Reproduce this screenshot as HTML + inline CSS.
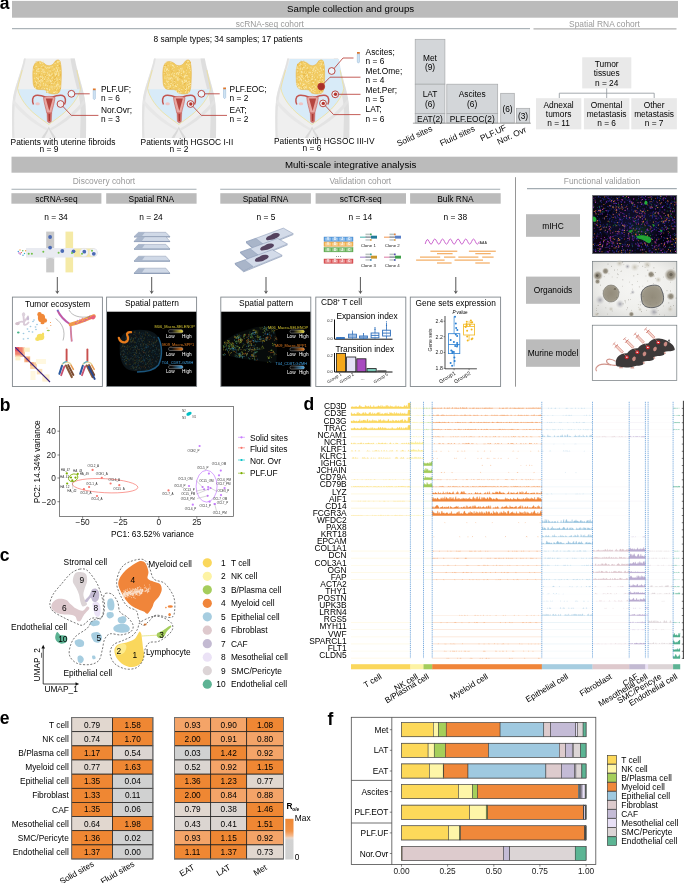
<!DOCTYPE html>
<html lang="en"><head><meta charset="utf-8"><title>Figure 1</title>
<style>html,body{margin:0;padding:0;background:#fff}svg{display:block}text{font-family:"Liberation Sans",sans-serif}</style></head>
<body>
<svg width="685" height="883" viewBox="0 0 685 883" font-family="Liberation Sans, sans-serif">
<rect width="685" height="883" fill="#fff"/>
<text x="-0.2" y="9.2" font-size="17.5" font-weight="bold">a</text>
<rect x="12.0" y="0.9" width="666.0" height="16.8" fill="#bbbbbb"/>
<text x="350.6" y="12.4" font-size="9.7" text-anchor="middle">Sample collection and groups</text>
<text x="269.8" y="26.6" font-size="8.4" text-anchor="middle" fill="#999">scRNA-seq cohort</text>
<line x1="12.0" y1="28.7" x2="530.0" y2="28.7" stroke="#98a2a8" stroke-width="1.0"/>
<text x="604.5" y="26.6" font-size="8.4" text-anchor="middle" fill="#999">Spatial RNA cohort</text>
<line x1="533.5" y1="28.9" x2="676.5" y2="28.9" stroke="#b0b0b0" stroke-width="1.1"/>
<text x="153.5" y="42.1" font-size="8.37">8 sample types; 34 samples; 17 patients</text>
<g transform="translate(0 0)">
<path d="M24 58.5H74.8C76.5 70 82 84 84.6 98C86.5 110 86.2 124 86 138H12.3C12 124 11.5 110 13 98C15.5 84 22 70 24 58.5Z" fill="#efefef"/>
<path d="M70.5 58.5H74.8C76.5 70 82 84 84.6 98C86.5 110 86.2 124 86 138H80C80.5 120 81.5 108 79 97C76 84 72 70 70.5 58.5Z" fill="#dedede"/>
<path d="M24 58.5C22 70 15.5 84 13 98C11.5 110 12 124 12.3 138H14.5C14 122 14 108 15.5 98C18 84 24 70 25.8 58.5Z" fill="#e2e2e2"/>
<path d="M48.8 126.5C46.5 131 43.5 134.5 41.5 138H44.5C46 134.5 48 131.5 48.8 129C49.6 131.5 51.6 134.5 53 138H56C54 134.5 51 131 48.8 126.5Z" fill="#d9d9d9"/>
<path d="M13.5 99C20 108 33 120 47.6 128.5L46.5 130.5C32 123 19 112 12.8 103Z" fill="#e7e7e7"/>
<path d="M84.3 99C78 108 65 120 50 128.5L51.1 130.5C65.5 123 78.5 112 85 103Z" fill="#e3e3e3"/>
<path d="M17.7 89.3H80.4C79 97.5 70.5 108 61.5 115C56.5 119 52 122 48.8 124.5C45.5 122 41 119 36 115C27 108 19 97.5 17.7 89.3Z" fill="#d8ebf8"/>
<path d="M22.2 70C20.5 77 18.5 83 17.6 88.5C19 97 27 108 36 115C41 119 45.5 122 48.8 124.5C52 122 56.5 119 61.5 115C70.5 108 79 97 80.5 88.5C79.5 83 78 77 76.8 70" fill="none" stroke="#efe08c" stroke-width="0.7"/>
<path d="M36 62.5C39 60.5 42 62 44.5 63.5C47 66.5 51.5 66.5 54 63C55.5 60 58.5 59 60 61C61.8 67 61.5 76 61 84C60.8 89 60 93.5 56.5 93.8C53 94.2 48 94 46.5 91C45.5 89 42 89.8 38.5 89.5C34.5 89.2 33 86 33 80C32.6 73 32.6 65 36 62.5Z" fill="#f1cb62"/>
<path d="M36 62.5C39 60.5 42 62 44.5 63.5C47 66.5 51.5 66.5 54 63C55.5 60 58.5 59 60 61C61.8 67 61.5 76 61 84C60.8 89 60 93.5 56.5 93.8C53 94.2 48 94 46.5 91C45.5 89 42 89.8 38.5 89.5C34.5 89.2 33 86 33 80C32.6 73 32.6 65 36 62.5Z" fill="none" stroke="#e3ae3c" stroke-width="0.5"/>
<path d="M54.2 69.2h.01M47.0 75.4h.01M51.2 86.2h.01M56.2 74.8h.01M45.6 84.1h.01M57.9 62.0h.01M34.3 78.3h.01M59.0 73.2h.01M34.4 68.1h.01M45.4 76.9h.01M39.9 68.4h.01M41.4 61.7h.01M56.2 78.8h.01M50.9 66.9h.01M36.9 71.6h.01M53.1 83.8h.01M58.9 74.5h.01M41.8 79.8h.01M57.4 88.1h.01M47.2 79.8h.01M55.1 74.3h.01M38.3 78.6h.01M52.6 82.6h.01M47.3 85.9h.01M47.7 73.6h.01M60.1 80.0h.01M47.2 92.4h.01M56.8 68.4h.01M47.5 91.5h.01M49.2 75.7h.01M59.4 61.2h.01M54.8 87.3h.01M57.5 84.7h.01M48.8 74.6h.01M49.0 67.4h.01M43.2 72.1h.01M48.1 81.0h.01M50.1 75.7h.01M38.4 79.7h.01M56.8 86.6h.01M55.1 87.1h.01M54.0 69.0h.01M42.9 63.2h.01M37.9 77.9h.01M38.1 69.7h.01M42.3 76.2h.01M34.2 73.4h.01M45.0 67.0h.01M47.4 67.7h.01M50.0 87.1h.01M37.9 83.5h.01M51.9 78.4h.01M39.6 81.8h.01M44.3 79.4h.01M42.3 81.2h.01M59.7 89.0h.01M41.9 88.5h.01M40.4 61.3h.01M57.3 62.2h.01M55.7 91.8h.01M57.0 92.2h.01M52.6 77.3h.01M43.8 72.1h.01M45.3 67.2h.01M36.4 82.3h.01M41.6 77.0h.01M57.9 61.6h.01M39.0 71.5h.01M60.3 86.0h.01M51.8 87.8h.01M58.8 72.0h.01M57.4 83.0h.01M39.9 84.2h.01M35.9 66.4h.01M58.2 67.8h.01M56.3 72.8h.01M42.8 70.3h.01M57.0 80.3h.01M37.3 78.6h.01M36.4 62.3h.01M35.6 88.7h.01M42.8 80.7h.01M54.7 73.1h.01M49.0 68.2h.01M57.7 79.1h.01M58.6 75.6h.01M41.1 86.2h.01M34.7 68.7h.01M36.7 66.4h.01M40.1 84.8h.01M58.1 70.4h.01M40.4 76.3h.01M36.3 81.9h.01M60.1 70.5h.01M49.7 75.4h.01M42.1 63.0h.01M59.8 64.6h.01M39.4 80.8h.01M60.1 78.4h.01M40.6 78.3h.01M41.9 68.9h.01M35.8 70.0h.01M51.2 81.6h.01M59.0 73.5h.01M41.9 71.5h.01M57.7 70.7h.01M42.6 78.4h.01M49.2 80.1h.01M40.2 63.3h.01M35.6 81.3h.01M46.9 88.6h.01M37.8 77.0h.01M55.1 63.5h.01M54.6 92.5h.01M55.8 71.2h.01M36.5 77.5h.01M57.7 65.5h.01M58.2 62.0h.01M56.3 84.9h.01M52.2 66.7h.01M40.4 63.1h.01M59.6 86.9h.01M48.4 78.3h.01M44.3 71.8h.01M40.6 61.8h.01M51.1 74.3h.01M43.2 65.4h.01M37.0 69.3h.01M56.0 73.7h.01M39.9 61.2h.01M47.9 77.0h.01M51.1 75.0h.01M40.0 76.8h.01M46.5 68.2h.01M44.7 78.9h.01M41.0 81.7h.01M47.4 89.1h.01M57.4 71.0h.01M52.3 88.2h.01M43.6 83.4h.01M56.7 89.7h.01M59.5 79.3h.01M38.4 69.0h.01M52.0 83.9h.01M43.0 77.5h.01M55.4 81.1h.01M54.5 87.9h.01M51.4 83.4h.01M55.3 74.9h.01M38.0 71.4h.01M49.8 74.1h.01M36.8 70.5h.01M40.3 85.0h.01M50.5 80.4h.01M56.2 67.6h.01M41.0 79.7h.01M40.4 82.9h.01M55.0 86.9h.01M46.9 88.4h.01M54.4 79.3h.01M43.9 70.1h.01M36.8 84.9h.01M48.3 91.9h.01M54.1 92.2h.01M49.1 71.0h.01M47.2 72.4h.01M41.8 73.8h.01M54.7 82.9h.01M46.9 81.7h.01M33.7 69.9h.01M49.8 89.2h.01M56.0 77.4h.01M56.1 74.1h.01M53.7 92.6h.01M41.8 66.5h.01M43.3 61.1h.01M44.1 74.6h.01M44.5 88.6h.01M57.8 85.0h.01M46.9 84.9h.01M50.9 81.8h.01M50.6 81.3h.01M58.9 86.0h.01M56.4 85.6h.01M43.0 69.5h.01M52.7 89.0h.01M47.4 84.8h.01M45.0 72.4h.01M47.3 91.3h.01M52.2 73.9h.01M52.2 80.4h.01M57.5 69.6h.01M35.6 87.6h.01M47.7 72.8h.01M38.2 81.9h.01M52.9 87.1h.01M40.9 80.5h.01M38.3 86.3h.01M57.0 71.5h.01M50.4 71.1h.01M45.3 85.4h.01M59.9 75.2h.01M58.3 84.3h.01M37.3 83.9h.01M43.3 85.0h.01M53.0 70.8h.01M36.5 73.7h.01M49.7 89.4h.01M39.4 62.1h.01M52.6 87.1h.01M42.8 87.8h.01M36.8 83.2h.01M36.2 73.8h.01M38.2 68.4h.01M55.7 75.8h.01M49.3 67.8h.01M49.6 90.1h.01" fill="none" stroke="#fbebb0" stroke-width="1.00" stroke-linecap="round"/>
<path d="M37.2 88.1h.01M36.1 61.9h.01M39.4 74.5h.01M39.5 75.7h.01M60.4 88.5h.01M56.0 82.4h.01M34.5 68.8h.01M43.7 75.0h.01M34.8 83.5h.01M54.4 78.3h.01M40.9 78.5h.01M55.4 77.6h.01M47.2 76.5h.01M34.4 68.3h.01M40.5 87.9h.01M36.6 81.0h.01M52.8 75.6h.01M37.6 84.0h.01M55.1 77.5h.01M35.2 70.6h.01M53.7 74.3h.01M39.2 82.6h.01M42.8 67.8h.01M46.7 92.5h.01M54.1 80.2h.01M59.4 89.4h.01M54.9 87.5h.01M35.8 69.5h.01M55.9 61.4h.01M60.3 74.5h.01M58.3 92.0h.01M52.2 82.2h.01M60.2 75.3h.01M42.2 88.1h.01M40.2 61.7h.01M41.5 86.3h.01M59.2 66.5h.01M58.4 70.4h.01M55.3 90.0h.01M52.9 82.4h.01M56.6 75.5h.01M44.4 80.6h.01M52.1 84.4h.01M58.1 90.4h.01M37.9 85.5h.01M53.5 80.0h.01M39.5 79.2h.01M38.0 84.4h.01M59.5 65.5h.01M59.8 73.2h.01M59.5 64.8h.01M33.7 67.1h.01M41.3 78.4h.01M59.9 78.5h.01M36.5 86.8h.01M37.3 77.0h.01M45.5 75.4h.01M43.8 67.5h.01M60.2 75.8h.01M50.3 78.0h.01M49.4 84.5h.01M50.6 74.0h.01M55.6 80.4h.01M56.1 76.5h.01M39.2 67.6h.01M47.4 84.6h.01M39.9 79.0h.01M52.7 88.0h.01M54.8 67.1h.01M50.0 69.4h.01M40.1 84.0h.01M38.6 62.8h.01M59.6 80.6h.01M47.0 73.1h.01M52.9 71.6h.01" fill="none" stroke="#e4ad38" stroke-width="0.76" stroke-linecap="round"/>
<path d="M49 98.3C44 96.5 40 94.5 35.5 95.5C32 96.5 32 101 33.5 104.5" fill="none" stroke="#c25550" stroke-width="1.5"/>
<path d="M49 98.3C54 96.5 58 94.5 62.5 95.5C66 96.5 66 101 64.5 104.5" fill="none" stroke="#c25550" stroke-width="1.5"/>
<ellipse cx="37.6" cy="103.7" rx="2.3" ry="1.5" fill="#f0c4c4"/><ellipse cx="60.3" cy="104.2" rx="2.3" ry="1.6" fill="#f0c4c4"/>
<path d="M43.5 97.5C46 96 52 96 55 97.5C54.5 103 52.5 108 51.5 113H46.8C45.8 108 44 103 43.5 97.5Z" fill="#e8a8a3" stroke="#c25550" stroke-width="0.6"/>
<path d="M45.8 98.5H52.8L49.3 111Z" fill="#b5453f"/>
<path d="M47 113H51.7L51.3 121.5C50.5 123 48.2 123 47.4 121.5Z" fill="#cf6f6a" stroke="#c25550" stroke-width="0.4"/>
<path d="M48.5 114H50.2L50 121H48.7Z" fill="#a83a35"/>
</g>
<g transform="translate(130 0)">
<path d="M24 58.5H74.8C76.5 70 82 84 84.6 98C86.5 110 86.2 124 86 138H12.3C12 124 11.5 110 13 98C15.5 84 22 70 24 58.5Z" fill="#efefef"/>
<path d="M70.5 58.5H74.8C76.5 70 82 84 84.6 98C86.5 110 86.2 124 86 138H80C80.5 120 81.5 108 79 97C76 84 72 70 70.5 58.5Z" fill="#dedede"/>
<path d="M24 58.5C22 70 15.5 84 13 98C11.5 110 12 124 12.3 138H14.5C14 122 14 108 15.5 98C18 84 24 70 25.8 58.5Z" fill="#e2e2e2"/>
<path d="M48.8 126.5C46.5 131 43.5 134.5 41.5 138H44.5C46 134.5 48 131.5 48.8 129C49.6 131.5 51.6 134.5 53 138H56C54 134.5 51 131 48.8 126.5Z" fill="#d9d9d9"/>
<path d="M13.5 99C20 108 33 120 47.6 128.5L46.5 130.5C32 123 19 112 12.8 103Z" fill="#e7e7e7"/>
<path d="M84.3 99C78 108 65 120 50 128.5L51.1 130.5C65.5 123 78.5 112 85 103Z" fill="#e3e3e3"/>
<path d="M17.7 89.3H80.4C79 97.5 70.5 108 61.5 115C56.5 119 52 122 48.8 124.5C45.5 122 41 119 36 115C27 108 19 97.5 17.7 89.3Z" fill="#d8ebf8"/>
<path d="M22.2 70C20.5 77 18.5 83 17.6 88.5C19 97 27 108 36 115C41 119 45.5 122 48.8 124.5C52 122 56.5 119 61.5 115C70.5 108 79 97 80.5 88.5C79.5 83 78 77 76.8 70" fill="none" stroke="#efe08c" stroke-width="0.7"/>
<path d="M36 62.5C39 60.5 42 62 44.5 63.5C47 66.5 51.5 66.5 54 63C55.5 60 58.5 59 60 61C61.8 67 61.5 76 61 84C60.8 89 60 93.5 56.5 93.8C53 94.2 48 94 46.5 91C45.5 89 42 89.8 38.5 89.5C34.5 89.2 33 86 33 80C32.6 73 32.6 65 36 62.5Z" fill="#f1cb62"/>
<path d="M36 62.5C39 60.5 42 62 44.5 63.5C47 66.5 51.5 66.5 54 63C55.5 60 58.5 59 60 61C61.8 67 61.5 76 61 84C60.8 89 60 93.5 56.5 93.8C53 94.2 48 94 46.5 91C45.5 89 42 89.8 38.5 89.5C34.5 89.2 33 86 33 80C32.6 73 32.6 65 36 62.5Z" fill="none" stroke="#e3ae3c" stroke-width="0.5"/>
<path d="M55.1 88.4h.01M42.2 73.3h.01M49.3 90.4h.01M58.3 61.5h.01M37.5 82.3h.01M37.1 75.8h.01M56.3 90.0h.01M41.0 64.8h.01M36.1 61.9h.01M50.8 84.8h.01M51.5 73.5h.01M50.6 92.0h.01M50.9 68.8h.01M49.5 72.2h.01M49.9 78.9h.01M45.1 82.2h.01M52.9 84.8h.01M56.7 88.3h.01M55.6 76.0h.01M34.7 78.0h.01M44.3 83.6h.01M57.4 61.8h.01M34.5 73.3h.01M53.4 71.0h.01M37.1 86.4h.01M41.8 74.6h.01M40.2 78.8h.01M42.5 71.8h.01M51.2 75.4h.01M60.3 84.0h.01M48.1 89.7h.01M56.1 70.3h.01M37.8 72.9h.01M42.9 79.4h.01M34.8 87.1h.01M51.2 71.0h.01M42.4 85.0h.01M47.1 77.8h.01M46.6 90.2h.01M58.6 92.0h.01M58.5 86.6h.01M37.2 77.8h.01M49.1 92.8h.01M53.8 72.6h.01M59.0 81.6h.01M44.5 75.9h.01M38.1 65.7h.01M52.2 79.0h.01M58.1 66.9h.01M35.0 64.2h.01M48.3 69.5h.01M36.5 69.4h.01M56.6 81.6h.01M38.3 88.6h.01M56.5 83.7h.01M49.7 88.7h.01M51.8 78.4h.01M59.1 86.5h.01M53.2 87.0h.01M39.0 84.9h.01M54.4 77.5h.01M46.8 73.9h.01M56.6 75.7h.01M38.7 70.6h.01M36.8 70.7h.01M57.6 84.9h.01M59.8 78.4h.01M47.8 78.3h.01M55.7 91.5h.01M44.6 81.2h.01M47.3 79.8h.01M48.4 92.3h.01M38.0 81.4h.01M48.9 72.8h.01M57.8 82.4h.01M56.5 73.3h.01M46.1 86.5h.01M43.7 85.0h.01M43.2 74.3h.01M34.1 66.5h.01M49.5 70.2h.01M60.5 69.3h.01M47.5 84.7h.01M54.6 76.5h.01M52.9 76.7h.01M59.8 83.9h.01M59.7 68.3h.01M34.3 69.1h.01M46.6 91.5h.01M56.1 63.9h.01M50.1 92.9h.01M48.4 78.1h.01M59.8 64.3h.01M48.5 74.4h.01M46.6 86.4h.01M56.8 86.2h.01M41.5 77.3h.01M58.0 64.7h.01M56.7 64.4h.01M39.0 77.7h.01M60.4 70.2h.01M48.3 67.9h.01M54.1 71.8h.01M58.6 92.0h.01M40.8 78.3h.01M45.5 85.3h.01M41.0 83.6h.01M38.9 78.9h.01M48.0 80.5h.01M37.6 74.2h.01M41.2 83.3h.01M43.5 76.1h.01M42.7 80.4h.01M35.2 71.4h.01M52.2 81.6h.01M55.5 89.5h.01M42.5 65.1h.01M37.4 69.2h.01M36.0 78.2h.01M52.1 68.2h.01M39.0 79.2h.01M57.5 74.5h.01M41.8 80.7h.01M35.9 68.2h.01M52.0 92.5h.01M42.5 65.5h.01M40.4 85.6h.01M35.7 84.2h.01M36.4 71.1h.01M40.9 62.6h.01M50.8 68.7h.01M52.0 69.8h.01M59.2 72.3h.01M55.3 81.5h.01M56.4 80.4h.01M51.9 80.9h.01M47.8 79.1h.01M48.1 73.6h.01M47.3 66.6h.01M39.4 74.9h.01M40.9 78.0h.01M46.4 73.9h.01M36.4 73.0h.01M48.3 88.0h.01M53.1 82.9h.01M34.4 70.9h.01M58.3 65.5h.01M57.3 67.9h.01M56.3 88.1h.01M37.9 88.2h.01M43.9 75.1h.01M36.8 80.2h.01M55.2 80.3h.01M58.4 81.6h.01M57.4 75.7h.01M54.6 80.2h.01M35.0 76.1h.01M34.6 83.5h.01M47.3 72.4h.01M58.1 82.0h.01M40.2 86.9h.01M40.1 79.0h.01M43.3 66.1h.01M42.9 82.0h.01M60.5 85.7h.01M43.8 70.4h.01M55.6 75.1h.01M52.5 81.3h.01M51.8 89.5h.01M38.2 81.6h.01M46.8 71.9h.01M43.9 87.7h.01M38.3 83.9h.01M59.8 82.0h.01M54.8 75.8h.01M46.3 76.8h.01M38.8 75.1h.01M48.2 79.3h.01M58.6 87.9h.01M36.5 61.8h.01M35.6 66.9h.01M54.3 82.4h.01M55.9 91.3h.01M34.1 73.7h.01M58.2 78.2h.01M55.3 92.4h.01M42.8 68.7h.01M54.5 90.9h.01M59.5 66.6h.01M45.1 86.4h.01M58.9 84.2h.01M52.5 83.1h.01M40.3 85.9h.01M36.8 81.6h.01M44.0 78.9h.01M60.0 68.7h.01M42.0 69.9h.01M60.2 83.6h.01M42.2 78.1h.01M45.7 77.1h.01M44.3 73.5h.01M39.0 87.1h.01M43.3 65.8h.01M54.7 80.9h.01M53.3 71.8h.01M37.5 69.2h.01M37.1 69.1h.01M38.9 86.7h.01M49.2 78.7h.01M44.2 67.3h.01" fill="none" stroke="#fbebb0" stroke-width="1.00" stroke-linecap="round"/>
<path d="M60.4 62.5h.01M35.1 73.1h.01M56.3 62.4h.01M52.1 88.1h.01M43.1 74.2h.01M53.1 85.1h.01M55.2 63.7h.01M55.4 88.4h.01M54.8 91.6h.01M56.1 83.4h.01M41.7 72.3h.01M42.4 71.5h.01M55.6 90.6h.01M54.8 83.5h.01M60.1 78.0h.01M44.7 84.3h.01M50.7 77.8h.01M34.2 72.8h.01M57.7 74.6h.01M60.6 69.2h.01M57.4 86.5h.01M49.0 78.6h.01M41.9 70.7h.01M60.5 84.6h.01M57.9 90.6h.01M46.6 71.8h.01M40.6 88.5h.01M52.3 74.9h.01M36.1 65.1h.01M44.4 84.2h.01M40.8 69.9h.01M44.1 82.4h.01M46.9 89.6h.01M60.3 82.0h.01M56.3 68.3h.01M49.8 91.7h.01M40.8 67.9h.01M52.3 78.1h.01M42.1 76.8h.01M52.6 79.0h.01M42.8 80.2h.01M34.4 65.4h.01M47.5 71.3h.01M57.1 74.0h.01M57.9 81.2h.01M48.3 69.0h.01M51.3 78.4h.01M40.9 82.3h.01M43.8 79.0h.01M44.6 80.4h.01M36.6 65.5h.01M55.3 87.2h.01M54.6 90.3h.01M35.1 74.9h.01M52.8 92.2h.01M36.3 71.7h.01M54.5 84.1h.01M37.6 73.0h.01M55.1 70.2h.01M50.7 84.6h.01M58.1 82.2h.01M49.4 77.4h.01M51.2 78.2h.01M50.9 76.3h.01M44.8 80.0h.01M48.9 88.0h.01M43.0 69.9h.01M48.1 67.3h.01" fill="none" stroke="#e4ad38" stroke-width="0.76" stroke-linecap="round"/>
<path d="M49 98.3C44 96.5 40 94.5 35.5 95.5C32 96.5 32 101 33.5 104.5" fill="none" stroke="#c25550" stroke-width="1.5"/>
<path d="M49 98.3C54 96.5 58 94.5 62.5 95.5C66 96.5 66 101 64.5 104.5" fill="none" stroke="#c25550" stroke-width="1.5"/>
<ellipse cx="37.6" cy="103.7" rx="2.3" ry="1.5" fill="#f0c4c4"/><ellipse cx="60.3" cy="104.2" rx="2.3" ry="1.6" fill="#f0c4c4"/>
<path d="M43.5 97.5C46 96 52 96 55 97.5C54.5 103 52.5 108 51.5 113H46.8C45.8 108 44 103 43.5 97.5Z" fill="#e8a8a3" stroke="#c25550" stroke-width="0.6"/>
<path d="M45.8 98.5H52.8L49.3 111Z" fill="#b5453f"/>
<path d="M47 113H51.7L51.3 121.5C50.5 123 48.2 123 47.4 121.5Z" fill="#cf6f6a" stroke="#c25550" stroke-width="0.4"/>
<path d="M48.5 114H50.2L50 121H48.7Z" fill="#a83a35"/>
</g>
<g transform="translate(263.3 0)">
<path d="M24 58.5H74.8C76.5 70 82 84 84.6 98C86.5 110 86.2 124 86 138H12.3C12 124 11.5 110 13 98C15.5 84 22 70 24 58.5Z" fill="#efefef"/>
<path d="M70.5 58.5H74.8C76.5 70 82 84 84.6 98C86.5 110 86.2 124 86 138H80C80.5 120 81.5 108 79 97C76 84 72 70 70.5 58.5Z" fill="#dedede"/>
<path d="M24 58.5C22 70 15.5 84 13 98C11.5 110 12 124 12.3 138H14.5C14 122 14 108 15.5 98C18 84 24 70 25.8 58.5Z" fill="#e2e2e2"/>
<path d="M48.8 126.5C46.5 131 43.5 134.5 41.5 138H44.5C46 134.5 48 131.5 48.8 129C49.6 131.5 51.6 134.5 53 138H56C54 134.5 51 131 48.8 126.5Z" fill="#d9d9d9"/>
<path d="M13.5 99C20 108 33 120 47.6 128.5L46.5 130.5C32 123 19 112 12.8 103Z" fill="#e7e7e7"/>
<path d="M84.3 99C78 108 65 120 50 128.5L51.1 130.5C65.5 123 78.5 112 85 103Z" fill="#e3e3e3"/>
<path d="M26.5 59C24.5 69 19.5 80 17.6 88.5C19 97 27 108 36 115C41 119 45.5 122 48.8 124.5C52 122 56.5 119 61.5 115C70.5 108 79 97 80.5 88.5C79.3 80 77.5 69 75.6 59Z" fill="#d8ebf8"/>
<path d="M22.2 70C20.5 77 18.5 83 17.6 88.5C19 97 27 108 36 115C41 119 45.5 122 48.8 124.5C52 122 56.5 119 61.5 115C70.5 108 79 97 80.5 88.5C79.5 83 78 77 76.8 70" fill="none" stroke="#efe08c" stroke-width="0.7"/>
<path d="M36 62.5C39 60.5 42 62 44.5 63.5C47 66.5 51.5 66.5 54 63C55.5 60 58.5 59 60 61C61.8 67 61.5 76 61 84C60.8 89 60 93.5 56.5 93.8C53 94.2 48 94 46.5 91C45.5 89 42 89.8 38.5 89.5C34.5 89.2 33 86 33 80C32.6 73 32.6 65 36 62.5Z" fill="#f1cb62"/>
<path d="M36 62.5C39 60.5 42 62 44.5 63.5C47 66.5 51.5 66.5 54 63C55.5 60 58.5 59 60 61C61.8 67 61.5 76 61 84C60.8 89 60 93.5 56.5 93.8C53 94.2 48 94 46.5 91C45.5 89 42 89.8 38.5 89.5C34.5 89.2 33 86 33 80C32.6 73 32.6 65 36 62.5Z" fill="none" stroke="#e3ae3c" stroke-width="0.5"/>
<path d="M52.0 79.9h.01M37.1 78.2h.01M35.6 68.7h.01M51.5 92.6h.01M43.2 87.8h.01M39.7 83.7h.01M36.0 87.5h.01M39.2 75.8h.01M41.4 86.9h.01M54.0 69.2h.01M35.2 87.5h.01M42.1 87.0h.01M36.4 88.3h.01M50.7 68.9h.01M39.2 77.2h.01M52.7 87.2h.01M37.2 83.9h.01M36.9 67.4h.01M54.2 73.1h.01M46.6 80.6h.01M51.7 90.5h.01M47.2 88.4h.01M59.7 85.6h.01M36.2 87.6h.01M37.1 78.9h.01M48.1 90.6h.01M58.1 64.0h.01M59.4 80.1h.01M38.7 77.3h.01M47.7 67.3h.01M60.1 85.9h.01M46.0 87.7h.01M58.1 70.1h.01M34.8 77.0h.01M60.3 87.7h.01M55.1 87.9h.01M51.0 73.6h.01M58.1 76.1h.01M58.2 76.3h.01M45.1 79.8h.01M42.2 65.8h.01M41.1 88.7h.01M54.9 85.8h.01M36.7 79.4h.01M42.7 72.8h.01M49.3 76.5h.01M50.7 88.1h.01M45.6 77.0h.01M37.9 71.4h.01M37.6 64.5h.01M55.8 92.9h.01M56.6 80.5h.01M48.5 79.4h.01M40.8 63.7h.01M41.2 84.2h.01M40.7 67.7h.01M53.5 70.6h.01M57.2 92.2h.01M55.8 63.4h.01M56.8 65.3h.01M45.5 72.6h.01M57.5 62.3h.01M49.5 82.2h.01M57.2 74.6h.01M36.7 65.2h.01M40.8 67.3h.01M53.1 68.0h.01M58.8 61.3h.01M40.4 78.7h.01M33.8 85.5h.01M35.9 87.1h.01M39.3 70.2h.01M46.8 72.9h.01M44.2 81.9h.01M52.1 70.5h.01M58.8 74.6h.01M50.5 82.3h.01M59.3 74.8h.01M52.7 72.0h.01M52.5 86.7h.01M59.3 87.6h.01M48.8 78.6h.01M52.0 79.4h.01M56.7 75.4h.01M46.3 87.6h.01M48.8 86.8h.01M50.0 69.3h.01M42.0 80.3h.01M57.7 68.4h.01M45.6 83.4h.01M58.6 83.3h.01M45.4 81.5h.01M43.2 86.1h.01M33.8 85.0h.01M34.0 71.8h.01M49.5 86.2h.01M57.1 67.7h.01M60.3 81.7h.01M37.1 83.1h.01M59.5 80.4h.01M52.5 66.9h.01M54.3 77.1h.01M49.1 72.7h.01M47.8 75.8h.01M57.0 63.4h.01M50.6 68.8h.01M44.3 67.7h.01M33.6 83.5h.01M41.9 76.9h.01M57.2 77.4h.01M42.2 80.3h.01M49.4 70.4h.01M33.9 70.9h.01M35.9 76.7h.01M47.1 88.8h.01M60.3 69.5h.01M43.7 68.4h.01M36.4 77.5h.01M58.5 92.3h.01M35.3 84.4h.01M33.8 78.2h.01M42.6 61.6h.01M33.8 67.8h.01M48.5 69.0h.01M39.9 67.7h.01M57.5 68.6h.01M42.5 74.0h.01M34.0 66.9h.01M50.9 85.4h.01M58.1 64.1h.01M55.1 89.1h.01M37.6 87.7h.01M41.3 72.0h.01M49.5 75.2h.01M55.0 82.3h.01M59.3 87.0h.01M39.5 70.2h.01M40.3 62.0h.01M40.4 67.2h.01M43.0 75.5h.01M50.2 88.7h.01M44.0 74.6h.01M40.2 87.6h.01M35.6 86.5h.01M57.5 78.0h.01M54.0 72.9h.01M45.9 72.3h.01M44.3 76.1h.01M38.1 79.1h.01M57.1 83.8h.01M37.6 75.6h.01M35.8 80.6h.01M40.0 81.6h.01M38.2 88.4h.01M48.4 89.4h.01M58.3 88.0h.01M60.2 84.2h.01M38.8 72.4h.01M59.6 77.2h.01M54.7 81.1h.01M51.6 71.9h.01M50.2 91.9h.01M39.3 68.9h.01M56.5 71.5h.01M36.2 65.3h.01M37.4 68.3h.01M42.0 77.3h.01M57.9 78.3h.01M49.3 76.2h.01M47.4 72.4h.01M39.1 85.4h.01M37.2 67.7h.01M38.0 72.6h.01M50.1 82.7h.01M57.0 63.8h.01M51.0 67.3h.01M56.2 82.5h.01M60.2 61.6h.01M42.1 76.4h.01M43.5 78.9h.01M37.3 63.2h.01M42.2 84.7h.01M49.9 89.5h.01M49.1 76.4h.01M56.8 61.6h.01M38.5 71.5h.01M42.1 87.7h.01M46.8 91.4h.01M41.6 81.3h.01M34.9 74.8h.01M43.2 81.9h.01M48.9 79.4h.01M50.0 82.6h.01M44.3 77.7h.01M48.9 89.0h.01M44.3 75.4h.01M40.2 84.4h.01M40.3 84.7h.01M34.6 77.2h.01M58.4 86.4h.01M48.8 76.9h.01M34.0 78.7h.01M38.1 79.8h.01M35.0 84.2h.01M55.8 75.0h.01M41.8 63.8h.01M54.1 72.4h.01M38.0 75.2h.01M48.9 92.0h.01M38.3 76.7h.01M33.8 68.5h.01M51.3 77.3h.01M60.3 92.8h.01M36.9 69.4h.01M50.3 70.9h.01M48.6 74.7h.01M38.2 80.7h.01M59.4 79.9h.01M54.9 70.0h.01M60.1 64.8h.01" fill="none" stroke="#fbebb0" stroke-width="1.00" stroke-linecap="round"/>
<path d="M53.8 73.2h.01M43.9 70.1h.01M43.0 78.1h.01M49.6 80.7h.01M59.4 81.1h.01M40.5 61.1h.01M40.8 81.4h.01M45.0 69.7h.01M39.4 87.3h.01M45.0 75.1h.01M38.4 65.7h.01M58.8 78.7h.01M49.5 88.2h.01M55.0 79.4h.01M48.5 81.4h.01M55.5 61.1h.01M42.2 77.3h.01M50.6 87.2h.01M41.1 76.4h.01M42.1 85.0h.01M59.9 67.3h.01M60.1 62.0h.01M34.5 77.9h.01M38.9 66.8h.01M34.2 64.4h.01M35.6 74.4h.01M47.1 76.3h.01M51.8 77.8h.01M34.8 75.6h.01M50.5 73.3h.01M53.6 70.8h.01M35.8 64.8h.01M41.5 74.5h.01M50.0 80.8h.01M53.7 89.1h.01M43.6 78.7h.01M48.4 69.8h.01M53.8 85.0h.01M56.6 63.1h.01M39.0 70.5h.01M48.6 75.5h.01M39.5 66.6h.01M37.7 62.4h.01M36.8 67.5h.01M40.4 74.5h.01M57.2 82.1h.01M57.3 90.1h.01M58.5 90.8h.01M34.1 65.1h.01M42.0 74.7h.01M38.6 78.1h.01M57.1 88.5h.01M34.5 69.7h.01M44.5 72.5h.01M58.0 78.3h.01M34.9 72.5h.01M42.8 79.4h.01M48.9 92.9h.01M35.3 82.1h.01M40.4 70.8h.01M58.6 68.0h.01M42.3 72.3h.01M56.1 92.1h.01M49.0 83.4h.01M48.8 84.7h.01M52.2 82.2h.01M56.1 91.5h.01M57.3 62.9h.01M60.4 71.6h.01M46.0 78.7h.01M37.8 61.2h.01" fill="none" stroke="#e4ad38" stroke-width="0.76" stroke-linecap="round"/>
<path d="M49 98.3C44 96.5 40 94.5 35.5 95.5C32 96.5 32 101 33.5 104.5" fill="none" stroke="#c25550" stroke-width="1.5"/>
<path d="M49 98.3C54 96.5 58 94.5 62.5 95.5C66 96.5 66 101 64.5 104.5" fill="none" stroke="#c25550" stroke-width="1.5"/>
<ellipse cx="37.6" cy="103.7" rx="2.3" ry="1.5" fill="#f0c4c4"/><ellipse cx="60.3" cy="104.2" rx="2.3" ry="1.6" fill="#f0c4c4"/>
<path d="M43.5 97.5C46 96 52 96 55 97.5C54.5 103 52.5 108 51.5 113H46.8C45.8 108 44 103 43.5 97.5Z" fill="#e8a8a3" stroke="#c25550" stroke-width="0.6"/>
<path d="M45.8 98.5H52.8L49.3 111Z" fill="#b5453f"/>
<path d="M47 113H51.7L51.3 121.5C50.5 123 48.2 123 47.4 121.5Z" fill="#cf6f6a" stroke="#c25550" stroke-width="0.4"/>
<path d="M48.5 114H50.2L50 121H48.7Z" fill="#a83a35"/>
</g>
<line x1="74.5" y1="93.8" x2="89.7" y2="93.8" stroke="#b5352f" stroke-width="0.8"/>
<circle cx="71.4" cy="93.8" r="3.4" fill="#fff" stroke="#b5352f" stroke-width="0.9" fill-opacity="0.55"/>
<path d="M62.7 106.2L71.4 115.4H98.4" fill="none" stroke="#b5352f" stroke-width="0.8"/>
<circle cx="60.5" cy="104.0" r="3.4" fill="#fff" stroke="#b5352f" stroke-width="0.9" fill-opacity="0.55"/>
<rect x="92.9" y="88.5" width="2.8" height="1.9" fill="#e0782a"/>
<path d="M93.2 90.4V98.5Q94.3 100.9 95.4 98.5V90.4Z" fill="#cfe4f4" stroke="#94b4d4" stroke-width="0.5"/>
<text x="101.0" y="92.2" font-size="8.35">PLF.UF;</text>
<text x="101.0" y="100.6" font-size="8.35">n = 6</text>
<text x="101.0" y="113.2" font-size="8.35">Nor.Ovr;</text>
<text x="101.0" y="122.0" font-size="8.35">n = 3</text>
<text x="10.6" y="145.2" font-size="8.4">Patients with uterine fibroids</text>
<text x="49.0" y="151.9" font-size="8.4" text-anchor="middle">n = 9</text>
<line x1="204.5" y1="93.8" x2="219.7" y2="93.8" stroke="#b5352f" stroke-width="0.8"/>
<circle cx="201.4" cy="93.8" r="3.4" fill="#fff" stroke="#b5352f" stroke-width="0.9" fill-opacity="0.55"/>
<path d="M192.7 106.2L201.4 115.4H227" fill="none" stroke="#b5352f" stroke-width="0.8"/>
<circle cx="190.5" cy="104.0" r="3.4" fill="#fff" stroke="#b5352f" stroke-width="0.9" fill-opacity="0.55"/>
<circle cx="190.8" cy="104.0" r="1.7" fill="#b5352f"/>
<rect x="223.2" y="87.5" width="2.8" height="1.9" fill="#e0782a"/>
<path d="M223.5 89.4V97.5Q224.6 99.9 225.7 97.5V89.4Z" fill="#cfe4f4" stroke="#94b4d4" stroke-width="0.5"/>
<text x="229.6" y="92.2" font-size="8.35">PLF.EOC;</text>
<text x="229.6" y="100.6" font-size="8.35">n = 2</text>
<text x="229.6" y="113.2" font-size="8.35">EAT;</text>
<text x="229.6" y="122.0" font-size="8.35">n = 2</text>
<text x="140.6" y="145.2" font-size="8.4">Patients with HGSOC I-II</text>
<text x="179.0" y="151.9" font-size="8.4" text-anchor="middle">n = 2</text>
<path d="M333.8 68.8L343 58H353.5" fill="none" stroke="#b5352f" stroke-width="0.8"/>
<circle cx="331.7" cy="71.0" r="3.4" fill="#fff" stroke="#b5352f" stroke-width="0.9" fill-opacity="0.55"/>
<path d="M323.2 84.2L330 77.2H360.5" fill="none" stroke="#b5352f" stroke-width="0.8"/>
<circle cx="321.2" cy="86.6" r="3.4" fill="#a8302a" stroke="#b5352f" stroke-width="0.9" fill-opacity="1"/>
<line x1="338.3" y1="94.3" x2="360.5" y2="94.3" stroke="#b5352f" stroke-width="0.8"/>
<circle cx="335.2" cy="94.3" r="3.4" fill="#fff" stroke="#b5352f" stroke-width="0.9" fill-opacity="0.55"/>
<circle cx="335.5" cy="94.3" r="1.7" fill="#b5352f"/>
<path d="M325.2 105.6L333.6 114.6H360.5" fill="none" stroke="#b5352f" stroke-width="0.8"/>
<circle cx="323.0" cy="103.4" r="3.4" fill="#fff" stroke="#b5352f" stroke-width="0.9" fill-opacity="0.55"/>
<circle cx="323.3" cy="103.4" r="1.7" fill="#b5352f"/>
<rect x="357.0" y="52.0" width="2.8" height="1.9" fill="#e0782a"/>
<path d="M357.3 53.9V62.0Q358.4 64.4 359.5 62.0V53.9Z" fill="#cfe4f4" stroke="#94b4d4" stroke-width="0.5"/>
<text x="365.6" y="55.2" font-size="8.35">Ascites;</text>
<text x="365.6" y="63.6" font-size="8.35">n = 6</text>
<text x="365.6" y="74.2" font-size="8.35">Met.Ome;</text>
<text x="365.6" y="82.9" font-size="8.35">n = 4</text>
<text x="365.6" y="93.1" font-size="8.35">Met.Per;</text>
<text x="365.6" y="102.2" font-size="8.35">n = 5</text>
<text x="365.6" y="112.0" font-size="8.35">LAT;</text>
<text x="365.6" y="121.5" font-size="8.35">n = 6</text>
<text x="274.0" y="144.2" font-size="8.4">Patients with HGSOC III-IV</text>
<text x="312.0" y="151.2" font-size="8.4" text-anchor="middle">n = 6</text>
<rect x="415.2" y="39.3" width="29.7" height="44.9" fill="#d3d6d9" stroke="#a6a8aa" stroke-width="0.7"/>
<rect x="415.2" y="84.2" width="29.7" height="29.2" fill="#d3d6d9" stroke="#a6a8aa" stroke-width="0.7"/>
<rect x="415.2" y="113.4" width="29.7" height="9.6" fill="#d3d6d9" stroke="#a6a8aa" stroke-width="0.7"/>
<rect x="446.8" y="84.2" width="50.9" height="29.2" fill="#d3d6d9" stroke="#a6a8aa" stroke-width="0.7"/>
<rect x="446.8" y="113.4" width="50.9" height="9.6" fill="#d3d6d9" stroke="#a6a8aa" stroke-width="0.7"/>
<rect x="500.7" y="93.3" width="13.6" height="29.7" fill="#d3d6d9" stroke="#a6a8aa" stroke-width="0.7"/>
<rect x="516.4" y="108.3" width="13.3" height="14.7" fill="#d3d6d9" stroke="#a6a8aa" stroke-width="0.7"/>
<line x1="412.9" y1="123.2" x2="530.9" y2="123.2" stroke="#999" stroke-width="0.9"/>
<text x="430.0" y="60.5" font-size="8.35" text-anchor="middle">Met</text>
<text x="430.0" y="70.0" font-size="8.35" text-anchor="middle">(9)</text>
<text x="430.0" y="96.8" font-size="8.35" text-anchor="middle">LAT</text>
<text x="430.0" y="106.8" font-size="8.35" text-anchor="middle">(6)</text>
<text x="430.0" y="121.5" font-size="8.35" text-anchor="middle">EAT(2)</text>
<text x="472.2" y="96.8" font-size="8.35" text-anchor="middle">Ascites</text>
<text x="472.2" y="106.8" font-size="8.35" text-anchor="middle">(6)</text>
<text x="472.2" y="121.5" font-size="8.35" text-anchor="middle">PLF.EOC(2)</text>
<text x="507.5" y="111.8" font-size="8.35" text-anchor="middle">(6)</text>
<text x="523.0" y="119.3" font-size="8.35" text-anchor="middle">(3)</text>
<text x="433.0" y="130.5" font-size="8.35" text-anchor="end" transform="rotate(-25 433.0 130.5)">Solid sites</text>
<text x="475.5" y="130.5" font-size="8.35" text-anchor="end" transform="rotate(-25 475.5 130.5)">Fluid sites</text>
<text x="507.0" y="129.5" font-size="8.35" text-anchor="end" transform="rotate(-25 507.0 129.5)">PLF.UF</text>
<text x="527.0" y="131.5" font-size="8.35" text-anchor="end" transform="rotate(-25 527.0 131.5)">Nor. Ovr</text>
<rect x="582.2" y="57.3" width="49.1" height="31.1" fill="#e9e9e9"/>
<path d="M606.7 88.4V98.2M559.3 98.2V93.2H654.2V98.2" fill="none" stroke="#8d9499" stroke-width="0.8"/>
<rect x="536.0" y="98.2" width="45.3" height="31.1" fill="#e9e9e9"/>
<rect x="583.9" y="98.2" width="45.5" height="31.1" fill="#e9e9e9"/>
<rect x="631.3" y="98.2" width="45.6" height="31.1" fill="#e9e9e9"/>
<text x="606.7" y="66.9" font-size="8.35" text-anchor="middle">Tumor</text>
<text x="606.7" y="76.2" font-size="8.35" text-anchor="middle">tissues</text>
<text x="606.7" y="85.6" font-size="8.35" text-anchor="middle">n = 24</text>
<text x="558.6" y="107.6" font-size="8.35" text-anchor="middle">Adnexal</text>
<text x="558.6" y="116.9" font-size="8.35" text-anchor="middle">tumors</text>
<text x="558.6" y="126.3" font-size="8.35" text-anchor="middle">n = 11</text>
<text x="606.6" y="107.6" font-size="8.35" text-anchor="middle">Omental</text>
<text x="606.6" y="116.9" font-size="8.35" text-anchor="middle">metastasis</text>
<text x="606.6" y="126.3" font-size="8.35" text-anchor="middle">n = 6</text>
<text x="654.1" y="107.6" font-size="8.35" text-anchor="middle">Other</text>
<text x="654.1" y="116.9" font-size="8.35" text-anchor="middle">metastasis</text>
<text x="654.1" y="126.3" font-size="8.35" text-anchor="middle">n = 7</text>
<rect x="11.5" y="156.7" width="666.0" height="16.0" fill="#bbbbbb"/>
<text x="350.6" y="168.2" font-size="9.7" text-anchor="middle">Multi-scale integrative analysis</text>
<text x="104.0" y="184.3" font-size="8.4" text-anchor="middle" fill="#999">Discovery cohort</text>
<line x1="11.5" y1="189.3" x2="196.5" y2="189.3" stroke="#a3acb2" stroke-width="1.1"/>
<text x="360.3" y="184.3" font-size="8.4" text-anchor="middle" fill="#999">Validation cohort</text>
<line x1="220.2" y1="189.3" x2="500.2" y2="189.3" stroke="#a3acb2" stroke-width="1.1"/>
<text x="602.0" y="184.3" font-size="8.4" text-anchor="middle" fill="#999">Functional validation</text>
<line x1="527.0" y1="188.6" x2="676.8" y2="188.6" stroke="#a3acb2" stroke-width="1.1"/>
<line x1="515.5" y1="177.2" x2="515.5" y2="386.7" stroke="#8a8a8a" stroke-width="0.9"/>
<rect x="11.4" y="193.2" width="90.0" height="10.5" fill="#bbbbbb"/>
<text x="56.4" y="202.1" font-size="8.4" text-anchor="middle">scRNA-seq</text>
<rect x="106.2" y="193.2" width="90.4" height="10.5" fill="#bbbbbb"/>
<text x="151.4" y="202.1" font-size="8.4" text-anchor="middle">Spatial RNA</text>
<rect x="220.3" y="193.2" width="90.6" height="10.5" fill="#bbbbbb"/>
<text x="265.6" y="202.1" font-size="8.4" text-anchor="middle">Spatial RNA</text>
<rect x="315.6" y="193.2" width="90.4" height="10.5" fill="#bbbbbb"/>
<text x="360.8" y="202.1" font-size="8.4" text-anchor="middle">scTCR-seq</text>
<rect x="410.1" y="193.2" width="90.6" height="10.5" fill="#bbbbbb"/>
<text x="455.4" y="202.1" font-size="8.4" text-anchor="middle">Bulk RNA</text>
<text x="56.0" y="219.5" font-size="8.4" text-anchor="middle">n = 34</text>
<text x="151.0" y="219.5" font-size="8.4" text-anchor="middle">n = 24</text>
<text x="266.0" y="219.5" font-size="8.4" text-anchor="middle">n = 5</text>
<text x="360.3" y="219.5" font-size="8.4" text-anchor="middle">n = 14</text>
<text x="455.3" y="219.5" font-size="8.4" text-anchor="middle">n = 38</text>
<line x1="57.3" y1="277.0" x2="57.3" y2="292.0" stroke="#555" stroke-width="1"/>
<path d="M55.1 290.5L57.3 294.0L59.5 290.5L57.3 291.7Z" fill="#555"/>
<line x1="151.7" y1="277.0" x2="151.7" y2="292.0" stroke="#555" stroke-width="1"/>
<path d="M149.5 290.5L151.7 294.0L153.9 290.5L151.7 291.7Z" fill="#555"/>
<line x1="266.0" y1="277.0" x2="266.0" y2="292.0" stroke="#555" stroke-width="1"/>
<path d="M263.8 290.5L266.0 294.0L268.2 290.5L266.0 291.7Z" fill="#555"/>
<line x1="360.4" y1="277.0" x2="360.4" y2="292.0" stroke="#555" stroke-width="1"/>
<path d="M358.2 290.5L360.4 294.0L362.6 290.5L360.4 291.7Z" fill="#555"/>
<line x1="455.8" y1="277.0" x2="455.8" y2="292.0" stroke="#555" stroke-width="1"/>
<path d="M453.6 290.5L455.8 294.0L458.0 290.5L455.8 291.7Z" fill="#555"/>
<rect x="46.2" y="231.6" width="8.0" height="40.8" fill="#c9c9c9"/>
<rect x="65.5" y="231.6" width="7.6" height="40.8" fill="#f5eaa6"/>
<path d="M26 248H93A4.7 4.7 0 0 1 93 257.4H26Z" fill="#e9ebf1"/>
<path d="M46.2 257.4H54.2V259C52 257.6 49 257.5 46.2 259.5Z" fill="#e9ebf1"/>
<rect x="74.2" y="248.6" width="20.0" height="8.2" fill="#f5eaa6"/>
<circle cx="84.0" cy="252.5" r="4.2" fill="#f3f4f8" stroke="#d8dae2" stroke-width="0.4"/>
<circle cx="93.4" cy="252.5" r="4.0" fill="#f3f4f8" stroke="#d8dae2" stroke-width="0.4"/>
<circle cx="50.1" cy="237.0" r="1.9" fill="#4a6ab5"/>
<circle cx="50.1" cy="247.6" r="1.9" fill="#4a6ab5"/>
<circle cx="62.3" cy="251.0" r="1.9" fill="#4a6ab5"/>
<circle cx="73.5" cy="251.3" r="1.9" fill="#4a6ab5"/>
<circle cx="84.3" cy="251.7" r="1.9" fill="#4a6ab5"/>
<circle cx="93.8" cy="253.8" r="1.9" fill="#4a6ab5"/>
<circle cx="28.7" cy="253.8" r="1.0" fill="#6fc045"/>
<circle cx="31.9" cy="253.8" r="1.0" fill="#6fc045"/>
<circle cx="43.3" cy="251.7" r="1.0" fill="#6fc045"/>
<circle cx="58.6" cy="252.7" r="1.0" fill="#6fc045"/>
<circle cx="72.0" cy="252.9" r="1.0" fill="#6fc045"/>
<circle cx="82.0" cy="253.8" r="1.0" fill="#6fc045"/>
<circle cx="92.0" cy="250.8" r="1.0" fill="#6fc045"/>
<circle cx="18.3" cy="251.5" r="0.7" fill="#3a9ad9"/>
<circle cx="20.0" cy="250.0" r="0.7" fill="#f0a040"/>
<circle cx="21.3" cy="252.6" r="0.7" fill="#e05050"/>
<circle cx="20.2" cy="254.0" r="0.7" fill="#9050c0"/>
<circle cx="22.8" cy="250.8" r="0.7" fill="#50b050"/>
<circle cx="24.5" cy="253.5" r="0.7" fill="#30b0c0"/>
<circle cx="23.0" cy="255.2" r="0.7" fill="#3a9ad9"/>
<circle cx="25.6" cy="250.8" r="0.7" fill="#f0a040"/>
<circle cx="19.0" cy="253.0" r="0.7" fill="#c050c0"/>
<path d="M138.5 232.3H165.8L170 236.7H134Z" fill="#d0d9e7" stroke="#8b99b0" stroke-width="0.5"/>
<line x1="134.0" y1="236.9" x2="170.0" y2="236.9" stroke="#7f90ad" stroke-width="0.9"/>
<path d="M138.5 232.3H145L141.5 236.7H134Z" fill="#a9b6cb"/>
<path d="M138.5 236.7H165.8L170 241.4H134Z" fill="#d0d9e7" stroke="#8b99b0" stroke-width="0.5"/>
<line x1="134.0" y1="241.6" x2="170.0" y2="241.6" stroke="#7f90ad" stroke-width="0.9"/>
<path d="M138.5 236.7H145L141.5 241.4H134Z" fill="#a9b6cb"/>
<path d="M138.5 244.3H165.8L170 249.0H134Z" fill="#d0d9e7" stroke="#8b99b0" stroke-width="0.5"/>
<line x1="134.0" y1="249.2" x2="170.0" y2="249.2" stroke="#7f90ad" stroke-width="0.9"/>
<path d="M138.5 244.3H145L141.5 249.0H134Z" fill="#a9b6cb"/>
<path d="M138.5 256.2H165.8L170 261.0H134Z" fill="#d0d9e7" stroke="#8b99b0" stroke-width="0.5"/>
<line x1="134.0" y1="261.2" x2="170.0" y2="261.2" stroke="#7f90ad" stroke-width="0.9"/>
<path d="M138.5 256.2H145L141.5 261.0H134Z" fill="#a9b6cb"/>
<path d="M138.5 268.2H165.8L170 273.2H134Z" fill="#d0d9e7" stroke="#8b99b0" stroke-width="0.5"/>
<line x1="134.0" y1="273.4" x2="170.0" y2="273.4" stroke="#7f90ad" stroke-width="0.9"/>
<path d="M138.5 268.2H145L141.5 273.2H134Z" fill="#a9b6cb"/>
<g transform="translate(0 0)">
<path d="M246 241.9L283.4 228.1L293.3 233.7L254.8 249.4Z" fill="#d3dbe9" stroke="#8293b0" stroke-width="0.5"/>
<path d="M246 242.6L254.8 250.2L293.3 234.5" fill="none" stroke="#7487a8" stroke-width="0.6"/>
<path d="M246 241.9L256 238.4L264.1 244.8L254.8 249.4Z" fill="#a9b5c9" stroke="#8293b0" stroke-width="0.4"/>
<path d="M266 238.4C267.5 235.6 270.5 235.8 272 234.2C274.5 232.6 278.6 232.8 279.8 234.6C279.6 237 277 237.6 275 238.8C272.6 240.4 270 239.6 268 240.2C266.6 240.2 265.8 239.4 266 238.4Z" fill="#54425f"/>
</g>
<g transform="translate(-5.8 10.3)">
<path d="M246 241.9L283.4 228.1L293.3 233.7L254.8 249.4Z" fill="#d3dbe9" stroke="#8293b0" stroke-width="0.5"/>
<path d="M246 242.6L254.8 250.2L293.3 234.5" fill="none" stroke="#7487a8" stroke-width="0.6"/>
<path d="M246 241.9L256 238.4L264.1 244.8L254.8 249.4Z" fill="#a9b5c9" stroke="#8293b0" stroke-width="0.4"/>
<path d="M266 238.4C267.5 235.6 270.5 235.8 272 234.2C274.5 232.6 278.6 232.8 279.8 234.6C279.6 237 277 237.6 275 238.8C272.6 240.4 270 239.6 268 240.2C266.6 240.2 265.8 239.4 266 238.4Z" fill="#54425f"/>
</g>
<g transform="translate(-11.1 21.6)">
<path d="M246 241.9L283.4 228.1L293.3 233.7L254.8 249.4Z" fill="#d3dbe9" stroke="#8293b0" stroke-width="0.5"/>
<path d="M246 242.6L254.8 250.2L293.3 234.5" fill="none" stroke="#7487a8" stroke-width="0.6"/>
<path d="M246 241.9L256 238.4L264.1 244.8L254.8 249.4Z" fill="#a9b5c9" stroke="#8293b0" stroke-width="0.4"/>
<path d="M266 238.4C267.5 235.6 270.5 235.8 272 234.2C274.5 232.6 278.6 232.8 279.8 234.6C279.6 237 277 237.6 275 238.8C272.6 240.4 270 239.6 268 240.2C266.6 240.2 265.8 239.4 266 238.4Z" fill="#54425f"/>
</g>
<rect x="324.0" y="237.0" width="29.0" height="4.3" fill="#5a9fe2" stroke="#3f7fc4" stroke-width="0.4"/>
<rect x="325.2" y="237.6" width="5.6" height="3.1" fill="#ffffff" fill-opacity="0.38" rx="0.6"/>
<text x="328.0" y="240.3" font-size="3.2" text-anchor="middle" font-weight="bold" fill="#fff">V</text>
<rect x="332.2" y="237.6" width="5.6" height="3.1" fill="#ffffff" fill-opacity="0.38" rx="0.6"/>
<text x="335.1" y="240.3" font-size="3.2" text-anchor="middle" font-weight="bold" fill="#fff">D</text>
<rect x="339.3" y="237.6" width="5.6" height="3.1" fill="#ffffff" fill-opacity="0.38" rx="0.6"/>
<text x="342.1" y="240.3" font-size="3.2" text-anchor="middle" font-weight="bold" fill="#fff">J</text>
<rect x="346.3" y="237.6" width="5.6" height="3.1" fill="#ffffff" fill-opacity="0.38" rx="0.6"/>
<text x="349.1" y="240.3" font-size="3.2" text-anchor="middle" font-weight="bold" fill="#fff">C</text>
<rect x="324.0" y="242.0" width="29.0" height="4.3" fill="#f3b354" stroke="#d8953a" stroke-width="0.4"/>
<rect x="325.2" y="242.6" width="5.6" height="3.1" fill="#ffffff" fill-opacity="0.38" rx="0.6"/>
<text x="328.0" y="245.3" font-size="3.2" text-anchor="middle" font-weight="bold" fill="#fff">V</text>
<rect x="332.2" y="242.6" width="5.6" height="3.1" fill="#ffffff" fill-opacity="0.38" rx="0.6"/>
<text x="335.1" y="245.3" font-size="3.2" text-anchor="middle" font-weight="bold" fill="#fff">D</text>
<rect x="339.3" y="242.6" width="5.6" height="3.1" fill="#ffffff" fill-opacity="0.38" rx="0.6"/>
<text x="342.1" y="245.3" font-size="3.2" text-anchor="middle" font-weight="bold" fill="#fff">J</text>
<rect x="346.3" y="242.6" width="5.6" height="3.1" fill="#ffffff" fill-opacity="0.38" rx="0.6"/>
<text x="349.1" y="245.3" font-size="3.2" text-anchor="middle" font-weight="bold" fill="#fff">C</text>
<rect x="324.0" y="247.6" width="29.0" height="4.3" fill="#68b458" stroke="#4c9640" stroke-width="0.4"/>
<rect x="325.2" y="248.2" width="5.6" height="3.1" fill="#ffffff" fill-opacity="0.38" rx="0.6"/>
<text x="328.0" y="250.9" font-size="3.2" text-anchor="middle" font-weight="bold" fill="#fff">V</text>
<rect x="332.2" y="248.2" width="5.6" height="3.1" fill="#ffffff" fill-opacity="0.38" rx="0.6"/>
<text x="335.1" y="250.9" font-size="3.2" text-anchor="middle" font-weight="bold" fill="#fff">D</text>
<rect x="339.3" y="248.2" width="5.6" height="3.1" fill="#ffffff" fill-opacity="0.38" rx="0.6"/>
<text x="342.1" y="250.9" font-size="3.2" text-anchor="middle" font-weight="bold" fill="#fff">J</text>
<rect x="346.3" y="248.2" width="5.6" height="3.1" fill="#ffffff" fill-opacity="0.38" rx="0.6"/>
<text x="349.1" y="250.9" font-size="3.2" text-anchor="middle" font-weight="bold" fill="#fff">C</text>
<rect x="324.0" y="259.0" width="29.0" height="4.3" fill="#de5658" stroke="#c03a3c" stroke-width="0.4"/>
<rect x="325.2" y="259.6" width="5.6" height="3.1" fill="#ffffff" fill-opacity="0.38" rx="0.6"/>
<text x="328.0" y="262.3" font-size="3.2" text-anchor="middle" font-weight="bold" fill="#fff">V</text>
<rect x="332.2" y="259.6" width="5.6" height="3.1" fill="#ffffff" fill-opacity="0.38" rx="0.6"/>
<text x="335.1" y="262.3" font-size="3.2" text-anchor="middle" font-weight="bold" fill="#fff">D</text>
<rect x="339.3" y="259.6" width="5.6" height="3.1" fill="#ffffff" fill-opacity="0.38" rx="0.6"/>
<text x="342.1" y="262.3" font-size="3.2" text-anchor="middle" font-weight="bold" fill="#fff">J</text>
<rect x="346.3" y="259.6" width="5.6" height="3.1" fill="#ffffff" fill-opacity="0.38" rx="0.6"/>
<text x="349.1" y="262.3" font-size="3.2" text-anchor="middle" font-weight="bold" fill="#fff">C</text>
<text x="338.5" y="257.2" font-size="7" text-anchor="middle" fill="#333">...</text>
<rect x="360.0" y="236.7" width="6.5" height="0.9" fill="#2aa7a0"/>
<rect x="365.5" y="233.6" width="6.0" height="1.6" fill="#b8c4c0"/>
<rect x="370.0" y="233.6" width="1.6" height="1.6" fill="#3fa65a"/>
<rect x="365.5" y="236.3" width="6.0" height="1.7" fill="#9aa0a8"/>
<rect x="371.0" y="235.7" width="6.0" height="2.9" fill="#1f7a9a"/>
<rect x="365.5" y="239.2" width="6.0" height="1.5" fill="#c4c8c8"/>
<rect x="370.0" y="239.2" width="1.6" height="1.5" fill="#e8a23c"/>
<text x="368.3" y="247.1" font-size="4.4" text-anchor="middle" fill="#222">Clone 1</text>
<rect x="384.0" y="236.7" width="6.5" height="0.9" fill="#f08a3c"/>
<rect x="389.5" y="233.6" width="6.0" height="1.6" fill="#b8c4c0"/>
<rect x="394.0" y="233.6" width="1.6" height="1.6" fill="#e8843c"/>
<rect x="389.5" y="236.3" width="6.0" height="1.7" fill="#9aa0a8"/>
<rect x="395.0" y="235.7" width="6.0" height="2.9" fill="#5a80c8"/>
<rect x="389.5" y="239.2" width="6.0" height="1.5" fill="#c4c8c8"/>
<rect x="394.0" y="239.2" width="1.6" height="1.5" fill="#e8a23c"/>
<text x="392.2" y="247.1" font-size="4.4" text-anchor="middle" fill="#222">Clone 2</text>
<rect x="360.0" y="256.7" width="6.5" height="0.9" fill="#9a70c8"/>
<rect x="365.5" y="253.6" width="6.0" height="1.6" fill="#b8c4c0"/>
<rect x="370.0" y="253.6" width="1.6" height="1.6" fill="#2aa7a0"/>
<rect x="365.5" y="256.3" width="6.0" height="1.7" fill="#9aa0a8"/>
<rect x="371.0" y="255.7" width="6.0" height="2.9" fill="#c8962a"/>
<rect x="365.5" y="259.2" width="6.0" height="1.5" fill="#c4c8c8"/>
<rect x="370.0" y="259.2" width="1.6" height="1.5" fill="#3a8ac0"/>
<text x="368.3" y="267.2" font-size="4.4" text-anchor="middle" fill="#222">Clone 3</text>
<rect x="384.0" y="256.7" width="6.5" height="0.9" fill="#d86a9a"/>
<rect x="389.5" y="253.6" width="6.0" height="1.6" fill="#b8c4c0"/>
<rect x="394.0" y="253.6" width="1.6" height="1.6" fill="#5a4ab8"/>
<rect x="389.5" y="256.3" width="6.0" height="1.7" fill="#9aa0a8"/>
<rect x="395.0" y="255.7" width="6.0" height="2.9" fill="#3fa04a"/>
<rect x="389.5" y="259.2" width="6.0" height="1.5" fill="#c4c8c8"/>
<rect x="394.0" y="259.2" width="1.6" height="1.5" fill="#3a4ab0"/>
<text x="392.2" y="267.2" font-size="4.4" text-anchor="middle" fill="#222">Clone 4</text>
<path d="M425.2 244Q427.1 236.5 429.1 241.6T432.9 241.6T436.8 241.6T440.7 241.6T444.5 241.6T448.4 241.6T452.2 241.6T456.1 241.6T460.0 241.6T463.8 241.6T467.7 241.6T471.6 241.6T475.4 241.6T479.3 241.6" fill="none" stroke="#c553c8" stroke-width="0.9"/>
<text x="479.5" y="244.0" font-size="3.4" font-weight="bold" fill="#444">AAA</text>
<line x1="430.4" y1="251.2" x2="457.3" y2="251.2" stroke="#f2a350" stroke-width="1.1"/>
<line x1="468.9" y1="251.2" x2="495.8" y2="251.2" stroke="#f2a350" stroke-width="1.1"/>
<line x1="437.0" y1="253.7" x2="452.6" y2="253.7" stroke="#f2a350" stroke-width="1.1"/>
<line x1="475.3" y1="253.7" x2="490.7" y2="253.7" stroke="#f2a350" stroke-width="1.1"/>
<line x1="420.0" y1="257.1" x2="440.2" y2="257.1" stroke="#f2a350" stroke-width="1.1"/>
<line x1="444.0" y1="257.1" x2="455.4" y2="257.1" stroke="#f2a350" stroke-width="1.1"/>
<line x1="458.3" y1="257.1" x2="478.4" y2="257.1" stroke="#f2a350" stroke-width="1.1"/>
<line x1="482.2" y1="257.1" x2="493.6" y2="257.1" stroke="#f2a350" stroke-width="1.1"/>
<line x1="416.1" y1="260.1" x2="444.6" y2="260.1" stroke="#f2a350" stroke-width="1.1"/>
<line x1="454.5" y1="260.1" x2="483.0" y2="260.1" stroke="#f2a350" stroke-width="1.1"/>
<line x1="437.0" y1="263.0" x2="451.6" y2="263.0" stroke="#f2a350" stroke-width="1.1"/>
<line x1="475.3" y1="263.0" x2="489.8" y2="263.0" stroke="#f2a350" stroke-width="1.1"/>
<rect x="12.4" y="297.1" width="90.0" height="89.4" fill="#fff" stroke="#80878c" stroke-width="0.9"/>
<text x="57.6" y="306.8" font-size="8.25" text-anchor="middle">Tumor ecosystem</text>
<ellipse cx="41.5" cy="318.0" rx="3.6" ry="4.2" fill="#f08838"/>
<ellipse cx="44.5" cy="320.5" rx="2.6" ry="2.2" fill="#f08838"/>
<ellipse cx="39.5" cy="314.5" rx="2.2" ry="2.4" fill="#f08838"/>
<ellipse cx="42.5" cy="323.0" rx="2.0" ry="1.2" fill="#f08838"/>
<ellipse cx="40.5" cy="337.0" rx="3.8" ry="3.2" fill="#f6df62"/>
<ellipse cx="37.5" cy="339.0" rx="2.4" ry="2.0" fill="#f6df62"/>
<ellipse cx="43.0" cy="334.0" rx="1.2" ry="1.5" fill="#f6df62"/>
<path d="M23.6 313.5C23 318 24.5 321 24 324.5M24 322C21 321 18.5 322 16.5 324M24.2 321.5C26 319 27.5 318.5 28 316.5M24 324.5C25.5 325.5 27 324.5 28.5 322.5" fill="none" stroke="#dacbd8" stroke-width="1.9" stroke-linecap="round"/>
<ellipse cx="17.5" cy="323.6" rx="2.2" ry="1.7" fill="#d3c0cb"/>
<ellipse cx="23.6" cy="314.4" rx="1.7" ry="1.9" fill="#ddd2dc"/>
<ellipse cx="28.0" cy="318.5" rx="1.1" ry="2.0" fill="#c8bad4"/>
<ellipse cx="18.3" cy="332.5" rx="1.3" ry="0.9" fill="#45b388"/>
<ellipse cx="48.3" cy="330.5" rx="1.6" ry="0.8" fill="#9ccb52"/>
<ellipse cx="33.0" cy="321.5" rx="0.9" ry="0.8" fill="#9dc8e0"/>
<ellipse cx="35.5" cy="327.0" rx="0.9" ry="0.8" fill="#9dc8e0"/>
<ellipse cx="37.0" cy="324.5" rx="0.9" ry="0.8" fill="#9dc8e0"/>
<ellipse cx="30.5" cy="326.5" rx="0.9" ry="0.8" fill="#9dc8e0"/>
<ellipse cx="27.5" cy="329.0" rx="0.9" ry="0.8" fill="#9dc8e0"/>
<ellipse cx="23.5" cy="333.5" rx="0.9" ry="0.8" fill="#9dc8e0"/>
<ellipse cx="29.0" cy="331.5" rx="0.9" ry="0.8" fill="#9dc8e0"/>
<ellipse cx="32.5" cy="332.0" rx="0.9" ry="0.8" fill="#9dc8e0"/>
<ellipse cx="23.5" cy="339.0" rx="0.9" ry="0.8" fill="#9dc8e0"/>
<ellipse cx="28.0" cy="338.5" rx="0.9" ry="0.8" fill="#9dc8e0"/>
<ellipse cx="36.0" cy="329.5" rx="0.9" ry="0.8" fill="#9dc8e0"/>
<ellipse cx="34.0" cy="320.0" rx="0.9" ry="0.8" fill="#9dc8e0"/>
<ellipse cx="50.5" cy="322.5" rx="0.5" ry="0.5" fill="#f08838"/>
<ellipse cx="50.8" cy="325.5" rx="0.5" ry="0.5" fill="#f08838"/>
<ellipse cx="47.0" cy="328.0" rx="0.5" ry="0.5" fill="#f08838"/>
<path d="M57.3 310C60 316 65 321 70.5 324.5" fill="none" stroke="#b060c8" stroke-width="2"/>
<path d="M57.5 310.5C60 316 65 321 70.5 324.5" fill="none" stroke="#e05a6a" stroke-width="0.8"/>
<path d="M70.5 324.5C71 331 71 336 71.8 341.5" fill="none" stroke="#c070d0" stroke-width="1.8"/>
<path d="M70.5 324.5C71 331 71 336 71.8 341.5" fill="none" stroke="#f0a040" stroke-width="0.6"/>
<path d="M70.5 324.5C77 323 85 320 94 316" fill="none" stroke="#f09a4a" stroke-width="3.6" stroke-linecap="round"/>
<path d="M75 323.5C80 322 88 319 94.5 316.5" fill="none" stroke="#e8607a" stroke-width="1.4"/>
<path d="M90 318C92 315 95 314 95.5 317C95 320 92 320 90 318Z" fill="#e8607a"/>
<path d="M57 310.2L58.2 309.4L58.6 312Z" fill="#3a7ad0"/>
<circle cx="81.8" cy="318.9" r="0.5" fill="#e8607a"/>
<circle cx="76.9" cy="323.6" r="0.5" fill="#f6d04a"/>
<circle cx="82.6" cy="318.2" r="0.5" fill="#e8607a"/>
<circle cx="79.9" cy="319.3" r="0.5" fill="#b060c8"/>
<circle cx="77.3" cy="320.3" r="0.5" fill="#b060c8"/>
<circle cx="77.1" cy="322.4" r="0.5" fill="#f6d04a"/>
<circle cx="87.4" cy="318.8" r="0.5" fill="#f6d04a"/>
<circle cx="86.4" cy="318.3" r="0.5" fill="#f6d04a"/>
<circle cx="76.8" cy="323.8" r="0.5" fill="#b060c8"/>
<circle cx="83.5" cy="320.0" r="0.5" fill="#e8607a"/>
<circle cx="81.6" cy="321.9" r="0.5" fill="#f6d04a"/>
<circle cx="77.9" cy="322.2" r="0.5" fill="#f6d04a"/>
<circle cx="82.7" cy="320.3" r="0.5" fill="#f6d04a"/>
<circle cx="86.2" cy="319.4" r="0.5" fill="#b060c8"/>
<circle cx="88.2" cy="317.8" r="0.5" fill="#b060c8"/>
<circle cx="84.4" cy="321.4" r="0.5" fill="#b060c8"/>
<circle cx="81.4" cy="321.9" r="0.5" fill="#e8607a"/>
<circle cx="90.0" cy="315.6" r="0.5" fill="#b060c8"/>
<circle cx="85.5" cy="320.8" r="0.5" fill="#e8607a"/>
<circle cx="84.1" cy="320.1" r="0.5" fill="#f6d04a"/>
<circle cx="78.1" cy="321.4" r="0.5" fill="#b060c8"/>
<circle cx="78.7" cy="321.5" r="0.5" fill="#f6d04a"/>
<path d="M69 310C72 316 80 318.5 90 316.5" fill="none" stroke="#555" stroke-width="0.4"/>
<path d="M55.5 318.5C62 323 66 331 63 340.5" fill="none" stroke="#555" stroke-width="0.4"/>
<g>
<rect x="15.2" y="347.3" width="9.6" height="9.6" fill="#f8b890"/>
<rect x="15.2" y="347.3" width="7.4" height="7.4" fill="#f08070"/>
<rect x="15.2" y="347.3" width="4.0" height="4.0" fill="#e45060"/>
<rect x="24.2" y="347.6" width="5.6" height="4.2" fill="#fdf0c8"/>
<rect x="15.4" y="356.4" width="5.0" height="4.0" fill="#fdf0c8"/>
<rect x="24.2" y="356.3" width="6.0" height="6.0" fill="#f9c090"/>
<rect x="25.5" y="357.6" width="4.0" height="4.0" fill="#f08a6a"/>
<rect x="30.2" y="362.3" width="6.6" height="6.6" fill="#fbd0a0"/>
<rect x="30.2" y="362.3" width="3.4" height="3.4" fill="#f4a070"/>
<rect x="36.8" y="368.9" width="5.5" height="5.5" fill="#fde2b8"/>
<rect x="42.3" y="374.4" width="7.2" height="7.2" fill="#fef0d0"/>
<rect x="30.5" y="371.0" width="5.0" height="9.0" fill="#fff8e0"/>
<rect x="36.0" y="359.0" width="10.0" height="5.0" fill="#fff8e0"/>
<line x1="15.2" y1="347.3" x2="50.0" y2="382.0" stroke="#3a2480" stroke-width="1.1"/>
</g>
<g transform="translate(0 0)" stroke-linecap="round">
<line x1="66.6" y1="349.5" x2="66.6" y2="361.5" stroke="#c8504e" stroke-width="1.9"/>
<path d="M62 364.5C63.5 361.5 69.5 361.5 71 364.5" fill="none" stroke="#e8d8a0" stroke-width="1.3"/>
<path d="M63.2 363.2C64.8 361.9 66 361.6 66.6 361.5" fill="none" stroke="#58b0c8" stroke-width="1.2"/>
<line x1="62.0" y1="365.8" x2="59.4" y2="373.8" stroke="#2a5aa0" stroke-width="2.1"/>
<line x1="64.4" y1="366.4" x2="61.2" y2="375.2" stroke="#c8506e" stroke-width="1.8"/>
<line x1="66.0" y1="365.6" x2="71.8" y2="377.0" stroke="#8a5a3a" stroke-width="2.2"/>
<line x1="68.2" y1="365.0" x2="73.4" y2="375.0" stroke="#7a4a30" stroke-width="1.9"/>
<line x1="71.0" y1="365.2" x2="73.4" y2="369.4" stroke="#e89a50" stroke-width="1.5"/>
</g>
<g transform="translate(20.8 0)" stroke-linecap="round">
<line x1="66.6" y1="349.5" x2="66.6" y2="361.5" stroke="#c8504e" stroke-width="1.9"/>
<path d="M62 364.5C63.5 361.5 69.5 361.5 71 364.5" fill="none" stroke="#e8d8a0" stroke-width="1.3"/>
<path d="M63.2 363.2C64.8 361.9 66 361.6 66.6 361.5" fill="none" stroke="#58b0c8" stroke-width="1.2"/>
<line x1="62.0" y1="365.8" x2="59.4" y2="373.8" stroke="#2a5aa0" stroke-width="2.1"/>
<line x1="64.4" y1="366.4" x2="61.2" y2="375.2" stroke="#c8506e" stroke-width="1.8"/>
<line x1="66.0" y1="365.6" x2="71.8" y2="377.0" stroke="#8a5a3a" stroke-width="2.2"/>
<line x1="68.2" y1="365.0" x2="73.4" y2="375.0" stroke="#7a4a30" stroke-width="1.9"/>
<line x1="71.0" y1="365.2" x2="73.4" y2="369.4" stroke="#e89a50" stroke-width="1.5"/>
</g>
<line x1="88.3" y1="366.0" x2="95.0" y2="379.6" stroke="#2a4a90" stroke-width="2.0"/>
<rect x="106.6" y="297.1" width="90.0" height="89.4" fill="#fff" stroke="#80878c" stroke-width="0.9"/>
<rect x="107.0" y="311.7" width="89.2" height="74.4" fill="#000"/>
<text x="151.9" y="306.3" font-size="8.4" text-anchor="middle">Spatial pattern</text>
<path d="M124 333.5C130 329.5 140 329 148 330.5C155 332 160 337 161.5 344C163 352 162 361 157 366.5C151 371.5 140 372.5 131 370.5C124 369 120.5 362 120 354C119.5 346 119 338 124 333.5Z" fill="#0b1419"/>
<path d="M158 337C162 344 163 356 158.5 365C154 370.5 146 372 137 372" fill="none" stroke="#2576ac" stroke-width="1.5" opacity="0.7"/>
<path d="M141.3 361.8h.01M127.8 359.2h.01M149.4 351.0h.01M142.1 340.7h.01M135.0 360.6h.01M129.8 343.1h.01M134.2 332.2h.01M135.7 347.8h.01M138.8 339.7h.01M130.3 364.3h.01M149.1 341.6h.01M133.7 340.5h.01M159.7 353.7h.01M121.8 351.4h.01M135.0 352.6h.01M149.1 361.2h.01M146.0 331.9h.01M132.4 341.6h.01M131.0 368.7h.01M138.9 368.0h.01M136.8 351.3h.01M134.4 354.6h.01M137.6 348.9h.01M134.3 332.0h.01M126.6 360.5h.01M157.0 340.5h.01M144.7 337.8h.01M159.5 349.8h.01M126.1 357.6h.01M147.5 363.4h.01M126.0 360.5h.01M143.4 340.4h.01M125.9 340.9h.01M134.2 354.4h.01M139.2 341.2h.01M156.5 341.5h.01M126.1 358.2h.01M142.0 361.4h.01M139.6 332.6h.01M134.9 367.9h.01M148.0 343.7h.01M123.1 345.8h.01M134.9 360.1h.01M135.0 370.1h.01M155.0 341.9h.01M123.7 341.3h.01M145.1 334.0h.01M134.8 342.8h.01M126.4 347.2h.01M139.8 333.2h.01M127.7 345.7h.01M146.5 355.1h.01M131.8 337.8h.01M134.5 346.8h.01M146.1 364.7h.01M128.6 359.1h.01M143.3 344.9h.01M127.3 349.3h.01M132.5 340.5h.01M130.6 349.0h.01M133.5 339.1h.01M153.5 343.3h.01M134.2 363.6h.01M123.1 350.6h.01M127.2 346.2h.01M133.3 359.0h.01M141.5 357.3h.01M146.6 358.5h.01M141.1 355.0h.01M139.9 337.0h.01M129.0 346.7h.01M135.2 342.5h.01M125.0 346.8h.01M126.1 364.0h.01M135.9 362.3h.01M139.6 357.5h.01M155.2 342.4h.01M136.0 366.7h.01M136.3 367.7h.01M145.3 344.4h.01M153.0 350.3h.01M148.5 335.5h.01M134.2 357.1h.01M148.5 352.1h.01M142.7 336.7h.01" fill="none" stroke="#c8b02c" stroke-width="0.84" stroke-linecap="round" opacity="0.28"/>
<path d="M122.5 356.5h.01M143.7 352.5h.01M137.2 340.1h.01M127.0 358.3h.01M140.5 344.1h.01M149.9 359.7h.01M133.9 368.8h.01M136.2 346.1h.01M143.4 358.2h.01M144.3 341.9h.01M148.5 355.2h.01M135.5 352.7h.01M137.3 365.3h.01M153.0 345.0h.01M132.6 365.5h.01M128.2 337.6h.01M148.3 346.6h.01M141.4 340.7h.01M136.5 350.2h.01M153.6 346.3h.01M126.2 362.1h.01M129.9 359.7h.01M146.5 347.8h.01M131.1 366.3h.01M125.2 348.7h.01M144.6 355.3h.01M138.5 364.7h.01M125.9 338.0h.01M136.6 367.7h.01M127.7 358.6h.01M126.0 339.0h.01M147.1 345.4h.01M145.8 346.2h.01M124.0 346.5h.01M123.6 350.7h.01M151.7 343.2h.01M143.8 359.3h.01M137.5 348.0h.01M134.2 334.5h.01M142.9 363.5h.01M136.5 353.6h.01M139.5 353.3h.01M145.3 349.1h.01M127.7 357.0h.01M146.6 346.9h.01M126.8 342.3h.01M147.1 346.8h.01M131.1 355.7h.01M141.2 339.5h.01M130.3 358.6h.01M141.1 355.7h.01M148.8 346.0h.01M152.5 350.3h.01M129.6 336.8h.01M144.4 360.8h.01M141.0 344.9h.01M132.6 356.5h.01M138.7 365.6h.01M132.6 347.3h.01M148.2 334.3h.01M155.6 360.9h.01M145.2 353.2h.01M134.6 349.0h.01M151.0 362.7h.01M135.2 347.7h.01M146.9 347.7h.01M132.8 367.3h.01M147.3 337.0h.01M125.0 349.7h.01M155.2 345.6h.01M135.6 369.5h.01M140.8 338.9h.01M141.1 348.6h.01M128.7 360.9h.01M136.4 357.2h.01M143.8 334.3h.01M154.1 338.3h.01M135.3 337.3h.01M124.6 346.5h.01M124.3 359.5h.01M145.4 347.4h.01M150.8 364.0h.01M154.8 337.3h.01M141.7 361.9h.01M149.4 356.6h.01M157.8 354.2h.01M153.0 344.9h.01M148.4 366.8h.01M146.1 344.9h.01M145.0 359.9h.01M140.7 335.4h.01M141.6 333.8h.01M138.2 357.6h.01M135.1 353.9h.01M140.6 368.9h.01M124.3 352.0h.01M140.5 355.0h.01M133.0 350.4h.01M127.1 348.1h.01M126.1 363.2h.01M137.4 346.6h.01M158.2 345.8h.01M139.3 331.9h.01M156.8 354.3h.01M145.4 358.1h.01M133.9 355.8h.01M140.3 362.5h.01M142.1 337.2h.01M136.7 343.1h.01M156.2 349.3h.01M127.1 338.2h.01M123.7 353.9h.01M158.9 350.7h.01M149.9 342.0h.01M120.2 353.1h.01M144.3 361.0h.01M158.0 356.4h.01M152.9 356.3h.01M155.3 353.2h.01M131.6 345.2h.01M147.7 359.1h.01M143.1 356.9h.01M156.4 362.0h.01M122.4 359.4h.01M122.5 351.1h.01M151.0 347.3h.01" fill="none" stroke="#3788c0" stroke-width="0.84" stroke-linecap="round" opacity="0.28"/>
<path d="M125.8 340.6h.01M133.1 339.4h.01M141.5 338.4h.01M140.9 366.6h.01M151.3 360.1h.01M141.4 367.8h.01M142.8 351.6h.01M135.1 333.9h.01M140.1 353.1h.01M135.5 332.0h.01M136.3 336.3h.01M156.3 339.3h.01M122.8 346.9h.01M133.1 361.9h.01M153.9 342.9h.01M149.4 344.5h.01M152.7 359.6h.01M135.7 335.6h.01M123.1 355.1h.01M130.0 359.3h.01M158.1 349.0h.01M143.9 348.4h.01M155.6 345.4h.01M139.0 349.3h.01M140.6 338.5h.01M135.3 357.2h.01M143.2 344.2h.01M131.7 342.5h.01M138.8 349.6h.01M135.9 355.6h.01M143.4 367.0h.01M151.6 344.1h.01M148.1 344.8h.01M131.0 358.2h.01M123.3 354.1h.01M136.8 359.3h.01M149.3 341.8h.01M150.3 366.3h.01M136.9 337.5h.01M144.4 366.2h.01M145.5 367.3h.01M139.6 359.7h.01M143.4 362.1h.01M139.8 365.7h.01M125.3 343.2h.01M155.9 361.2h.01M135.3 349.6h.01M148.7 366.1h.01M125.9 341.0h.01M150.1 351.0h.01M143.6 352.0h.01M147.3 345.6h.01M133.7 342.0h.01M148.5 355.5h.01M152.3 362.5h.01M156.5 357.9h.01M140.8 358.7h.01M137.3 347.1h.01M142.0 341.9h.01M136.4 353.1h.01M151.3 367.0h.01M126.7 364.2h.01M147.4 332.5h.01M145.4 367.8h.01M134.9 367.2h.01M143.6 352.7h.01M151.9 341.5h.01M124.7 354.0h.01M145.7 335.3h.01M152.7 339.9h.01M133.5 334.3h.01M139.1 334.3h.01M139.0 361.4h.01M143.2 356.9h.01M145.0 352.6h.01M139.6 349.9h.01M131.4 337.8h.01M124.2 347.0h.01M129.2 364.5h.01M130.2 335.9h.01M130.8 341.4h.01M136.7 369.8h.01M140.4 344.4h.01M144.7 352.3h.01M148.1 362.2h.01" fill="none" stroke="#c8661c" stroke-width="0.84" stroke-linecap="round" opacity="0.28"/>
<path d="M125.8 355.4h.01M133.7 345.3h.01M129.9 339.4h.01M120.7 354.7h.01M139.3 353.3h.01M139.6 349.0h.01M141.8 338.1h.01M125.1 352.6h.01M146.6 369.5h.01M123.4 360.1h.01M147.3 350.0h.01M140.2 345.7h.01M146.5 355.1h.01M147.8 357.8h.01M135.5 338.2h.01M155.5 353.9h.01M124.5 351.3h.01M143.1 344.9h.01M138.7 360.2h.01M136.6 342.8h.01M139.6 368.0h.01M126.7 337.4h.01M145.9 332.3h.01M136.8 355.7h.01M123.8 349.1h.01M153.7 356.9h.01M156.0 342.4h.01M130.0 367.1h.01M133.7 350.0h.01M144.2 355.4h.01M155.2 361.5h.01M153.8 337.5h.01M143.4 333.1h.01M127.9 348.4h.01M129.7 337.9h.01M147.8 357.1h.01M125.5 363.7h.01M132.1 352.5h.01M125.2 347.0h.01M126.5 342.8h.01M124.8 356.8h.01M131.9 342.0h.01M133.1 360.3h.01M149.4 336.0h.01M123.7 343.5h.01M139.3 338.8h.01M142.9 356.4h.01M125.2 359.0h.01M141.6 336.6h.01M139.5 352.0h.01M146.8 351.4h.01M126.1 353.5h.01M122.9 345.6h.01M148.7 339.9h.01M153.6 337.4h.01M152.8 354.0h.01M150.1 358.8h.01M138.9 349.2h.01M136.7 362.1h.01M136.3 360.8h.01M138.3 339.6h.01M145.6 362.5h.01M159.8 355.0h.01M135.7 354.0h.01M142.1 332.9h.01M136.4 345.7h.01M141.4 343.7h.01M153.1 343.2h.01M140.3 337.0h.01M150.0 335.2h.01M130.3 342.2h.01M154.0 336.8h.01M150.7 361.3h.01M148.4 352.2h.01M154.5 339.9h.01M135.2 364.3h.01M150.4 348.5h.01M157.3 346.3h.01M143.9 350.7h.01M142.7 341.6h.01M144.7 350.2h.01M128.0 341.1h.01M141.3 346.2h.01M144.3 350.2h.01M141.4 350.9h.01M146.0 346.2h.01M147.7 347.1h.01M148.7 347.3h.01M129.3 353.2h.01M146.1 344.1h.01M151.5 352.5h.01M122.5 356.7h.01M142.3 341.0h.01M150.5 360.6h.01M131.6 358.7h.01M137.5 341.9h.01M133.3 368.9h.01M154.1 364.1h.01M137.2 369.1h.01M155.0 351.1h.01M130.9 342.1h.01M136.4 369.3h.01M130.7 346.6h.01M138.8 360.5h.01M124.7 360.2h.01M154.4 351.8h.01M142.2 346.1h.01M149.8 363.8h.01" fill="none" stroke="#2c6c88" stroke-width="0.84" stroke-linecap="round" opacity="0.28"/>
<path d="M156.0 347.4h.01M130.9 338.2h.01M123.0 357.7h.01M136.7 350.7h.01M142.7 342.9h.01M158.9 351.1h.01M147.9 369.5h.01M142.5 360.9h.01M135.0 346.0h.01M148.9 364.4h.01M122.9 344.2h.01M120.8 348.3h.01M150.1 339.5h.01M143.3 346.1h.01M150.0 363.3h.01M149.3 342.5h.01M132.9 367.9h.01M124.8 346.0h.01M136.8 352.6h.01M148.3 355.9h.01M123.1 344.4h.01M130.9 339.9h.01M139.5 367.4h.01M145.0 368.9h.01M127.5 349.7h.01M124.1 341.8h.01M140.2 359.9h.01M122.1 346.6h.01M130.8 339.8h.01M154.7 354.5h.01M127.0 365.0h.01M132.2 347.3h.01M147.9 359.6h.01M143.2 350.6h.01M140.1 370.1h.01M127.7 347.7h.01M125.0 356.5h.01M152.5 346.6h.01M131.2 357.7h.01M136.6 366.9h.01M134.8 346.9h.01M124.7 359.6h.01M129.0 350.8h.01M144.5 338.3h.01M129.2 362.9h.01M145.3 353.7h.01M133.1 368.8h.01M122.4 346.4h.01M147.3 340.0h.01M133.6 338.5h.01M142.0 345.9h.01M149.7 334.6h.01M134.8 362.3h.01M150.3 345.0h.01M144.2 339.2h.01M145.1 334.8h.01M152.0 366.1h.01M152.0 363.7h.01M120.9 354.8h.01M135.0 362.7h.01M121.0 353.1h.01M128.8 347.4h.01M135.0 332.3h.01M152.8 365.4h.01M137.1 352.9h.01M127.5 353.4h.01M152.3 342.8h.01M149.7 360.5h.01M156.2 347.6h.01M133.4 350.0h.01M126.6 356.3h.01M141.6 350.1h.01M138.0 360.8h.01M140.5 361.6h.01M134.4 337.7h.01M122.4 345.9h.01M136.4 351.0h.01M157.4 359.4h.01M125.3 358.6h.01M138.9 333.3h.01M124.0 351.2h.01M123.9 351.3h.01M132.5 359.8h.01M141.8 358.9h.01M122.7 343.1h.01M127.6 352.6h.01M123.0 349.0h.01M132.2 366.7h.01M134.8 341.3h.01M135.2 363.1h.01M135.2 337.4h.01M150.0 358.4h.01M130.1 352.4h.01M138.5 363.2h.01M142.3 335.2h.01M139.7 360.4h.01M140.7 345.4h.01M143.8 343.8h.01M133.4 368.2h.01M149.8 354.3h.01M150.3 335.7h.01M124.4 361.8h.01M137.6 363.3h.01M133.9 355.1h.01M127.3 361.7h.01M139.0 353.5h.01M144.7 365.2h.01M131.5 347.7h.01M151.4 355.7h.01M129.1 351.4h.01M124.2 361.4h.01M132.6 366.3h.01M144.2 348.5h.01M130.3 340.7h.01M122.2 354.8h.01M142.1 366.4h.01M158.8 356.1h.01M130.8 341.4h.01" fill="none" stroke="#7c7420" stroke-width="0.84" stroke-linecap="round" opacity="0.28"/>
<path d="M145.9 364.2h.01M138.2 356.7h.01M125.3 363.9h.01M145.6 364.3h.01M148.4 355.1h.01M137.9 359.1h.01M156.4 349.0h.01M153.4 357.8h.01M158.9 356.4h.01M135.8 347.4h.01M138.5 338.6h.01M149.5 367.7h.01M129.5 360.7h.01M137.4 366.4h.01M131.3 338.8h.01M125.1 356.3h.01M138.5 362.7h.01M156.8 361.1h.01M137.0 333.1h.01M120.5 354.7h.01M153.5 346.3h.01M143.5 360.0h.01M135.5 346.6h.01M142.4 348.9h.01M133.7 347.5h.01M145.9 363.3h.01M137.6 356.2h.01M138.9 357.7h.01M152.2 351.8h.01M122.0 342.7h.01M155.0 344.0h.01M140.2 346.5h.01M146.2 352.8h.01M127.3 341.5h.01M127.0 340.1h.01M143.9 360.3h.01M133.4 364.2h.01M144.2 343.4h.01M149.8 356.4h.01M135.6 356.1h.01M125.8 356.6h.01M131.1 353.4h.01M141.7 348.3h.01M122.2 342.9h.01M144.9 347.5h.01M136.6 345.8h.01M151.3 344.4h.01M130.9 339.8h.01M142.2 360.5h.01M156.7 340.6h.01M149.3 356.2h.01M121.5 347.7h.01M143.4 338.4h.01M135.5 363.9h.01M151.6 336.5h.01M126.7 337.0h.01M152.9 352.2h.01M154.6 349.8h.01M133.3 352.6h.01M128.0 354.6h.01M151.5 364.3h.01M153.3 342.3h.01M129.7 346.2h.01M138.2 355.2h.01M154.8 337.2h.01M146.7 344.8h.01M142.3 349.5h.01M138.5 343.8h.01M144.3 359.8h.01M137.2 361.1h.01M134.9 341.8h.01M126.0 349.5h.01M150.3 359.6h.01M123.8 357.5h.01M130.4 339.2h.01M123.8 354.5h.01M148.5 361.7h.01M156.5 348.1h.01M125.1 363.0h.01M139.1 368.1h.01M147.7 333.6h.01M155.1 351.3h.01M133.6 366.7h.01M132.9 358.9h.01M133.2 338.7h.01M158.3 349.8h.01M138.1 341.1h.01M148.9 359.7h.01M131.6 341.7h.01M144.6 350.7h.01M133.7 367.7h.01M153.6 350.5h.01M139.3 360.9h.01M153.0 345.5h.01M139.7 341.8h.01M126.1 338.4h.01M146.4 347.8h.01M135.2 338.4h.01" fill="none" stroke="#4a9898" stroke-width="0.84" stroke-linecap="round" opacity="0.28"/>
<path d="M118.8 337.8C119.5 341 122.5 343 125.5 342.2C128.8 341 128.4 337.4 127.2 335.2C126.4 333.2 128.4 331.6 131 332.2" fill="none" stroke="#e87c1c" stroke-width="2.3" stroke-linecap="round"/>
<defs>
<linearGradient id="sg00"><stop offset="0" stop-color="#000"/><stop offset="0.25" stop-color="#111"/><stop offset="1" stop-color="#e8d838"/></linearGradient>
<linearGradient id="sg01"><stop offset="0" stop-color="#000"/><stop offset="0.25" stop-color="#111"/><stop offset="1" stop-color="#e87a1c"/></linearGradient>
<linearGradient id="sg02"><stop offset="0" stop-color="#000"/><stop offset="0.25" stop-color="#111"/><stop offset="1" stop-color="#48a8e8"/></linearGradient>
</defs>
<text x="154.6" y="328.3" font-size="3.9" fill="#d8c832">M06_Macro-SELENOP</text>
<rect x="168.5" y="329.7" width="14.4" height="3.1" rx="1.5" fill="url(#sg00)" stroke="#d8d8d8" stroke-width="0.35"/>
<text x="166.0" y="337.6" font-size="4.7" fill="#fff">Low</text>
<text x="182.0" y="337.6" font-size="4.7" fill="#fff">High</text>
<text x="162.3" y="346.0" font-size="3.9" fill="#e07a20">M09_Macro-SPP1</text>
<rect x="168.5" y="347.4" width="14.4" height="3.1" rx="1.5" fill="url(#sg01)" stroke="#d8d8d8" stroke-width="0.35"/>
<text x="166.0" y="355.6" font-size="4.7" fill="#fff">Low</text>
<text x="182.0" y="355.6" font-size="4.7" fill="#fff">High</text>
<text x="161.8" y="364.0" font-size="3.9" fill="#3fa0e0">T04_CD8T-GZMH</text>
<rect x="168.5" y="365.5" width="14.4" height="3.1" rx="1.5" fill="url(#sg02)" stroke="#d8d8d8" stroke-width="0.35"/>
<text x="166.0" y="373.3" font-size="4.7" fill="#fff">Low</text>
<text x="182.0" y="373.3" font-size="4.7" fill="#fff">High</text>
<rect x="220.8" y="297.1" width="90.0" height="89.4" fill="#fff" stroke="#80878c" stroke-width="0.9"/>
<rect x="221.2" y="311.7" width="89.2" height="74.4" fill="#000"/>
<text x="266.1" y="306.3" font-size="8.4" text-anchor="middle">Spatial pattern</text>
<path d="M222.9 342L236 333.5L256 327L273.5 325.5L277.5 340L276.3 363L258 361L240 358.5L229 356Z" fill="#070b0b"/>
<path d="M249.1 349.4h.01M256.9 336.8h.01M241.7 340.9h.01M238.4 337.5h.01M242.0 340.1h.01M244.2 338.3h.01M240.6 339.5h.01M240.6 340.1h.01M240.6 340.2h.01M227.8 340.8h.01M274.4 344.6h.01M247.4 353.8h.01M229.4 355.0h.01M228.8 352.9h.01M231.5 352.6h.01M228.4 351.8h.01M230.6 353.2h.01M266.0 338.2h.01M234.4 337.0h.01M260.9 339.9h.01M264.4 341.5h.01M260.9 338.9h.01M263.8 341.1h.01M262.7 340.8h.01M263.4 340.5h.01M264.2 340.4h.01M262.4 341.1h.01M261.0 341.2h.01M252.7 349.8h.01M251.8 351.7h.01M255.7 332.1h.01M242.9 353.9h.01M239.7 356.0h.01M238.9 355.4h.01M240.1 355.8h.01M239.8 354.6h.01M242.1 354.6h.01M240.0 355.2h.01M241.2 356.0h.01M233.8 347.6h.01M247.7 342.6h.01M232.6 343.6h.01M233.6 343.4h.01M233.7 345.2h.01M231.4 344.8h.01M230.6 343.8h.01M229.9 342.9h.01M232.2 342.6h.01M231.6 347.0h.01M233.1 345.7h.01M271.4 350.4h.01M273.1 351.2h.01M253.9 330.4h.01M254.2 330.1h.01M256.0 330.4h.01M254.0 330.1h.01M253.0 330.3h.01M244.0 335.1h.01M223.4 349.8h.01M224.2 347.3h.01M251.4 333.6h.01" fill="none" stroke="#c8b02c" stroke-width="0.90" stroke-linecap="round" opacity="0.62"/>
<path d="M238.4 340.8h.01M241.4 339.5h.01M248.2 345.7h.01M251.3 345.7h.01M248.1 346.7h.01M249.2 345.1h.01M246.4 346.3h.01M232.6 348.3h.01M236.4 343.3h.01M255.4 352.5h.01M242.1 356.7h.01M260.3 337.2h.01M260.7 336.5h.01M240.9 340.5h.01M240.5 356.4h.01M244.3 356.4h.01M251.8 349.9h.01M230.9 348.7h.01M275.9 338.7h.01M266.6 337.3h.01M236.4 352.0h.01M247.5 354.0h.01M235.7 345.6h.01M248.7 336.2h.01M271.6 336.0h.01M268.7 334.1h.01M267.6 334.1h.01M267.2 334.7h.01M271.1 335.1h.01M267.4 334.1h.01M266.4 339.6h.01M267.1 338.3h.01M266.3 337.5h.01M264.0 339.2h.01M262.4 342.8h.01M250.7 356.3h.01M243.2 343.9h.01M237.2 334.9h.01M238.9 337.6h.01M273.9 333.1h.01M255.5 332.0h.01M254.5 332.6h.01M255.1 332.3h.01M254.0 332.4h.01M255.0 332.1h.01M256.0 334.2h.01M253.8 334.2h.01M255.1 332.5h.01M240.1 353.5h.01M257.5 349.5h.01M257.7 359.2h.01M257.9 341.0h.01M259.6 339.5h.01M258.0 341.4h.01M256.9 342.0h.01M248.5 357.9h.01M224.4 355.0h.01M232.7 349.2h.01M233.9 350.1h.01M233.3 350.1h.01M230.8 348.9h.01M252.4 340.2h.01M255.6 341.6h.01M253.4 340.5h.01M255.6 340.6h.01M253.9 341.7h.01M253.2 340.9h.01M256.1 341.7h.01M254.9 339.2h.01M253.3 340.7h.01M253.1 345.7h.01M251.0 345.1h.01M254.1 346.0h.01M248.5 338.5h.01M234.6 340.0h.01M255.3 336.6h.01M252.4 333.5h.01M252.7 332.4h.01M253.1 333.1h.01M252.8 334.0h.01M254.4 334.4h.01M267.5 334.2h.01M265.8 334.2h.01M264.5 334.0h.01M265.5 332.0h.01M260.5 339.5h.01M261.9 338.8h.01M259.8 341.5h.01M254.8 352.1h.01M240.9 335.9h.01M234.9 349.5h.01M233.4 348.5h.01M235.8 349.8h.01" fill="none" stroke="#3788c0" stroke-width="0.90" stroke-linecap="round" opacity="0.62"/>
<path d="M248.9 335.1h.01M245.2 335.4h.01M245.0 334.4h.01M243.8 335.1h.01M246.8 337.3h.01M248.7 334.7h.01M242.5 340.2h.01M238.7 339.7h.01M237.8 341.0h.01M238.8 339.6h.01M240.9 340.0h.01M239.4 339.5h.01M240.0 340.7h.01M255.8 332.4h.01M234.3 337.2h.01M241.1 349.5h.01M224.4 342.7h.01M226.7 344.8h.01M226.1 342.4h.01M227.6 343.1h.01M251.8 354.5h.01M252.0 356.1h.01M251.9 355.6h.01M252.2 355.7h.01M256.3 356.1h.01M253.3 356.5h.01M253.4 355.2h.01M252.9 347.6h.01M254.1 349.3h.01M250.3 347.3h.01M229.8 348.6h.01M276.9 339.2h.01M275.1 337.0h.01M276.4 337.9h.01M276.3 339.2h.01M274.4 340.2h.01M270.5 337.3h.01M270.0 335.7h.01M268.8 337.1h.01M267.1 337.5h.01M267.5 336.9h.01M267.7 337.4h.01M235.6 352.3h.01M244.2 354.0h.01M245.0 354.0h.01M245.6 353.2h.01M243.4 353.7h.01M246.4 354.5h.01M248.8 351.6h.01M245.3 353.4h.01M247.4 353.2h.01M246.6 355.0h.01M248.8 339.7h.01M247.9 340.4h.01M250.3 342.7h.01M248.3 342.4h.01M247.8 339.7h.01M251.4 343.7h.01M249.1 341.7h.01M249.9 343.6h.01M246.4 340.5h.01M250.4 341.1h.01M266.9 340.4h.01M265.9 337.9h.01M269.7 339.6h.01M267.9 339.1h.01M265.4 339.4h.01M266.6 338.0h.01M270.8 338.5h.01M254.6 348.3h.01M253.2 350.4h.01M253.0 349.5h.01M250.9 349.9h.01M251.4 349.4h.01M253.1 356.0h.01M235.3 337.2h.01M274.8 330.5h.01M272.5 352.4h.01M270.6 352.7h.01M269.0 351.6h.01M271.6 352.5h.01M273.6 352.5h.01M274.1 353.0h.01M257.6 348.2h.01M229.5 342.7h.01M256.9 360.2h.01M251.7 341.7h.01M251.9 340.3h.01M247.5 341.7h.01M253.8 342.5h.01M246.5 342.0h.01M249.8 341.4h.01M243.5 336.3h.01M245.8 334.7h.01M251.8 345.5h.01M249.0 336.8h.01M239.4 343.3h.01M274.1 354.2h.01M276.1 354.4h.01M238.1 337.1h.01M265.7 333.6h.01M253.8 353.1h.01M234.1 351.4h.01" fill="none" stroke="#c8661c" stroke-width="0.90" stroke-linecap="round" opacity="0.62"/>
<path d="M236.9 355.6h.01M226.1 343.3h.01M229.0 348.4h.01M230.2 349.4h.01M229.4 350.3h.01M229.1 348.0h.01M229.5 346.3h.01M246.7 355.2h.01M273.7 345.8h.01M246.7 355.9h.01M246.4 353.9h.01M246.8 353.9h.01M251.5 334.5h.01M252.1 333.8h.01M249.9 332.1h.01M249.2 334.0h.01M251.3 336.1h.01M251.8 335.3h.01M249.8 335.1h.01M263.2 338.5h.01M235.0 348.2h.01M238.2 350.3h.01M236.1 346.9h.01M237.0 346.7h.01M274.0 355.1h.01M236.9 353.3h.01M257.3 347.8h.01M228.6 343.5h.01M230.1 346.1h.01M231.4 343.9h.01M230.8 345.2h.01M229.7 344.6h.01M228.7 345.5h.01M241.4 355.8h.01M232.9 346.6h.01M250.4 337.8h.01M231.5 345.2h.01M229.6 346.1h.01M256.3 341.4h.01M249.5 358.6h.01M249.9 359.1h.01M248.4 344.0h.01M232.1 350.7h.01M271.5 350.1h.01M271.9 350.1h.01M244.4 335.4h.01M243.3 337.3h.01M244.3 334.5h.01M243.7 336.3h.01M244.5 336.5h.01M244.9 334.2h.01M244.6 334.6h.01M250.3 334.7h.01M251.3 337.5h.01M252.5 336.8h.01M247.8 337.2h.01M250.6 337.2h.01M250.6 337.1h.01M223.8 346.3h.01M223.5 347.1h.01M223.2 345.4h.01M226.2 345.9h.01M224.8 344.8h.01M223.6 346.0h.01M237.0 341.7h.01M235.8 341.8h.01M235.3 342.0h.01M236.7 340.8h.01M237.1 342.0h.01M236.9 343.4h.01M234.7 340.4h.01M236.2 341.6h.01M275.1 353.6h.01M274.2 352.6h.01M263.3 332.7h.01M263.3 335.5h.01M259.6 339.6h.01M254.2 350.2h.01M256.0 352.3h.01M256.8 351.9h.01M254.3 352.4h.01M254.2 348.3h.01M256.1 351.4h.01M257.6 351.7h.01M238.0 338.0h.01" fill="none" stroke="#4c9a58" stroke-width="0.90" stroke-linecap="round" opacity="0.62"/>
<path d="M244.9 344.4h.01M225.3 350.1h.01M256.1 332.2h.01M257.8 332.9h.01M256.4 331.5h.01M255.7 331.0h.01M257.1 333.1h.01M256.1 332.5h.01M253.6 333.0h.01M257.2 335.2h.01M257.9 331.1h.01M229.2 347.7h.01M232.0 346.1h.01M232.2 346.0h.01M232.4 347.4h.01M230.8 349.0h.01M232.3 344.9h.01M268.6 358.6h.01M237.9 349.7h.01M242.5 352.4h.01M252.6 355.1h.01M251.7 354.9h.01M258.8 337.3h.01M258.3 337.5h.01M257.5 337.6h.01M257.8 339.3h.01M259.2 337.0h.01M259.2 336.8h.01M240.2 337.7h.01M249.9 349.6h.01M228.9 346.5h.01M234.1 351.4h.01M235.1 355.0h.01M274.2 344.0h.01M272.4 343.5h.01M273.6 344.8h.01M272.5 345.3h.01M239.4 347.6h.01M237.0 345.7h.01M234.0 346.6h.01M235.5 348.0h.01M269.7 334.3h.01M254.3 349.4h.01M272.0 331.7h.01M272.6 330.6h.01M274.0 331.7h.01M274.1 330.5h.01M271.5 329.8h.01M270.6 350.4h.01M256.8 349.7h.01M259.1 348.2h.01M255.5 349.7h.01M253.6 338.0h.01M252.1 336.7h.01M250.7 337.1h.01M247.9 339.3h.01M232.0 344.2h.01M250.4 341.4h.01M224.7 353.5h.01M251.6 344.7h.01M226.1 344.9h.01M236.0 341.5h.01M226.2 346.0h.01M223.8 346.9h.01M223.4 348.1h.01M263.0 332.3h.01M263.0 329.6h.01M260.9 328.9h.01M260.0 327.8h.01M262.1 327.4h.01M255.7 353.2h.01M254.9 350.0h.01M236.3 337.8h.01M240.4 338.9h.01M242.2 339.5h.01M241.2 338.5h.01" fill="none" stroke="#8a9a28" stroke-width="0.90" stroke-linecap="round" opacity="0.62"/>
<path d="M248.8 349.7h.01M248.2 351.5h.01M247.1 348.7h.01M249.6 350.5h.01M245.9 349.4h.01M250.2 348.9h.01M252.2 349.3h.01M250.0 348.6h.01M235.2 356.6h.01M236.1 355.2h.01M236.9 357.0h.01M237.8 356.7h.01M226.3 348.1h.01M228.3 348.2h.01M227.4 350.7h.01M226.6 349.3h.01M227.3 349.9h.01M228.3 348.6h.01M253.4 354.4h.01M256.0 352.4h.01M253.9 353.3h.01M253.7 356.5h.01M254.6 354.0h.01M240.0 349.4h.01M239.5 348.3h.01M242.5 358.1h.01M242.8 354.7h.01M239.8 356.6h.01M253.6 355.5h.01M259.4 338.2h.01M240.6 338.8h.01M239.1 357.5h.01M242.6 356.8h.01M239.9 357.3h.01M243.2 356.5h.01M242.6 357.6h.01M242.1 356.8h.01M238.0 346.5h.01M251.2 333.9h.01M269.7 332.7h.01M266.1 340.4h.01M266.7 340.0h.01M233.7 348.3h.01M252.1 356.5h.01M239.0 336.5h.01M234.3 336.1h.01M273.7 332.1h.01M273.8 329.6h.01M239.9 355.0h.01M238.1 353.8h.01M239.0 354.6h.01M239.8 353.3h.01M240.4 354.6h.01M239.0 354.2h.01M239.7 353.7h.01M239.0 353.8h.01M241.0 352.7h.01M240.8 355.1h.01M258.9 349.4h.01M256.0 348.1h.01M257.1 347.8h.01M254.4 348.3h.01M259.2 348.9h.01M233.4 348.8h.01M233.9 344.8h.01M234.7 347.5h.01M233.7 348.7h.01M232.3 347.6h.01M232.4 348.3h.01M233.2 348.2h.01M231.5 348.7h.01M247.6 343.6h.01M248.3 340.6h.01M248.1 341.9h.01M248.4 342.4h.01M255.2 359.9h.01M254.5 359.8h.01M267.9 327.5h.01M264.8 330.7h.01M263.7 328.6h.01M264.5 326.6h.01M264.4 327.1h.01M266.6 330.1h.01M266.9 329.4h.01M266.3 328.5h.01M264.1 328.4h.01M223.1 354.8h.01M225.4 354.6h.01M223.2 354.7h.01M253.2 330.2h.01M252.0 335.9h.01M225.0 346.5h.01M274.3 354.1h.01M239.5 337.0h.01M237.8 338.3h.01M236.6 338.2h.01M236.6 337.9h.01M237.0 337.2h.01M238.7 338.3h.01M238.3 337.7h.01M260.1 338.1h.01M266.3 329.1h.01M238.2 337.0h.01M269.5 361.3h.01M270.8 362.2h.01M236.3 350.0h.01" fill="none" stroke="#4a9898" stroke-width="0.90" stroke-linecap="round" opacity="0.62"/>
<path d="M248.8 349.1h.01M225.3 349.7h.01M235.8 338.3h.01M237.3 336.4h.01M235.5 336.6h.01M235.2 337.3h.01M239.2 335.0h.01M237.5 336.3h.01M271.4 357.4h.01M270.0 356.2h.01M268.4 357.6h.01M269.0 357.8h.01M267.8 356.8h.01M269.3 357.2h.01M268.3 358.2h.01M269.2 358.5h.01M240.8 340.6h.01M239.0 342.2h.01M238.9 341.4h.01M240.3 340.8h.01M240.3 342.2h.01M240.0 341.9h.01M241.1 342.7h.01M241.0 341.6h.01M241.2 339.9h.01M252.3 354.3h.01M238.4 349.9h.01M239.8 347.7h.01M242.5 347.5h.01M238.7 348.1h.01M239.3 347.4h.01M239.7 347.8h.01M242.9 346.3h.01M237.9 346.6h.01M241.6 351.8h.01M244.5 349.8h.01M245.6 350.5h.01M243.2 350.0h.01M242.3 352.1h.01M224.6 342.7h.01M225.1 343.3h.01M249.1 345.7h.01M248.5 346.5h.01M251.0 345.0h.01M251.2 343.7h.01M257.9 335.4h.01M275.5 338.7h.01M228.4 341.1h.01M227.7 340.7h.01M228.4 341.8h.01M228.0 342.7h.01M227.2 343.0h.01M228.8 341.0h.01M225.0 341.9h.01M229.2 340.9h.01M272.7 343.4h.01M262.4 346.1h.01M263.8 348.5h.01M262.2 346.6h.01M260.1 349.1h.01M261.9 347.4h.01M262.0 348.9h.01M263.5 347.3h.01M249.1 341.3h.01M267.1 338.7h.01M236.9 337.2h.01M254.4 356.2h.01M255.1 356.2h.01M254.3 357.8h.01M240.3 342.5h.01M241.6 341.6h.01M243.8 345.4h.01M239.5 356.2h.01M255.3 333.4h.01M242.6 353.8h.01M228.1 346.0h.01M252.1 338.0h.01M252.7 358.5h.01M254.5 358.8h.01M233.4 346.5h.01M231.2 344.6h.01M264.7 328.8h.01M223.7 355.0h.01M271.9 350.3h.01M273.4 351.5h.01M254.3 341.0h.01M255.3 344.9h.01M257.8 336.5h.01M264.9 331.6h.01M266.1 327.4h.01M265.1 328.0h.01M265.4 329.2h.01M267.9 330.5h.01M264.3 330.6h.01M238.6 340.7h.01M238.7 338.7h.01M238.8 335.6h.01M267.7 362.3h.01" fill="none" stroke="#9ab030" stroke-width="0.90" stroke-linecap="round" opacity="0.62"/>
<defs>
<linearGradient id="sg10"><stop offset="0" stop-color="#000"/><stop offset="0.25" stop-color="#111"/><stop offset="1" stop-color="#e8d838"/></linearGradient>
<linearGradient id="sg11"><stop offset="0" stop-color="#000"/><stop offset="0.25" stop-color="#111"/><stop offset="1" stop-color="#e87a1c"/></linearGradient>
<linearGradient id="sg12"><stop offset="0" stop-color="#000"/><stop offset="0.25" stop-color="#111"/><stop offset="1" stop-color="#48a8e8"/></linearGradient>
</defs>
<text x="268.0" y="328.7" font-size="3.9" fill="#d8c832">M06_Macro-SELENOP</text>
<rect x="290.0" y="330.0" width="14.4" height="3.1" rx="1.5" fill="url(#sg10)" stroke="#d8d8d8" stroke-width="0.35"/>
<text x="287.0" y="337.8" font-size="4.7" fill="#fff">Low</text>
<text x="298.9" y="337.8" font-size="4.7" fill="#fff">High</text>
<text x="274.9" y="346.7" font-size="3.9" fill="#e07a20">M09_Macro-SPP1</text>
<rect x="290.0" y="347.7" width="14.4" height="3.1" rx="1.5" fill="url(#sg11)" stroke="#d8d8d8" stroke-width="0.35"/>
<text x="287.0" y="356.2" font-size="4.7" fill="#fff">Low</text>
<text x="298.9" y="356.2" font-size="4.7" fill="#fff">High</text>
<text x="275.5" y="364.8" font-size="3.9" fill="#3fa0e0">T04_CD8T-GZMH</text>
<rect x="290.0" y="366.0" width="14.4" height="3.1" rx="1.5" fill="url(#sg12)" stroke="#d8d8d8" stroke-width="0.35"/>
<text x="287.0" y="374.2" font-size="4.7" fill="#fff">Low</text>
<text x="298.9" y="374.2" font-size="4.7" fill="#fff">High</text>
<rect x="315.8" y="297.1" width="90.0" height="89.4" fill="#fff" stroke="#80878c" stroke-width="0.9"/>
<text x="321.0" y="305.3" font-size="8.3">CD8</text>
<text x="337.2" y="302.2" font-size="4.5">+</text>
<text x="342.3" y="305.3" font-size="8.3">T cell</text>
<text x="367.0" y="319.0" font-size="8.35" text-anchor="middle">Expansion index</text>
<path d="M334.5 319.5V339.2H392.5" fill="none" stroke="#111" stroke-width="1.0"/>
<text x="332.8" y="321.8" font-size="4.0" text-anchor="end" fill="#222">0.2</text>
<text x="332.8" y="339.8" font-size="4.0" text-anchor="end" fill="#222">0.0</text>
<line x1="340.5" y1="337.2" x2="340.5" y2="338.8" stroke="#2a6cba" stroke-width="0.8"/>
<rect x="336.6" y="337.6" width="7.8" height="1.0" fill="#fff" stroke="#2a6cba" stroke-width="0.9" fill-opacity="0.6"/>
<line x1="336.6" y1="338.1" x2="344.4" y2="338.1" stroke="#2a6cba" stroke-width="0.9"/>
<line x1="352.5" y1="331.5" x2="352.5" y2="338.8" stroke="#2a6cba" stroke-width="0.8"/>
<rect x="348.6" y="334.2" width="7.8" height="3.6" fill="#fff" stroke="#2a6cba" stroke-width="0.9" fill-opacity="0.6"/>
<line x1="348.6" y1="336.0" x2="356.4" y2="336.0" stroke="#2a6cba" stroke-width="0.9"/>
<line x1="363.5" y1="334.0" x2="363.5" y2="338.8" stroke="#2a6cba" stroke-width="0.8"/>
<rect x="359.6" y="336.0" width="7.8" height="2.2" fill="#fff" stroke="#2a6cba" stroke-width="0.9" fill-opacity="0.6"/>
<line x1="359.6" y1="337.1" x2="367.4" y2="337.1" stroke="#2a6cba" stroke-width="0.9"/>
<line x1="375.0" y1="328.0" x2="375.0" y2="338.8" stroke="#2a6cba" stroke-width="0.8"/>
<rect x="371.1" y="333.0" width="7.8" height="4.8" fill="#fff" stroke="#2a6cba" stroke-width="0.9" fill-opacity="0.6"/>
<line x1="371.1" y1="335.4" x2="378.9" y2="335.4" stroke="#2a6cba" stroke-width="0.9"/>
<line x1="386.5" y1="323.0" x2="386.5" y2="338.8" stroke="#2a6cba" stroke-width="0.8"/>
<rect x="382.6" y="330.2" width="7.8" height="5.8" fill="#fff" stroke="#2a6cba" stroke-width="0.9" fill-opacity="0.6"/>
<line x1="382.6" y1="333.1" x2="390.4" y2="333.1" stroke="#2a6cba" stroke-width="0.9"/>
<circle cx="352.5" cy="331.0" r="0.6" fill="#2a6cba"/>
<circle cx="375.0" cy="327.6" r="0.6" fill="#2a6cba"/>
<circle cx="375.0" cy="329.5" r="0.6" fill="#2a6cba"/>
<circle cx="386.5" cy="321.8" r="0.6" fill="#2a6cba"/>
<circle cx="386.5" cy="325.5" r="0.6" fill="#2a6cba"/>
<circle cx="363.5" cy="333.6" r="0.6" fill="#2a6cba"/>
<text x="364.8" y="352.2" font-size="8.35" text-anchor="middle">Transition index</text>
<path d="M334.5 353V372H392.5" fill="none" stroke="#111" stroke-width="1.0"/>
<text x="332.8" y="356.6" font-size="4.0" text-anchor="end" fill="#222">0.2</text>
<text x="332.8" y="372.8" font-size="4.0" text-anchor="end" fill="#222">0.0</text>
<rect x="336.4" y="353.4" width="9.2" height="18.3" fill="#f5a81c" stroke="#1a1a1a" stroke-width="0.8"/>
<rect x="346.6" y="357.0" width="9.2" height="14.7" fill="#e4e2f6" stroke="#1a1a1a" stroke-width="0.8"/>
<rect x="356.8" y="358.8" width="9.2" height="12.9" fill="#a84cc0" stroke="#1a1a1a" stroke-width="0.8"/>
<rect x="367.0" y="368.6" width="9.2" height="3.1" fill="#7cc8b8" stroke="#1a1a1a" stroke-width="0.8"/>
<line x1="377.2" y1="371.0" x2="386.4" y2="371.0" stroke="#1a1a1a" stroke-width="1.1"/>
<text x="342.0" y="374.8" font-size="4.5" text-anchor="end" fill="#222" transform="rotate(-33 342.0 374.8)">Group 1</text>
<text x="354.4" y="374.8" font-size="4.5" text-anchor="end" fill="#222" transform="rotate(-33 354.4 374.8)">Group 2</text>
<text x="388.4" y="374.8" font-size="4.5" text-anchor="end" fill="#222" transform="rotate(-33 388.4 374.8)">Group 5</text>
<text x="360.6" y="380.0" font-size="5" fill="#333">...</text>
<rect x="410.3" y="297.1" width="90.3" height="89.4" fill="#fff" stroke="#80878c" stroke-width="0.9"/>
<text x="455.7" y="306.2" font-size="8.3" text-anchor="middle">Gene sets expression</text>
<text x="455.6" y="313.9" font-size="4.6" text-anchor="end" font-style="italic">P</text>
<text x="456.6" y="313.9" font-size="4.6">value</text>
<path d="M445 316V368.8H476.9" fill="none" stroke="#222" stroke-width="0.8"/>
<text x="442.8" y="323.0" font-size="5.2" text-anchor="end" fill="#222">2.4</text>
<line x1="443.6" y1="321.2" x2="445.0" y2="321.2" stroke="#222" stroke-width="0.5"/>
<text x="442.8" y="338.5" font-size="5.2" text-anchor="end" fill="#222">2.2</text>
<line x1="443.6" y1="336.7" x2="445.0" y2="336.7" stroke="#222" stroke-width="0.5"/>
<text x="442.8" y="354.3" font-size="5.2" text-anchor="end" fill="#222">2.0</text>
<line x1="443.6" y1="352.5" x2="445.0" y2="352.5" stroke="#222" stroke-width="0.5"/>
<text x="442.8" y="370.1" font-size="5.2" text-anchor="end" fill="#222">1.8</text>
<line x1="443.6" y1="368.3" x2="445.0" y2="368.3" stroke="#222" stroke-width="0.5"/>
<line x1="454.1" y1="368.8" x2="454.1" y2="370.2" stroke="#222" stroke-width="0.5"/>
<line x1="469.1" y1="368.8" x2="469.1" y2="370.2" stroke="#222" stroke-width="0.5"/>
<text x="431.8" y="340.0" font-size="5.0" text-anchor="middle" fill="#222" transform="rotate(-90 431.8 340.0)">Gene sets</text>
<line x1="454.1" y1="316.4" x2="454.1" y2="366.4" stroke="#2a7fd2" stroke-width="0.7"/>
<rect x="448.4" y="333.7" width="11.4" height="19.9" fill="#fff" stroke="#2a7fd2" stroke-width="0.8"/>
<line x1="448.4" y1="344.5" x2="459.8" y2="344.5" stroke="#2a7fd2" stroke-width="0.8"/>
<circle cx="455.0" cy="316.8" r="1.0" fill="#2a7fd2"/>
<circle cx="455.8" cy="323.5" r="1.0" fill="#2a7fd2"/>
<circle cx="456.2" cy="328.0" r="1.0" fill="#2a7fd2"/>
<circle cx="457.3" cy="330.0" r="1.0" fill="#2a7fd2"/>
<circle cx="455.8" cy="334.5" r="1.0" fill="#2a7fd2"/>
<circle cx="457.1" cy="336.0" r="1.0" fill="#2a7fd2"/>
<circle cx="450.7" cy="340.0" r="1.0" fill="#2a7fd2"/>
<circle cx="453.9" cy="342.0" r="1.0" fill="#2a7fd2"/>
<circle cx="457.3" cy="345.0" r="1.0" fill="#2a7fd2"/>
<circle cx="455.2" cy="346.0" r="1.0" fill="#2a7fd2"/>
<circle cx="457.0" cy="346.5" r="1.0" fill="#2a7fd2"/>
<circle cx="451.3" cy="350.5" r="1.0" fill="#2a7fd2"/>
<circle cx="453.9" cy="352.0" r="1.0" fill="#2a7fd2"/>
<circle cx="452.3" cy="353.0" r="1.0" fill="#2a7fd2"/>
<circle cx="454.4" cy="357.5" r="1.0" fill="#2a7fd2"/>
<circle cx="454.6" cy="361.0" r="1.0" fill="#2a7fd2"/>
<circle cx="450.6" cy="363.0" r="1.0" fill="#2a7fd2"/>
<circle cx="452.1" cy="365.8" r="1.0" fill="#2a7fd2"/>
<circle cx="452.5" cy="351.5" r="1.0" fill="#2a7fd2"/>
<circle cx="457.1" cy="343.0" r="1.0" fill="#2a7fd2"/>
<line x1="469.1" y1="320.8" x2="469.1" y2="340.7" stroke="#f2b71e" stroke-width="0.7"/>
<rect x="463.6" y="324.2" width="11.0" height="10.8" fill="#fff" stroke="#f2b71e" stroke-width="0.8"/>
<line x1="463.6" y1="326.5" x2="474.6" y2="326.5" stroke="#f2b71e" stroke-width="0.8"/>
<circle cx="470.9" cy="320.5" r="1.0" fill="#f2b71e"/>
<circle cx="466.8" cy="321.8" r="1.0" fill="#f2b71e"/>
<circle cx="471.1" cy="322.5" r="1.0" fill="#f2b71e"/>
<circle cx="466.6" cy="324.0" r="1.0" fill="#f2b71e"/>
<circle cx="469.9" cy="325.0" r="1.0" fill="#f2b71e"/>
<circle cx="466.6" cy="325.6" r="1.0" fill="#f2b71e"/>
<circle cx="465.7" cy="327.0" r="1.0" fill="#f2b71e"/>
<circle cx="471.6" cy="329.5" r="1.0" fill="#f2b71e"/>
<circle cx="467.1" cy="330.8" r="1.0" fill="#f2b71e"/>
<circle cx="467.2" cy="336.5" r="1.0" fill="#f2b71e"/>
<circle cx="472.4" cy="338.5" r="1.0" fill="#f2b71e"/>
<circle cx="471.6" cy="339.3" r="1.0" fill="#f2b71e"/>
<circle cx="467.7" cy="340.5" r="1.0" fill="#f2b71e"/>
<circle cx="472.2" cy="322.2" r="1.0" fill="#f2b71e"/>
<text x="456.0" y="374.0" font-size="5.5" text-anchor="end" fill="#222" transform="rotate(-32 456.0 374.0)">Group1</text>
<text x="471.0" y="374.0" font-size="5.5" text-anchor="end" fill="#222" transform="rotate(-32 471.0 374.0)">Group2</text>
<rect x="526.0" y="214.2" width="54.0" height="22.6" fill="#bbbbbb"/>
<text x="553.0" y="228.5" font-size="8.4" text-anchor="middle">mIHC</text>
<rect x="526.0" y="276.6" width="54.0" height="27.2" fill="#bbbbbb"/>
<text x="553.0" y="293.2" font-size="8.4" text-anchor="middle">Organoids</text>
<rect x="526.0" y="339.4" width="54.0" height="27.4" fill="#bbbbbb"/>
<text x="553.0" y="356.0" font-size="8.4" text-anchor="middle">Murine model</text>
<defs><radialGradient id="mh"><stop offset="0" stop-color="#10102e"/><stop offset="1" stop-color="#090714"/></radialGradient><filter id="bl" x="-30%" y="-30%" width="160%" height="160%"><feGaussianBlur stdDeviation="2"/></filter><clipPath id="mc"><rect x="592.6" y="195.3" width="84.2" height="58.4"/></clipPath></defs>
<rect x="592.6" y="195.3" width="84.2" height="58.4" fill="url(#mh)" stroke="#707478" stroke-width="0.6"/>
<g clip-path="url(#mc)"><g filter="url(#bl)" opacity="0.8"><ellipse cx="606" cy="214" rx="7" ry="5" fill="#050410"/><ellipse cx="600" cy="240" rx="7" ry="6" fill="#07040c"/><ellipse cx="664" cy="238" rx="8" ry="8" fill="#06040e"/><ellipse cx="655" cy="205" rx="8" ry="5" fill="#0a0820"/><ellipse cx="640" cy="232" rx="10" ry="6" fill="#0c3018"/></g></g>
<path d="M613.0 227.0h.01M623.9 230.4h.01M645.1 199.7h.01M594.3 243.7h.01M614.7 209.4h.01M675.8 222.8h.01M662.6 223.2h.01M646.2 204.6h.01M645.9 245.5h.01M636.6 238.3h.01M648.9 199.6h.01M656.1 229.7h.01M618.2 197.8h.01M665.0 222.9h.01M652.9 246.1h.01M652.5 248.5h.01M626.0 241.7h.01M630.1 249.3h.01M666.1 201.6h.01M604.5 208.4h.01M673.3 220.9h.01M645.2 213.2h.01M635.3 218.0h.01M622.3 229.3h.01M641.7 247.5h.01M649.8 248.9h.01M664.3 252.5h.01M648.9 205.3h.01M664.6 251.0h.01M668.3 228.4h.01M652.4 208.0h.01M662.2 228.7h.01M616.9 199.6h.01M664.1 252.4h.01M600.5 241.6h.01M627.3 204.6h.01M617.6 239.8h.01M665.6 198.5h.01M644.2 198.6h.01M652.8 214.9h.01M666.3 251.9h.01M635.1 252.9h.01M618.9 200.4h.01M643.0 197.8h.01M609.6 219.3h.01M643.9 204.9h.01M596.7 245.5h.01M619.2 250.6h.01M667.6 217.5h.01M631.4 225.6h.01M646.6 230.0h.01M639.6 231.3h.01M671.3 224.9h.01M629.0 237.1h.01M612.9 213.2h.01M674.4 225.7h.01M638.7 196.7h.01M627.7 229.1h.01M594.9 231.1h.01M645.7 199.4h.01M645.3 222.6h.01M649.6 216.1h.01M651.9 238.1h.01M595.0 199.5h.01M649.3 250.9h.01M614.0 222.0h.01M642.4 214.2h.01M623.4 213.8h.01M623.8 230.0h.01M618.1 217.5h.01M657.3 197.5h.01M640.4 237.9h.01M618.9 208.7h.01M659.9 209.6h.01M608.8 220.8h.01M651.1 201.8h.01M619.9 215.0h.01M662.4 221.0h.01M664.2 205.6h.01M621.1 233.1h.01M666.6 221.7h.01M611.9 202.9h.01M637.2 206.9h.01M660.2 243.8h.01M608.4 211.9h.01M660.2 232.6h.01M660.1 215.7h.01M604.0 212.6h.01M659.1 211.5h.01M621.9 219.8h.01M628.0 219.3h.01M669.6 204.9h.01M593.6 249.8h.01M666.2 252.3h.01M629.3 250.2h.01M670.2 208.7h.01M655.1 243.7h.01M648.2 225.6h.01M617.2 215.4h.01M612.1 199.9h.01M642.1 212.4h.01M660.4 198.6h.01M668.2 235.5h.01M669.9 247.1h.01M667.9 228.9h.01M594.3 238.5h.01M607.5 213.1h.01M648.2 225.9h.01M627.5 249.5h.01M644.0 215.5h.01M614.2 245.1h.01M632.8 240.6h.01M622.4 207.2h.01M637.6 242.6h.01M607.4 241.1h.01M669.7 241.9h.01M661.6 196.4h.01M645.4 245.2h.01M597.3 211.5h.01M615.5 226.1h.01M628.3 223.0h.01M657.6 196.1h.01M597.8 203.2h.01M603.5 199.9h.01M674.1 244.7h.01M600.3 224.6h.01M619.4 213.9h.01M622.4 232.9h.01M641.9 216.6h.01M609.1 214.7h.01M603.5 227.7h.01M652.6 217.7h.01M599.8 206.2h.01M624.2 230.5h.01M658.2 217.7h.01M659.7 231.5h.01M629.0 217.2h.01M634.4 236.1h.01M628.1 235.6h.01M631.4 210.0h.01M637.7 235.6h.01M599.1 220.2h.01M628.5 246.1h.01M670.9 217.3h.01M667.7 241.1h.01M615.0 222.5h.01M603.4 242.4h.01M648.2 246.6h.01M659.0 234.1h.01M654.1 228.1h.01M601.8 229.5h.01M593.6 204.2h.01M657.5 198.5h.01M600.8 201.7h.01M666.3 206.2h.01M595.1 244.0h.01M603.3 244.1h.01M649.1 243.7h.01M672.3 229.0h.01M659.5 198.1h.01M656.9 225.1h.01M652.6 202.1h.01M655.4 249.3h.01M598.3 214.5h.01M640.0 243.2h.01M613.3 206.2h.01M613.9 231.1h.01M655.7 218.4h.01M623.7 218.6h.01M622.3 219.8h.01M600.1 224.5h.01M674.0 219.5h.01M655.2 205.2h.01M650.5 239.1h.01M649.1 225.5h.01M633.3 232.6h.01M667.7 204.5h.01M601.2 238.6h.01M669.3 225.5h.01M630.0 237.0h.01M608.6 211.2h.01M609.7 229.4h.01M619.3 209.2h.01M650.6 250.3h.01M617.8 236.2h.01M627.5 244.7h.01M641.7 211.2h.01M611.3 197.3h.01M633.0 217.8h.01M607.5 216.5h.01M619.9 240.1h.01M605.1 252.5h.01M633.0 230.1h.01M632.0 243.6h.01M661.4 227.8h.01M633.1 237.1h.01M664.3 218.8h.01M654.1 250.7h.01M632.0 209.1h.01M612.7 236.9h.01M649.3 250.6h.01M664.1 209.8h.01M608.9 210.7h.01M608.7 236.2h.01M664.5 247.3h.01M614.4 245.3h.01M619.2 220.1h.01M653.7 200.9h.01M600.9 243.5h.01M617.4 216.3h.01M641.4 234.5h.01M593.8 215.1h.01M629.4 223.7h.01M610.6 229.4h.01M672.5 218.3h.01M638.4 202.8h.01M616.0 233.9h.01M602.5 246.6h.01M668.6 201.5h.01M671.3 217.3h.01M657.3 239.2h.01M617.7 234.5h.01M647.5 241.9h.01M615.2 239.0h.01M673.0 234.4h.01M637.7 202.5h.01M634.2 216.1h.01M652.8 234.7h.01M640.2 206.4h.01M646.8 232.0h.01M608.1 246.7h.01M647.6 203.0h.01M670.5 204.1h.01M620.7 237.1h.01M642.8 227.6h.01M646.9 222.1h.01M619.1 206.1h.01M598.9 236.8h.01M655.8 227.0h.01M654.6 216.5h.01M615.3 217.9h.01M665.6 198.4h.01M635.1 210.1h.01M657.0 216.2h.01M620.8 219.0h.01M638.1 240.0h.01M622.5 244.3h.01M602.5 211.4h.01M601.5 202.4h.01M657.9 237.5h.01M608.5 206.8h.01M627.8 238.4h.01M660.9 238.7h.01M642.3 204.3h.01M626.3 207.0h.01M637.0 228.4h.01M610.0 210.3h.01M658.1 197.7h.01M659.9 246.8h.01M672.0 217.8h.01M639.1 229.2h.01M645.8 251.7h.01M650.2 213.1h.01M664.6 223.6h.01M643.1 237.4h.01M593.4 239.9h.01M648.1 224.0h.01M636.7 222.3h.01M609.3 226.2h.01M596.3 224.5h.01M646.8 221.3h.01M640.2 250.7h.01M667.2 203.7h.01M659.0 231.5h.01M597.4 216.5h.01M612.6 200.4h.01M637.9 249.0h.01M620.0 245.6h.01M650.9 203.7h.01M664.4 230.3h.01M670.1 236.8h.01M654.6 215.6h.01M660.2 249.1h.01M664.7 220.9h.01M656.0 223.6h.01M602.3 198.4h.01M599.7 207.4h.01M606.5 224.3h.01M651.2 226.6h.01M628.2 233.0h.01M618.5 222.5h.01M656.0 218.9h.01M608.2 247.3h.01M652.9 216.9h.01M624.0 226.2h.01M642.7 208.8h.01M593.4 207.9h.01M658.2 204.2h.01M631.4 207.1h.01M610.6 205.7h.01M626.7 205.6h.01M595.5 202.3h.01M607.2 223.9h.01M598.2 197.3h.01M630.4 219.2h.01M651.6 198.9h.01M626.7 218.6h.01M595.4 251.0h.01M611.4 201.4h.01M632.6 205.4h.01M644.9 215.7h.01M603.5 199.0h.01M653.6 211.7h.01M658.6 222.5h.01M670.6 213.1h.01M613.9 211.2h.01M660.8 231.9h.01M621.8 201.3h.01M649.8 251.2h.01M642.4 196.2h.01M595.7 201.2h.01M607.3 198.1h.01M597.7 233.3h.01M667.9 207.4h.01M674.0 223.2h.01M659.9 248.3h.01M671.2 198.0h.01M618.5 230.6h.01M671.8 201.0h.01M617.6 244.4h.01M602.7 218.2h.01M620.9 234.8h.01M670.3 206.0h.01M654.6 237.8h.01M662.6 227.5h.01M669.9 216.7h.01M627.6 209.1h.01M657.9 223.4h.01M615.6 205.7h.01M653.0 230.5h.01M652.2 218.0h.01M633.6 204.8h.01M652.2 197.3h.01M632.0 239.2h.01M649.4 201.5h.01M612.9 244.1h.01M646.5 246.1h.01M665.6 221.6h.01M667.6 237.8h.01M620.9 217.1h.01M599.2 218.8h.01M672.5 202.0h.01M640.4 202.3h.01M599.9 233.0h.01M613.2 198.8h.01M605.9 232.7h.01M641.8 196.7h.01M612.3 251.1h.01M611.5 228.1h.01M628.0 240.5h.01M643.4 241.0h.01M637.6 206.7h.01M607.9 200.5h.01M661.7 202.4h.01M595.2 251.1h.01M609.7 246.9h.01M600.3 222.5h.01M611.7 243.3h.01M644.3 232.6h.01M656.4 245.7h.01M621.9 230.4h.01M630.2 202.3h.01M662.5 229.9h.01M660.8 207.7h.01M638.0 222.5h.01M653.6 200.4h.01M621.9 223.6h.01M599.1 227.5h.01M654.2 220.1h.01M647.0 230.5h.01M611.0 216.0h.01M675.8 215.1h.01M629.0 200.8h.01M611.3 205.4h.01M670.5 237.4h.01M665.8 252.2h.01M644.0 249.1h.01M637.7 219.9h.01M671.9 247.5h.01M672.0 223.6h.01M657.4 219.2h.01M676.0 248.5h.01M617.4 249.2h.01M608.5 201.5h.01M653.2 212.8h.01M636.3 232.4h.01M596.6 238.5h.01M616.1 220.6h.01M621.8 238.3h.01M655.2 212.4h.01M601.8 213.1h.01M627.3 200.4h.01M605.9 239.5h.01M651.3 251.7h.01M674.5 245.9h.01M624.1 205.2h.01M619.1 222.4h.01M636.9 226.9h.01M623.1 244.6h.01M616.9 222.4h.01M666.8 242.0h.01M617.9 209.8h.01M660.2 196.6h.01M604.1 226.3h.01M637.7 205.4h.01M597.4 207.6h.01M657.1 222.5h.01M674.5 240.8h.01M674.5 198.0h.01M608.6 196.8h.01M629.1 215.3h.01M597.5 227.1h.01M601.0 213.8h.01M613.7 241.7h.01M627.9 210.8h.01M596.9 220.5h.01M645.3 234.5h.01M668.9 242.1h.01M613.7 203.7h.01M656.1 241.0h.01M635.4 243.4h.01M639.0 211.9h.01M607.2 197.0h.01M646.6 247.1h.01M668.4 222.6h.01M648.4 248.9h.01M660.8 230.4h.01M627.6 225.5h.01M607.4 206.4h.01M650.0 252.6h.01M638.6 219.3h.01M622.4 221.9h.01M659.8 221.8h.01M672.8 204.9h.01M619.3 225.8h.01M627.4 244.5h.01M661.9 249.1h.01M644.0 197.7h.01M640.9 227.3h.01M633.7 212.0h.01M652.1 248.0h.01M601.7 234.1h.01M624.0 225.3h.01M667.5 250.7h.01M646.6 207.1h.01M669.6 206.3h.01M625.0 243.2h.01M619.4 211.4h.01M672.0 249.8h.01M619.5 218.4h.01" fill="none" stroke="#2a34b8" stroke-width="0.92" stroke-linecap="round" opacity="0.7"/>
<path d="M616.6 203.5h.01M614.0 251.9h.01M599.8 209.1h.01M609.8 200.5h.01M636.9 238.4h.01M662.8 232.0h.01M661.1 196.3h.01M616.6 250.8h.01M599.0 211.3h.01M633.3 211.3h.01M638.5 198.7h.01M612.8 250.6h.01M605.2 247.6h.01M608.0 252.6h.01M649.2 232.9h.01M605.0 199.1h.01M656.2 206.0h.01M608.9 242.9h.01M665.8 198.8h.01M672.9 226.5h.01M624.9 202.1h.01M625.6 252.3h.01M616.5 203.5h.01M605.3 203.2h.01M622.5 248.2h.01M599.6 206.9h.01M671.2 252.8h.01M674.5 210.0h.01M622.6 250.2h.01M633.5 236.1h.01M619.2 197.2h.01M621.9 238.6h.01M658.1 228.4h.01M631.7 226.7h.01M629.9 226.5h.01M662.3 207.4h.01M642.5 249.2h.01M663.6 206.2h.01M673.2 243.9h.01M607.1 211.2h.01M610.0 199.0h.01M674.4 219.3h.01M665.6 202.5h.01M594.4 245.6h.01M659.1 252.5h.01M650.1 225.9h.01M656.8 201.3h.01M638.1 221.1h.01M605.3 230.2h.01M620.0 224.9h.01M624.2 214.1h.01M623.0 230.3h.01M674.6 249.4h.01M664.8 243.6h.01M617.0 251.7h.01M615.6 203.0h.01M634.8 237.7h.01M621.5 232.8h.01M616.6 251.1h.01M630.8 223.2h.01M637.3 245.9h.01M675.1 226.1h.01M629.8 231.2h.01M599.0 220.3h.01M663.5 240.3h.01M598.1 244.7h.01M625.1 251.9h.01M623.6 208.2h.01M638.7 246.4h.01M629.0 245.4h.01M652.2 216.6h.01M618.2 224.8h.01M626.3 217.2h.01M647.3 245.9h.01M641.7 204.3h.01M611.5 217.1h.01M644.2 204.0h.01M600.0 214.3h.01M616.7 197.7h.01M637.9 248.5h.01M637.6 238.0h.01M662.0 243.7h.01M669.0 221.2h.01M649.8 202.9h.01M666.2 217.6h.01M632.7 246.7h.01M617.0 206.8h.01M661.6 230.1h.01M600.2 197.6h.01M622.4 196.4h.01M662.3 206.5h.01M616.0 218.2h.01M635.7 220.6h.01M645.4 233.6h.01M629.4 201.5h.01M674.5 235.4h.01M600.1 221.2h.01M655.7 252.5h.01M598.7 196.5h.01M633.0 220.1h.01M667.4 243.1h.01M620.7 219.9h.01M641.6 246.4h.01M610.0 218.3h.01M600.5 232.6h.01M595.4 249.3h.01M636.7 228.7h.01M600.3 209.2h.01M632.1 244.9h.01M637.9 212.2h.01M674.7 233.7h.01M637.1 207.5h.01M618.0 247.3h.01M604.2 226.3h.01M644.7 216.2h.01M657.0 247.9h.01M664.4 238.1h.01M610.1 199.4h.01M629.1 213.8h.01M609.3 245.7h.01M611.1 242.9h.01M671.0 202.8h.01M669.0 218.6h.01M610.8 206.6h.01M596.3 224.4h.01M625.1 244.5h.01M662.3 199.2h.01M626.5 218.2h.01M607.9 210.3h.01M615.1 235.6h.01M621.4 202.3h.01M611.5 221.2h.01M640.1 210.0h.01M651.3 208.3h.01M648.9 230.7h.01M607.8 238.8h.01M625.9 226.8h.01M642.8 231.8h.01M629.9 199.2h.01M658.5 245.0h.01M633.9 229.0h.01M615.5 247.2h.01M650.1 208.6h.01M661.0 252.2h.01M621.9 252.7h.01M633.3 206.2h.01M652.7 215.3h.01M654.0 229.3h.01M602.1 226.1h.01M663.8 223.2h.01M638.0 245.2h.01M630.3 224.1h.01M641.6 243.0h.01M610.1 201.3h.01M656.4 227.5h.01M618.3 246.9h.01M666.6 226.9h.01M675.2 243.6h.01M655.3 212.6h.01M594.1 234.7h.01" fill="none" stroke="#3c4ce0" stroke-width="0.84" stroke-linecap="round" opacity="0.8"/>
<path d="M654.2 216.0h.01M632.9 228.3h.01M613.9 235.8h.01M639.9 218.0h.01M602.3 227.6h.01M619.7 237.3h.01M607.5 218.5h.01M609.5 219.3h.01M641.0 202.1h.01M597.7 223.5h.01M609.9 224.8h.01M607.1 201.7h.01M637.8 248.6h.01M665.3 225.4h.01M626.2 199.8h.01M616.1 213.9h.01M671.3 202.7h.01M671.9 223.2h.01M629.2 210.9h.01M673.1 206.6h.01M640.6 225.1h.01M609.8 208.7h.01M675.0 241.1h.01M654.1 247.5h.01M601.4 236.1h.01M655.5 208.8h.01M631.1 251.5h.01M620.3 239.5h.01M606.9 234.0h.01M615.6 225.0h.01M624.1 245.6h.01M655.0 224.7h.01M650.2 220.4h.01M660.0 210.7h.01M638.4 229.4h.01M625.4 198.7h.01M607.3 232.5h.01M610.7 239.2h.01M635.1 250.3h.01M663.6 237.5h.01M624.1 198.5h.01M639.4 238.5h.01M669.6 207.6h.01M606.4 251.9h.01M654.6 223.6h.01M654.5 204.5h.01M638.4 234.1h.01M643.3 205.2h.01M604.6 231.6h.01M666.6 203.9h.01M593.8 200.7h.01M658.4 218.3h.01M631.0 252.7h.01M643.9 211.0h.01M651.4 196.1h.01M616.6 235.8h.01M607.4 197.9h.01M636.2 214.7h.01M673.8 201.8h.01M659.8 218.1h.01M660.0 221.4h.01M648.6 214.6h.01M611.8 221.8h.01M659.6 215.7h.01M612.3 219.7h.01M601.2 214.0h.01M640.7 227.1h.01M642.8 212.5h.01M595.3 197.5h.01M621.3 207.2h.01M640.4 211.1h.01M656.4 230.3h.01M648.2 237.9h.01M636.5 220.3h.01M618.8 199.6h.01M659.1 224.5h.01M601.5 248.8h.01M641.5 231.5h.01M629.6 203.2h.01M676.2 205.6h.01M623.6 253.0h.01M603.3 224.5h.01M633.0 210.1h.01M669.9 219.6h.01M594.2 223.0h.01M593.6 236.4h.01M665.3 247.6h.01M597.2 234.5h.01M618.5 222.9h.01M618.1 213.4h.01M604.2 231.7h.01M600.6 251.0h.01M596.8 251.0h.01M609.1 200.8h.01M655.0 226.3h.01M657.0 225.0h.01M645.5 200.7h.01M649.1 225.2h.01M673.1 196.4h.01M598.9 234.5h.01M670.1 220.0h.01M652.2 228.0h.01M625.6 222.5h.01M643.1 197.6h.01M618.6 238.1h.01M614.6 223.0h.01M614.5 216.4h.01M647.2 238.4h.01M672.6 223.2h.01M610.0 215.2h.01M598.1 209.7h.01M641.7 230.8h.01M613.2 206.4h.01M601.3 206.2h.01M634.8 210.5h.01M666.5 228.2h.01M621.4 220.6h.01M596.5 237.8h.01M655.5 216.7h.01M653.4 211.5h.01M611.4 209.0h.01M609.5 230.5h.01M646.5 237.5h.01M601.8 239.7h.01M632.9 217.6h.01M635.0 220.7h.01M609.8 218.5h.01M646.8 236.8h.01M669.1 207.1h.01M667.2 241.6h.01M652.4 251.8h.01M604.6 240.3h.01M667.9 203.0h.01M642.6 250.0h.01M617.5 244.8h.01M668.4 220.8h.01M605.3 208.3h.01M662.1 220.1h.01M619.4 221.2h.01M670.2 210.5h.01M594.7 250.1h.01M619.5 218.0h.01M674.2 212.1h.01M600.3 246.6h.01M613.4 208.6h.01M671.0 209.1h.01M668.0 215.0h.01M618.4 208.3h.01M638.2 227.9h.01M626.3 224.9h.01M617.9 243.7h.01M670.7 238.9h.01M661.2 200.0h.01M614.0 207.6h.01M606.1 251.2h.01M668.3 248.1h.01M639.5 202.6h.01M628.6 199.2h.01M668.3 211.1h.01M617.1 249.9h.01" fill="none" stroke="#1a2070" stroke-width="1.40" stroke-linecap="round" opacity="0.6"/>
<path d="M609.8 248.6h.01M619.0 233.9h.01M602.1 247.2h.01M626.3 215.7h.01M647.5 229.8h.01M614.0 203.1h.01M641.0 197.4h.01M665.5 215.6h.01M607.3 214.7h.01M602.6 214.0h.01M638.3 219.2h.01M620.9 212.6h.01M633.6 240.4h.01M629.5 239.8h.01M633.3 202.9h.01M607.3 244.3h.01M633.0 217.8h.01M636.0 244.2h.01M624.4 216.6h.01M623.6 196.6h.01M638.4 223.3h.01M634.4 221.7h.01M632.4 236.8h.01M608.6 251.9h.01M602.7 245.4h.01M607.7 241.3h.01M614.8 200.5h.01M638.1 243.8h.01M663.4 246.0h.01M674.5 199.0h.01M624.7 202.1h.01M655.9 221.7h.01M655.0 241.4h.01M676.1 234.6h.01M665.8 227.3h.01M599.9 246.8h.01M600.8 200.9h.01M662.1 212.0h.01M648.2 197.6h.01M610.7 236.8h.01M596.3 225.1h.01M671.0 208.2h.01M651.7 238.4h.01M644.7 239.7h.01M651.1 196.8h.01M609.1 226.6h.01M673.7 208.4h.01M641.9 203.3h.01M663.5 221.4h.01M636.5 234.2h.01M604.5 237.5h.01M659.6 245.0h.01M616.6 209.4h.01M606.9 247.3h.01M629.6 218.2h.01M636.4 235.8h.01M619.6 215.2h.01M656.8 240.3h.01M617.8 200.2h.01M670.2 237.6h.01M642.5 219.1h.01M672.8 220.5h.01M611.2 201.7h.01M622.3 230.2h.01M623.5 250.0h.01M647.1 222.1h.01M648.0 230.3h.01M644.5 224.2h.01M636.6 224.0h.01M662.2 206.9h.01M658.4 213.0h.01M663.6 200.1h.01M633.5 221.2h.01M652.3 207.5h.01M615.0 203.6h.01M639.8 228.9h.01M593.2 206.1h.01M609.8 250.6h.01M631.0 228.2h.01M617.2 233.6h.01M660.7 234.3h.01M593.3 221.1h.01M633.8 198.5h.01M658.8 214.2h.01M617.5 231.6h.01M641.7 224.3h.01M664.5 225.6h.01M621.7 199.7h.01M639.1 216.7h.01M637.7 215.8h.01M593.8 198.2h.01M606.3 201.4h.01M663.9 229.1h.01M613.0 236.5h.01M645.9 199.5h.01M655.6 209.0h.01M676.0 204.1h.01M616.9 210.2h.01M664.8 242.7h.01M641.3 204.5h.01M628.8 236.0h.01M598.0 248.5h.01M663.0 249.1h.01M651.2 231.2h.01M674.1 211.2h.01M618.6 203.0h.01M608.2 241.5h.01M601.1 238.4h.01M626.1 246.0h.01M656.2 235.1h.01M663.3 198.4h.01M615.2 217.0h.01M628.8 234.2h.01M666.2 238.2h.01M670.3 235.7h.01M622.8 224.9h.01M655.3 242.4h.01M623.9 216.3h.01M644.2 209.0h.01M666.5 196.0h.01M647.0 223.7h.01M609.4 228.5h.01M632.6 250.8h.01M666.6 229.4h.01M665.5 246.4h.01M606.9 243.2h.01M662.4 252.5h.01M656.2 218.3h.01M610.3 233.2h.01M610.7 239.2h.01M640.9 243.1h.01M622.8 213.3h.01M668.3 233.8h.01M624.6 228.0h.01M629.3 232.6h.01M636.1 212.3h.01M674.5 246.5h.01M656.2 211.9h.01M609.3 237.7h.01M661.5 233.2h.01M610.9 237.1h.01M636.6 217.3h.01M642.1 221.6h.01M647.0 238.8h.01M674.8 202.3h.01M640.6 249.9h.01M647.7 229.0h.01M664.0 197.8h.01M659.0 231.5h.01M641.7 213.7h.01M644.6 203.1h.01M636.8 210.7h.01M670.5 241.9h.01M632.4 239.0h.01M625.1 225.8h.01M606.6 244.9h.01M656.6 239.3h.01M600.1 242.7h.01M594.2 228.2h.01M633.7 199.4h.01M628.2 246.6h.01M645.0 213.9h.01M660.8 216.3h.01M667.7 218.8h.01M599.6 251.4h.01M599.1 210.4h.01M657.2 202.6h.01M638.4 245.0h.01M642.2 215.8h.01M656.1 243.1h.01" fill="none" stroke="#b030c0" stroke-width="1.00" stroke-linecap="round" opacity="0.9"/>
<path d="M641.3 231.7h.01M620.0 219.2h.01M675.5 251.4h.01M593.3 207.2h.01M611.9 241.2h.01M609.9 205.7h.01M656.8 205.6h.01M674.3 222.0h.01M667.8 242.7h.01M610.4 240.8h.01M627.6 208.7h.01M597.0 236.1h.01M639.8 213.3h.01M662.3 207.2h.01M630.1 201.0h.01M622.3 246.4h.01M634.7 204.8h.01M612.8 232.7h.01M616.3 246.6h.01M598.2 245.5h.01M644.8 242.9h.01M622.6 199.9h.01M607.5 231.7h.01M595.4 202.3h.01M658.1 246.0h.01M664.3 243.7h.01M639.3 245.9h.01M651.1 227.8h.01M628.5 197.4h.01M600.6 210.2h.01M631.5 202.9h.01M673.7 228.9h.01M654.7 246.9h.01M612.0 246.5h.01M672.7 211.2h.01M603.6 241.6h.01M667.1 241.5h.01M627.1 230.3h.01M602.7 209.4h.01M628.0 238.4h.01M600.6 248.9h.01M595.7 251.3h.01M612.9 242.7h.01M661.1 250.4h.01M632.2 235.8h.01M617.4 243.5h.01M602.2 246.4h.01M642.4 199.5h.01M671.3 214.0h.01M598.9 210.8h.01M595.5 212.0h.01M652.1 252.3h.01M645.6 244.7h.01M661.5 236.7h.01M625.1 210.4h.01M606.2 227.2h.01M610.1 238.2h.01M619.8 229.0h.01M638.6 231.8h.01M606.1 210.6h.01" fill="none" stroke="#d848d0" stroke-width="1.10" stroke-linecap="round" opacity="0.9"/>
<path d="M650.4 208.1h.01M648.9 251.0h.01M625.5 250.8h.01M644.2 249.8h.01M636.9 238.9h.01M649.9 207.1h.01M636.2 229.1h.01M631.7 233.6h.01M668.7 241.3h.01M660.6 204.2h.01M651.6 231.8h.01M671.1 196.1h.01M607.5 251.6h.01M624.1 236.2h.01M642.3 218.7h.01M629.6 228.0h.01M675.0 226.4h.01M658.8 213.3h.01M652.3 230.5h.01M654.9 246.1h.01M599.8 251.1h.01M643.8 210.8h.01M631.7 201.5h.01M612.4 243.8h.01M652.2 245.4h.01M606.7 202.2h.01M624.7 224.3h.01M652.2 213.0h.01M654.4 229.3h.01M617.2 240.9h.01M599.3 229.8h.01M608.8 198.4h.01M632.9 225.6h.01M644.0 217.4h.01M670.3 240.7h.01M606.0 196.3h.01M672.9 219.4h.01M601.9 206.1h.01M651.3 206.1h.01M624.2 234.6h.01M622.4 233.3h.01M671.9 241.2h.01M645.3 231.7h.01M618.9 232.5h.01M647.1 229.5h.01M633.9 238.8h.01M610.2 236.7h.01M674.4 198.0h.01M614.1 252.2h.01M600.0 242.6h.01M641.4 200.0h.01M645.5 196.4h.01M663.7 213.2h.01M669.9 247.2h.01M604.5 219.0h.01M605.9 239.2h.01M601.1 200.2h.01M602.8 244.9h.01M613.7 214.4h.01M630.2 227.5h.01M627.5 250.0h.01M621.5 223.1h.01M664.8 209.9h.01M607.6 243.7h.01M619.4 246.8h.01M661.4 217.3h.01M620.8 201.8h.01M665.7 221.2h.01M621.6 206.1h.01M612.0 245.8h.01" fill="none" stroke="#7028c0" stroke-width="1.10" stroke-linecap="round" opacity="0.85"/>
<path d="M604.0 227.6h.01M645.1 225.7h.01M634.9 218.7h.01M609.1 242.8h.01M667.6 228.1h.01M614.1 248.0h.01M609.9 205.7h.01M645.1 243.4h.01M640.7 202.3h.01M674.5 204.9h.01M621.7 252.3h.01M658.9 239.1h.01M599.5 244.6h.01M626.4 196.6h.01M658.7 249.0h.01M597.1 221.9h.01M668.0 215.0h.01M618.3 240.4h.01M629.8 252.9h.01M664.2 244.9h.01M651.9 207.1h.01M650.2 229.0h.01M633.3 228.3h.01M618.5 207.3h.01M668.9 216.9h.01M602.0 251.7h.01M635.6 234.5h.01M621.4 204.5h.01M620.8 243.5h.01M615.9 248.0h.01M618.5 247.1h.01M608.1 221.3h.01M603.9 204.5h.01M636.6 216.8h.01M637.8 208.3h.01M619.0 214.3h.01M667.8 200.6h.01M627.7 244.7h.01M640.7 210.6h.01M676.0 202.2h.01M604.6 197.0h.01M629.6 244.9h.01M616.6 212.3h.01M659.4 200.4h.01M594.6 233.8h.01M600.5 226.1h.01M605.2 230.3h.01M663.9 221.8h.01M615.9 231.5h.01M651.3 199.2h.01M613.1 217.5h.01M635.2 211.6h.01M647.8 210.6h.01M668.3 216.0h.01M611.6 200.5h.01M603.7 208.3h.01M666.5 219.7h.01M630.0 250.7h.01M673.4 239.6h.01M613.1 214.7h.01M635.1 210.7h.01M622.0 208.1h.01M613.2 238.7h.01M643.3 221.4h.01M632.3 231.0h.01M650.0 197.3h.01M663.2 222.4h.01M621.6 250.6h.01M656.0 216.0h.01M595.2 220.9h.01M629.7 217.4h.01M601.3 228.9h.01M614.3 239.4h.01M637.1 212.7h.01M661.8 221.5h.01M600.2 212.0h.01M597.6 220.5h.01M668.6 249.6h.01M647.3 204.8h.01M613.1 207.6h.01M624.1 232.4h.01M595.0 223.9h.01M628.5 233.7h.01M661.8 218.6h.01M643.2 211.5h.01M630.9 232.2h.01M597.5 225.3h.01M634.9 206.5h.01M613.8 243.0h.01M622.2 207.0h.01M616.8 225.7h.01M626.3 216.0h.01M620.0 208.3h.01M635.1 230.2h.01M600.6 229.7h.01M618.7 251.8h.01M671.1 203.5h.01M651.0 215.7h.01M602.4 245.9h.01M668.6 240.8h.01M646.0 251.7h.01M639.3 234.5h.01M647.4 245.0h.01M664.2 213.3h.01M610.5 227.1h.01M642.1 216.1h.01M664.6 244.4h.01M650.2 226.5h.01M650.9 207.1h.01M660.2 203.3h.01M668.2 231.7h.01M616.2 206.9h.01M643.0 222.4h.01M651.0 201.6h.01M665.8 220.5h.01M629.7 238.1h.01M643.5 221.4h.01M617.5 222.6h.01M595.8 210.6h.01M661.7 202.8h.01" fill="none" stroke="#e07a2c" stroke-width="1.00" stroke-linecap="round" opacity="0.95"/>
<path d="M600.3 244.3h.01M624.2 226.2h.01M642.0 236.9h.01M619.6 239.9h.01M593.2 244.3h.01M618.9 231.6h.01M618.4 238.7h.01M624.4 230.3h.01M619.8 243.5h.01M657.7 207.5h.01M656.0 249.7h.01M612.9 206.9h.01M670.5 250.9h.01M604.0 240.2h.01M670.4 211.0h.01M658.0 212.9h.01M658.5 225.0h.01M632.4 203.1h.01M647.4 235.9h.01M617.3 198.6h.01M600.7 210.8h.01M675.9 238.4h.01M667.6 238.7h.01M604.3 218.0h.01M672.0 244.5h.01M675.5 242.7h.01M652.2 239.5h.01M669.1 220.5h.01M596.0 213.8h.01M594.3 211.5h.01M642.2 211.7h.01M613.8 201.4h.01M622.9 225.4h.01M642.2 249.8h.01M599.0 210.5h.01M599.6 249.0h.01M645.7 233.4h.01M660.7 196.1h.01M668.2 214.9h.01M645.4 219.0h.01M655.1 213.2h.01M616.2 210.2h.01M653.4 222.0h.01M606.1 216.3h.01M640.3 217.2h.01" fill="none" stroke="#e89a48" stroke-width="1.20" stroke-linecap="round" opacity="0.95"/>
<path d="M642.4 244.1h.01M646.3 241.7h.01M618.4 245.6h.01M671.3 226.2h.01M595.1 200.9h.01M656.1 245.4h.01M653.3 224.9h.01M638.0 202.6h.01M642.9 253.0h.01M610.3 230.8h.01M663.8 233.1h.01M622.3 209.6h.01M654.0 248.9h.01M666.1 218.8h.01M655.0 242.2h.01M624.4 239.1h.01M625.2 207.4h.01M593.2 237.3h.01M655.7 198.4h.01M598.3 214.2h.01M610.5 237.7h.01M609.0 229.3h.01M638.9 215.9h.01M664.1 220.9h.01M635.7 234.0h.01M626.8 206.6h.01M672.3 238.9h.01M638.5 224.3h.01M644.4 212.8h.01M599.2 227.1h.01M667.9 201.6h.01M674.6 217.3h.01M676.1 239.9h.01M615.8 208.1h.01M666.9 251.8h.01M660.0 229.3h.01M638.3 240.6h.01M661.5 243.6h.01M617.1 243.1h.01M672.3 228.7h.01" fill="none" stroke="#c84a28" stroke-width="1.00" stroke-linecap="round" opacity="0.9"/>
<path d="M594.0 206.7h.01M647.2 220.2h.01M669.4 232.6h.01M651.3 204.6h.01M636.8 236.5h.01M669.3 247.4h.01M615.1 224.6h.01M674.4 201.1h.01M599.1 206.4h.01M653.9 214.5h.01M651.9 243.2h.01M660.3 198.3h.01M650.3 241.5h.01M651.5 245.2h.01M661.1 231.0h.01M665.1 227.0h.01M602.2 212.2h.01M670.6 215.2h.01M632.3 245.8h.01M650.1 241.1h.01M632.2 224.9h.01M599.6 207.4h.01M606.3 226.6h.01M636.9 200.1h.01M645.9 201.8h.01M625.2 197.5h.01M632.6 204.3h.01M671.3 216.6h.01M662.0 221.2h.01M620.4 243.9h.01M616.0 225.4h.01M646.3 252.7h.01M651.6 198.9h.01M631.0 250.3h.01M664.1 217.0h.01M603.9 211.3h.01M656.0 206.3h.01M667.2 211.1h.01M650.4 235.5h.01M613.3 225.6h.01M645.4 211.3h.01M637.4 231.8h.01M672.7 212.2h.01M607.6 224.9h.01M642.7 223.8h.01M669.0 207.5h.01M635.4 222.9h.01M609.6 221.9h.01M630.8 217.4h.01M657.4 252.2h.01M673.6 208.4h.01M624.1 250.1h.01M600.1 201.1h.01M598.6 250.7h.01M635.2 220.7h.01M601.4 246.4h.01M675.6 235.2h.01M668.9 228.4h.01M619.0 206.2h.01M618.4 204.5h.01" fill="none" stroke="#1c9a34" stroke-width="1.00" stroke-linecap="round" opacity="0.8"/>
<path d="M636.5 236.5C640 234.5 645 235.2 649.5 236.8C652.2 238.6 652 243 648.5 243.2C645 242 643.5 239.4 640 239C638 238.8 636.5 238 636.5 236.5Z" fill="#22b236" opacity="0.9"/>
<path d="M644.8 201.2C646.2 200.2 647.8 201.4 647.4 203.4C646.6 205.2 644.6 205 644.4 203Z" fill="#22b236"/>
<path d="M593 216.5C595 216 597 218 596.4 220.6C595.4 222.4 593.2 222.2 593 220.8Z" fill="#1fae36"/>
<path d="M660 229.5L662.5 230.5L661 232.5Z" fill="#1fae36"/>
<path d="M628 231L633 229.5L631 233Z" fill="#1a9a30"/>
<path d="M652 224L655 225L653.6 227Z" fill="#1a9a30"/>
<defs><radialGradient id="obg" cx="0.52" cy="0.45" r="0.7"><stop offset="0" stop-color="#f6f6f4"/><stop offset="0.6" stop-color="#efefec"/><stop offset="1" stop-color="#d9d9d6"/></radialGradient><radialGradient id="og"><stop offset="0" stop-color="#938c7b"/><stop offset="0.8" stop-color="#9c9686"/><stop offset="1" stop-color="#aaa596"/></radialGradient><radialGradient id="og2"><stop offset="0" stop-color="#857f70"/><stop offset="0.55" stop-color="#9a9486"/><stop offset="1" stop-color="#c4c0b6" stop-opacity="0.3"/></radialGradient><radialGradient id="og3"><stop offset="0" stop-color="#9a9aa4" stop-opacity="0.9"/><stop offset="1" stop-color="#d0d0d0" stop-opacity="0"/></radialGradient><radialGradient id="og4"><stop offset="0" stop-color="#b8b2a2" stop-opacity="0.8"/><stop offset="1" stop-color="#d8d6cc" stop-opacity="0.1"/></radialGradient></defs>
<rect x="592.6" y="261.3" width="84.2" height="55.3" fill="url(#obg)" stroke="#70787c" stroke-width="0.7"/>
<circle cx="620" cy="304" r="4.6" fill="url(#og3)"/>
<circle cx="627.5" cy="266.5" r="2.8" fill="url(#og3)"/>
<circle cx="632.7" cy="292.2" r="2.4" fill="url(#og3)"/>
<circle cx="654" cy="312" r="5" fill="url(#og3)"/>
<circle cx="600" cy="300" r="5" fill="url(#og3)"/>
<circle cx="619.6" cy="263.3" r="3.6" fill="url(#og4)"/>
<circle cx="634.7" cy="267.2" r="4" fill="url(#og4)"/>
<circle cx="658.3" cy="279.7" r="3" fill="url(#og4)"/>
<circle cx="670.2" cy="309.2" r="3" fill="url(#og4)"/>
<circle cx="596.6" cy="314.5" r="2.6" fill="url(#og4)"/>
<circle cx="647.2" cy="264.6" r="4" fill="url(#og4)"/>
<circle cx="611" cy="309" r="2.4" fill="url(#og4)"/>
<circle cx="640" cy="309.5" r="2" fill="url(#og4)"/>
<circle cx="597.9" cy="275.7" r="4.8" fill="url(#og2)"/>
<circle cx="597.5" cy="281.5" r="2.6" fill="url(#og2)"/>
<circle cx="605.5" cy="271.1" r="3.3" fill="url(#og2)"/>
<circle cx="670.8" cy="275" r="6.2" fill="url(#og2)"/>
<circle cx="670.8" cy="296.4" r="3.7" fill="url(#og2)"/>
<circle cx="651.1" cy="274.4" r="3.3" fill="url(#og2)"/>
<circle cx="631.4" cy="314.2" r="2.6" fill="url(#og2)"/>
<circle cx="597.2" cy="275.6" r="1.3" fill="#5e584c"/>
<circle cx="671.0" cy="274.6" r="1.6" fill="#6a6458"/>
<ellipse cx="611" cy="293.5" rx="7.9" ry="8.5" fill="url(#og)" stroke="#5e5c54" stroke-width="0.5"/>
<circle cx="615.0" cy="289.0" r="1.0" fill="#6e685a"/>
<path d="M641.2 296C641 290 645 286.6 651 285.5C656 284.6 659.8 285.4 661 288.6C662.6 292 664.2 296 663.4 300.5C662.4 305 657.5 307.4 652 307.7C647.5 307.8 643.5 306.4 642.2 302.5C641.4 300.2 641.3 298 641.2 296Z" fill="url(#og)" stroke="#3d414a" stroke-width="0.75"/>
<path d="M623.8 264.6h.01M596.6 310.5h.01M663.6 306.0h.01M622.4 286.3h.01M638.3 304.5h.01M618.4 289.7h.01M638.8 307.4h.01M622.2 262.2h.01M626.7 309.7h.01M607.7 295.8h.01M604.2 276.6h.01M645.1 267.5h.01M630.9 293.7h.01M625.4 302.8h.01M663.4 277.1h.01M656.3 302.8h.01M642.7 293.9h.01M640.3 301.9h.01M650.5 276.6h.01M647.2 300.4h.01M631.6 310.4h.01M619.3 291.8h.01M640.4 294.6h.01M608.5 298.1h.01M602.8 290.8h.01M630.6 299.5h.01M664.4 315.2h.01M612.3 311.1h.01M632.4 289.2h.01M596.6 308.4h.01M612.2 277.0h.01M618.5 274.6h.01M617.2 277.6h.01M637.4 281.4h.01M656.0 312.4h.01M670.5 282.3h.01M649.9 301.6h.01M653.4 283.6h.01M609.2 302.9h.01M647.7 281.0h.01M648.5 265.6h.01M658.2 310.5h.01M673.7 268.2h.01M650.6 304.2h.01M604.9 294.9h.01M608.9 273.8h.01M595.5 277.2h.01M663.7 293.7h.01M659.4 314.4h.01M605.8 307.8h.01M667.6 297.1h.01M620.9 271.5h.01M629.6 282.1h.01M614.8 298.4h.01M645.9 276.0h.01M607.5 288.9h.01M652.2 297.9h.01M646.4 310.4h.01M656.1 285.9h.01M655.1 297.9h.01M621.5 271.0h.01M624.5 300.8h.01M655.5 278.4h.01M638.1 266.0h.01M642.8 286.2h.01M656.9 308.5h.01M597.6 314.1h.01M607.4 314.1h.01M675.0 274.0h.01M617.4 269.8h.01" fill="none" stroke="#8a8576" stroke-width="0.60" stroke-linecap="round" opacity="0.6"/>
<path d="M668.8 302.9h.01M673.4 305.6h.01M623.1 303.8h.01M622.8 279.8h.01M628.6 299.8h.01M619.5 292.2h.01M640.3 304.9h.01M632.2 284.7h.01M639.3 286.9h.01M653.9 267.8h.01M608.0 264.1h.01M627.5 307.8h.01M643.0 296.4h.01M670.8 306.4h.01M617.5 274.0h.01M637.8 274.4h.01M642.7 266.3h.01M625.6 301.0h.01M614.4 270.1h.01M655.3 272.5h.01M668.0 295.1h.01M667.0 290.7h.01M633.8 275.9h.01M598.0 313.5h.01M611.4 266.4h.01M670.6 291.0h.01M641.4 311.6h.01M654.0 276.0h.01M616.7 297.4h.01M649.7 274.2h.01M613.9 289.5h.01M598.1 305.4h.01M647.8 270.2h.01M641.3 294.0h.01M600.6 285.2h.01M658.9 286.6h.01M653.5 274.6h.01M676.1 298.1h.01M639.5 262.6h.01M622.7 262.1h.01" fill="none" stroke="#6e695c" stroke-width="0.80" stroke-linecap="round" opacity="0.6"/>
<rect x="592.3" y="325.2" width="84.5" height="55.2" fill="#fff" stroke="#70787c" stroke-width="0.7"/>
<g>
<g transform="translate(31.5 -14.7)">
<path d="M620 366.2L618.8 368.2H623L622.4 366.6Z" fill="#d8a096"/>
<path d="M631 366.6L630.4 368.6H634.4L633.6 366.4Z" fill="#d8a096"/>
<path d="M615.8 364.2C615 357.2 620 353 627 353.2C632 353 636 355.4 638.6 357.4C641 358.8 643.8 362.6 643.2 364.6C641 366.2 637 365.6 634.6 366.2C630 368 622 367.6 618 366.6C616.6 366.2 616 365.2 615.8 364.2Z" fill="#3d3939"/>
<path d="M636.4 355.6L637.6 353.8L638.8 356.4Z" fill="#3d3939"/>
<ellipse cx="634" cy="358.8" rx="1.7" ry="2.4" fill="#c98a82" transform="rotate(20 634 358.8)"/>
<circle cx="626.8" cy="357.2" r="2.0" fill="#c9252b"/>
<rect x="626.0" y="356.7" width="1.6" height="1.0" fill="#fff"/>
<line x1="626.4" y1="356.6" x2="622.6" y2="352.4" stroke="#d8988c" stroke-width="0.5"/>
<path d="M623.4 351.6L617.1 345.2L615.5 346.8L621.8 353.2Z" fill="#f4d4cc" stroke="#c9675a" stroke-width="0.5"/>
<path d="M618 344.3L614.6 347.7" fill="none" stroke="#c9675a" stroke-width="0.7"/>
<line x1="616.3" y1="346.0" x2="614.0" y2="343.6" stroke="#c9675a" stroke-width="0.6"/>
<path d="M615.3 342.3L612.7 344.9" fill="none" stroke="#c9675a" stroke-width="0.7"/>
</g>
<g transform="translate(21.0 -9.8)">
<path d="M620 366.2L618.8 368.2H623L622.4 366.6Z" fill="#d8a096"/>
<path d="M631 366.6L630.4 368.6H634.4L633.6 366.4Z" fill="#d8a096"/>
<path d="M615.8 364.2C615 357.2 620 353 627 353.2C632 353 636 355.4 638.6 357.4C641 358.8 643.8 362.6 643.2 364.6C641 366.2 637 365.6 634.6 366.2C630 368 622 367.6 618 366.6C616.6 366.2 616 365.2 615.8 364.2Z" fill="#3d3939"/>
<path d="M636.4 355.6L637.6 353.8L638.8 356.4Z" fill="#3d3939"/>
<ellipse cx="634" cy="358.8" rx="1.7" ry="2.4" fill="#c98a82" transform="rotate(20 634 358.8)"/>
<circle cx="626.8" cy="357.2" r="2.0" fill="#c9252b"/>
<rect x="626.0" y="356.7" width="1.6" height="1.0" fill="#fff"/>
<line x1="626.4" y1="356.6" x2="622.6" y2="352.4" stroke="#d8988c" stroke-width="0.5"/>
<path d="M623.4 351.6L617.1 345.2L615.5 346.8L621.8 353.2Z" fill="#f4d4cc" stroke="#c9675a" stroke-width="0.5"/>
<path d="M618 344.3L614.6 347.7" fill="none" stroke="#c9675a" stroke-width="0.7"/>
<line x1="616.3" y1="346.0" x2="614.0" y2="343.6" stroke="#c9675a" stroke-width="0.6"/>
<path d="M615.3 342.3L612.7 344.9" fill="none" stroke="#c9675a" stroke-width="0.7"/>
</g>
<g transform="translate(10.5 -4.9)">
<path d="M620 366.2L618.8 368.2H623L622.4 366.6Z" fill="#d8a096"/>
<path d="M631 366.6L630.4 368.6H634.4L633.6 366.4Z" fill="#d8a096"/>
<path d="M615.8 364.2C615 357.2 620 353 627 353.2C632 353 636 355.4 638.6 357.4C641 358.8 643.8 362.6 643.2 364.6C641 366.2 637 365.6 634.6 366.2C630 368 622 367.6 618 366.6C616.6 366.2 616 365.2 615.8 364.2Z" fill="#3d3939"/>
<path d="M636.4 355.6L637.6 353.8L638.8 356.4Z" fill="#3d3939"/>
<ellipse cx="634" cy="358.8" rx="1.7" ry="2.4" fill="#c98a82" transform="rotate(20 634 358.8)"/>
<circle cx="626.8" cy="357.2" r="2.0" fill="#c9252b"/>
<rect x="626.0" y="356.7" width="1.6" height="1.0" fill="#fff"/>
<line x1="626.4" y1="356.6" x2="622.6" y2="352.4" stroke="#d8988c" stroke-width="0.5"/>
<path d="M623.4 351.6L617.1 345.2L615.5 346.8L621.8 353.2Z" fill="#f4d4cc" stroke="#c9675a" stroke-width="0.5"/>
<path d="M618 344.3L614.6 347.7" fill="none" stroke="#c9675a" stroke-width="0.7"/>
<line x1="616.3" y1="346.0" x2="614.0" y2="343.6" stroke="#c9675a" stroke-width="0.6"/>
<path d="M615.3 342.3L612.7 344.9" fill="none" stroke="#c9675a" stroke-width="0.7"/>
</g>
<g transform="translate(0.0 -0.0)">
<path d="M616.8 365.2C611 366 606 363.4 606.6 360.6C607.6 358.4 612 358.8 615.6 361.2" fill="none" stroke="#d0938a" stroke-width="1.1"/>
<path d="M611 365C605 363.6 598.4 364 596.2 367.8C595.4 369.8 596.2 370.8 597 371" fill="none" stroke="#d0938a" stroke-width="1.1"/>
<path d="M620 366.2L618.8 368.2H623L622.4 366.6Z" fill="#d8a096"/>
<path d="M631 366.6L630.4 368.6H634.4L633.6 366.4Z" fill="#d8a096"/>
<path d="M615.8 364.2C615 357.2 620 353 627 353.2C632 353 636 355.4 638.6 357.4C641 358.8 643.8 362.6 643.2 364.6C641 366.2 637 365.6 634.6 366.2C630 368 622 367.6 618 366.6C616.6 366.2 616 365.2 615.8 364.2Z" fill="#3d3939"/>
<path d="M636.4 355.6L637.6 353.8L638.8 356.4Z" fill="#3d3939"/>
<ellipse cx="634" cy="358.8" rx="1.7" ry="2.4" fill="#c98a82" transform="rotate(20 634 358.8)"/>
<circle cx="626.8" cy="357.2" r="2.0" fill="#c9252b"/>
<rect x="626.0" y="356.7" width="1.6" height="1.0" fill="#fff"/>
<line x1="626.4" y1="356.6" x2="622.6" y2="352.4" stroke="#d8988c" stroke-width="0.5"/>
<path d="M623.4 351.6L617.1 345.2L615.5 346.8L621.8 353.2Z" fill="#f4d4cc" stroke="#c9675a" stroke-width="0.5"/>
<path d="M618 344.3L614.6 347.7" fill="none" stroke="#c9675a" stroke-width="0.7"/>
<line x1="616.3" y1="346.0" x2="614.0" y2="343.6" stroke="#c9675a" stroke-width="0.6"/>
<path d="M615.3 342.3L612.7 344.9" fill="none" stroke="#c9675a" stroke-width="0.7"/>
</g>
</g>
<text x="-0.2" y="410.6" font-size="17.5" font-weight="bold">b</text>
<rect x="59.6" y="406.4" width="173.8" height="110.1" fill="#fff" stroke="#4d4d4d" stroke-width="0.7"/>
<text x="55.8" y="434.2" font-size="8.35" text-anchor="end" fill="#222">40</text>
<line x1="57.4" y1="431.2" x2="59.6" y2="431.2" stroke="#333" stroke-width="0.6"/>
<text x="55.8" y="458.0" font-size="8.35" text-anchor="end" fill="#222">20</text>
<line x1="57.4" y1="455.0" x2="59.6" y2="455.0" stroke="#333" stroke-width="0.6"/>
<text x="55.8" y="481.0" font-size="8.35" text-anchor="end" fill="#222">0</text>
<line x1="57.4" y1="478.0" x2="59.6" y2="478.0" stroke="#333" stroke-width="0.6"/>
<text x="55.8" y="504.7" font-size="8.35" text-anchor="end" fill="#222">−20</text>
<line x1="57.4" y1="501.7" x2="59.6" y2="501.7" stroke="#333" stroke-width="0.6"/>
<text x="82.6" y="525.0" font-size="8.35" text-anchor="middle" fill="#222">−50</text>
<line x1="82.6" y1="516.5" x2="82.6" y2="518.7" stroke="#333" stroke-width="0.6"/>
<text x="120.6" y="525.0" font-size="8.35" text-anchor="middle" fill="#222">−25</text>
<line x1="120.6" y1="516.5" x2="120.6" y2="518.7" stroke="#333" stroke-width="0.6"/>
<text x="158.8" y="525.0" font-size="8.35" text-anchor="middle" fill="#222">0</text>
<line x1="158.8" y1="516.5" x2="158.8" y2="518.7" stroke="#333" stroke-width="0.6"/>
<text x="196.8" y="525.0" font-size="8.35" text-anchor="middle" fill="#222">25</text>
<line x1="196.8" y1="516.5" x2="196.8" y2="518.7" stroke="#333" stroke-width="0.6"/>
<text x="40.2" y="461.8" font-size="8.35" text-anchor="middle" transform="rotate(-90 40.2 461.8)">PC2: 14.34% variance</text>
<text x="152.5" y="536.6" font-size="8.35" text-anchor="middle">PC1: 63.52% variance</text>
<ellipse cx="105.1" cy="485.7" rx="32.8" ry="7" fill="none" stroke="#f8766d" stroke-width="0.7" transform="rotate(3 105.1 485.7)"/>
<ellipse cx="73.2" cy="477.8" rx="4.8" ry="3.6" fill="none" stroke="#7cae00" stroke-width="0.8" transform="rotate(-25 73.2 477.8)"/>
<ellipse cx="206.6" cy="486.2" rx="10.5" ry="15.9" fill="none" stroke="#c77cff" stroke-width="0.7"/>
<ellipse cx="189" cy="413.8" rx="2.8" ry="1.7" fill="#00bfc4" transform="rotate(-25 189 413.8)"/>
<circle cx="92.6" cy="469.9" r="1.1" fill="#f8766d"/>
<text x="87.6" y="466.9" font-size="3.0" fill="#333">OCL2_A</text>
<circle cx="101.8" cy="477.8" r="1.1" fill="#f8766d"/>
<text x="95.8" y="474.8" font-size="3.0" fill="#333">OCE1_A</text>
<circle cx="110.6" cy="483.5" r="1.1" fill="#f8766d"/>
<text x="108.6" y="481.1" font-size="3.0" fill="#333">OCL6_A</text>
<circle cx="119.3" cy="485.2" r="1.1" fill="#f8766d"/>
<text x="113.3" y="489.8" font-size="3.0" fill="#333">OCL5_A</text>
<circle cx="89.1" cy="487.0" r="1.1" fill="#f8766d"/>
<text x="86.1" y="484.8" font-size="3.0" fill="#333">OCL1_A</text>
<circle cx="83.9" cy="489.2" r="1.1" fill="#f8766d"/>
<text x="79.9" y="494.0" font-size="3.0" fill="#333">OCL8_A</text>
<circle cx="97.0" cy="496.0" r="1.1" fill="#f8766d"/>
<text x="91.0" y="499.6" font-size="3.0" fill="#333">OCL4_A</text>
<circle cx="168.5" cy="490.4" r="1.1" fill="#f8766d"/>
<text x="162.0" y="495.0" font-size="3.0" fill="#333">OCL7_A</text>
<circle cx="66.8" cy="473.4" r="1.1" fill="#7cae00"/>
<text x="60.8" y="470.8" font-size="3.0" fill="#333">HA_47</text>
<circle cx="77.7" cy="473.9" r="1.1" fill="#7cae00"/>
<text x="73.1" y="471.5" font-size="3.0" fill="#333">HA_43</text>
<circle cx="75.5" cy="477.6" r="1.1" fill="#7cae00"/>
<text x="79.7" y="475.0" font-size="3.0" fill="#333">HA_49</text>
<circle cx="72.3" cy="480.4" r="1.1" fill="#7cae00"/>
<text x="67.3" y="492.2" font-size="3.0" fill="#333">HA_42</text>
<circle cx="67.2" cy="483.5" r="1.1" fill="#7cae00"/>
<text x="60.2" y="488.3" font-size="3.0" fill="#333">HA_12</text>
<circle cx="71.0" cy="477.5" r="1.1" fill="#7cae00"/>
<text x="60.0" y="478.0" font-size="3.0" fill="#333">HA_41</text>
<line x1="72.3" y1="481.0" x2="72.8" y2="489.0" stroke="#777" stroke-width="0.3"/>
<circle cx="199.6" cy="446.0" r="1.1" fill="#c77cff"/>
<text x="187.6" y="452.0" font-size="3.0" fill="#333">OCE2_P</text>
<circle cx="220.8" cy="470.6" r="1.1" fill="#c77cff"/>
<text x="211.8" y="465.1" font-size="3.0" fill="#333">OCL6_OM</text>
<circle cx="208.9" cy="473.6" r="1.1" fill="#c77cff"/>
<text x="196.9" y="468.6" font-size="3.0" fill="#333">OCL5_P</text>
<circle cx="219.0" cy="475.3" r="1.1" fill="#c77cff"/>
<text x="217.0" y="480.7" font-size="3.0" fill="#333">OCL6_PM</text>
<circle cx="189.0" cy="486.0" r="1.1" fill="#c77cff"/>
<text x="174.0" y="486.5" font-size="3.0" fill="#333">OCL8_P</text>
<circle cx="202.6" cy="487.0" r="1.1" fill="#c77cff"/>
<text x="178.1" y="479.5" font-size="3.0" fill="#333">OCL3_OM</text>
<circle cx="208.2" cy="487.0" r="1.1" fill="#c77cff"/>
<text x="199.2" y="481.6" font-size="3.0" fill="#333">OCL5_OM</text>
<circle cx="204.2" cy="489.3" r="1.1" fill="#c77cff"/>
<text x="183.2" y="491.3" font-size="3.0" fill="#333">OCL3_P</text>
<circle cx="208.2" cy="489.3" r="1.1" fill="#c77cff"/>
<text x="181.2" y="494.9" font-size="3.0" fill="#333">OCL5_PM</text>
<circle cx="224.6" cy="488.1" r="1.1" fill="#c77cff"/>
<text x="216.6" y="484.7" font-size="3.0" fill="#333">OCL7_PM</text>
<circle cx="207.7" cy="495.8" r="1.1" fill="#c77cff"/>
<text x="180.7" y="499.6" font-size="3.0" fill="#333">OCL8_PM</text>
<circle cx="221.0" cy="495.1" r="1.1" fill="#c77cff"/>
<text x="213.0" y="499.7" font-size="3.0" fill="#333">OCL7_OM</text>
<circle cx="209.6" cy="501.7" r="1.1" fill="#c77cff"/>
<text x="199.6" y="506.7" font-size="3.0" fill="#333">OCL1_P</text>
<circle cx="214.7" cy="504.0" r="1.1" fill="#c77cff"/>
<text x="216.7" y="503.6" font-size="3.0" fill="#333">OCL7_P</text>
<circle cx="192.8" cy="504.7" r="1.1" fill="#c77cff"/>
<text x="184.8" y="510.3" font-size="3.0" fill="#333">OCL6_P</text>
<circle cx="210.5" cy="488.0" r="1.1" fill="#c77cff"/>
<text x="217.5" y="492.2" font-size="3.0" fill="#333">OCE3_P</text>
<circle cx="214.7" cy="504.0" r="1.1" fill="#c77cff"/>
<text x="212.7" y="513.6" font-size="3.0" fill="#333">OCL1_PM</text>
<line x1="202.6" y1="487.0" x2="196.0" y2="480.5" stroke="#777" stroke-width="0.3"/>
<line x1="204.2" y1="489.3" x2="196.0" y2="491.2" stroke="#777" stroke-width="0.3"/>
<line x1="208.2" y1="489.3" x2="196.5" y2="494.0" stroke="#777" stroke-width="0.3"/>
<line x1="207.7" y1="495.8" x2="197.0" y2="498.5" stroke="#777" stroke-width="0.3"/>
<line x1="210.5" y1="488.0" x2="217.0" y2="491.5" stroke="#777" stroke-width="0.3"/>
<line x1="214.7" y1="504.0" x2="216.5" y2="511.0" stroke="#777" stroke-width="0.3"/>
<text x="182.2" y="412.2" font-size="2.7" fill="#333">N2</text>
<text x="182.2" y="419.3" font-size="2.7" fill="#333">N3</text>
<text x="192.5" y="417.6" font-size="2.7" fill="#333">N1</text>
<line x1="238.0" y1="437.3" x2="245.0" y2="437.3" stroke="#c77cff" stroke-width="0.6"/>
<circle cx="241.5" cy="437.3" r="1.1" fill="#c77cff"/>
<text x="249.9" y="441.4" font-size="8.35">Solid sites</text>
<line x1="238.0" y1="447.8" x2="245.0" y2="447.8" stroke="#f8766d" stroke-width="0.6"/>
<circle cx="241.5" cy="447.8" r="1.1" fill="#f8766d"/>
<text x="249.9" y="452.1" font-size="8.35">Fluid sites</text>
<line x1="238.0" y1="460.0" x2="245.0" y2="460.0" stroke="#00bfc4" stroke-width="0.6"/>
<circle cx="241.5" cy="460.0" r="1.1" fill="#00bfc4"/>
<text x="249.9" y="464.1" font-size="8.35">Nor. Ovr</text>
<line x1="238.0" y1="473.2" x2="245.0" y2="473.2" stroke="#7cae00" stroke-width="0.6"/>
<circle cx="241.5" cy="473.2" r="1.1" fill="#7cae00"/>
<text x="249.9" y="476.4" font-size="8.35">PLF.UF</text>
<text x="-0.2" y="561.2" font-size="17.5" font-weight="bold">c</text>
<path d="M75.0 573.6C76.3 572.1 78.7 572.0 80.5 572.1C82.3 572.2 84.9 572.7 86.0 574.3C87.1 575.8 87.3 579.0 87.1 581.3C86.9 583.5 85.5 585.7 84.9 587.8C84.3 590.0 83.4 592.4 83.4 594.4C83.4 596.4 84.3 598.2 84.9 599.9C85.5 601.5 87.4 603.2 87.1 604.3C86.7 605.4 83.8 606.8 82.7 606.5C81.6 606.1 81.1 604.1 80.5 602.1C79.9 600.1 79.7 596.8 79.0 594.4C78.2 592.0 77.2 590.0 76.1 587.8C75.1 585.7 73.0 583.6 72.8 581.3C72.7 578.9 73.8 575.1 75.0 573.6Z" fill="#dcd4d6"/>
<path d="M53.1 602.1C54.3 600.8 56.4 599.2 58.6 598.8C60.8 598.4 64.3 599.0 66.3 599.9C68.3 600.8 69.0 602.8 70.7 604.3C72.3 605.7 74.1 607.6 76.1 608.6C78.1 609.7 80.9 611.2 82.7 610.8C84.5 610.5 86.0 606.8 87.1 606.5C88.2 606.1 89.8 607.2 89.3 608.6C88.7 610.1 85.3 613.2 83.8 615.2C82.3 617.2 81.6 619.8 80.5 620.7C79.4 621.6 78.1 621.4 77.2 620.7C76.3 620.0 76.5 617.3 75.0 616.3C73.6 615.3 70.8 614.9 68.5 614.6C66.1 614.2 63.3 614.7 60.8 614.1C58.3 613.5 55.1 612.1 53.6 610.8C52.0 609.6 51.5 607.9 51.4 606.5C51.3 605.0 51.9 603.4 53.1 602.1Z" fill="#dec9cd"/>
<path d="M92.1 589.6C93.3 588.5 95.3 588.4 96.5 588.9C97.7 589.5 98.8 591.0 99.1 592.7C99.5 594.3 99.2 597.2 98.7 598.8C98.1 600.4 96.9 601.7 95.8 602.1C94.8 602.4 93.4 601.7 92.6 601.0C91.7 600.3 91.7 597.5 90.8 597.7C89.9 597.9 88.1 601.6 87.1 602.1C86.1 602.6 84.5 601.6 84.9 600.5C85.3 599.4 88.1 597.3 89.3 595.5C90.5 593.7 90.9 590.7 92.1 589.6Z" fill="#c3bad2"/>
<path d="M93.2 602.7C94.0 602.1 96.2 601.6 97.4 602.1C98.5 602.6 99.7 604.1 100.2 605.8C100.7 607.5 100.7 610.5 100.4 612.4C100.2 614.2 99.6 616.3 98.7 616.7C97.8 617.2 96.0 616.3 95.2 615.2C94.3 614.1 94.1 611.7 93.6 610.2C93.2 608.6 92.6 607.0 92.6 605.8C92.5 604.6 92.4 603.4 93.2 602.7Z" fill="#ebe2f6"/>
<path d="M136.3 562.7C138.4 561.6 139.6 561.0 141.2 561.1C142.7 561.2 144.3 561.6 145.5 563.3C146.7 565.0 148.0 568.9 148.4 571.4C148.8 574.0 146.8 576.9 147.7 578.6C148.6 580.4 151.8 580.8 153.9 581.7C155.9 582.6 158.7 582.5 160.0 583.9C161.3 585.3 162.0 587.8 161.7 590.0C161.5 592.2 159.9 595.1 158.7 597.0C157.4 599.0 155.4 600.1 154.3 601.9C153.2 603.6 153.2 605.6 152.1 607.6C151.0 609.5 149.1 613.0 147.7 613.7C146.3 614.3 145.4 612.2 143.8 611.5C142.2 610.8 140.1 610.3 138.1 609.3C136.1 608.4 133.6 607.4 131.5 605.8C129.5 604.2 127.5 602.1 125.8 599.9C124.2 597.7 122.7 595.1 121.5 592.7C120.2 590.2 118.8 587.5 118.4 585.2C118.0 583.0 118.5 581.1 119.3 579.1C120.1 577.0 121.6 574.9 123.2 573.0C124.8 571.1 126.5 569.4 128.7 567.7C130.9 566.0 134.3 563.8 136.3 562.7Z" fill="#f0853a"/>
<path d="M135.6 591.3h.01M146.9 590.3h.01M136.7 592.4h.01M138.2 591.0h.01M139.9 592.9h.01M142.3 591.0h.01M135.3 591.9h.01M129.4 592.3h.01M125.9 589.7h.01M139.2 591.1h.01M144.3 587.7h.01M130.9 595.2h.01M141.5 590.4h.01M125.2 592.3h.01M130.2 593.6h.01M145.3 591.4h.01M147.4 589.9h.01M136.4 591.4h.01M123.4 590.9h.01M125.9 596.1h.01M139.4 593.1h.01M147.7 591.2h.01M123.0 596.9h.01M125.1 595.6h.01M136.6 593.6h.01M133.8 591.4h.01M140.5 593.1h.01M127.6 595.2h.01M139.7 591.8h.01M138.2 591.3h.01M139.6 592.1h.01M126.1 592.8h.01M129.4 588.8h.01M139.8 592.9h.01M141.5 591.2h.01M139.2 591.4h.01M132.4 591.9h.01M123.3 595.3h.01M134.8 590.5h.01M128.7 591.9h.01M125.2 594.9h.01M140.3 593.8h.01M123.5 596.8h.01M129.7 591.2h.01M133.9 593.0h.01M133.1 593.8h.01M141.3 589.3h.01M127.5 594.6h.01M124.2 593.3h.01M139.6 595.4h.01M123.1 596.0h.01M139.8 591.6h.01M126.6 594.9h.01M125.2 591.5h.01M124.6 593.4h.01M135.3 591.1h.01M133.4 589.3h.01M125.5 596.6h.01M127.6 594.5h.01M140.3 594.0h.01M129.0 595.2h.01M133.6 594.4h.01M127.6 589.1h.01M137.7 592.1h.01M137.9 592.6h.01M137.3 587.4h.01M124.6 593.5h.01M140.6 589.3h.01M125.6 593.5h.01M136.4 589.8h.01M140.5 593.5h.01M133.1 593.4h.01M140.1 594.7h.01M141.6 591.3h.01M134.1 593.5h.01M139.7 591.7h.01M127.8 595.4h.01M135.8 592.7h.01M137.7 594.9h.01M132.1 593.4h.01M145.9 591.2h.01M144.5 591.2h.01M128.9 594.3h.01M133.1 592.4h.01M137.3 589.4h.01M133.0 591.6h.01M129.9 592.2h.01M137.2 592.4h.01M149.0 591.1h.01M125.6 594.4h.01M129.8 592.7h.01M146.5 588.5h.01M130.4 592.3h.01M131.1 594.7h.01M125.4 591.2h.01M131.6 593.0h.01M136.4 594.5h.01M132.4 593.8h.01M128.6 591.9h.01M130.5 590.5h.01M138.6 592.0h.01M135.0 592.9h.01M131.8 594.7h.01M127.5 592.6h.01M142.6 590.2h.01M141.1 592.6h.01M132.2 594.9h.01M135.2 589.5h.01M128.6 591.8h.01M123.3 594.3h.01M138.1 587.6h.01M131.8 593.6h.01M130.7 593.0h.01M137.6 591.8h.01M148.4 589.3h.01M126.9 594.4h.01M140.8 587.6h.01M136.8 594.3h.01M126.5 593.3h.01M130.3 591.5h.01M131.7 592.0h.01M139.8 591.9h.01M123.3 594.6h.01M136.1 593.9h.01M130.4 594.5h.01M141.7 592.4h.01M129.2 591.8h.01M132.4 595.6h.01M139.5 586.8h.01M123.5 593.4h.01M128.0 594.2h.01M125.5 591.4h.01M126.5 594.6h.01M147.9 591.7h.01M128.4 592.8h.01M148.8 588.6h.01M145.2 587.7h.01M135.7 588.6h.01M138.2 587.7h.01M148.3 590.0h.01M137.8 593.8h.01M141.4 592.0h.01M124.3 594.3h.01M130.7 592.5h.01M126.4 593.9h.01M134.1 592.9h.01M144.4 585.2h.01M127.6 595.2h.01M126.8 592.8h.01M141.3 590.2h.01M137.3 588.3h.01M127.0 590.3h.01M133.8 595.9h.01M130.7 591.9h.01M125.4 596.6h.01M129.8 592.8h.01M139.8 592.8h.01M123.2 594.2h.01M124.4 592.8h.01M146.4 589.3h.01M123.2 593.8h.01M129.0 593.7h.01M127.7 590.7h.01M133.1 589.1h.01M140.5 589.0h.01M138.1 595.4h.01M123.6 594.6h.01M124.1 593.2h.01M123.3 596.4h.01M132.7 590.0h.01M138.3 591.2h.01M142.4 589.8h.01M142.5 591.2h.01M138.7 591.1h.01M136.9 592.8h.01M141.2 589.3h.01M123.7 596.6h.01M149.9 588.1h.01M141.7 593.2h.01M129.0 593.4h.01M124.6 596.6h.01M149.3 584.9h.01M140.8 593.6h.01M145.0 588.7h.01M134.9 590.6h.01M133.6 597.5h.01M127.5 595.4h.01M123.0 595.1h.01M138.8 592.1h.01M133.4 595.1h.01M130.4 594.4h.01M141.2 592.8h.01M147.5 592.0h.01M135.9 590.7h.01M131.5 591.5h.01M135.7 588.9h.01M139.2 589.8h.01M125.2 592.6h.01M134.1 592.9h.01M124.8 591.3h.01M136.1 589.9h.01M126.9 592.7h.01M140.8 590.1h.01M123.1 594.1h.01M137.0 591.9h.01M135.1 588.8h.01M133.1 592.2h.01M131.6 597.6h.01M136.0 593.2h.01M142.2 589.4h.01M139.7 590.8h.01M123.9 595.5h.01M125.0 594.9h.01M130.8 589.2h.01M136.2 591.7h.01M143.2 591.0h.01M125.2 595.1h.01M129.7 592.3h.01M142.5 591.5h.01M134.1 590.1h.01M142.6 590.3h.01M142.1 592.1h.01M129.9 596.5h.01M127.9 593.5h.01M123.4 593.9h.01M136.7 591.2h.01M139.5 591.9h.01M138.0 589.7h.01M132.7 594.0h.01M148.6 589.9h.01M135.7 592.4h.01M133.0 593.0h.01M140.2 590.9h.01M127.1 596.5h.01M124.5 594.9h.01M127.2 592.4h.01M145.6 590.9h.01M127.8 597.6h.01M126.3 595.9h.01M142.6 589.5h.01M136.1 589.5h.01M134.3 591.8h.01M127.0 596.7h.01M136.0 591.8h.01M140.7 590.8h.01M130.5 592.6h.01M127.3 593.6h.01M129.3 593.7h.01M125.1 596.3h.01M128.1 593.1h.01M150.0 586.9h.01M147.8 589.6h.01M123.8 595.5h.01M145.9 590.8h.01M132.7 595.0h.01M126.8 593.5h.01M123.9 593.3h.01M148.7 591.4h.01M138.9 590.2h.01M134.6 591.8h.01M124.8 592.6h.01M128.1 595.7h.01M141.9 593.1h.01M137.6 590.3h.01M135.2 595.0h.01M136.5 594.0h.01M135.1 598.5h.01M135.9 592.5h.01M135.9 594.0h.01M134.6 592.2h.01M140.1 589.3h.01M141.4 593.2h.01M124.7 597.2h.01M129.9 593.8h.01M130.4 592.3h.01M134.2 597.2h.01M128.8 591.8h.01M140.6 592.1h.01M131.5 590.8h.01M127.0 594.5h.01M124.1 594.8h.01M142.9 589.8h.01M134.3 589.7h.01M141.3 593.8h.01M124.3 597.4h.01M124.1 594.4h.01M130.2 594.6h.01M148.1 588.2h.01M124.3 595.3h.01M134.1 591.7h.01M137.1 592.1h.01M132.3 595.0h.01M127.1 594.2h.01M127.8 593.8h.01M132.7 590.6h.01M138.2 591.2h.01M132.3 593.1h.01M128.0 593.6h.01M126.1 592.8h.01M133.6 593.7h.01M140.4 589.7h.01M141.6 592.6h.01M148.5 591.0h.01M131.4 594.0h.01M135.7 593.8h.01M136.8 591.1h.01M131.8 590.8h.01M127.8 592.4h.01M124.4 594.5h.01M132.2 589.1h.01M128.3 595.8h.01M138.9 592.9h.01M127.4 594.6h.01M141.0 590.8h.01M133.7 594.1h.01M125.6 593.8h.01M124.2 595.3h.01M129.1 592.4h.01M146.8 590.8h.01M131.3 591.4h.01M122.8 592.5h.01M127.5 594.3h.01M123.6 597.0h.01M145.8 587.0h.01M146.4 590.3h.01M141.5 593.1h.01M137.9 591.4h.01M137.6 591.0h.01M136.7 591.1h.01M142.4 589.9h.01M125.0 595.0h.01M150.0 589.0h.01M141.8 593.2h.01M128.8 594.4h.01M139.4 591.0h.01M137.8 588.6h.01M142.7 591.1h.01M129.4 593.4h.01M135.3 592.1h.01M128.5 593.1h.01M137.4 591.3h.01M130.6 593.8h.01M123.5 598.4h.01M131.5 593.3h.01M142.7 590.6h.01M147.3 592.7h.01M139.5 594.0h.01M126.1 592.3h.01M140.1 589.9h.01M128.3 595.3h.01M124.8 590.9h.01" fill="none" stroke="#fce9d8" stroke-width="0.72" stroke-linecap="round" opacity="0.95"/>
<ellipse cx="170.3" cy="606.5" rx="2.6" ry="1.2" fill="#f0853a"/>
<ellipse cx="169.6" cy="614.6" rx="1.3" ry="1.6" fill="#f0853a"/>
<ellipse cx="145.1" cy="624.6" rx="1.5" ry="1.0" fill="#f0853a"/>
<ellipse cx="165.9" cy="607.6" rx="0.8" ry="0.8" fill="#f0853a"/>
<path d="M107.9 599.9C108.7 598.6 111.2 598.1 112.3 598.8C113.4 599.5 114.3 602.4 114.4 604.3C114.6 606.1 114.2 608.8 113.4 609.7C112.5 610.7 110.6 610.7 109.6 610.2C108.6 609.6 107.7 608.2 107.4 606.5C107.1 604.7 107.1 601.2 107.9 599.9Z" fill="#a6cde0"/>
<path d="M107.4 612.4C108.4 611.7 111.7 611.7 112.7 612.4C113.7 613.0 114.1 615.3 113.6 616.3C113.1 617.3 110.8 618.5 109.6 618.5C108.5 618.5 107.1 617.3 106.8 616.3C106.4 615.3 106.5 613.0 107.4 612.4Z" fill="#a6cde0"/>
<path d="M118.8 617.4C119.9 616.7 123.0 615.9 124.3 616.3C125.6 616.7 126.5 618.4 126.5 619.6C126.5 620.8 125.5 622.8 124.3 623.3C123.1 623.9 120.4 623.4 119.3 622.9C118.2 622.4 117.8 621.2 117.7 620.3C117.7 619.3 117.7 618.1 118.8 617.4Z" fill="#a6cde0"/>
<path d="M114.4 626.2C115.5 625.3 117.9 624.2 119.9 624.0C121.9 623.7 124.8 623.9 126.5 624.6C128.1 625.4 129.6 627.1 129.8 628.4C130.0 629.6 129.0 631.3 127.6 632.1C126.1 632.8 123.0 632.8 121.0 632.7C119.0 632.7 116.8 632.3 115.5 631.6C114.3 631.0 113.5 629.9 113.4 629.0C113.2 628.1 113.4 627.0 114.4 626.2Z" fill="#a6cde0"/>
<path d="M90.4 621.8C91.3 621.1 94.3 620.3 95.8 620.3C97.4 620.3 99.1 621.0 99.6 621.8C100.0 622.6 99.7 624.3 98.7 625.1C97.7 625.8 95.0 626.2 93.6 626.2C92.3 626.1 90.9 625.4 90.4 624.6C89.8 623.9 89.4 622.5 90.4 621.8Z" fill="#a6cde0"/>
<path d="M91.5 633.8C92.3 632.7 95.3 631.9 96.9 632.1C98.6 632.3 100.5 633.7 101.3 634.9C102.1 636.1 102.1 638.0 101.7 639.3C101.4 640.6 100.3 642.1 99.1 642.6C98.0 643.1 95.9 642.8 94.7 642.1C93.6 641.5 92.7 640.0 92.1 638.6C91.6 637.3 90.7 634.9 91.5 633.8Z" fill="#a6cde0"/>
<path d="M75.0 640.8C75.8 639.9 78.4 639.2 79.9 639.3C81.3 639.4 83.2 640.4 83.8 641.5C84.4 642.6 84.2 645.0 83.4 645.9C82.6 646.8 80.3 647.1 79.0 647.0C77.7 646.8 76.1 645.8 75.5 644.8C74.8 643.8 74.3 641.7 75.0 640.8Z" fill="#a6cde0"/>
<path d="M77.7 656.8C78.1 655.8 80.1 655.4 81.2 655.7C82.2 656.1 83.6 657.8 83.8 659.0C83.9 660.2 83.0 662.3 82.0 662.7C81.1 663.2 79.0 662.8 78.3 661.9C77.6 660.9 77.2 657.8 77.7 656.8Z" fill="#a6cde0"/>
<path d="M92.1 656.2C92.4 655.6 94.2 655.4 94.7 655.7C95.3 656.1 95.9 657.8 95.6 658.4C95.3 658.9 93.6 659.6 93.0 659.2C92.4 658.9 91.8 656.7 92.1 656.2Z" fill="#a6cde0"/>
<path d="M55.8 634.3C56.1 633.2 56.8 632.0 57.5 632.1C58.2 632.2 58.9 634.3 60.1 634.9C61.4 635.5 64.0 635.0 65.2 635.6C66.4 636.2 67.3 637.5 67.4 638.6C67.5 639.8 66.8 641.7 65.8 642.6C64.9 643.4 62.8 643.8 61.5 643.7C60.1 643.6 58.5 643.0 57.5 642.1C56.5 641.3 55.6 640.0 55.3 638.6C55.0 637.3 55.4 635.4 55.8 634.3Z" fill="#5db394"/>
<path d="M139.6 631.6C140.3 631.5 141.0 633.0 141.4 634.3C141.8 635.5 141.8 637.2 142.0 639.3C142.3 641.4 142.6 644.2 142.9 647.0C143.2 649.7 144.4 653.0 144.0 655.7C143.6 658.5 142.7 661.5 140.7 663.4C138.7 665.3 134.9 666.9 132.0 667.1C129.0 667.3 125.8 666.0 123.2 664.5C120.7 662.9 118.1 660.3 116.6 657.9C115.2 655.5 114.3 652.4 114.4 650.2C114.6 648.1 115.7 646.1 117.7 644.8C119.7 643.5 123.8 643.5 126.5 642.6C129.2 641.7 132.3 640.6 134.2 639.3C136.0 638.0 136.5 636.2 137.4 634.9C138.4 633.6 139.0 631.7 139.6 631.6Z" fill="#fad75c"/>
<path d="M115.5 650.2C115.8 648.8 116.9 646.3 118.4 645.2C119.8 644.1 123.0 643.4 124.3 643.7C125.7 644.0 126.5 645.5 126.5 647.0C126.5 648.4 125.4 651.2 124.3 652.4C123.2 653.7 121.2 654.4 119.9 654.6C118.6 654.9 117.4 654.7 116.6 654.0C115.9 653.2 115.2 651.7 115.5 650.2Z" fill="#fdf3a4" opacity="0.7"/>
<path d="M142.0 636.0C143.3 635.9 146.6 635.7 149.5 635.6C152.4 635.4 157.7 635.2 159.3 635.1" fill="none" stroke="#d8dc6a" stroke-width="0.7"/>
<path d="M157.1 633.4C157.8 632.6 159.4 632.5 160.9 631.6C162.3 630.8 164.3 629.4 165.9 628.4C167.5 627.3 169.7 625.7 170.5 625.5C171.3 625.3 171.5 626.3 170.9 627.3C170.4 628.2 168.2 629.7 167.0 631.2C165.8 632.7 165.1 635.3 163.9 636.5C162.8 637.6 161.1 638.2 160.0 638.2C158.9 638.2 157.6 637.3 157.1 636.5C156.7 635.7 156.5 634.2 157.1 633.4Z" fill="#a5cd5c"/>
<path d="M79.4 569.2C82.2 568.7 84.3 568.3 87.1 570.3C89.8 572.3 93.6 577.8 95.8 581.3C98.0 584.7 99.1 588.2 100.2 591.1C101.3 594.0 101.9 595.7 102.4 598.8C103.0 601.9 103.7 606.5 103.5 609.7C103.3 613.0 102.6 617.1 101.3 618.5C100.0 619.8 97.7 617.8 95.8 617.8C94.0 617.9 92.6 617.7 90.4 618.9C88.2 620.1 85.1 624.3 82.7 625.1C80.3 625.8 79.2 624.5 76.1 623.3C73.0 622.1 67.9 619.8 64.1 617.8C60.3 615.8 55.5 613.5 53.1 611.3C50.8 609.0 49.9 607.1 49.9 604.3C49.9 601.5 51.1 597.9 53.1 594.4C55.1 590.9 59.0 586.9 61.9 583.5C64.8 580.0 67.7 576.0 70.7 573.6C73.6 571.2 76.7 569.8 79.4 569.2Z" fill="none" stroke="#2e2e2e" stroke-width="0.65" stroke-dasharray="2 1.6"/>
<path d="M127.6 562.7C131.4 560.8 139.3 558.5 142.9 559.4C146.6 560.3 147.7 564.9 149.5 568.1C151.3 571.4 151.3 576.5 153.9 579.1C156.4 581.6 161.5 580.5 164.8 583.5C168.1 586.4 171.9 592.2 173.6 596.6C175.2 601.0 175.0 606.3 174.7 609.7C174.3 613.2 174.5 616.5 171.4 617.4C168.3 618.3 159.7 614.7 156.0 615.2C152.4 615.8 151.7 619.0 149.5 620.7C147.3 622.4 144.7 625.9 142.9 625.5C141.1 625.1 139.6 620.9 138.5 618.5C137.4 616.1 138.2 612.8 136.3 610.8C134.5 608.8 130.1 608.8 127.6 606.5C125.0 604.1 122.8 600.4 121.0 596.6C119.2 592.8 116.8 587.8 116.6 583.5C116.5 579.1 118.1 573.8 119.9 570.3C121.7 566.9 123.8 564.5 127.6 562.7Z" fill="none" stroke="#2e2e2e" stroke-width="0.65" stroke-dasharray="2 1.6"/>
<path d="M105.7 593.3C107.1 592.8 110.3 593.0 112.3 594.4C114.3 595.9 116.5 599.2 117.7 602.1C119.0 605.0 118.3 609.4 119.9 611.9C121.6 614.5 125.4 615.2 127.6 617.4C129.8 619.6 132.5 622.7 133.1 625.1C133.6 627.4 132.9 630.0 130.9 631.6C128.9 633.3 124.5 634.6 121.0 634.9C117.5 635.3 112.8 633.1 110.1 633.8C107.3 634.6 105.9 636.7 104.6 639.3C103.3 641.9 103.3 645.7 102.4 649.2C101.5 652.6 101.1 657.5 99.1 660.1C97.1 662.7 94.0 663.9 90.4 664.5C86.7 665.0 80.7 664.8 77.2 663.4C73.8 661.9 70.7 658.8 69.6 655.7C68.5 652.6 69.6 648.1 70.7 644.8C71.7 641.5 73.4 638.8 76.1 636.0C78.9 633.3 84.3 630.9 87.1 628.4C89.8 625.8 90.0 622.7 92.6 620.7C95.1 618.7 100.4 618.9 102.4 616.3C104.4 613.8 104.4 608.5 104.6 605.4C104.8 602.3 103.3 599.7 103.5 597.7C103.7 595.7 104.2 593.9 105.7 593.3Z" fill="none" stroke="#2e2e2e" stroke-width="0.65" stroke-dasharray="2 1.6"/>
<path d="M153.9 616.3C156.4 616.1 159.7 616.3 162.6 617.4C165.5 618.5 169.7 620.9 171.4 622.9C173.0 624.9 173.2 627.3 172.5 629.4C171.7 631.6 169.4 634.0 167.0 636.0C164.6 638.0 161.2 640.4 158.2 641.5C155.3 642.6 151.7 641.3 149.5 642.6C147.3 643.9 146.2 646.2 145.1 649.2C144.0 652.1 144.4 657.0 142.9 660.1C141.5 663.2 139.3 666.3 136.3 667.8C133.4 669.2 129.0 669.6 125.4 668.9C121.7 668.1 117.0 665.9 114.4 663.4C111.9 660.8 110.3 656.6 110.1 653.5C109.9 650.4 111.2 647.0 113.4 644.8C115.5 642.6 120.1 641.9 123.2 640.4C126.3 638.9 129.6 637.8 132.0 636.0C134.3 634.2 136.2 631.6 137.4 629.4C138.7 627.3 138.0 624.7 139.6 622.9C141.3 621.1 144.9 619.6 147.3 618.5C149.7 617.4 151.3 616.5 153.9 616.3Z" fill="none" stroke="#2e2e2e" stroke-width="0.65" stroke-dasharray="2 1.6"/>
<text x="81.8" y="583.0" font-size="8.35" text-anchor="middle">9</text>
<text x="94.0" y="597.0" font-size="8.35" text-anchor="middle">7</text>
<text x="64.2" y="610.8" font-size="8.35" text-anchor="middle">6</text>
<text x="95.8" y="610.8" font-size="8.35" text-anchor="middle">8</text>
<text x="132.8" y="582.5" font-size="8.35" text-anchor="middle">4</text>
<text x="62.8" y="642.3" font-size="8.35" text-anchor="middle">10</text>
<text x="98.7" y="641.4" font-size="8.35" text-anchor="middle">5</text>
<text x="118.8" y="653.7" font-size="8.35" text-anchor="middle">2</text>
<text x="134.9" y="658.0" font-size="8.35" text-anchor="middle">1</text>
<text x="161.5" y="637.6" font-size="8.35" text-anchor="middle">3</text>
<text x="63.6" y="565.4" font-size="8.35">Stromal cell</text>
<text x="148.3" y="567.0" font-size="8.35">Myeloid cell</text>
<text x="11.1" y="629.7" font-size="8.35">Endothelial cell</text>
<text x="146.0" y="655.4" font-size="8.35">Lymphocyte</text>
<text x="63.4" y="675.5" font-size="8.35">Epithelial cell</text>
<text x="44.4" y="692.0" font-size="8.35">UMAP_1</text>
<text x="39.6" y="664.8" font-size="8.35" text-anchor="middle" transform="rotate(-90 39.6 664.8)">UMAP_2</text>
<path d="M43.2 647V684H77" fill="none" stroke="#111" stroke-width="0.8"/>
<path d="M41.4 648.5L43.2 644.8L45 648.5Z" fill="#111"/>
<path d="M75.5 682.2L79.2 684L75.5 685.8Z" fill="#111"/>
<circle cx="207.3" cy="562.8" r="4.6" fill="#fad75c"/>
<text x="225.6" y="565.8" font-size="8.35" text-anchor="end">1</text>
<text x="230.9" y="565.8" font-size="8.35">T cell</text>
<circle cx="207.3" cy="576.3" r="4.6" fill="#fdf3a4"/>
<text x="225.6" y="579.3" font-size="8.35" text-anchor="end">2</text>
<text x="230.9" y="579.3" font-size="8.35">NK cell</text>
<circle cx="207.3" cy="589.8" r="4.6" fill="#a5cd5c"/>
<text x="225.6" y="592.8" font-size="8.35" text-anchor="end">3</text>
<text x="230.9" y="592.8" font-size="8.35">B/Plasma cell</text>
<circle cx="207.3" cy="603.3" r="4.6" fill="#f0853a"/>
<text x="225.6" y="606.3" font-size="8.35" text-anchor="end">4</text>
<text x="230.9" y="606.3" font-size="8.35">Myeloid cell</text>
<circle cx="207.3" cy="616.8" r="4.6" fill="#a6cde0"/>
<text x="225.6" y="619.8" font-size="8.35" text-anchor="end">5</text>
<text x="230.9" y="619.8" font-size="8.35">Epithelial cell</text>
<circle cx="207.3" cy="630.2" r="4.6" fill="#dec9cd"/>
<text x="225.6" y="633.2" font-size="8.35" text-anchor="end">6</text>
<text x="230.9" y="633.2" font-size="8.35">Fibroblast</text>
<circle cx="207.3" cy="643.7" r="4.6" fill="#c3bad2"/>
<text x="225.6" y="646.7" font-size="8.35" text-anchor="end">7</text>
<text x="230.9" y="646.7" font-size="8.35">CAF</text>
<circle cx="207.3" cy="657.2" r="4.6" fill="#ebe2f6"/>
<text x="225.6" y="660.2" font-size="8.35" text-anchor="end">8</text>
<text x="230.9" y="660.2" font-size="8.35">Mesothelial cell</text>
<circle cx="207.3" cy="670.7" r="4.6" fill="#dcd4d6"/>
<text x="225.6" y="673.7" font-size="8.35" text-anchor="end">9</text>
<text x="230.9" y="673.7" font-size="8.35">SMC/Pericyte</text>
<circle cx="207.3" cy="684.2" r="4.6" fill="#5db394"/>
<text x="225.6" y="687.2" font-size="8.35" text-anchor="end">10</text>
<text x="230.9" y="687.2" font-size="8.35">Endothelial cell</text>
<text x="303.4" y="409.8" font-size="17.5" font-weight="bold">d</text>
<text x="346.6" y="409.3" font-size="8.35" text-anchor="end">CD3D</text>
<text x="346.6" y="416.4" font-size="8.35" text-anchor="end">CD3E</text>
<text x="346.6" y="423.5" font-size="8.35" text-anchor="end">CD3G</text>
<text x="346.6" y="430.6" font-size="8.35" text-anchor="end">TRAC</text>
<text x="346.6" y="437.7" font-size="8.35" text-anchor="end">NCAM1</text>
<text x="346.6" y="444.8" font-size="8.35" text-anchor="end">NCR1</text>
<text x="346.6" y="451.9" font-size="8.35" text-anchor="end">KLRF1</text>
<text x="346.6" y="459.0" font-size="8.35" text-anchor="end">KLRC1</text>
<text x="346.6" y="466.1" font-size="8.35" text-anchor="end">IGHG1</text>
<text x="346.6" y="473.2" font-size="8.35" text-anchor="end">JCHAIN</text>
<text x="346.6" y="480.3" font-size="8.35" text-anchor="end">CD79A</text>
<text x="346.6" y="487.4" font-size="8.35" text-anchor="end">CD79B</text>
<text x="346.6" y="494.5" font-size="8.35" text-anchor="end">LYZ</text>
<text x="346.6" y="501.6" font-size="8.35" text-anchor="end">AIF1</text>
<text x="346.6" y="508.7" font-size="8.35" text-anchor="end">CD14</text>
<text x="346.6" y="515.8" font-size="8.35" text-anchor="end">FCGR3A</text>
<text x="346.6" y="522.9" font-size="8.35" text-anchor="end">WFDC2</text>
<text x="346.6" y="530.0" font-size="8.35" text-anchor="end">PAX8</text>
<text x="346.6" y="537.1" font-size="8.35" text-anchor="end">KRT18</text>
<text x="346.6" y="544.2" font-size="8.35" text-anchor="end">EPCAM</text>
<text x="346.6" y="551.3" font-size="8.35" text-anchor="end">COL1A1</text>
<text x="346.6" y="558.4" font-size="8.35" text-anchor="end">DCN</text>
<text x="346.6" y="565.5" font-size="8.35" text-anchor="end">COL3A1</text>
<text x="346.6" y="572.6" font-size="8.35" text-anchor="end">OGN</text>
<text x="346.6" y="579.7" font-size="8.35" text-anchor="end">FAP</text>
<text x="346.6" y="586.8" font-size="8.35" text-anchor="end">ACTA2</text>
<text x="346.6" y="593.9" font-size="8.35" text-anchor="end">THY1</text>
<text x="346.6" y="601.0" font-size="8.35" text-anchor="end">POSTN</text>
<text x="346.6" y="608.1" font-size="8.35" text-anchor="end">UPK3B</text>
<text x="346.6" y="615.2" font-size="8.35" text-anchor="end">LRRN4</text>
<text x="346.6" y="622.3" font-size="8.35" text-anchor="end">RGS5</text>
<text x="346.6" y="629.4" font-size="8.35" text-anchor="end">MYH11</text>
<text x="346.6" y="636.5" font-size="8.35" text-anchor="end">VWF</text>
<text x="346.6" y="643.6" font-size="8.35" text-anchor="end">SPARCL1</text>
<text x="346.6" y="650.7" font-size="8.35" text-anchor="end">FLT1</text>
<text x="346.6" y="657.8" font-size="8.35" text-anchor="end">CLDN5</text>
<g>
<line x1="351.0" y1="408.2" x2="410.4" y2="408.2" stroke="#fad75c" stroke-width="0.6" opacity="0.72"/>
<path d="M351.0 408.4L351.0 407.1L351.6 407.1L352.1 406.2L352.7 407.1L353.2 407.1L353.8 406.7L354.3 407.1L354.9 406.6L355.4 406.5L356.0 407.1L356.6 406.2L357.1 407.1L357.7 407.0L358.2 407.1L358.8 406.4L359.3 406.0L359.9 404.9L360.4 406.6L361.0 406.4L361.5 406.5L362.1 407.1L362.7 407.0L363.2 407.1L363.8 407.0L364.3 406.9L364.9 407.1L365.4 405.1L366.0 406.4L366.5 406.0L367.1 406.9L367.7 406.3L368.2 406.2L368.8 405.9L369.3 407.1L369.9 407.0L370.4 405.1L371.0 407.0L371.5 406.9L372.1 406.8L372.7 407.1L373.2 407.0L373.8 405.3L374.3 407.1L374.9 406.7L375.4 407.1L376.0 406.4L376.5 406.8L377.1 406.9L377.6 406.6L378.2 405.5L378.8 406.1L379.3 406.6L379.9 406.3L380.4 406.8L381.0 405.1L381.5 407.0L382.1 407.1L382.6 405.5L383.2 406.3L383.8 407.1L384.3 406.6L384.9 406.6L385.4 407.0L386.0 405.2L386.5 405.6L387.1 407.1L387.6 405.1L388.2 406.7L388.7 405.9L389.3 407.1L389.9 406.6L390.4 405.5L391.0 407.1L391.5 406.0L392.1 407.0L392.6 406.3L393.2 406.7L393.7 407.1L394.3 406.5L394.9 407.1L395.4 406.4L396.0 405.3L396.5 407.1L397.1 406.2L397.6 407.1L398.2 406.5L398.7 405.8L399.3 407.1L399.9 406.8L400.4 406.8L401.0 406.2L401.5 407.1L402.1 407.0L402.6 407.1L403.2 406.8L403.7 407.0L404.3 405.2L404.8 405.5L405.4 407.1L406.0 405.6L406.5 405.2L407.1 407.1L407.6 407.1L408.2 403.0L408.7 403.0L409.3 403.0L409.8 403.0L410.4 403.0L410.4 408.4Z" fill="#fad75c" stroke="#fad75c" stroke-width="0.25" opacity="1"/>
<line x1="410.4" y1="408.2" x2="423.5" y2="408.2" stroke="#fbee98" stroke-width="0.6" opacity="0.43"/>
<path d="M410.4 408.4M410.4 408.4M411.0 408.4L411.5 408.1L412.1 408.4M412.7 408.4M413.2 408.4M413.8 408.4L414.4 408.0L415.0 408.4M415.5 408.4L416.1 407.7L416.7 408.1L417.2 408.4M417.8 408.4L418.4 408.2L418.9 408.4L419.5 408.0L420.1 408.4L420.7 408.0L421.2 408.4M421.8 408.4L422.4 407.9L422.9 408.1L423.5 408.4L423.5 408.4Z" fill="#fbee98" stroke="#fbee98" stroke-width="0.25" opacity="0.75"/>
<line x1="423.5" y1="408.2" x2="432.2" y2="408.2" stroke="#a2cc58" stroke-width="0.6" opacity="0.36"/>
<path d="M423.5 408.4L423.5 408.1L424.1 408.4L424.7 408.1L425.2 408.4M425.8 408.4L426.4 408.2L427.0 407.8L427.6 408.4M428.1 408.4M428.7 408.4L429.3 407.9L429.9 408.4M430.5 408.4M431.0 408.4M431.6 408.4L432.2 407.9L432.2 408.4Z" fill="#a2cc58" stroke="#a2cc58" stroke-width="0.25" opacity="0.75"/>
<line x1="432.2" y1="408.2" x2="541.8" y2="408.2" stroke="#f0853a" stroke-width="0.6" opacity="0.54"/>
<path d="M432.2 408.4L432.2 407.8L432.8 408.4L433.3 408.1L433.9 407.9L434.4 407.9L435.0 408.4L435.5 407.9L436.1 407.9L436.6 408.4M437.2 408.4L437.7 408.0L438.3 408.1L438.8 408.4M439.4 408.4L439.9 407.8L440.5 408.4L441.0 408.1L441.6 407.7L442.1 408.4M442.7 408.4M443.2 408.4M443.8 408.4L444.3 408.1L444.9 407.6L445.4 408.4M446.0 408.4M446.5 408.4L447.1 408.1L447.6 407.7L448.2 408.4L448.7 407.9L449.3 407.6L449.8 408.4M450.4 408.4M450.9 408.4M451.5 408.4L452.0 407.8L452.6 407.6L453.1 408.4M453.7 408.4M454.2 408.4L454.8 407.7L455.3 407.7L455.9 408.4L456.4 407.7L457.0 408.0L457.5 408.4L458.1 408.1L458.6 408.0L459.2 408.4M459.7 408.4L460.3 407.8L460.8 407.6L461.4 408.4M461.9 408.4L462.5 407.6L463.0 407.6L463.6 408.1L464.1 407.8L464.7 407.9L465.2 408.4L465.8 407.9L466.3 407.8L466.9 407.6L467.4 408.4M468.0 408.4M468.5 408.4M469.1 408.4L469.7 408.1L470.2 408.4L470.8 408.0L471.3 408.4M471.9 408.4L472.4 408.0L473.0 408.0L473.5 408.1L474.1 407.6L474.6 408.4M475.2 408.4M475.7 408.4L476.3 407.9L476.8 408.1L477.4 407.9L477.9 408.4L478.5 408.0L479.0 408.0L479.6 408.4M480.1 408.4L480.7 408.1L481.2 408.4M481.8 408.4L482.3 407.7L482.9 408.4M483.4 408.4L484.0 408.1L484.5 408.1L485.1 407.7L485.6 408.0L486.2 408.4L486.7 407.8L487.3 408.1L487.8 408.4L488.4 407.8L488.9 408.4L489.5 408.0L490.0 407.6L490.6 408.4L491.1 408.1L491.7 408.4L492.2 407.7L492.8 408.4M493.3 408.4M493.9 408.4M494.4 408.4M495.0 408.4M495.5 408.4M496.1 408.4M496.6 408.4M497.2 408.4M497.7 408.4M498.3 408.4M498.8 408.4L499.4 408.1L499.9 407.8L500.5 408.4M501.0 408.4M501.6 408.4L502.1 408.1L502.7 408.1L503.2 407.9L503.8 408.1L504.3 408.4M504.9 408.4L505.5 408.0L506.0 408.4L506.6 408.1L507.1 407.6L507.7 408.4M508.2 408.4M508.8 408.4M509.3 408.4L509.9 408.1L510.4 407.8L511.0 408.4M511.5 408.4L512.1 407.8L512.6 408.4M513.2 408.4L513.7 408.1L514.3 408.1L514.8 407.8L515.4 408.1L515.9 408.1L516.5 408.4L517.0 408.0L517.6 408.4L518.1 407.8L518.7 408.0L519.2 408.0L519.8 408.0L520.3 408.4L520.9 407.8L521.4 408.4L522.0 408.1L522.5 407.9L523.1 408.4L523.6 407.8L524.2 408.4M524.7 408.4M525.3 408.4M525.8 408.4L526.4 408.1L526.9 408.1L527.5 408.4M528.0 408.4L528.6 407.8L529.1 408.4L529.7 407.9L530.2 408.4L530.8 407.7L531.3 408.4L531.9 408.1L532.4 407.8L533.0 408.4L533.5 407.8L534.1 407.8L534.6 408.4L535.2 407.7L535.7 408.4M536.3 408.4L536.8 407.6L537.4 408.4L537.9 408.0L538.5 407.9L539.0 407.7L539.6 408.4L540.1 407.6L540.7 408.4M541.2 408.4M541.8 408.4L541.8 408.4Z" fill="#f0853a" stroke="#f0853a" stroke-width="0.25" opacity="0.75"/>
<line x1="541.8" y1="408.2" x2="592.5" y2="408.2" stroke="#98c4de" stroke-width="0.6" opacity="0.25"/>
<path d="M541.8 408.4M541.8 408.4M542.4 408.4M542.9 408.4M543.5 408.4M544.0 408.4M544.6 408.4M545.1 408.4M545.7 408.4M546.2 408.4M546.8 408.4M547.3 408.4M547.9 408.4L548.4 408.0L549.0 408.4M549.5 408.4M550.1 408.4M550.6 408.4L551.2 408.0L551.7 408.2L552.3 408.4M552.8 408.4M553.4 408.4M553.9 408.4M554.5 408.4L555.0 407.9L555.6 408.1L556.1 408.4M556.7 408.4M557.2 408.4M557.8 408.4M558.3 408.4M558.9 408.4L559.4 408.2L560.0 408.4M560.5 408.4M561.1 408.4M561.6 408.4M562.2 408.4M562.7 408.4M563.3 408.4M563.8 408.4M564.4 408.4M564.9 408.4M565.5 408.4L566.0 408.2L566.6 408.1L567.1 408.4L567.7 408.2L568.3 408.4M568.8 408.4M569.4 408.4M569.9 408.4M570.5 408.4L571.0 408.2L571.6 408.4L572.1 408.3L572.7 408.4M573.2 408.4M573.8 408.4M574.3 408.4M574.9 408.4L575.4 408.0L576.0 408.4M576.5 408.4M577.1 408.4M577.6 408.4M578.2 408.4L578.7 408.3L579.3 408.4M579.8 408.4M580.4 408.4M580.9 408.4L581.5 408.1L582.0 408.2L582.6 408.4M583.1 408.4M583.7 408.4L584.2 408.0L584.8 408.4M585.3 408.4M585.9 408.4M586.4 408.4M587.0 408.4M587.5 408.4M588.1 408.4M588.6 408.4M589.2 408.4M589.7 408.4M590.3 408.4M590.8 408.4M591.4 408.4M591.9 408.4M592.5 408.4L592.5 408.4Z" fill="#98c4de" stroke="#98c4de" stroke-width="0.25" opacity="0.75"/>
<line x1="592.5" y1="408.2" x2="629.2" y2="408.2" stroke="#dcc4ca" stroke-width="0.6" opacity="0.14"/>
<line x1="629.2" y1="408.2" x2="645.4" y2="408.2" stroke="#b9aad0" stroke-width="0.6" opacity="0.18"/>
<line x1="648.1" y1="408.2" x2="673.1" y2="408.2" stroke="#d6ccd0" stroke-width="0.6" opacity="0.11"/>
<line x1="673.1" y1="408.2" x2="680.0" y2="408.2" stroke="#4fb08e" stroke-width="0.6" opacity="0.36"/>
<path d="M673.1 408.4M673.1 408.4L673.7 408.2L674.2 408.2L674.8 408.0L675.4 408.2L676.0 408.4M676.5 408.4L677.1 408.0L677.7 408.4M678.3 408.4M678.9 408.4M679.4 408.4M680.0 408.4L680.0 408.4Z" fill="#4fb08e" stroke="#4fb08e" stroke-width="0.25" opacity="0.75"/>
<line x1="351.0" y1="415.3" x2="410.4" y2="415.3" stroke="#fad75c" stroke-width="0.6" opacity="0.72"/>
<path d="M351.0 415.5L351.0 413.7L351.6 412.4L352.1 414.3L352.7 414.1L353.2 413.7L353.8 414.3L354.3 413.3L354.9 413.8L355.4 414.3L356.0 414.0L356.6 414.2L357.1 412.2L357.7 413.7L358.2 411.9L358.8 414.2L359.3 413.1L359.9 413.4L360.4 414.2L361.0 413.5L361.5 414.3L362.1 414.1L362.7 412.7L363.2 413.3L363.8 412.2L364.3 413.7L364.9 414.1L365.4 412.1L366.0 413.8L366.5 413.4L367.1 414.0L367.7 414.1L368.2 413.5L368.8 414.2L369.3 412.3L369.9 413.3L370.4 412.1L371.0 414.2L371.5 413.7L372.1 414.3L372.7 412.4L373.2 414.3L373.8 413.8L374.3 413.8L374.9 412.8L375.4 414.2L376.0 414.0L376.5 413.8L377.1 412.6L377.6 413.0L378.2 412.3L378.8 412.8L379.3 414.2L379.9 411.9L380.4 414.3L381.0 414.1L381.5 413.7L382.1 414.1L382.6 413.3L383.2 414.2L383.8 414.3L384.3 413.3L384.9 414.0L385.4 412.8L386.0 413.8L386.5 413.8L387.1 412.6L387.6 414.0L388.2 413.9L388.7 414.0L389.3 414.3L389.9 412.1L390.4 413.3L391.0 412.7L391.5 412.7L392.1 414.1L392.6 413.1L393.2 414.3L393.7 413.5L394.3 412.0L394.9 414.0L395.4 413.5L396.0 414.0L396.5 412.4L397.1 412.9L397.6 414.1L398.2 413.8L398.7 412.9L399.3 414.3L399.9 413.5L400.4 412.4L401.0 413.9L401.5 414.2L402.1 412.9L402.6 413.4L403.2 414.0L403.7 413.6L404.3 414.0L404.8 412.7L405.4 414.0L406.0 414.2L406.5 413.7L407.1 414.2L407.6 413.4L408.2 410.1L408.7 410.1L409.3 410.1L409.8 410.1L410.4 410.1L410.4 415.5Z" fill="#fad75c" stroke="#fad75c" stroke-width="0.25" opacity="1"/>
<line x1="410.4" y1="415.3" x2="423.5" y2="415.3" stroke="#fbee98" stroke-width="0.6" opacity="0.43"/>
<path d="M410.4 415.5M410.4 415.5L411.0 415.1L411.5 415.5M412.1 415.5M412.7 415.5M413.2 415.5M413.8 415.5M414.4 415.5M415.0 415.5M415.5 415.5L416.1 415.2L416.7 415.5M417.2 415.5L417.8 415.2L418.4 415.5L418.9 415.3L419.5 415.5M420.1 415.5M420.7 415.5M421.2 415.5M421.8 415.5L422.4 414.9L422.9 415.0L423.5 415.5L423.5 415.5Z" fill="#fbee98" stroke="#fbee98" stroke-width="0.25" opacity="0.75"/>
<line x1="423.5" y1="415.3" x2="432.2" y2="415.3" stroke="#a2cc58" stroke-width="0.6" opacity="0.36"/>
<path d="M423.5 415.5M423.5 415.5L424.1 415.0L424.7 415.0L425.2 415.5M425.8 415.5M426.4 415.5M427.0 415.5M427.6 415.5M428.1 415.5M428.7 415.5L429.3 415.2L429.9 415.5M430.5 415.5M431.0 415.5M431.6 415.5M432.2 415.5L432.2 415.5Z" fill="#a2cc58" stroke="#a2cc58" stroke-width="0.25" opacity="0.75"/>
<line x1="432.2" y1="415.3" x2="541.8" y2="415.3" stroke="#f0853a" stroke-width="0.6" opacity="0.54"/>
<path d="M432.2 415.5M432.2 415.5L432.8 415.2L433.3 414.8L433.9 415.5M434.4 415.5L435.0 415.3L435.5 415.5M436.1 415.5L436.6 415.1L437.2 414.7L437.7 415.1L438.3 414.8L438.8 415.1L439.4 415.5M439.9 415.5M440.5 415.5L441.0 414.9L441.6 415.1L442.1 415.1L442.7 414.7L443.2 415.2L443.8 414.7L444.3 415.5L444.9 415.0L445.4 415.5M446.0 415.5L446.5 415.1L447.1 415.3L447.6 415.5L448.2 415.0L448.7 415.5M449.3 415.5L449.8 414.9L450.4 415.3L450.9 415.5L451.5 414.9L452.0 415.2L452.6 415.5L453.1 415.3L453.7 415.5L454.2 414.8L454.8 415.3L455.3 415.2L455.9 415.5L456.4 415.3L457.0 415.5L457.5 415.2L458.1 415.3L458.6 415.5M459.2 415.5M459.7 415.5L460.3 414.9L460.8 415.5L461.4 415.1L461.9 415.5L462.5 414.9L463.0 415.5M463.6 415.5L464.1 414.7L464.7 415.1L465.2 415.0L465.8 414.8L466.3 415.3L466.9 415.5L467.4 415.2L468.0 415.5M468.5 415.5L469.1 414.7L469.7 415.5L470.2 415.0L470.8 414.9L471.3 415.5M471.9 415.5M472.4 415.5M473.0 415.5L473.5 415.1L474.1 415.2L474.6 415.1L475.2 415.1L475.7 415.5L476.3 415.3L476.8 415.5L477.4 414.8L477.9 415.3L478.5 415.5M479.0 415.5M479.6 415.5M480.1 415.5M480.7 415.5L481.2 415.3L481.8 415.0L482.3 415.5M482.9 415.5M483.4 415.5M484.0 415.5M484.5 415.5L485.1 415.0L485.6 415.0L486.2 415.3L486.7 415.5L487.3 414.9L487.8 415.5M488.4 415.5M488.9 415.5M489.5 415.5M490.0 415.5M490.6 415.5M491.1 415.5L491.7 414.8L492.2 415.5L492.8 415.2L493.3 415.5L493.9 415.2L494.4 414.8L495.0 415.5L495.5 415.3L496.1 415.5L496.6 414.9L497.2 415.1L497.7 415.2L498.3 415.5M498.8 415.5M499.4 415.5L499.9 415.3L500.5 415.0L501.0 415.5L501.6 415.0L502.1 415.1L502.7 414.9L503.2 415.1L503.8 415.0L504.3 415.0L504.9 415.1L505.5 415.5L506.0 415.2L506.6 415.3L507.1 415.2L507.7 414.9L508.2 415.2L508.8 415.5M509.3 415.5M509.9 415.5M510.4 415.5L511.0 414.8L511.5 415.3L512.1 415.5M512.6 415.5M513.2 415.5M513.7 415.5M514.3 415.5L514.8 415.3L515.4 415.2L515.9 415.5M516.5 415.5M517.0 415.5M517.6 415.5L518.1 414.8L518.7 415.0L519.2 415.5L519.8 415.2L520.3 415.2L520.9 415.1L521.4 415.1L522.0 415.5L522.5 414.9L523.1 415.5M523.6 415.5L524.2 415.3L524.7 415.0L525.3 415.5M525.8 415.5L526.4 414.9L526.9 414.9L527.5 415.5L528.0 414.8L528.6 415.5M529.1 415.5M529.7 415.5M530.2 415.5M530.8 415.5L531.3 415.3L531.9 415.2L532.4 415.3L533.0 415.5L533.5 415.1L534.1 414.8L534.6 414.8L535.2 415.5M535.7 415.5M536.3 415.5L536.8 415.0L537.4 415.5M537.9 415.5L538.5 414.9L539.0 415.5L539.6 415.1L540.1 415.3L540.7 414.8L541.2 414.9L541.8 415.5L541.8 415.5Z" fill="#f0853a" stroke="#f0853a" stroke-width="0.25" opacity="0.75"/>
<line x1="541.8" y1="415.3" x2="592.5" y2="415.3" stroke="#98c4de" stroke-width="0.6" opacity="0.25"/>
<path d="M541.8 415.5L541.8 415.4L542.4 415.5M542.9 415.5M543.5 415.5L544.0 415.3L544.6 415.5M545.1 415.5M545.7 415.5M546.2 415.5M546.8 415.5M547.3 415.5L547.9 415.4L548.4 415.5M549.0 415.5M549.5 415.5M550.1 415.5M550.6 415.5M551.2 415.5M551.7 415.5M552.3 415.5L552.8 415.3L553.4 415.5M553.9 415.5M554.5 415.5M555.0 415.5M555.6 415.5M556.1 415.5M556.7 415.5M557.2 415.5M557.8 415.5M558.3 415.5M558.9 415.5M559.4 415.5M560.0 415.5M560.5 415.5M561.1 415.5M561.6 415.5M562.2 415.5M562.7 415.5L563.3 415.4L563.8 415.5M564.4 415.5M564.9 415.5L565.5 415.4L566.0 415.5L566.6 415.2L567.1 415.5M567.7 415.5L568.3 415.3L568.8 415.5L569.4 415.3L569.9 415.1L570.5 415.5M571.0 415.5L571.6 415.3L572.1 415.5M572.7 415.5M573.2 415.5M573.8 415.5M574.3 415.5M574.9 415.5M575.4 415.5M576.0 415.5M576.5 415.5M577.1 415.5M577.6 415.5M578.2 415.5M578.7 415.5M579.3 415.5M579.8 415.5M580.4 415.5M580.9 415.5M581.5 415.5M582.0 415.5M582.6 415.5M583.1 415.5M583.7 415.5L584.2 415.4L584.8 415.5M585.3 415.5M585.9 415.5L586.4 415.1L587.0 415.5M587.5 415.5M588.1 415.5M588.6 415.5M589.2 415.5L589.7 415.3L590.3 415.5M590.8 415.5M591.4 415.5M591.9 415.5L592.5 415.4L592.5 415.5Z" fill="#98c4de" stroke="#98c4de" stroke-width="0.25" opacity="0.75"/>
<line x1="592.5" y1="415.3" x2="629.2" y2="415.3" stroke="#dcc4ca" stroke-width="0.6" opacity="0.14"/>
<line x1="629.2" y1="415.3" x2="645.4" y2="415.3" stroke="#b9aad0" stroke-width="0.6" opacity="0.18"/>
<line x1="648.1" y1="415.3" x2="673.1" y2="415.3" stroke="#d6ccd0" stroke-width="0.6" opacity="0.11"/>
<line x1="673.1" y1="415.3" x2="680.0" y2="415.3" stroke="#4fb08e" stroke-width="0.6" opacity="0.36"/>
<path d="M673.1 415.5M673.1 415.5L673.7 414.9L674.2 415.4L674.8 415.5M675.4 415.5M676.0 415.5M676.5 415.5L677.1 415.3L677.7 415.5M678.3 415.5L678.9 415.1L679.4 415.4L680.0 415.3L680.0 415.5Z" fill="#4fb08e" stroke="#4fb08e" stroke-width="0.25" opacity="0.75"/>
<line x1="351.0" y1="422.5" x2="410.4" y2="422.5" stroke="#fad75c" stroke-width="0.6" opacity="0.72"/>
<path d="M351.0 422.7L351.0 420.9L351.6 420.9L352.1 421.3L352.7 421.4L353.2 420.1L353.8 421.4L354.3 420.7L354.9 420.9L355.4 421.4L356.0 420.7L356.6 421.1L357.1 421.4L357.7 421.4L358.2 421.0L358.8 420.9L359.3 421.0L359.9 419.2L360.4 421.4L361.0 421.2L361.5 420.7L362.1 420.3L362.7 421.4L363.2 420.0L363.8 420.1L364.3 420.4L364.9 420.0L365.4 420.2L366.0 421.3L366.5 421.4L367.1 419.4L367.7 419.1L368.2 421.3L368.8 421.4L369.3 420.1L369.9 421.3L370.4 421.2L371.0 420.3L371.5 421.2L372.1 421.0L372.7 419.5L373.2 420.1L373.8 421.4L374.3 420.0L374.9 421.3L375.4 420.6L376.0 420.7L376.5 420.5L377.1 421.4L377.6 421.2L378.2 421.3L378.8 419.4L379.3 420.6L379.9 420.1L380.4 419.3L381.0 420.7L381.5 421.4L382.1 420.1L382.6 421.2L383.2 420.7L383.8 419.4L384.3 420.2L384.9 420.9L385.4 420.6L386.0 421.4L386.5 421.0L387.1 420.8L387.6 421.3L388.2 419.1L388.7 419.5L389.3 421.4L389.9 421.1L390.4 421.1L391.0 420.5L391.5 421.3L392.1 421.4L392.6 419.7L393.2 420.4L393.7 420.6L394.3 421.0L394.9 421.4L395.4 420.1L396.0 420.9L396.5 420.0L397.1 420.7L397.6 421.3L398.2 420.4L398.7 420.2L399.3 421.4L399.9 420.6L400.4 420.5L401.0 419.7L401.5 420.6L402.1 419.3L402.6 419.6L403.2 421.4L403.7 421.4L404.3 420.4L404.8 419.4L405.4 419.9L406.0 420.6L406.5 421.4L407.1 420.9L407.6 421.4L408.2 417.3L408.7 417.3L409.3 417.3L409.8 417.3L410.4 417.3L410.4 422.7Z" fill="#fad75c" stroke="#fad75c" stroke-width="0.25" opacity="1"/>
<line x1="410.4" y1="422.5" x2="423.5" y2="422.5" stroke="#fbee98" stroke-width="0.6" opacity="0.43"/>
<path d="M410.4 422.7M410.4 422.7M411.0 422.7M411.5 422.7M412.1 422.7L412.7 422.2L413.2 422.2L413.8 422.0L414.4 422.1L415.0 422.7L415.5 422.5L416.1 422.3L416.7 422.4L417.2 422.7L417.8 422.2L418.4 422.7M418.9 422.7M419.5 422.7L420.1 422.4L420.7 422.7L421.2 422.3L421.8 422.4L422.4 422.4L422.9 422.2L423.5 422.1L423.5 422.7Z" fill="#fbee98" stroke="#fbee98" stroke-width="0.25" opacity="0.75"/>
<line x1="423.5" y1="422.5" x2="432.2" y2="422.5" stroke="#a2cc58" stroke-width="0.6" opacity="0.36"/>
<path d="M423.5 422.7L423.5 422.4L424.1 422.7M424.7 422.7M425.2 422.7M425.8 422.7M426.4 422.7M427.0 422.7M427.6 422.7L428.1 422.1L428.7 422.7M429.3 422.7L429.9 422.4L430.5 422.4L431.0 422.7M431.6 422.7M432.2 422.7L432.2 422.7Z" fill="#a2cc58" stroke="#a2cc58" stroke-width="0.25" opacity="0.75"/>
<line x1="432.2" y1="422.5" x2="541.8" y2="422.5" stroke="#f0853a" stroke-width="0.6" opacity="0.54"/>
<path d="M432.2 422.7M432.2 422.7M432.8 422.7L433.3 421.9L433.9 422.7M434.4 422.7L435.0 422.3L435.5 422.7L436.1 422.2L436.6 422.2L437.2 422.7L437.7 421.9L438.3 422.7L438.8 421.9L439.4 422.0L439.9 421.9L440.5 422.7L441.0 422.2L441.6 422.7L442.1 422.4L442.7 422.2L443.2 422.2L443.8 422.7L444.3 422.2L444.9 421.9L445.4 422.7L446.0 422.3L446.5 422.7M447.1 422.7M447.6 422.7L448.2 422.0L448.7 422.1L449.3 422.7M449.8 422.7M450.4 422.7M450.9 422.7M451.5 422.7L452.0 422.2L452.6 422.7M453.1 422.7M453.7 422.7M454.2 422.7M454.8 422.7M455.3 422.7L455.9 422.1L456.4 422.7M457.0 422.7L457.5 422.1L458.1 421.9L458.6 422.4L459.2 422.4L459.7 422.7L460.3 422.0L460.8 422.7M461.4 422.7M461.9 422.7L462.5 422.4L463.0 422.3L463.6 422.7M464.1 422.7L464.7 422.4L465.2 422.7L465.8 422.3L466.3 422.7M466.9 422.7M467.4 422.7M468.0 422.7M468.5 422.7L469.1 422.4L469.7 422.7L470.2 421.9L470.8 422.3L471.3 422.1L471.9 422.3L472.4 422.7M473.0 422.7L473.5 422.4L474.1 422.7L474.6 421.9L475.2 422.7M475.7 422.7M476.3 422.7L476.8 422.3L477.4 422.7L477.9 422.3L478.5 422.2L479.0 422.2L479.6 422.7M480.1 422.7L480.7 422.1L481.2 422.7L481.8 422.1L482.3 422.7M482.9 422.7L483.4 422.3L484.0 422.7L484.5 422.0L485.1 422.2L485.6 422.7L486.2 421.9L486.7 422.7L487.3 422.4L487.8 422.7L488.4 422.1L488.9 422.7L489.5 422.2L490.0 422.7M490.6 422.7M491.1 422.7M491.7 422.7L492.2 421.9L492.8 421.9L493.3 422.7L493.9 422.2L494.4 422.7M495.0 422.7M495.5 422.7M496.1 422.7L496.6 422.2L497.2 421.9L497.7 421.9L498.3 422.7L498.8 421.9L499.4 422.7L499.9 422.4L500.5 422.4L501.0 422.4L501.6 422.1L502.1 422.7M502.7 422.7M503.2 422.7L503.8 422.0L504.3 422.7M504.9 422.7M505.5 422.7L506.0 422.1L506.6 422.4L507.1 422.4L507.7 422.4L508.2 422.7M508.8 422.7L509.3 422.1L509.9 422.1L510.4 422.7L511.0 422.4L511.5 422.3L512.1 422.7M512.6 422.7M513.2 422.7L513.7 422.4L514.3 422.7L514.8 422.2L515.4 422.4L515.9 422.1L516.5 422.7L517.0 422.2L517.6 422.2L518.1 422.7L518.7 422.4L519.2 422.7M519.8 422.7L520.3 422.3L520.9 422.7L521.4 422.2L522.0 422.2L522.5 422.7M523.1 422.7L523.6 422.3L524.2 422.7L524.7 422.4L525.3 422.7L525.8 422.2L526.4 422.7L526.9 422.2L527.5 422.4L528.0 422.0L528.6 422.7L529.1 422.0L529.7 422.7M530.2 422.7L530.8 422.3L531.3 421.9L531.9 422.7L532.4 421.9L533.0 422.3L533.5 422.7M534.1 422.7M534.6 422.7M535.2 422.7L535.7 421.9L536.3 422.0L536.8 422.7L537.4 422.1L537.9 422.7M538.5 422.7M539.0 422.7L539.6 422.4L540.1 422.7M540.7 422.7M541.2 422.7L541.8 422.4L541.8 422.7Z" fill="#f0853a" stroke="#f0853a" stroke-width="0.25" opacity="0.75"/>
<line x1="541.8" y1="422.5" x2="592.5" y2="422.5" stroke="#98c4de" stroke-width="0.6" opacity="0.25"/>
<path d="M541.8 422.7L541.8 422.5L542.4 422.7M542.9 422.7M543.5 422.7M544.0 422.7M544.6 422.7M545.1 422.7M545.7 422.7M546.2 422.7M546.8 422.7L547.3 422.3L547.9 422.7M548.4 422.7M549.0 422.7L549.5 422.5L550.1 422.5L550.6 422.7M551.2 422.7L551.7 422.3L552.3 422.7M552.8 422.7M553.4 422.7M553.9 422.7L554.5 422.4L555.0 422.7M555.6 422.7M556.1 422.7M556.7 422.7M557.2 422.7M557.8 422.7M558.3 422.7M558.9 422.7L559.4 422.4L560.0 422.7M560.5 422.7L561.1 422.2L561.6 422.7M562.2 422.7M562.7 422.7M563.3 422.7M563.8 422.7M564.4 422.7M564.9 422.7M565.5 422.7M566.0 422.7M566.6 422.7M567.1 422.7L567.7 422.5L568.3 422.7M568.8 422.7M569.4 422.7M569.9 422.7M570.5 422.7M571.0 422.7M571.6 422.7M572.1 422.7M572.7 422.7M573.2 422.7L573.8 422.5L574.3 422.7M574.9 422.7M575.4 422.7M576.0 422.7L576.5 422.3L577.1 422.5L577.6 422.7M578.2 422.7M578.7 422.7L579.3 422.3L579.8 422.7M580.4 422.7M580.9 422.7M581.5 422.7M582.0 422.7M582.6 422.7L583.1 422.2L583.7 422.7L584.2 422.2L584.8 422.7M585.3 422.7M585.9 422.7M586.4 422.7M587.0 422.7M587.5 422.7M588.1 422.7M588.6 422.7M589.2 422.7M589.7 422.7M590.3 422.7M590.8 422.7M591.4 422.7L591.9 422.2L592.5 422.7L592.5 422.7Z" fill="#98c4de" stroke="#98c4de" stroke-width="0.25" opacity="0.75"/>
<line x1="592.5" y1="422.5" x2="629.2" y2="422.5" stroke="#dcc4ca" stroke-width="0.6" opacity="0.14"/>
<line x1="629.2" y1="422.5" x2="645.4" y2="422.5" stroke="#b9aad0" stroke-width="0.6" opacity="0.18"/>
<line x1="648.1" y1="422.5" x2="673.1" y2="422.5" stroke="#d6ccd0" stroke-width="0.6" opacity="0.11"/>
<line x1="673.1" y1="422.5" x2="680.0" y2="422.5" stroke="#4fb08e" stroke-width="0.6" opacity="0.36"/>
<path d="M673.1 422.7M673.1 422.7M673.7 422.7L674.2 422.4L674.8 422.7L675.4 422.5L676.0 422.1L676.5 422.7L677.1 422.5L677.7 422.4L678.3 422.7L678.9 422.3L679.4 422.7L680.0 422.2L680.0 422.7Z" fill="#4fb08e" stroke="#4fb08e" stroke-width="0.25" opacity="0.75"/>
<line x1="351.0" y1="429.6" x2="410.4" y2="429.6" stroke="#fad75c" stroke-width="0.6" opacity="0.72"/>
<path d="M351.0 429.8L351.0 428.1L351.6 428.8L352.1 428.8L352.7 428.4L353.2 428.3L353.8 428.8L354.3 427.5L354.9 428.0L355.4 428.5L356.0 428.7L356.6 428.8L357.1 428.6L357.7 428.0L358.2 428.4L358.8 428.8L359.3 428.8L359.9 428.7L360.4 428.8L361.0 428.0L361.5 427.2L362.1 428.8L362.7 428.7L363.2 427.6L363.8 428.6L364.3 428.6L364.9 426.9L365.4 428.0L366.0 428.1L366.5 427.8L367.1 428.6L367.7 428.8L368.2 428.8L368.8 428.5L369.3 428.3L369.9 428.8L370.4 428.8L371.0 427.4L371.5 428.5L372.1 428.8L372.7 427.3L373.2 428.8L373.8 428.7L374.3 428.2L374.9 427.9L375.4 428.8L376.0 428.7L376.5 428.6L377.1 428.6L377.6 428.8L378.2 427.9L378.8 426.9L379.3 428.5L379.9 428.6L380.4 427.0L381.0 427.7L381.5 428.7L382.1 428.4L382.6 427.1L383.2 428.0L383.8 428.8L384.3 427.6L384.9 428.8L385.4 427.9L386.0 427.8L386.5 428.8L387.1 428.7L387.6 428.7L388.2 428.7L388.7 428.3L389.3 428.8L389.9 428.8L390.4 428.6L391.0 428.7L391.5 428.8L392.1 427.2L392.6 428.3L393.2 428.6L393.7 428.7L394.3 428.8L394.9 428.5L395.4 428.8L396.0 428.7L396.5 428.2L397.1 428.8L397.6 427.1L398.2 428.2L398.7 428.6L399.3 427.6L399.9 426.9L400.4 428.7L401.0 428.7L401.5 427.0L402.1 428.7L402.6 428.4L403.2 428.7L403.7 427.6L404.3 428.8L404.8 428.2L405.4 428.0L406.0 427.0L406.5 427.9L407.1 428.7L407.6 427.6L408.2 425.3L408.7 425.3L409.3 425.3L409.8 425.3L410.4 425.3L410.4 429.8Z" fill="#fad75c" stroke="#fad75c" stroke-width="0.25" opacity="1"/>
<line x1="410.4" y1="429.6" x2="423.5" y2="429.6" stroke="#fbee98" stroke-width="0.6" opacity="0.43"/>
<path d="M410.4 429.8L410.4 429.5L411.0 429.8M411.5 429.8M412.1 429.8M412.7 429.8M413.2 429.8L413.8 429.2L414.4 429.8M415.0 429.8L415.5 429.3L416.1 429.8L416.7 429.4L417.2 429.1L417.8 429.8L418.4 429.3L418.9 429.8L419.5 429.6L420.1 429.4L420.7 429.8M421.2 429.8M421.8 429.8L422.4 429.5L422.9 429.8M423.5 429.8L423.5 429.8Z" fill="#fbee98" stroke="#fbee98" stroke-width="0.25" opacity="0.75"/>
<line x1="423.5" y1="429.6" x2="432.2" y2="429.6" stroke="#a2cc58" stroke-width="0.6" opacity="0.36"/>
<path d="M423.5 429.8M423.5 429.8M424.1 429.8L424.7 429.6L425.2 429.8M425.8 429.8L426.4 429.3L427.0 429.6L427.6 429.8L428.1 429.5L428.7 429.8M429.3 429.8M429.9 429.8M430.5 429.8M431.0 429.8M431.6 429.8L432.2 429.3L432.2 429.8Z" fill="#a2cc58" stroke="#a2cc58" stroke-width="0.25" opacity="0.75"/>
<line x1="432.2" y1="429.6" x2="541.8" y2="429.6" stroke="#f0853a" stroke-width="0.6" opacity="0.54"/>
<path d="M432.2 429.8M432.2 429.8M432.8 429.8L433.3 429.0L433.9 429.5L434.4 429.3L435.0 429.8L435.5 429.4L436.1 429.3L436.6 429.6L437.2 429.8L437.7 429.3L438.3 429.2L438.8 429.2L439.4 429.8L439.9 429.6L440.5 429.8L441.0 429.5L441.6 429.5L442.1 429.8M442.7 429.8M443.2 429.8M443.8 429.8M444.3 429.8M444.9 429.8L445.4 429.1L446.0 429.8M446.5 429.8M447.1 429.8L447.6 429.3L448.2 429.5L448.7 429.5L449.3 429.2L449.8 429.8L450.4 429.5L450.9 429.5L451.5 429.8M452.0 429.8M452.6 429.8M453.1 429.8M453.7 429.8L454.2 429.5L454.8 429.4L455.3 429.5L455.9 429.5L456.4 429.8M457.0 429.8M457.5 429.8L458.1 429.2L458.6 429.1L459.2 429.6L459.7 429.2L460.3 429.5L460.8 429.8L461.4 429.4L461.9 429.8M462.5 429.8M463.0 429.8L463.6 429.6L464.1 429.8M464.7 429.8L465.2 429.1L465.8 429.2L466.3 429.8M466.9 429.8L467.4 429.1L468.0 429.8L468.5 429.0L469.1 429.5L469.7 429.8L470.2 429.0L470.8 429.8L471.3 429.1L471.9 429.8L472.4 429.2L473.0 429.8L473.5 429.5L474.1 429.5L474.6 429.5L475.2 429.3L475.7 429.2L476.3 429.5L476.8 429.8M477.4 429.8M477.9 429.8L478.5 429.0L479.0 429.8M479.6 429.8M480.1 429.8M480.7 429.8L481.2 429.1L481.8 429.2L482.3 429.8M482.9 429.8M483.4 429.8L484.0 429.3L484.5 429.4L485.1 429.3L485.6 429.8L486.2 429.4L486.7 429.0L487.3 429.0L487.8 429.6L488.4 429.8M488.9 429.8M489.5 429.8L490.0 429.3L490.6 429.6L491.1 429.8L491.7 429.4L492.2 429.5L492.8 429.8L493.3 429.3L493.9 429.8L494.4 429.5L495.0 429.8L495.5 429.6L496.1 429.8L496.6 429.6L497.2 429.8L497.7 429.6L498.3 429.8L498.8 429.2L499.4 429.3L499.9 429.0L500.5 429.3L501.0 429.4L501.6 429.8L502.1 429.4L502.7 429.2L503.2 429.3L503.8 429.8L504.3 429.4L504.9 429.5L505.5 429.8L506.0 429.2L506.6 429.8M507.1 429.8L507.7 429.5L508.2 429.4L508.8 429.8L509.3 429.5L509.9 429.8L510.4 429.2L511.0 429.8L511.5 429.0L512.1 429.3L512.6 429.3L513.2 429.2L513.7 429.8L514.3 429.4L514.8 429.8M515.4 429.8L515.9 429.6L516.5 429.8M517.0 429.8L517.6 429.0L518.1 429.5L518.7 429.6L519.2 429.8M519.8 429.8M520.3 429.8M520.9 429.8M521.4 429.8M522.0 429.8M522.5 429.8L523.1 429.4L523.6 429.8M524.2 429.8L524.7 429.6L525.3 429.8M525.8 429.8L526.4 429.6L526.9 429.3L527.5 429.8M528.0 429.8M528.6 429.8M529.1 429.8L529.7 429.1L530.2 429.8L530.8 429.2L531.3 429.8M531.9 429.8M532.4 429.8L533.0 429.6L533.5 429.6L534.1 429.2L534.6 429.8M535.2 429.8M535.7 429.8L536.3 429.2L536.8 429.3L537.4 429.8L537.9 429.5L538.5 429.8L539.0 429.1L539.6 429.8L540.1 429.3L540.7 429.8M541.2 429.8L541.8 429.2L541.8 429.8Z" fill="#f0853a" stroke="#f0853a" stroke-width="0.25" opacity="0.75"/>
<line x1="541.8" y1="429.6" x2="592.5" y2="429.6" stroke="#98c4de" stroke-width="0.6" opacity="0.25"/>
<path d="M541.8 429.8M541.8 429.8M542.4 429.8L542.9 429.7L543.5 429.8M544.0 429.8M544.6 429.8M545.1 429.8M545.7 429.8M546.2 429.8L546.8 429.5L547.3 429.8L547.9 429.4L548.4 429.8M549.0 429.8M549.5 429.8L550.1 429.7L550.6 429.8M551.2 429.8M551.7 429.8M552.3 429.8L552.8 429.4L553.4 429.8L553.9 429.5L554.5 429.8L555.0 429.6L555.6 429.8M556.1 429.8M556.7 429.8M557.2 429.8M557.8 429.8L558.3 429.5L558.9 429.8M559.4 429.8M560.0 429.8L560.5 429.4L561.1 429.8M561.6 429.8M562.2 429.8L562.7 429.4L563.3 429.8M563.8 429.8M564.4 429.8M564.9 429.8M565.5 429.8M566.0 429.8M566.6 429.8M567.1 429.8M567.7 429.8L568.3 429.6L568.8 429.8M569.4 429.8L569.9 429.4L570.5 429.8M571.0 429.8L571.6 429.6L572.1 429.8M572.7 429.8M573.2 429.8M573.8 429.8L574.3 429.7L574.9 429.8M575.4 429.8M576.0 429.8M576.5 429.8M577.1 429.8M577.6 429.8M578.2 429.8L578.7 429.4L579.3 429.8M579.8 429.8L580.4 429.6L580.9 429.8M581.5 429.8M582.0 429.8M582.6 429.8M583.1 429.8L583.7 429.5L584.2 429.8M584.8 429.8L585.3 429.6L585.9 429.8M586.4 429.8L587.0 429.4L587.5 429.8L588.1 429.4L588.6 429.8M589.2 429.8M589.7 429.8M590.3 429.8M590.8 429.8L591.4 429.7L591.9 429.4L592.5 429.5L592.5 429.8Z" fill="#98c4de" stroke="#98c4de" stroke-width="0.25" opacity="0.75"/>
<line x1="592.5" y1="429.6" x2="629.2" y2="429.6" stroke="#dcc4ca" stroke-width="0.6" opacity="0.14"/>
<line x1="629.2" y1="429.6" x2="645.4" y2="429.6" stroke="#b9aad0" stroke-width="0.6" opacity="0.18"/>
<line x1="648.1" y1="429.6" x2="673.1" y2="429.6" stroke="#d6ccd0" stroke-width="0.6" opacity="0.11"/>
<line x1="673.1" y1="429.6" x2="680.0" y2="429.6" stroke="#4fb08e" stroke-width="0.6" opacity="0.36"/>
<path d="M673.1 429.8L673.1 429.3L673.7 429.6L674.2 429.3L674.8 429.8M675.4 429.8L676.0 429.6L676.5 429.6L677.1 429.8M677.7 429.8L678.3 429.6L678.9 429.5L679.4 429.8M680.0 429.8L680.0 429.8Z" fill="#4fb08e" stroke="#4fb08e" stroke-width="0.25" opacity="0.75"/>
<line x1="351.0" y1="436.8" x2="410.4" y2="436.8" stroke="#fad75c" stroke-width="0.6" opacity="0.40"/>
<line x1="410.4" y1="436.8" x2="423.5" y2="436.8" stroke="#fbee98" stroke-width="0.6" opacity="0.36"/>
<path d="M410.4 437.0L410.4 436.7L411.0 436.8L411.5 436.6L412.1 437.0M412.7 437.0L413.2 436.5L413.8 436.8L414.4 436.7L415.0 437.0M415.5 437.0L416.1 436.4L416.7 436.7L417.2 437.0M417.8 437.0L418.4 436.7L418.9 437.0L419.5 436.8L420.1 437.0M420.7 437.0L421.2 436.5L421.8 436.6L422.4 437.0M422.9 437.0L423.5 436.5L423.5 437.0Z" fill="#fbee98" stroke="#fbee98" stroke-width="0.25" opacity="0.75"/>
<line x1="423.5" y1="436.8" x2="432.2" y2="436.8" stroke="#a2cc58" stroke-width="0.6" opacity="0.22"/>
<line x1="432.2" y1="436.8" x2="541.8" y2="436.8" stroke="#f0853a" stroke-width="0.6" opacity="0.36"/>
<path d="M432.2 437.0L432.2 436.8L432.8 437.0M433.3 437.0L433.9 436.5L434.4 437.0M435.0 437.0L435.5 436.7L436.1 436.7L436.6 437.0M437.2 437.0L437.7 436.6L438.3 436.8L438.8 436.8L439.4 437.0L439.9 436.7L440.5 437.0M441.0 437.0M441.6 437.0M442.1 437.0L442.7 436.8L443.2 436.8L443.8 437.0M444.3 437.0M444.9 437.0M445.4 437.0M446.0 437.0M446.5 437.0M447.1 437.0M447.6 437.0M448.2 437.0M448.7 437.0M449.3 437.0M449.8 437.0M450.4 437.0L450.9 436.8L451.5 437.0M452.0 437.0M452.6 437.0L453.1 436.5L453.7 437.0M454.2 437.0M454.8 437.0M455.3 437.0L455.9 436.6L456.4 437.0M457.0 437.0M457.5 437.0L458.1 436.5L458.6 437.0M459.2 437.0M459.7 437.0M460.3 437.0M460.8 437.0M461.4 437.0L461.9 436.7L462.5 437.0M463.0 437.0M463.6 437.0L464.1 436.6L464.7 437.0M465.2 437.0M465.8 437.0L466.3 436.5L466.9 437.0M467.4 437.0M468.0 437.0M468.5 437.0L469.1 436.8L469.7 437.0M470.2 437.0L470.8 436.5L471.3 437.0L471.9 436.6L472.4 437.0M473.0 437.0M473.5 437.0L474.1 436.7L474.6 437.0M475.2 437.0M475.7 437.0M476.3 437.0M476.8 437.0M477.4 437.0M477.9 437.0M478.5 437.0L479.0 436.8L479.6 436.8L480.1 437.0M480.7 437.0M481.2 437.0M481.8 437.0L482.3 436.5L482.9 437.0M483.4 437.0M484.0 437.0M484.5 437.0M485.1 437.0L485.6 436.8L486.2 437.0L486.7 436.6L487.3 437.0M487.8 437.0M488.4 437.0M488.9 437.0M489.5 437.0L490.0 436.7L490.6 437.0M491.1 437.0M491.7 437.0M492.2 437.0M492.8 437.0L493.3 436.6L493.9 437.0M494.4 437.0L495.0 436.5L495.5 436.6L496.1 437.0M496.6 437.0M497.2 437.0M497.7 437.0M498.3 437.0L498.8 436.8L499.4 436.8L499.9 437.0M500.5 437.0M501.0 437.0M501.6 437.0M502.1 437.0M502.7 437.0M503.2 437.0L503.8 436.7L504.3 437.0M504.9 437.0M505.5 437.0L506.0 436.8L506.6 437.0M507.1 437.0M507.7 437.0M508.2 437.0L508.8 436.8L509.3 437.0M509.9 437.0M510.4 437.0M511.0 437.0L511.5 436.7L512.1 437.0M512.6 437.0L513.2 436.5L513.7 436.5L514.3 436.8L514.8 437.0L515.4 436.6L515.9 437.0M516.5 437.0M517.0 437.0M517.6 437.0M518.1 437.0L518.7 436.7L519.2 437.0L519.8 436.8L520.3 437.0M520.9 437.0M521.4 437.0M522.0 437.0L522.5 436.8L523.1 436.8L523.6 436.6L524.2 437.0M524.7 437.0M525.3 437.0M525.8 437.0L526.4 436.7L526.9 436.5L527.5 437.0M528.0 437.0M528.6 437.0M529.1 437.0M529.7 437.0M530.2 437.0L530.8 436.6L531.3 437.0L531.9 436.8L532.4 437.0M533.0 437.0M533.5 437.0M534.1 437.0M534.6 437.0M535.2 437.0M535.7 437.0M536.3 437.0M536.8 437.0M537.4 437.0M537.9 437.0M538.5 437.0L539.0 436.5L539.6 437.0M540.1 437.0M540.7 437.0M541.2 437.0M541.8 437.0L541.8 437.0Z" fill="#f0853a" stroke="#f0853a" stroke-width="0.25" opacity="0.75"/>
<line x1="541.8" y1="436.8" x2="592.5" y2="436.8" stroke="#98c4de" stroke-width="0.6" opacity="0.36"/>
<path d="M541.8 437.0M541.8 437.0L542.4 435.0L542.9 434.4L543.5 437.0M544.0 437.0L544.6 435.7L545.1 437.0M545.7 437.0M546.2 437.0M546.8 437.0M547.3 437.0L547.9 434.6L548.4 437.0L549.0 435.7L549.5 437.0L550.1 435.9L550.6 437.0M551.2 437.0M551.7 437.0M552.3 437.0M552.8 437.0M553.4 437.0M553.9 437.0L554.5 435.3L555.0 437.0M555.6 437.0M556.1 437.0M556.7 437.0L557.2 435.9L557.8 437.0L558.3 435.7L558.9 437.0M559.4 437.0M560.0 437.0L560.5 435.9L561.1 435.3L561.6 437.0L562.2 434.6L562.7 436.0L563.3 437.0M563.8 437.0M564.4 437.0L564.9 434.8L565.5 435.9L566.0 437.0M566.6 437.0L567.1 434.7L567.7 434.4L568.3 437.0M568.8 437.0L569.4 435.7L569.9 437.0L570.5 436.0L571.0 437.0M571.6 437.0M572.1 437.0M572.7 437.0M573.2 437.0M573.8 437.0L574.3 435.9L574.9 437.0L575.4 434.7L576.0 437.0L576.5 436.0L577.1 437.0M577.6 437.0L578.2 435.6L578.7 437.0M579.3 437.0L579.8 434.8L580.4 437.0M580.9 437.0L581.5 436.2L582.0 437.0M582.6 437.0L583.1 434.7L583.7 437.0L584.2 436.1L584.8 437.0M585.3 437.0M585.9 437.0L586.4 435.7L587.0 435.4L587.5 437.0M588.1 437.0M588.6 437.0M589.2 437.0L589.7 435.7L590.3 434.9L590.8 437.0L591.4 434.6L591.9 437.0M592.5 437.0L592.5 437.0Z" fill="#98c4de" stroke="#98c4de" stroke-width="0.25" opacity="0.75"/>
<line x1="592.5" y1="436.8" x2="629.2" y2="436.8" stroke="#dcc4ca" stroke-width="0.6" opacity="0.50"/>
<path d="M592.5 437.0L592.5 436.7L593.1 437.0M593.6 437.0M594.2 437.0M594.7 437.0M595.3 437.0M595.8 437.0M596.4 437.0L596.9 436.7L597.5 437.0M598.1 437.0M598.6 437.0L599.2 436.6L599.7 437.0M600.3 437.0M600.8 437.0M601.4 437.0M602.0 437.0L602.5 436.8L603.1 436.4L603.6 437.0M604.2 437.0L604.7 436.5L605.3 437.0L605.8 436.8L606.4 437.0M607.0 437.0M607.5 437.0M608.1 437.0M608.6 437.0M609.2 437.0M609.7 437.0M610.3 437.0M610.9 437.0M611.4 437.0L612.0 436.7L612.5 437.0L613.1 436.5L613.6 437.0L614.2 436.5L614.7 436.6L615.3 437.0M615.9 437.0M616.4 437.0M617.0 437.0M617.5 437.0M618.1 437.0M618.6 437.0L619.2 436.8L619.7 436.7L620.3 437.0M620.9 437.0L621.4 436.6L622.0 437.0L622.5 436.7L623.1 437.0M623.6 437.0M624.2 437.0M624.8 437.0L625.3 436.7L625.9 437.0M626.4 437.0M627.0 437.0M627.5 437.0M628.1 437.0L628.6 436.4L629.2 437.0L629.2 437.0Z" fill="#dcc4ca" stroke="#dcc4ca" stroke-width="0.25" opacity="0.75"/>
<line x1="629.2" y1="436.8" x2="645.4" y2="436.8" stroke="#b9aad0" stroke-width="0.6" opacity="0.43"/>
<path d="M629.2 437.0M629.2 437.0L629.8 436.6L630.3 436.2L630.9 436.6L631.4 437.0M632.0 437.0M632.6 437.0M633.1 437.0L633.7 436.3L634.2 437.0M634.8 437.0M635.3 437.0L635.9 436.3L636.5 436.6L637.0 437.0L637.6 436.2L638.1 437.0M638.7 437.0L639.3 436.4L639.8 437.0M640.4 437.0M640.9 437.0L641.5 436.7L642.0 436.5L642.6 436.6L643.2 437.0L643.7 436.3L644.3 437.0L644.8 436.3L645.4 436.7L645.4 437.0Z" fill="#b9aad0" stroke="#b9aad0" stroke-width="0.25" opacity="0.75"/>
<line x1="648.1" y1="436.8" x2="673.1" y2="436.8" stroke="#d6ccd0" stroke-width="0.6" opacity="0.14"/>
<line x1="351.0" y1="443.9" x2="410.4" y2="443.9" stroke="#fad75c" stroke-width="0.6" opacity="0.22"/>
<path d="M351.0 444.1L351.0 443.2L351.6 442.8L352.1 443.5L352.7 444.1M353.2 444.1L353.8 442.7L354.3 444.1L354.9 442.7L355.4 443.6L356.0 444.1M356.6 444.1L357.1 443.5L357.7 444.1L358.2 443.0L358.8 444.1L359.3 443.4L359.9 444.1L360.4 442.8L361.0 443.2L361.5 442.6L362.1 444.1M362.7 444.1L363.2 443.0L363.8 443.4L364.3 444.1M364.9 444.1L365.4 443.0L366.0 444.1L366.5 443.1L367.1 444.1L367.7 443.1L368.2 442.8L368.8 443.0L369.3 443.6L369.9 443.6L370.4 443.5L371.0 444.1L371.5 443.0L372.1 443.6L372.7 444.1L373.2 442.7L373.8 443.6L374.3 444.1M374.9 444.1M375.4 444.1M376.0 444.1L376.5 443.6L377.1 444.1M377.6 444.1L378.2 443.5L378.8 442.6L379.3 443.3L379.9 443.6L380.4 443.5L381.0 444.1L381.5 443.0L382.1 442.9L382.6 442.8L383.2 444.1L383.8 443.4L384.3 443.1L384.9 444.1L385.4 442.8L386.0 443.4L386.5 444.1L387.1 443.4L387.6 444.1M388.2 444.1M388.7 444.1M389.3 444.1L389.9 443.0L390.4 442.6L391.0 443.4L391.5 444.1M392.1 444.1M392.6 444.1L393.2 443.4L393.7 443.6L394.3 444.1M394.9 444.1M395.4 444.1L396.0 442.7L396.5 443.4L397.1 443.5L397.6 443.0L398.2 444.1M398.7 444.1M399.3 444.1M399.9 444.1M400.4 444.1M401.0 444.1L401.5 443.2L402.1 444.1L402.6 443.1L403.2 443.4L403.7 444.1L404.3 442.8L404.8 444.1M405.4 444.1L406.0 443.1L406.5 442.8L407.1 444.1M407.6 444.1L408.2 443.3L408.7 442.6L409.3 443.5L409.8 444.1L410.4 443.5L410.4 444.1Z" fill="#fad75c" stroke="#fad75c" stroke-width="0.25" opacity="0.75"/>
<line x1="410.4" y1="443.9" x2="423.5" y2="443.9" stroke="#fbee98" stroke-width="0.6" opacity="0.58"/>
<path d="M410.4 444.1L410.4 441.8L411.0 441.6L411.5 443.0L412.1 442.3L412.7 442.8L413.2 443.0L413.8 442.4L414.4 442.9L415.0 443.0L415.5 441.2L416.1 443.0L416.7 442.7L417.2 442.4L417.8 442.3L418.4 443.0L418.9 443.0L419.5 441.7L420.1 444.1L420.7 442.6L421.2 443.0L421.8 443.0L422.4 442.1L422.9 442.4L423.5 441.3L423.5 444.1Z" fill="#fbee98" stroke="#fbee98" stroke-width="0.25" opacity="1"/>
<line x1="423.5" y1="443.9" x2="432.2" y2="443.9" stroke="#a2cc58" stroke-width="0.6" opacity="0.14"/>
<line x1="432.2" y1="443.9" x2="541.8" y2="443.9" stroke="#f0853a" stroke-width="0.6" opacity="0.25"/>
<path d="M432.2 444.1M432.2 444.1M432.8 444.1M433.3 444.1M433.9 444.1L434.4 443.6L435.0 444.1M435.5 444.1M436.1 444.1M436.6 444.1M437.2 444.1M437.7 444.1M438.3 444.1L438.8 443.5L439.4 444.1L439.9 443.1L440.5 444.1M441.0 444.1M441.6 444.1M442.1 444.1L442.7 443.5L443.2 444.1L443.8 443.6L444.3 444.1M444.9 444.1M445.4 444.1M446.0 444.1M446.5 444.1M447.1 444.1M447.6 444.1L448.2 443.1L448.7 444.1M449.3 444.1L449.8 443.6L450.4 444.1M450.9 444.1L451.5 443.3L452.0 444.1M452.6 444.1M453.1 444.1M453.7 444.1L454.2 443.4L454.8 443.6L455.3 444.1M455.9 444.1M456.4 444.1M457.0 444.1M457.5 444.1M458.1 444.1M458.6 444.1L459.2 443.6L459.7 444.1M460.3 444.1M460.8 444.1M461.4 444.1M461.9 444.1M462.5 444.1L463.0 443.2L463.6 444.1M464.1 444.1L464.7 443.7L465.2 444.1L465.8 443.3L466.3 443.7L466.9 443.2L467.4 444.1L468.0 443.3L468.5 443.2L469.1 443.2L469.7 444.1M470.2 444.1M470.8 444.1M471.3 444.1L471.9 443.3L472.4 444.1L473.0 443.4L473.5 444.1M474.1 444.1M474.6 444.1M475.2 444.1M475.7 444.1M476.3 444.1L476.8 443.7L477.4 444.1M477.9 444.1M478.5 444.1M479.0 444.1M479.6 444.1M480.1 444.1M480.7 444.1M481.2 444.1M481.8 444.1M482.3 444.1M482.9 444.1M483.4 444.1L484.0 443.7L484.5 444.1L485.1 443.7L485.6 444.1M486.2 444.1M486.7 444.1M487.3 444.1L487.8 443.5L488.4 443.6L488.9 444.1L489.5 443.7L490.0 444.1L490.6 443.1L491.1 444.1M491.7 444.1M492.2 444.1M492.8 444.1M493.3 444.1M493.9 444.1M494.4 444.1L495.0 443.7L495.5 443.5L496.1 444.1M496.6 444.1L497.2 443.7L497.7 443.6L498.3 444.1L498.8 443.3L499.4 444.1M499.9 444.1M500.5 444.1M501.0 444.1L501.6 443.4L502.1 444.1M502.7 444.1M503.2 444.1M503.8 444.1M504.3 444.1M504.9 444.1M505.5 444.1M506.0 444.1M506.6 444.1M507.1 444.1M507.7 444.1L508.2 443.1L508.8 444.1M509.3 444.1M509.9 444.1M510.4 444.1L511.0 443.1L511.5 443.5L512.1 444.1L512.6 443.1L513.2 444.1L513.7 443.8L514.3 444.1M514.8 444.1M515.4 444.1M515.9 444.1L516.5 443.5L517.0 444.1M517.6 444.1M518.1 444.1M518.7 444.1M519.2 444.1M519.8 444.1L520.3 443.6L520.9 444.1L521.4 443.8L522.0 444.1M522.5 444.1M523.1 444.1L523.6 443.7L524.2 444.1M524.7 444.1M525.3 444.1L525.8 443.4L526.4 444.1M526.9 444.1M527.5 444.1M528.0 444.1M528.6 444.1M529.1 444.1L529.7 443.1L530.2 443.3L530.8 444.1L531.3 443.3L531.9 444.1M532.4 444.1M533.0 444.1M533.5 444.1M534.1 444.1L534.6 443.6L535.2 444.1M535.7 444.1M536.3 444.1L536.8 443.4L537.4 444.1M537.9 444.1M538.5 444.1M539.0 444.1M539.6 444.1M540.1 444.1M540.7 444.1L541.2 443.8L541.8 444.1L541.8 444.1Z" fill="#f0853a" stroke="#f0853a" stroke-width="0.25" opacity="0.75"/>
<line x1="541.8" y1="443.9" x2="592.5" y2="443.9" stroke="#98c4de" stroke-width="0.6" opacity="0.14"/>
<path d="M541.8 444.1M541.8 444.1M542.4 444.1M542.9 444.1M543.5 444.1M544.0 444.1M544.6 444.1M545.1 444.1M545.7 444.1M546.2 444.1M546.8 444.1M547.3 444.1M547.9 444.1M548.4 444.1M549.0 444.1M549.5 444.1M550.1 444.1M550.6 444.1M551.2 444.1M551.7 444.1M552.3 444.1M552.8 444.1M553.4 444.1L553.9 444.0L554.5 444.1M555.0 444.1M555.6 444.1M556.1 444.1M556.7 444.1M557.2 444.1M557.8 444.1M558.3 444.1M558.9 444.1M559.4 444.1M560.0 444.1M560.5 444.1M561.1 444.1M561.6 444.1M562.2 444.1M562.7 444.1M563.3 444.1L563.8 444.0L564.4 444.1M564.9 444.1M565.5 444.1M566.0 444.1M566.6 444.1M567.1 444.1M567.7 444.1M568.3 444.1M568.8 444.1M569.4 444.1M569.9 444.1M570.5 444.1M571.0 444.1M571.6 444.1M572.1 444.1M572.7 444.1M573.2 444.1M573.8 444.1M574.3 444.1L574.9 444.0L575.4 443.9L576.0 443.9L576.5 444.1M577.1 444.1M577.6 444.1M578.2 444.1M578.7 444.1M579.3 444.1M579.8 444.1M580.4 444.1M580.9 444.1M581.5 444.1M582.0 444.1M582.6 444.1M583.1 444.1M583.7 444.1M584.2 444.1M584.8 444.1M585.3 444.1M585.9 444.1M586.4 444.1M587.0 444.1M587.5 444.1M588.1 444.1M588.6 444.1M589.2 444.1M589.7 444.1M590.3 444.1M590.8 444.1M591.4 444.1M591.9 444.1M592.5 444.1L592.5 444.1Z" fill="#98c4de" stroke="#98c4de" stroke-width="0.25" opacity="0.75"/>
<line x1="351.0" y1="451.1" x2="410.4" y2="451.1" stroke="#fad75c" stroke-width="0.6" opacity="0.07"/>
<path d="M351.0 451.3M351.0 451.3L351.6 450.5L352.1 450.7L352.7 450.8L353.2 451.3M353.8 451.3M354.3 451.3M354.9 451.3L355.4 450.0L356.0 451.3M356.6 451.3M357.1 451.3M357.7 451.3M358.2 451.3L358.8 450.5L359.3 450.4L359.9 451.3M360.4 451.3M361.0 451.3M361.5 451.3M362.1 451.3M362.7 451.3M363.2 451.3M363.8 451.3M364.3 451.3M364.9 451.3M365.4 451.3M366.0 451.3M366.5 451.3L367.1 450.8L367.7 450.4L368.2 450.8L368.8 451.3M369.3 451.3L369.9 450.8L370.4 451.3M371.0 451.3M371.5 451.3M372.1 451.3L372.7 450.8L373.2 451.3L373.8 450.9L374.3 451.3L374.9 450.4L375.4 450.5L376.0 450.7L376.5 450.0L377.1 451.3M377.6 451.3L378.2 450.3L378.8 451.3L379.3 450.8L379.9 451.3M380.4 451.3M381.0 451.3L381.5 450.2L382.1 451.3M382.6 451.3M383.2 451.3L383.8 450.4L384.3 450.3L384.9 451.3M385.4 451.3M386.0 451.3L386.5 450.6L387.1 450.8L387.6 451.3M388.2 451.3M388.7 451.3L389.3 450.8L389.9 451.3M390.4 451.3L391.0 450.2L391.5 451.3L392.1 450.6L392.6 450.4L393.2 451.3M393.7 451.3M394.3 451.3M394.9 451.3M395.4 451.3M396.0 451.3L396.5 450.5L397.1 450.2L397.6 451.3M398.2 451.3M398.7 451.3M399.3 451.3M399.9 451.3M400.4 451.3L401.0 450.8L401.5 451.3L402.1 450.1L402.6 450.1L403.2 451.3L403.7 450.3L404.3 451.3M404.8 451.3L405.4 450.9L406.0 451.3M406.5 451.3M407.1 451.3M407.6 451.3L408.2 450.4L408.7 450.1L409.3 451.3M409.8 451.3L410.4 450.3L410.4 451.3Z" fill="#fad75c" stroke="#fad75c" stroke-width="0.25" opacity="0.75"/>
<line x1="410.4" y1="451.1" x2="423.5" y2="451.1" stroke="#fbee98" stroke-width="0.6" opacity="0.50"/>
<path d="M410.4 451.3L410.4 450.2L411.0 450.1L411.5 450.0L412.1 450.3L412.7 449.7L413.2 449.3L413.8 449.6L414.4 449.8L415.0 450.4L415.5 450.3L416.1 449.8L416.7 450.4L417.2 451.3L417.8 450.4L418.4 449.1L418.9 450.4L419.5 450.4L420.1 450.3L420.7 451.3L421.2 450.1L421.8 450.0L422.4 451.3L422.9 449.9L423.5 450.4L423.5 451.3Z" fill="#fbee98" stroke="#fbee98" stroke-width="0.25" opacity="1"/>
<line x1="432.2" y1="451.1" x2="541.8" y2="451.1" stroke="#f0853a" stroke-width="0.6" opacity="0.04"/>
<path d="M432.2 451.3M432.2 451.3M432.8 451.3M433.3 451.3L433.9 450.9L434.4 451.3M435.0 451.3M435.5 451.3L436.1 451.0L436.6 451.1L437.2 451.3M437.7 451.3M438.3 451.3M438.8 451.3M439.4 451.3M439.9 451.3M440.5 451.3L441.0 451.1L441.6 451.3M442.1 451.3M442.7 451.3M443.2 451.3M443.8 451.3M444.3 451.3M444.9 451.3M445.4 451.3M446.0 451.3M446.5 451.3M447.1 451.3M447.6 451.3M448.2 451.3L448.7 451.0L449.3 451.3M449.8 451.3M450.4 451.3M450.9 451.3M451.5 451.3M452.0 451.3M452.6 451.3M453.1 451.3M453.7 451.3M454.2 451.3M454.8 451.3M455.3 451.3M455.9 451.3M456.4 451.3M457.0 451.3L457.5 451.1L458.1 450.9L458.6 451.3M459.2 451.3M459.7 451.3M460.3 451.3M460.8 451.3M461.4 451.3L461.9 450.8L462.5 451.3M463.0 451.3M463.6 451.3M464.1 451.3L464.7 450.7L465.2 451.3M465.8 451.3M466.3 451.3M466.9 451.3M467.4 451.3M468.0 451.3M468.5 451.3M469.1 451.3M469.7 451.3M470.2 451.3M470.8 451.3M471.3 451.3M471.9 451.3M472.4 451.3M473.0 451.3M473.5 451.3M474.1 451.3M474.6 451.3M475.2 451.3M475.7 451.3M476.3 451.3M476.8 451.3M477.4 451.3L477.9 450.9L478.5 451.3M479.0 451.3M479.6 451.3M480.1 451.3M480.7 451.3M481.2 451.3M481.8 451.3M482.3 451.3M482.9 451.3M483.4 451.3M484.0 451.3L484.5 450.8L485.1 451.3M485.6 451.3M486.2 451.3M486.7 451.3M487.3 451.3M487.8 451.3M488.4 451.3M488.9 451.3M489.5 451.3M490.0 451.3L490.6 451.0L491.1 451.3M491.7 451.3M492.2 451.3M492.8 451.3M493.3 451.3M493.9 451.3M494.4 451.3M495.0 451.3M495.5 451.3M496.1 451.3M496.6 451.3M497.2 451.3M497.7 451.3M498.3 451.3M498.8 451.3M499.4 451.3M499.9 451.3M500.5 451.3M501.0 451.3M501.6 451.3M502.1 451.3M502.7 451.3M503.2 451.3M503.8 451.3M504.3 451.3M504.9 451.3M505.5 451.3M506.0 451.3M506.6 451.3M507.1 451.3M507.7 451.3M508.2 451.3M508.8 451.3M509.3 451.3M509.9 451.3M510.4 451.3M511.0 451.3M511.5 451.3M512.1 451.3M512.6 451.3L513.2 450.8L513.7 451.3M514.3 451.3M514.8 451.3M515.4 451.3M515.9 451.3M516.5 451.3M517.0 451.3M517.6 451.3L518.1 451.1L518.7 451.3M519.2 451.3M519.8 451.3M520.3 451.3M520.9 451.3M521.4 451.3M522.0 451.3M522.5 451.3M523.1 451.3M523.6 451.3M524.2 451.3M524.7 451.3M525.3 451.3M525.8 451.3M526.4 451.3M526.9 451.3M527.5 451.3M528.0 451.3M528.6 451.3M529.1 451.3M529.7 451.3M530.2 451.3L530.8 451.1L531.3 451.3M531.9 451.3M532.4 451.3M533.0 451.3M533.5 451.3M534.1 451.3M534.6 451.3M535.2 451.3M535.7 451.3M536.3 451.3M536.8 451.3M537.4 451.3M537.9 451.3L538.5 450.8L539.0 451.3M539.6 451.3M540.1 451.3M540.7 451.3M541.2 451.3M541.8 451.3L541.8 451.3Z" fill="#f0853a" stroke="#f0853a" stroke-width="0.25" opacity="0.75"/>
<line x1="541.8" y1="451.1" x2="592.5" y2="451.1" stroke="#98c4de" stroke-width="0.6" opacity="0.04"/>
<path d="M541.8 451.3L541.8 450.4L542.4 451.3L542.9 450.8L543.5 451.3M544.0 451.3M544.6 451.3M545.1 451.3M545.7 451.3M546.2 451.3M546.8 451.3M547.3 451.3M547.9 451.3M548.4 451.3M549.0 451.3M549.5 451.3L550.1 450.6L550.6 451.3M551.2 451.3M551.7 451.3M552.3 451.3M552.8 451.3M553.4 451.3M553.9 451.3M554.5 451.3M555.0 451.3M555.6 451.3M556.1 451.3M556.7 451.3M557.2 451.3M557.8 451.3M558.3 451.3M558.9 451.3M559.4 451.3M560.0 451.3M560.5 451.3M561.1 451.3M561.6 451.3M562.2 451.3M562.7 451.3M563.3 451.3L563.8 450.5L564.4 451.3M564.9 451.3M565.5 451.3L566.0 450.4L566.6 451.3M567.1 451.3L567.7 450.8L568.3 451.3M568.8 451.3L569.4 450.8L569.9 451.3M570.5 451.3M571.0 451.3M571.6 451.3M572.1 451.3M572.7 451.3M573.2 451.3M573.8 451.3M574.3 451.3M574.9 451.3M575.4 451.3M576.0 451.3M576.5 451.3M577.1 451.3M577.6 451.3M578.2 451.3M578.7 451.3M579.3 451.3M579.8 451.3M580.4 451.3M580.9 451.3M581.5 451.3M582.0 451.3M582.6 451.3M583.1 451.3M583.7 451.3L584.2 451.0L584.8 451.3M585.3 451.3M585.9 451.3M586.4 451.3M587.0 451.3M587.5 451.3M588.1 451.3M588.6 451.3M589.2 451.3M589.7 451.3M590.3 451.3M590.8 451.3M591.4 451.3M591.9 451.3M592.5 451.3L592.5 451.3Z" fill="#98c4de" stroke="#98c4de" stroke-width="0.25" opacity="0.75"/>
<line x1="351.0" y1="458.2" x2="410.4" y2="458.2" stroke="#fad75c" stroke-width="0.6" opacity="0.07"/>
<path d="M351.0 458.4M351.0 458.4M351.6 458.4M352.1 458.4L352.7 457.4L353.2 457.7L353.8 457.3L354.3 458.4M354.9 458.4L355.4 457.4L356.0 457.4L356.6 458.4M357.1 458.4L357.7 457.7L358.2 458.4M358.8 458.4M359.3 458.4M359.9 458.4M360.4 458.4M361.0 458.4M361.5 458.4M362.1 458.4L362.7 457.2L363.2 458.4L363.8 457.5L364.3 457.2L364.9 458.4L365.4 458.0L366.0 458.4M366.5 458.4L367.1 457.9L367.7 457.4L368.2 458.0L368.8 458.4M369.3 458.4M369.9 458.4M370.4 458.4L371.0 457.9L371.5 457.6L372.1 458.4M372.7 458.4M373.2 458.4L373.8 457.5L374.3 458.4M374.9 458.4L375.4 457.9L376.0 458.4M376.5 458.4M377.1 458.4M377.6 458.4M378.2 458.4L378.8 457.5L379.3 458.4L379.9 457.2L380.4 458.4M381.0 458.4L381.5 457.5L382.1 457.9L382.6 458.4M383.2 458.4L383.8 457.3L384.3 458.4M384.9 458.4L385.4 457.9L386.0 457.9L386.5 458.4L387.1 457.5L387.6 458.4L388.2 458.0L388.7 458.4M389.3 458.4L389.9 457.4L390.4 458.4M391.0 458.4M391.5 458.4M392.1 458.4M392.6 458.4M393.2 458.4M393.7 458.4M394.3 458.4M394.9 458.4L395.4 457.7L396.0 457.3L396.5 457.3L397.1 457.7L397.6 457.6L398.2 458.4M398.7 458.4M399.3 458.4M399.9 458.4L400.4 457.8L401.0 458.4L401.5 457.2L402.1 457.7L402.6 458.4L403.2 457.3L403.7 457.6L404.3 458.4M404.8 458.4M405.4 458.4M406.0 458.4M406.5 458.4L407.1 458.0L407.6 457.9L408.2 458.4M408.7 458.4L409.3 457.4L409.8 458.4L410.4 457.7L410.4 458.4Z" fill="#fad75c" stroke="#fad75c" stroke-width="0.25" opacity="0.75"/>
<line x1="410.4" y1="458.2" x2="423.5" y2="458.2" stroke="#fbee98" stroke-width="0.6" opacity="0.36"/>
<path d="M410.4 458.4L410.4 457.5L411.0 457.3L411.5 457.9L412.1 457.8L412.7 457.5L413.2 458.4L413.8 457.8L414.4 457.8L415.0 456.8L415.5 457.8L416.1 456.9L416.7 457.8L417.2 458.4L417.8 457.4L418.4 457.6L418.9 457.3L419.5 458.4L420.1 456.9L420.7 457.7L421.2 458.4M421.8 458.4L422.4 457.6L422.9 458.4L423.5 457.8L423.5 458.4Z" fill="#fbee98" stroke="#fbee98" stroke-width="0.25" opacity="1"/>
<path d="M432.2 458.4M432.2 458.4M432.8 458.4L433.3 458.1L433.9 458.4M434.4 458.4M435.0 458.4M435.5 458.4M436.1 458.4M436.6 458.4L437.2 458.2L437.7 458.4M438.3 458.4M438.8 458.4M439.4 458.4M439.9 458.4M440.5 458.4M441.0 458.4M441.6 458.4M442.1 458.4M442.7 458.4M443.2 458.4M443.8 458.4M444.3 458.4M444.9 458.4M445.4 458.4M446.0 458.4M446.5 458.4M447.1 458.4M447.6 458.4M448.2 458.4M448.7 458.4M449.3 458.4M449.8 458.4M450.4 458.4M450.9 458.4M451.5 458.4M452.0 458.4M452.6 458.4M453.1 458.4M453.7 458.4M454.2 458.4L454.8 458.1L455.3 458.4M455.9 458.4L456.4 458.2L457.0 458.4M457.5 458.4M458.1 458.4M458.6 458.4M459.2 458.4M459.7 458.4M460.3 458.4M460.8 458.4M461.4 458.4M461.9 458.4M462.5 458.4M463.0 458.4M463.6 458.4M464.1 458.4M464.7 458.4L465.2 458.2L465.8 458.4M466.3 458.4M466.9 458.4M467.4 458.4M468.0 458.4M468.5 458.4M469.1 458.4M469.7 458.4M470.2 458.4M470.8 458.4M471.3 458.4M471.9 458.4M472.4 458.4M473.0 458.4M473.5 458.4M474.1 458.4M474.6 458.4M475.2 458.4M475.7 458.4M476.3 458.4M476.8 458.4M477.4 458.4L477.9 458.3L478.5 458.4M479.0 458.4M479.6 458.4M480.1 458.4M480.7 458.4L481.2 458.1L481.8 458.4M482.3 458.4M482.9 458.4M483.4 458.4M484.0 458.4M484.5 458.4M485.1 458.4M485.6 458.4M486.2 458.4M486.7 458.4L487.3 458.1L487.8 458.4M488.4 458.4L488.9 458.3L489.5 458.4M490.0 458.4M490.6 458.4M491.1 458.4M491.7 458.4M492.2 458.4M492.8 458.4M493.3 458.4L493.9 458.2L494.4 458.4L495.0 458.3L495.5 458.4M496.1 458.4M496.6 458.4M497.2 458.4M497.7 458.4L498.3 458.2L498.8 458.4M499.4 458.4M499.9 458.4M500.5 458.4L501.0 458.1L501.6 458.4M502.1 458.4M502.7 458.4M503.2 458.4M503.8 458.4M504.3 458.4M504.9 458.4M505.5 458.4M506.0 458.4M506.6 458.4M507.1 458.4M507.7 458.4L508.2 458.3L508.8 458.4M509.3 458.4M509.9 458.4M510.4 458.4M511.0 458.4M511.5 458.4M512.1 458.4M512.6 458.4M513.2 458.4M513.7 458.4M514.3 458.4M514.8 458.4M515.4 458.4M515.9 458.4M516.5 458.4L517.0 458.2L517.6 458.4M518.1 458.4M518.7 458.4M519.2 458.4M519.8 458.4M520.3 458.4M520.9 458.4M521.4 458.4M522.0 458.4M522.5 458.4M523.1 458.4M523.6 458.4M524.2 458.4M524.7 458.4M525.3 458.4M525.8 458.4M526.4 458.4M526.9 458.4M527.5 458.4M528.0 458.4M528.6 458.4M529.1 458.4M529.7 458.4M530.2 458.4M530.8 458.4M531.3 458.4M531.9 458.4M532.4 458.4M533.0 458.4M533.5 458.4M534.1 458.4M534.6 458.4M535.2 458.4M535.7 458.4M536.3 458.4M536.8 458.4M537.4 458.4M537.9 458.4M538.5 458.4M539.0 458.4M539.6 458.4M540.1 458.4M540.7 458.4M541.2 458.4M541.8 458.4L541.8 458.4Z" fill="#f0853a" stroke="#f0853a" stroke-width="0.25" opacity="0.75"/>
<line x1="423.5" y1="465.3" x2="432.2" y2="465.3" stroke="#a2cc58" stroke-width="0.6" opacity="0.72"/>
<path d="M423.5 465.5L423.5 462.0L424.1 463.7L424.7 462.8L425.2 462.9L425.8 463.7L426.4 463.5L427.0 463.2L427.6 462.8L428.1 463.5L428.7 463.2L429.3 463.7L429.9 462.1L430.5 463.6L431.0 462.2L431.6 462.1L432.2 461.0L432.2 465.5Z" fill="#a2cc58" stroke="#a2cc58" stroke-width="0.25" opacity="1"/>
<path d="M432.2 465.5M432.2 465.5M432.8 465.5M433.3 465.5M433.9 465.5M434.4 465.5M435.0 465.5M435.5 465.5M436.1 465.5M436.6 465.5M437.2 465.5M437.7 465.5M438.3 465.5M438.8 465.5M439.4 465.5M439.9 465.5M440.5 465.5M441.0 465.5M441.6 465.5M442.1 465.5M442.7 465.5M443.2 465.5M443.8 465.5M444.3 465.5M444.9 465.5M445.4 465.5M446.0 465.5M446.5 465.5M447.1 465.5M447.6 465.5M448.2 465.5M448.7 465.5M449.3 465.5M449.8 465.5M450.4 465.5M450.9 465.5M451.5 465.5M452.0 465.5M452.6 465.5M453.1 465.5M453.7 465.5M454.2 465.5M454.8 465.5M455.3 465.5M455.9 465.5M456.4 465.5M457.0 465.5M457.5 465.5M458.1 465.5M458.6 465.5M459.2 465.5M459.7 465.5M460.3 465.5M460.8 465.5M461.4 465.5M461.9 465.5M462.5 465.5M463.0 465.5M463.6 465.5M464.1 465.5M464.7 465.5M465.2 465.5M465.8 465.5M466.3 465.5M466.9 465.5M467.4 465.5M468.0 465.5M468.5 465.5M469.1 465.5M469.7 465.5M470.2 465.5M470.8 465.5M471.3 465.5M471.9 465.5M472.4 465.5M473.0 465.5M473.5 465.5M474.1 465.5M474.6 465.5M475.2 465.5M475.7 465.5M476.3 465.5M476.8 465.5M477.4 465.5M477.9 465.5M478.5 465.5M479.0 465.5M479.6 465.5M480.1 465.5M480.7 465.5M481.2 465.5M481.8 465.5L482.3 465.0L482.9 465.5M483.4 465.5M484.0 465.5M484.5 465.5M485.1 465.5M485.6 465.5M486.2 465.5M486.7 465.5M487.3 465.5M487.8 465.5M488.4 465.5M488.9 465.5M489.5 465.5M490.0 465.5L490.6 465.0L491.1 465.5M491.7 465.5M492.2 465.5M492.8 465.5M493.3 465.5M493.9 465.5M494.4 465.5M495.0 465.5M495.5 465.5M496.1 465.5M496.6 465.5M497.2 465.5M497.7 465.5M498.3 465.5M498.8 465.5M499.4 465.5M499.9 465.5M500.5 465.5M501.0 465.5M501.6 465.5M502.1 465.5M502.7 465.5M503.2 465.5M503.8 465.5M504.3 465.5M504.9 465.5M505.5 465.5M506.0 465.5M506.6 465.5M507.1 465.5M507.7 465.5M508.2 465.5M508.8 465.5M509.3 465.5M509.9 465.5M510.4 465.5M511.0 465.5M511.5 465.5M512.1 465.5M512.6 465.5M513.2 465.5M513.7 465.5M514.3 465.5M514.8 465.5M515.4 465.5M515.9 465.5M516.5 465.5M517.0 465.5M517.6 465.5M518.1 465.5M518.7 465.5M519.2 465.5M519.8 465.5M520.3 465.5L520.9 465.4L521.4 465.5M522.0 465.5M522.5 465.5M523.1 465.5M523.6 465.5M524.2 465.5M524.7 465.5M525.3 465.5M525.8 465.5L526.4 465.3L526.9 465.5M527.5 465.5M528.0 465.5M528.6 465.5M529.1 465.5L529.7 465.1L530.2 465.5M530.8 465.5M531.3 465.5L531.9 465.3L532.4 465.5M533.0 465.5M533.5 465.5M534.1 465.5M534.6 465.5M535.2 465.5M535.7 465.5M536.3 465.5M536.8 465.5M537.4 465.5M537.9 465.5M538.5 465.5M539.0 465.5M539.6 465.5M540.1 465.5M540.7 465.5M541.2 465.5M541.8 465.5L541.8 465.5Z" fill="#f0853a" stroke="#f0853a" stroke-width="0.25" opacity="0.75"/>
<line x1="351.0" y1="472.5" x2="410.4" y2="472.5" stroke="#fad75c" stroke-width="0.6" opacity="0.06"/>
<line x1="423.5" y1="472.5" x2="432.2" y2="472.5" stroke="#a2cc58" stroke-width="0.6" opacity="0.72"/>
<path d="M423.5 472.7L423.5 470.9L424.1 469.2L424.7 470.7L425.2 470.9L425.8 468.0L426.4 468.9L427.0 470.7L427.6 468.8L428.1 469.7L428.7 471.0L429.3 470.4L429.9 470.5L430.5 470.9L431.0 471.0L431.6 469.3L432.2 470.6L432.2 472.7Z" fill="#a2cc58" stroke="#a2cc58" stroke-width="0.25" opacity="1"/>
<line x1="432.2" y1="472.5" x2="541.8" y2="472.5" stroke="#f0853a" stroke-width="0.6" opacity="0.04"/>
<path d="M432.2 472.7L432.2 472.3L432.8 472.7M433.3 472.7M433.9 472.7M434.4 472.7M435.0 472.7M435.5 472.7M436.1 472.7M436.6 472.7M437.2 472.7M437.7 472.7M438.3 472.7M438.8 472.7M439.4 472.7M439.9 472.7M440.5 472.7M441.0 472.7L441.6 472.0L442.1 472.7M442.7 472.7M443.2 472.7M443.8 472.7L444.3 472.3L444.9 472.7M445.4 472.7M446.0 472.7M446.5 472.7M447.1 472.7M447.6 472.7M448.2 472.7M448.7 472.7M449.3 472.7M449.8 472.7M450.4 472.7M450.9 472.7M451.5 472.7L452.0 472.2L452.6 472.7M453.1 472.7M453.7 472.7M454.2 472.7M454.8 472.7M455.3 472.7M455.9 472.7M456.4 472.7M457.0 472.7M457.5 472.7M458.1 472.7M458.6 472.7M459.2 472.7M459.7 472.7M460.3 472.7M460.8 472.7M461.4 472.7M461.9 472.7M462.5 472.7M463.0 472.7M463.6 472.7M464.1 472.7M464.7 472.7M465.2 472.7M465.8 472.7M466.3 472.7M466.9 472.7M467.4 472.7M468.0 472.7M468.5 472.7M469.1 472.7M469.7 472.7M470.2 472.7M470.8 472.7M471.3 472.7M471.9 472.7M472.4 472.7M473.0 472.7M473.5 472.7M474.1 472.7M474.6 472.7M475.2 472.7M475.7 472.7M476.3 472.7M476.8 472.7M477.4 472.7M477.9 472.7M478.5 472.7M479.0 472.7M479.6 472.7M480.1 472.7L480.7 472.3L481.2 472.7M481.8 472.7M482.3 472.7M482.9 472.7M483.4 472.7M484.0 472.7M484.5 472.7M485.1 472.7M485.6 472.7M486.2 472.7M486.7 472.7M487.3 472.7M487.8 472.7M488.4 472.7M488.9 472.7M489.5 472.7M490.0 472.7M490.6 472.7M491.1 472.7M491.7 472.7M492.2 472.7M492.8 472.7M493.3 472.7M493.9 472.7M494.4 472.7M495.0 472.7M495.5 472.7M496.1 472.7M496.6 472.7M497.2 472.7M497.7 472.7M498.3 472.7M498.8 472.7M499.4 472.7M499.9 472.7M500.5 472.7M501.0 472.7M501.6 472.7M502.1 472.7M502.7 472.7M503.2 472.7M503.8 472.7M504.3 472.7M504.9 472.7M505.5 472.7M506.0 472.7M506.6 472.7M507.1 472.7M507.7 472.7M508.2 472.7L508.8 472.4L509.3 472.7M509.9 472.7M510.4 472.7M511.0 472.7M511.5 472.7M512.1 472.7M512.6 472.7M513.2 472.7M513.7 472.7M514.3 472.7M514.8 472.7M515.4 472.7M515.9 472.7M516.5 472.7M517.0 472.7L517.6 472.0L518.1 472.7M518.7 472.7M519.2 472.7M519.8 472.7M520.3 472.7M520.9 472.7M521.4 472.7M522.0 472.7M522.5 472.7M523.1 472.7M523.6 472.7M524.2 472.7M524.7 472.7M525.3 472.7M525.8 472.7M526.4 472.7M526.9 472.7M527.5 472.7M528.0 472.7M528.6 472.7M529.1 472.7M529.7 472.7M530.2 472.7M530.8 472.7M531.3 472.7M531.9 472.7M532.4 472.7M533.0 472.7M533.5 472.7L534.1 472.2L534.6 472.7M535.2 472.7M535.7 472.7M536.3 472.7M536.8 472.7M537.4 472.7M537.9 472.7M538.5 472.7M539.0 472.7M539.6 472.7M540.1 472.7M540.7 472.7M541.2 472.7M541.8 472.7L541.8 472.7Z" fill="#f0853a" stroke="#f0853a" stroke-width="0.25" opacity="0.75"/>
<path d="M541.8 472.7M541.8 472.7M542.4 472.7M542.9 472.7M543.5 472.7M544.0 472.7M544.6 472.7M545.1 472.7M545.7 472.7M546.2 472.7M546.8 472.7M547.3 472.7M547.9 472.7M548.4 472.7M549.0 472.7M549.5 472.7M550.1 472.7M550.6 472.7M551.2 472.7M551.7 472.7M552.3 472.7M552.8 472.7M553.4 472.7M553.9 472.7M554.5 472.7M555.0 472.7M555.6 472.7M556.1 472.7M556.7 472.7M557.2 472.7M557.8 472.7M558.3 472.7M558.9 472.7M559.4 472.7M560.0 472.7M560.5 472.7M561.1 472.7M561.6 472.7M562.2 472.7M562.7 472.7M563.3 472.7M563.8 472.7M564.4 472.7M564.9 472.7L565.5 472.4L566.0 472.7M566.6 472.7M567.1 472.7M567.7 472.7M568.3 472.7M568.8 472.7M569.4 472.7M569.9 472.7M570.5 472.7M571.0 472.7M571.6 472.7M572.1 472.7M572.7 472.7M573.2 472.7M573.8 472.7M574.3 472.7M574.9 472.7M575.4 472.7L576.0 472.6L576.5 472.7M577.1 472.7M577.6 472.7M578.2 472.7M578.7 472.7M579.3 472.7M579.8 472.7M580.4 472.7M580.9 472.7M581.5 472.7M582.0 472.7M582.6 472.7M583.1 472.7M583.7 472.7M584.2 472.7M584.8 472.7M585.3 472.7M585.9 472.7M586.4 472.7M587.0 472.7M587.5 472.7M588.1 472.7M588.6 472.7M589.2 472.7M589.7 472.7M590.3 472.7M590.8 472.7M591.4 472.7M591.9 472.7M592.5 472.7L592.5 472.7Z" fill="#98c4de" stroke="#98c4de" stroke-width="0.25" opacity="0.75"/>
<line x1="351.0" y1="479.6" x2="410.4" y2="479.6" stroke="#fad75c" stroke-width="0.6" opacity="0.32"/>
<path d="M351.0 479.8M351.0 479.8M351.6 479.8M352.1 479.8M352.7 479.8M353.2 479.8M353.8 479.8L354.3 479.5L354.9 479.5L355.4 479.8M356.0 479.8M356.6 479.8M357.1 479.8L357.7 479.5L358.2 479.8M358.8 479.8M359.3 479.8M359.9 479.8M360.4 479.8M361.0 479.8M361.5 479.8L362.1 479.6L362.7 479.8M363.2 479.8M363.8 479.8M364.3 479.8M364.9 479.8L365.4 479.7L366.0 479.8L366.5 479.6L367.1 479.8M367.7 479.8L368.2 479.7L368.8 479.6L369.3 479.8M369.9 479.8L370.4 479.7L371.0 479.5L371.5 479.8M372.1 479.8M372.7 479.8M373.2 479.8M373.8 479.8L374.3 479.5L374.9 479.6L375.4 479.8M376.0 479.8M376.5 479.8M377.1 479.8M377.6 479.8M378.2 479.8M378.8 479.8M379.3 479.8M379.9 479.8M380.4 479.8M381.0 479.8M381.5 479.8M382.1 479.8M382.6 479.8M383.2 479.8L383.8 479.7L384.3 479.8M384.9 479.8M385.4 479.8L386.0 479.5L386.5 479.8M387.1 479.8M387.6 479.8M388.2 479.8M388.7 479.8L389.3 479.6L389.9 479.6L390.4 479.8M391.0 479.8M391.5 479.8M392.1 479.8L392.6 479.7L393.2 479.8M393.7 479.8M394.3 479.8M394.9 479.8L395.4 479.6L396.0 479.8M396.5 479.8M397.1 479.8M397.6 479.8M398.2 479.8M398.7 479.8M399.3 479.8M399.9 479.8M400.4 479.8M401.0 479.8M401.5 479.8M402.1 479.8M402.6 479.8M403.2 479.8L403.7 479.5L404.3 479.8M404.8 479.8M405.4 479.8M406.0 479.8M406.5 479.8M407.1 479.8M407.6 479.8M408.2 479.8M408.7 479.8L409.3 479.6L409.8 479.8L410.4 479.6L410.4 479.8Z" fill="#fad75c" stroke="#fad75c" stroke-width="0.25" opacity="0.75"/>
<line x1="423.5" y1="479.6" x2="432.2" y2="479.6" stroke="#a2cc58" stroke-width="0.6" opacity="0.72"/>
<path d="M423.5 479.8L423.5 477.2L424.1 478.2L424.7 478.2L425.2 476.0L425.8 478.0L426.4 477.2L427.0 478.2L427.6 476.9L428.1 477.7L428.7 477.6L429.3 477.6L429.9 477.8L430.5 478.2L431.0 476.6L431.6 478.2L432.2 477.1L432.2 479.8Z" fill="#a2cc58" stroke="#a2cc58" stroke-width="0.25" opacity="1"/>
<line x1="432.2" y1="479.6" x2="541.8" y2="479.6" stroke="#f0853a" stroke-width="0.6" opacity="0.22"/>
<path d="M432.2 479.8M432.2 479.8M432.8 479.8M433.3 479.8L433.9 479.5L434.4 479.8L435.0 479.7L435.5 479.8M436.1 479.8M436.6 479.8L437.2 479.5L437.7 479.7L438.3 479.6L438.8 479.8M439.4 479.8L439.9 479.5L440.5 479.8L441.0 479.6L441.6 479.8M442.1 479.8M442.7 479.8M443.2 479.8M443.8 479.8M444.3 479.8M444.9 479.8M445.4 479.8M446.0 479.8M446.5 479.8L447.1 479.4L447.6 479.8M448.2 479.8M448.7 479.8M449.3 479.8L449.8 479.7L450.4 479.8M450.9 479.8M451.5 479.8M452.0 479.8M452.6 479.8L453.1 479.7L453.7 479.8M454.2 479.8M454.8 479.8L455.3 479.6L455.9 479.7L456.4 479.5L457.0 479.8M457.5 479.8M458.1 479.8M458.6 479.8M459.2 479.8M459.7 479.8M460.3 479.8M460.8 479.8M461.4 479.8M461.9 479.8M462.5 479.8L463.0 479.7L463.6 479.8M464.1 479.8M464.7 479.8M465.2 479.8M465.8 479.8L466.3 479.6L466.9 479.6L467.4 479.6L468.0 479.8M468.5 479.8M469.1 479.8M469.7 479.8M470.2 479.8M470.8 479.8L471.3 479.4L471.9 479.8M472.4 479.8M473.0 479.8L473.5 479.5L474.1 479.5L474.6 479.8M475.2 479.8M475.7 479.8M476.3 479.8M476.8 479.8L477.4 479.5L477.9 479.8L478.5 479.5L479.0 479.8L479.6 479.4L480.1 479.8M480.7 479.8M481.2 479.8L481.8 479.5L482.3 479.8M482.9 479.8M483.4 479.8L484.0 479.5L484.5 479.8M485.1 479.8M485.6 479.8M486.2 479.8M486.7 479.8M487.3 479.8L487.8 479.4L488.4 479.8M488.9 479.8L489.5 479.5L490.0 479.8M490.6 479.8M491.1 479.8L491.7 479.5L492.2 479.7L492.8 479.8M493.3 479.8L493.9 479.6L494.4 479.8M495.0 479.8M495.5 479.8M496.1 479.8M496.6 479.8L497.2 479.4L497.7 479.8L498.3 479.4L498.8 479.8M499.4 479.8M499.9 479.8M500.5 479.8M501.0 479.8M501.6 479.8M502.1 479.8M502.7 479.8M503.2 479.8M503.8 479.8M504.3 479.8M504.9 479.8L505.5 479.5L506.0 479.4L506.6 479.6L507.1 479.8L507.7 479.6L508.2 479.8M508.8 479.8M509.3 479.8M509.9 479.8M510.4 479.8M511.0 479.8L511.5 479.5L512.1 479.8L512.6 479.6L513.2 479.8L513.7 479.6L514.3 479.8M514.8 479.8M515.4 479.8M515.9 479.8L516.5 479.6L517.0 479.8M517.6 479.8M518.1 479.8M518.7 479.8M519.2 479.8M519.8 479.8M520.3 479.8M520.9 479.8L521.4 479.4L522.0 479.8L522.5 479.6L523.1 479.8M523.6 479.8M524.2 479.8M524.7 479.8M525.3 479.8L525.8 479.4L526.4 479.8L526.9 479.4L527.5 479.8M528.0 479.8L528.6 479.6L529.1 479.8M529.7 479.8L530.2 479.5L530.8 479.5L531.3 479.8M531.9 479.8M532.4 479.8L533.0 479.6L533.5 479.8M534.1 479.8M534.6 479.8M535.2 479.8M535.7 479.8M536.3 479.8M536.8 479.8M537.4 479.8M537.9 479.8M538.5 479.8L539.0 479.6L539.6 479.8M540.1 479.8L540.7 479.5L541.2 479.8M541.8 479.8L541.8 479.8Z" fill="#f0853a" stroke="#f0853a" stroke-width="0.25" opacity="0.75"/>
<line x1="541.8" y1="479.6" x2="592.5" y2="479.6" stroke="#98c4de" stroke-width="0.6" opacity="0.07"/>
<line x1="351.0" y1="486.8" x2="410.4" y2="486.8" stroke="#fad75c" stroke-width="0.6" opacity="0.58"/>
<path d="M351.0 487.0L351.0 486.5L351.6 487.0M352.1 487.0M352.7 487.0M353.2 487.0L353.8 486.3L354.3 486.7L354.9 487.0L355.4 486.3L356.0 486.7L356.6 487.0L357.1 486.3L357.7 487.0M358.2 487.0L358.8 486.3L359.3 487.0L359.9 486.7L360.4 486.5L361.0 486.7L361.5 487.0L362.1 486.3L362.7 487.0L363.2 486.7L363.8 487.0L364.3 486.5L364.9 487.0M365.4 487.0L366.0 486.7L366.5 486.4L367.1 486.7L367.7 486.3L368.2 487.0L368.8 486.7L369.3 486.7L369.9 487.0M370.4 487.0L371.0 486.3L371.5 487.0M372.1 487.0M372.7 487.0L373.2 486.7L373.8 486.7L374.3 486.7L374.9 486.5L375.4 486.7L376.0 486.6L376.5 487.0L377.1 486.7L377.6 487.0L378.2 486.6L378.8 486.6L379.3 486.8L379.9 487.0M380.4 487.0L381.0 486.5L381.5 486.7L382.1 487.0M382.6 487.0M383.2 487.0L383.8 486.5L384.3 487.0L384.9 486.5L385.4 487.0M386.0 487.0L386.5 486.6L387.1 486.6L387.6 487.0L388.2 486.7L388.7 486.5L389.3 487.0L389.9 486.3L390.4 486.8L391.0 487.0L391.5 486.5L392.1 486.6L392.6 486.7L393.2 487.0M393.7 487.0M394.3 487.0L394.9 486.7L395.4 487.0L396.0 486.6L396.5 486.7L397.1 487.0M397.6 487.0L398.2 486.4L398.7 486.3L399.3 487.0L399.9 486.4L400.4 487.0L401.0 486.3L401.5 486.5L402.1 486.7L402.6 486.3L403.2 487.0L403.7 486.3L404.3 487.0L404.8 486.6L405.4 487.0L406.0 486.5L406.5 487.0M407.1 487.0L407.6 486.7L408.2 486.5L408.7 486.4L409.3 487.0L409.8 486.5L410.4 486.8L410.4 487.0Z" fill="#fad75c" stroke="#fad75c" stroke-width="0.25" opacity="0.75"/>
<line x1="410.4" y1="486.8" x2="423.5" y2="486.8" stroke="#fbee98" stroke-width="0.6" opacity="0.36"/>
<line x1="423.5" y1="486.8" x2="432.2" y2="486.8" stroke="#a2cc58" stroke-width="0.6" opacity="0.72"/>
<path d="M423.5 487.0L423.5 485.2L424.1 483.3L424.7 484.2L425.2 484.9L425.8 484.0L426.4 485.3L427.0 482.2L427.6 483.8L428.1 484.5L428.7 484.3L429.3 484.0L429.9 484.7L430.5 483.2L431.0 485.3L431.6 483.0L432.2 485.3L432.2 487.0Z" fill="#a2cc58" stroke="#a2cc58" stroke-width="0.25" opacity="1"/>
<line x1="432.2" y1="486.8" x2="541.8" y2="486.8" stroke="#f0853a" stroke-width="0.6" opacity="0.54"/>
<path d="M432.2 487.0L432.2 486.6L432.8 487.0L433.3 486.7L433.9 487.0M434.4 487.0M435.0 487.0M435.5 487.0L436.1 486.7L436.6 487.0M437.2 487.0M437.7 487.0M438.3 487.0M438.8 487.0L439.4 486.5L439.9 487.0L440.5 486.5L441.0 487.0L441.6 486.6L442.1 486.6L442.7 486.3L443.2 486.7L443.8 486.7L444.3 487.0M444.9 487.0M445.4 487.0M446.0 487.0M446.5 487.0M447.1 487.0M447.6 487.0L448.2 486.6L448.7 486.4L449.3 487.0L449.8 486.7L450.4 486.4L450.9 487.0M451.5 487.0M452.0 487.0L452.6 486.5L453.1 486.4L453.7 486.4L454.2 486.7L454.8 486.7L455.3 486.5L455.9 487.0L456.4 486.4L457.0 487.0L457.5 486.7L458.1 487.0M458.6 487.0L459.2 486.7L459.7 486.7L460.3 487.0M460.8 487.0M461.4 487.0M461.9 487.0L462.5 486.3L463.0 486.7L463.6 486.4L464.1 487.0M464.7 487.0L465.2 486.7L465.8 487.0M466.3 487.0L466.9 486.5L467.4 486.5L468.0 486.7L468.5 486.7L469.1 487.0M469.7 487.0M470.2 487.0L470.8 486.7L471.3 487.0M471.9 487.0L472.4 486.5L473.0 486.3L473.5 486.7L474.1 486.7L474.6 486.7L475.2 487.0L475.7 486.7L476.3 486.4L476.8 487.0M477.4 487.0L477.9 486.7L478.5 486.7L479.0 487.0L479.6 486.3L480.1 486.5L480.7 486.4L481.2 486.7L481.8 487.0L482.3 486.5L482.9 486.3L483.4 486.7L484.0 486.5L484.5 486.7L485.1 486.5L485.6 486.3L486.2 487.0L486.7 486.3L487.3 486.5L487.8 487.0L488.4 486.4L488.9 487.0L489.5 486.5L490.0 487.0L490.6 486.4L491.1 487.0L491.7 486.6L492.2 487.0L492.8 486.6L493.3 486.4L493.9 486.7L494.4 486.5L495.0 486.7L495.5 486.7L496.1 487.0M496.6 487.0L497.2 486.5L497.7 486.5L498.3 486.7L498.8 487.0M499.4 487.0M499.9 487.0L500.5 486.5L501.0 486.7L501.6 486.4L502.1 487.0M502.7 487.0L503.2 486.6L503.8 487.0L504.3 486.7L504.9 486.6L505.5 486.5L506.0 487.0L506.6 486.5L507.1 486.7L507.7 487.0L508.2 486.7L508.8 487.0M509.3 487.0M509.9 487.0M510.4 487.0L511.0 486.4L511.5 487.0L512.1 486.6L512.6 487.0M513.2 487.0L513.7 486.3L514.3 486.8L514.8 486.4L515.4 486.4L515.9 486.3L516.5 486.7L517.0 486.6L517.6 486.5L518.1 486.5L518.7 487.0M519.2 487.0L519.8 486.7L520.3 486.8L520.9 486.6L521.4 487.0M522.0 487.0M522.5 487.0L523.1 486.5L523.6 487.0M524.2 487.0L524.7 486.6L525.3 487.0M525.8 487.0L526.4 486.5L526.9 486.6L527.5 487.0L528.0 486.5L528.6 486.6L529.1 486.4L529.7 487.0M530.2 487.0M530.8 487.0L531.3 486.8L531.9 487.0L532.4 486.7L533.0 487.0L533.5 486.4L534.1 486.7L534.6 486.4L535.2 486.7L535.7 487.0M536.3 487.0L536.8 486.4L537.4 486.6L537.9 486.6L538.5 487.0L539.0 486.4L539.6 486.8L540.1 487.0M540.7 487.0M541.2 487.0L541.8 486.3L541.8 487.0Z" fill="#f0853a" stroke="#f0853a" stroke-width="0.25" opacity="0.75"/>
<line x1="541.8" y1="486.8" x2="592.5" y2="486.8" stroke="#98c4de" stroke-width="0.6" opacity="0.22"/>
<line x1="592.5" y1="486.8" x2="629.2" y2="486.8" stroke="#dcc4ca" stroke-width="0.6" opacity="0.11"/>
<line x1="673.1" y1="486.8" x2="680.0" y2="486.8" stroke="#4fb08e" stroke-width="0.6" opacity="0.58"/>
<path d="M673.1 487.0M673.1 487.0L673.7 486.1L674.2 486.4L674.8 487.0L675.4 486.4L676.0 487.0L676.5 486.5L677.1 486.6L677.7 487.0L678.3 486.5L678.9 486.2L679.4 486.6L680.0 486.2L680.0 487.0Z" fill="#4fb08e" stroke="#4fb08e" stroke-width="0.25" opacity="0.75"/>
<line x1="351.0" y1="493.9" x2="410.4" y2="493.9" stroke="#fad75c" stroke-width="0.6" opacity="0.32"/>
<line x1="410.4" y1="493.9" x2="423.5" y2="493.9" stroke="#fbee98" stroke-width="0.6" opacity="0.22"/>
<line x1="423.5" y1="493.9" x2="432.2" y2="493.9" stroke="#a2cc58" stroke-width="0.6" opacity="0.22"/>
<line x1="432.2" y1="493.9" x2="541.8" y2="493.9" stroke="#f0853a" stroke-width="0.6" opacity="0.72"/>
<path d="M432.2 494.1M432.2 494.1L432.8 492.6L433.3 493.1L433.9 493.0L434.4 494.1L435.0 492.6L435.5 492.4L436.1 493.1L436.6 493.0L437.2 494.1M437.7 494.1L438.3 491.8L438.8 494.1L439.4 493.1L439.9 494.1L440.5 492.6L441.0 494.1M441.6 494.1L442.1 492.9L442.7 494.1L443.2 491.5L443.8 494.1L444.3 493.1L444.9 494.1M445.4 494.1L446.0 491.9L446.5 494.1M447.1 494.1L447.6 491.7L448.2 493.1L448.7 494.1L449.3 492.6L449.8 492.2L450.4 492.9L450.9 493.1L451.5 494.1L452.0 493.0L452.6 492.8L453.1 491.5L453.7 492.9L454.2 494.1M454.8 494.1M455.3 494.1M455.9 494.1L456.4 492.3L457.0 494.1L457.5 491.4L458.1 491.9L458.6 494.1M459.2 494.1M459.7 494.1M460.3 494.1L460.8 492.7L461.4 491.4L461.9 492.0L462.5 491.8L463.0 494.1L463.6 491.6L464.1 491.3L464.7 493.1L465.2 494.1L465.8 493.1L466.3 494.1M466.9 494.1M467.4 494.1M468.0 494.1M468.5 494.1L469.1 493.1L469.7 494.1M470.2 494.1M470.8 494.1L471.3 492.9L471.9 494.1M472.4 494.1M473.0 494.1M473.5 494.1M474.1 494.1M474.6 494.1L475.2 493.0L475.7 492.0L476.3 494.1L476.8 493.1L477.4 492.5L477.9 494.1M478.5 494.1L479.0 492.9L479.6 494.1L480.1 493.1L480.7 492.7L481.2 494.1M481.8 494.1M482.3 494.1M482.9 494.1M483.4 494.1M484.0 494.1L484.5 492.8L485.1 494.1L485.6 492.3L486.2 494.1M486.7 494.1L487.3 492.9L487.8 491.7L488.4 494.1M488.9 494.1L489.5 491.5L490.0 494.1M490.6 494.1M491.1 494.1M491.7 494.1M492.2 494.1L492.8 492.3L493.3 492.9L493.9 493.0L494.4 492.9L495.0 494.1L495.5 492.3L496.1 491.6L496.6 492.4L497.2 492.3L497.7 491.8L498.3 494.1L498.8 492.8L499.4 491.8L499.9 491.3L500.5 492.4L501.0 492.9L501.6 493.0L502.1 492.5L502.7 494.1L503.2 492.4L503.8 493.1L504.3 493.0L504.9 494.1M505.5 494.1M506.0 494.1M506.6 494.1M507.1 494.1L507.7 493.1L508.2 493.0L508.8 491.6L509.3 494.1M509.9 494.1M510.4 494.1L511.0 492.2L511.5 493.0L512.1 493.0L512.6 492.9L513.2 494.1L513.7 492.6L514.3 492.7L514.8 494.1M515.4 494.1L515.9 493.0L516.5 493.1L517.0 493.1L517.6 491.8L518.1 494.1M518.7 494.1M519.2 494.1L519.8 491.7L520.3 492.1L520.9 493.0L521.4 494.1L522.0 491.3L522.5 494.1L523.1 491.8L523.6 494.1M524.2 494.1L524.7 493.1L525.3 493.1L525.8 492.3L526.4 491.3L526.9 494.1L527.5 493.0L528.0 494.1L528.6 492.8L529.1 494.1M529.7 494.1L530.2 493.1L530.8 494.1L531.3 493.1L531.9 493.0L532.4 494.1L533.0 492.6L533.5 494.1L534.1 492.6L534.6 493.1L535.2 494.1M535.7 494.1M536.3 494.1L536.8 492.4L537.4 494.1L537.9 492.6L538.5 494.1M539.0 494.1L539.6 493.1L540.1 494.1M540.7 494.1L541.2 491.4L541.8 493.1L541.8 494.1Z" fill="#f0853a" stroke="#f0853a" stroke-width="0.25" opacity="1"/>
<line x1="541.8" y1="493.9" x2="592.5" y2="493.9" stroke="#98c4de" stroke-width="0.6" opacity="0.25"/>
<path d="M541.8 494.1M541.8 494.1M542.4 494.1M542.9 494.1M543.5 494.1M544.0 494.1M544.6 494.1M545.1 494.1M545.7 494.1M546.2 494.1L546.8 493.9L547.3 494.1L547.9 494.0L548.4 494.1M549.0 494.1M549.5 494.1M550.1 494.1M550.6 494.1M551.2 494.1L551.7 493.8L552.3 494.1M552.8 494.1M553.4 494.1M553.9 494.1M554.5 494.1M555.0 494.1M555.6 494.1M556.1 494.1M556.7 494.1M557.2 494.1M557.8 494.1M558.3 494.1M558.9 494.1M559.4 494.1M560.0 494.1M560.5 494.1M561.1 494.1M561.6 494.1M562.2 494.1M562.7 494.1M563.3 494.1M563.8 494.1M564.4 494.1M564.9 494.1M565.5 494.1L566.0 494.0L566.6 494.1M567.1 494.1M567.7 494.1M568.3 494.1M568.8 494.1M569.4 494.1M569.9 494.1M570.5 494.1M571.0 494.1M571.6 494.1M572.1 494.1M572.7 494.1M573.2 494.1M573.8 494.1M574.3 494.1M574.9 494.1M575.4 494.1L576.0 494.0L576.5 494.0L577.1 494.1L577.6 493.9L578.2 494.1M578.7 494.1M579.3 494.1L579.8 493.9L580.4 494.1M580.9 494.1M581.5 494.1M582.0 494.1M582.6 494.1L583.1 493.8L583.7 494.1M584.2 494.1M584.8 494.1M585.3 494.1M585.9 494.1M586.4 494.1M587.0 494.1M587.5 494.1M588.1 494.1M588.6 494.1M589.2 494.1M589.7 494.1M590.3 494.1M590.8 494.1M591.4 494.1L591.9 494.0L592.5 494.1L592.5 494.1Z" fill="#98c4de" stroke="#98c4de" stroke-width="0.25" opacity="0.75"/>
<line x1="592.5" y1="493.9" x2="629.2" y2="493.9" stroke="#dcc4ca" stroke-width="0.6" opacity="0.07"/>
<line x1="351.0" y1="501.1" x2="410.4" y2="501.1" stroke="#fad75c" stroke-width="0.6" opacity="0.43"/>
<path d="M351.0 501.3M351.0 501.3M351.6 501.3M352.1 501.3M352.7 501.3M353.2 501.3M353.8 501.3M354.3 501.3M354.9 501.3M355.4 501.3M356.0 501.3M356.6 501.3M357.1 501.3M357.7 501.3L358.2 501.2L358.8 501.2L359.3 501.3M359.9 501.3L360.4 501.0L361.0 501.3M361.5 501.3M362.1 501.3M362.7 501.3L363.2 501.1L363.8 501.3M364.3 501.3L364.9 501.1L365.4 501.0L366.0 501.3M366.5 501.3M367.1 501.3M367.7 501.3L368.2 501.0L368.8 501.3L369.3 501.2L369.9 501.3M370.4 501.3M371.0 501.3M371.5 501.3M372.1 501.3M372.7 501.3M373.2 501.3L373.8 501.1L374.3 501.3M374.9 501.3M375.4 501.3M376.0 501.3M376.5 501.3M377.1 501.3M377.6 501.3M378.2 501.3M378.8 501.3M379.3 501.3L379.9 500.9L380.4 501.3M381.0 501.3M381.5 501.3M382.1 501.3M382.6 501.3M383.2 501.3L383.8 501.1L384.3 501.1L384.9 501.1L385.4 501.3M386.0 501.3M386.5 501.3M387.1 501.3M387.6 501.3L388.2 501.1L388.7 501.3M389.3 501.3M389.9 501.3M390.4 501.3M391.0 501.3M391.5 501.3M392.1 501.3M392.6 501.3M393.2 501.3L393.7 501.0L394.3 501.3L394.9 501.1L395.4 501.3L396.0 501.1L396.5 501.3M397.1 501.3L397.6 501.1L398.2 500.9L398.7 501.3L399.3 501.0L399.9 501.3L400.4 501.1L401.0 501.3M401.5 501.3L402.1 501.1L402.6 501.1L403.2 501.3L403.7 500.9L404.3 501.1L404.8 501.3M405.4 501.3M406.0 501.3M406.5 501.3M407.1 501.3M407.6 501.3M408.2 501.3M408.7 501.3L409.3 501.1L409.8 501.3M410.4 501.3L410.4 501.3Z" fill="#fad75c" stroke="#fad75c" stroke-width="0.25" opacity="0.75"/>
<line x1="410.4" y1="501.1" x2="423.5" y2="501.1" stroke="#fbee98" stroke-width="0.6" opacity="0.36"/>
<line x1="423.5" y1="501.1" x2="432.2" y2="501.1" stroke="#a2cc58" stroke-width="0.6" opacity="0.29"/>
<line x1="432.2" y1="501.1" x2="541.8" y2="501.1" stroke="#f0853a" stroke-width="0.6" opacity="0.72"/>
<path d="M432.2 501.3L432.2 497.6L432.8 499.6L433.3 497.3L433.9 499.5L434.4 499.1L435.0 498.1L435.5 498.5L436.1 499.6L436.6 499.1L437.2 497.9L437.7 497.7L438.3 499.0L438.8 499.3L439.4 499.3L439.9 499.5L440.5 499.2L441.0 497.7L441.6 499.2L442.1 497.5L442.7 499.3L443.2 499.5L443.8 497.7L444.3 499.6L444.9 496.6L445.4 499.6L446.0 498.4L446.5 497.1L447.1 498.5L447.6 498.4L448.2 499.4L448.7 498.3L449.3 499.4L449.8 497.1L450.4 499.4L450.9 497.0L451.5 499.1L452.0 498.9L452.6 498.5L453.1 497.2L453.7 499.2L454.2 499.4L454.8 499.4L455.3 498.1L455.9 496.5L456.4 499.6L457.0 498.9L457.5 499.5L458.1 497.8L458.6 499.5L459.2 498.1L459.7 499.6L460.3 499.3L460.8 499.3L461.4 498.5L461.9 499.4L462.5 499.1L463.0 497.7L463.6 498.8L464.1 498.6L464.7 498.7L465.2 499.4L465.8 498.2L466.3 498.2L466.9 499.5L467.4 498.7L468.0 499.3L468.5 498.2L469.1 499.6L469.7 497.2L470.2 499.1L470.8 498.9L471.3 498.9L471.9 499.5L472.4 499.2L473.0 497.0L473.5 496.7L474.1 499.5L474.6 498.2L475.2 498.2L475.7 499.6L476.3 499.1L476.8 496.9L477.4 496.8L477.9 499.2L478.5 498.8L479.0 499.5L479.6 496.5L480.1 499.0L480.7 499.6L481.2 499.6L481.8 497.2L482.3 497.6L482.9 499.6L483.4 497.3L484.0 498.8L484.5 497.2L485.1 499.1L485.6 498.6L486.2 499.0L486.7 499.1L487.3 497.4L487.8 497.8L488.4 499.2L488.9 499.2L489.5 496.8L490.0 498.1L490.6 497.4L491.1 498.8L491.7 498.2L492.2 499.6L492.8 499.5L493.3 498.7L493.9 498.8L494.4 499.1L495.0 499.6L495.5 499.5L496.1 497.8L496.6 498.2L497.2 499.1L497.7 498.6L498.3 499.6L498.8 499.6L499.4 499.2L499.9 499.4L500.5 499.6L501.0 499.5L501.6 499.5L502.1 499.4L502.7 499.5L503.2 499.4L503.8 499.6L504.3 499.4L504.9 499.4L505.5 497.6L506.0 499.5L506.6 498.7L507.1 498.0L507.7 499.6L508.2 499.1L508.8 499.0L509.3 499.5L509.9 499.4L510.4 498.4L511.0 498.8L511.5 499.4L512.1 499.6L512.6 499.5L513.2 499.3L513.7 497.8L514.3 499.2L514.8 499.1L515.4 499.1L515.9 499.4L516.5 499.6L517.0 499.0L517.6 497.5L518.1 499.3L518.7 498.7L519.2 499.6L519.8 498.8L520.3 499.2L520.9 499.6L521.4 499.4L522.0 498.6L522.5 499.4L523.1 499.3L523.6 498.0L524.2 499.5L524.7 499.3L525.3 498.7L525.8 498.3L526.4 499.6L526.9 497.1L527.5 499.2L528.0 498.2L528.6 498.9L529.1 498.5L529.7 499.6L530.2 498.4L530.8 499.3L531.3 497.6L531.9 499.5L532.4 498.3L533.0 499.1L533.5 499.1L534.1 499.6L534.6 497.0L535.2 499.6L535.7 499.4L536.3 499.5L536.8 499.3L537.4 497.1L537.9 499.5L538.5 497.6L539.0 497.3L539.6 499.0L540.1 498.4L540.7 498.3L541.2 499.6L541.8 499.6L541.8 501.3Z" fill="#f0853a" stroke="#f0853a" stroke-width="0.25" opacity="1"/>
<line x1="541.8" y1="501.1" x2="592.5" y2="501.1" stroke="#98c4de" stroke-width="0.6" opacity="0.22"/>
<line x1="592.5" y1="501.1" x2="629.2" y2="501.1" stroke="#dcc4ca" stroke-width="0.6" opacity="0.14"/>
<line x1="629.2" y1="501.1" x2="645.4" y2="501.1" stroke="#b9aad0" stroke-width="0.6" opacity="0.14"/>
<line x1="351.0" y1="508.2" x2="410.4" y2="508.2" stroke="#fad75c" stroke-width="0.6" opacity="0.36"/>
<line x1="410.4" y1="508.2" x2="423.5" y2="508.2" stroke="#fbee98" stroke-width="0.6" opacity="0.22"/>
<line x1="423.5" y1="508.2" x2="432.2" y2="508.2" stroke="#a2cc58" stroke-width="0.6" opacity="0.22"/>
<line x1="432.2" y1="508.2" x2="541.8" y2="508.2" stroke="#f0853a" stroke-width="0.6" opacity="0.72"/>
<path d="M432.2 508.4L432.2 506.8L432.8 506.9L433.3 508.4L433.9 506.5L434.4 508.4L435.0 506.9L435.5 506.8L436.1 505.6L436.6 505.5L437.2 505.6L437.7 505.3L438.3 506.5L438.8 507.1L439.4 508.4M439.9 508.4L440.5 507.2L441.0 507.0L441.6 507.3L442.1 506.8L442.7 506.3L443.2 508.4L443.8 507.3L444.3 507.3L444.9 506.7L445.4 507.0L446.0 508.4L446.5 506.7L447.1 507.2L447.6 507.2L448.2 507.3L448.7 506.1L449.3 508.4M449.8 508.4L450.4 506.2L450.9 506.8L451.5 507.3L452.0 507.2L452.6 508.4L453.1 507.3L453.7 508.4L454.2 507.2L454.8 507.3L455.3 506.8L455.9 507.1L456.4 506.3L457.0 506.7L457.5 507.3L458.1 506.1L458.6 508.4L459.2 507.2L459.7 508.4M460.3 508.4L460.8 507.2L461.4 507.3L461.9 507.3L462.5 508.4L463.0 506.8L463.6 507.2L464.1 506.4L464.7 507.2L465.2 508.4L465.8 507.2L466.3 505.5L466.9 508.4L467.4 505.8L468.0 508.4L468.5 507.2L469.1 507.1L469.7 506.7L470.2 507.3L470.8 506.0L471.3 508.4L471.9 507.3L472.4 505.7L473.0 508.4L473.5 506.5L474.1 505.4L474.6 507.2L475.2 505.5L475.7 507.1L476.3 507.0L476.8 508.4L477.4 507.3L477.9 507.3L478.5 506.7L479.0 506.3L479.6 508.4L480.1 506.3L480.7 507.3L481.2 508.4L481.8 507.3L482.3 507.3L482.9 507.3L483.4 506.2L484.0 507.3L484.5 507.3L485.1 508.4L485.6 507.2L486.2 507.3L486.7 506.0L487.3 508.4L487.8 506.5L488.4 506.2L488.9 505.6L489.5 507.2L490.0 508.4L490.6 505.6L491.1 508.4M491.7 508.4M492.2 508.4M492.8 508.4L493.3 507.3L493.9 508.4M494.4 508.4L495.0 507.1L495.5 506.7L496.1 508.4L496.6 507.3L497.2 507.3L497.7 506.2L498.3 507.3L498.8 508.4M499.4 508.4M499.9 508.4M500.5 508.4M501.0 508.4L501.6 507.3L502.1 506.6L502.7 506.9L503.2 508.4L503.8 506.9L504.3 507.0L504.9 507.1L505.5 506.4L506.0 507.2L506.6 505.6L507.1 507.3L507.7 507.3L508.2 508.4L508.8 507.2L509.3 508.4L509.9 505.6L510.4 506.8L511.0 507.3L511.5 507.1L512.1 507.0L512.6 507.0L513.2 507.1L513.7 508.4L514.3 507.1L514.8 507.2L515.4 507.1L515.9 506.0L516.5 506.6L517.0 508.4M517.6 508.4L518.1 507.3L518.7 507.3L519.2 507.2L519.8 506.1L520.3 507.2L520.9 505.3L521.4 508.4M522.0 508.4L522.5 505.7L523.1 507.2L523.6 508.4M524.2 508.4L524.7 507.1L525.3 506.6L525.8 506.9L526.4 508.4L526.9 507.1L527.5 506.3L528.0 506.9L528.6 508.4M529.1 508.4L529.7 507.0L530.2 508.4L530.8 507.3L531.3 508.4L531.9 507.3L532.4 506.8L533.0 506.8L533.5 505.5L534.1 506.1L534.6 508.4L535.2 507.1L535.7 507.1L536.3 508.4L536.8 507.2L537.4 506.2L537.9 508.4L538.5 505.5L539.0 506.6L539.6 506.7L540.1 508.4M540.7 508.4L541.2 507.1L541.8 507.3L541.8 508.4Z" fill="#f0853a" stroke="#f0853a" stroke-width="0.25" opacity="1"/>
<line x1="541.8" y1="508.2" x2="592.5" y2="508.2" stroke="#98c4de" stroke-width="0.6" opacity="0.22"/>
<line x1="592.5" y1="508.2" x2="629.2" y2="508.2" stroke="#dcc4ca" stroke-width="0.6" opacity="0.11"/>
<line x1="351.0" y1="515.3" x2="410.4" y2="515.3" stroke="#fad75c" stroke-width="0.6" opacity="0.50"/>
<path d="M351.0 515.5L351.0 515.3L351.6 515.5M352.1 515.5L352.7 515.4L353.2 515.5L353.8 515.3L354.3 515.5L354.9 515.4L355.4 515.5L356.0 515.4L356.6 515.5L357.1 515.4L357.7 515.5L358.2 515.2L358.8 515.5L359.3 515.4L359.9 515.5M360.4 515.5L361.0 515.2L361.5 515.5L362.1 515.4L362.7 515.5M363.2 515.5M363.8 515.5M364.3 515.5M364.9 515.5M365.4 515.5M366.0 515.5M366.5 515.5L367.1 515.4L367.7 515.4L368.2 515.5M368.8 515.5M369.3 515.5M369.9 515.5M370.4 515.5M371.0 515.5M371.5 515.5M372.1 515.5L372.7 515.2L373.2 515.5M373.8 515.5M374.3 515.5L374.9 515.3L375.4 515.5L376.0 515.4L376.5 515.5M377.1 515.5M377.6 515.5M378.2 515.5L378.8 515.3L379.3 515.5M379.9 515.5L380.4 515.2L381.0 515.3L381.5 515.2L382.1 515.5M382.6 515.5L383.2 515.3L383.8 515.5M384.3 515.5M384.9 515.5L385.4 515.4L386.0 515.5M386.5 515.5M387.1 515.5L387.6 515.3L388.2 515.5L388.7 515.3L389.3 515.5M389.9 515.5M390.4 515.5M391.0 515.5M391.5 515.5L392.1 515.4L392.6 515.5M393.2 515.5M393.7 515.5M394.3 515.5L394.9 515.3L395.4 515.2L396.0 515.2L396.5 515.5L397.1 515.4L397.6 515.4L398.2 515.5M398.7 515.5L399.3 515.3L399.9 515.5L400.4 515.4L401.0 515.4L401.5 515.5L402.1 515.3L402.6 515.5M403.2 515.5M403.7 515.5M404.3 515.5M404.8 515.5M405.4 515.5M406.0 515.5L406.5 515.4L407.1 515.5M407.6 515.5M408.2 515.5M408.7 515.5L409.3 515.4L409.8 515.5M410.4 515.5L410.4 515.5Z" fill="#fad75c" stroke="#fad75c" stroke-width="0.25" opacity="0.75"/>
<line x1="410.4" y1="515.3" x2="423.5" y2="515.3" stroke="#fbee98" stroke-width="0.6" opacity="0.50"/>
<path d="M410.4 515.5L410.4 515.3L411.0 515.5L411.5 515.0L412.1 515.5M412.7 515.5L413.2 515.3L413.8 515.4L414.4 515.2L415.0 515.3L415.5 515.5M416.1 515.5L416.7 515.3L417.2 515.3L417.8 515.3L418.4 515.2L418.9 515.1L419.5 515.5L420.1 515.4L420.7 515.3L421.2 515.5M421.8 515.5L422.4 515.2L422.9 515.5M423.5 515.5L423.5 515.5Z" fill="#fbee98" stroke="#fbee98" stroke-width="0.25" opacity="0.75"/>
<line x1="423.5" y1="515.3" x2="432.2" y2="515.3" stroke="#a2cc58" stroke-width="0.6" opacity="0.22"/>
<line x1="432.2" y1="515.3" x2="541.8" y2="515.3" stroke="#f0853a" stroke-width="0.6" opacity="0.72"/>
<path d="M432.2 515.5L432.2 511.0L432.8 510.9L433.3 512.6L433.9 512.6L434.4 512.8L435.0 513.7L435.5 513.3L436.1 512.9L436.6 513.6L437.2 513.8L437.7 510.8L438.3 512.9L438.8 513.7L439.4 512.3L439.9 513.9L440.5 513.7L441.0 513.8L441.6 511.3L442.1 511.1L442.7 513.6L443.2 512.8L443.8 513.2L444.3 512.8L444.9 513.9L445.4 513.6L446.0 513.2L446.5 512.7L447.1 512.6L447.6 512.9L448.2 513.7L448.7 513.9L449.3 513.9L449.8 512.8L450.4 513.8L450.9 513.0L451.5 511.2L452.0 513.9L452.6 513.7L453.1 513.8L453.7 513.8L454.2 513.4L454.8 513.7L455.3 513.9L455.9 513.5L456.4 513.4L457.0 512.4L457.5 511.9L458.1 513.9L458.6 511.7L459.2 511.3L459.7 513.8L460.3 513.7L460.8 513.4L461.4 512.9L461.9 513.8L462.5 513.8L463.0 513.9L463.6 512.4L464.1 511.3L464.7 511.0L465.2 513.3L465.8 513.0L466.3 513.9L466.9 513.5L467.4 513.8L468.0 513.7L468.5 512.4L469.1 513.3L469.7 512.6L470.2 511.3L470.8 513.8L471.3 512.0L471.9 512.6L472.4 512.8L473.0 513.4L473.5 513.7L474.1 511.1L474.6 513.9L475.2 512.8L475.7 513.5L476.3 511.4L476.8 513.8L477.4 511.9L477.9 513.7L478.5 512.7L479.0 513.7L479.6 511.6L480.1 513.9L480.7 512.2L481.2 513.8L481.8 511.2L482.3 513.7L482.9 511.9L483.4 513.9L484.0 513.2L484.5 512.4L485.1 513.6L485.6 513.8L486.2 511.1L486.7 512.0L487.3 513.9L487.8 512.3L488.4 511.4L488.9 512.8L489.5 511.6L490.0 513.7L490.6 513.7L491.1 513.0L491.7 512.7L492.2 513.9L492.8 513.9L493.3 510.8L493.9 513.2L494.4 512.9L495.0 512.2L495.5 513.3L496.1 513.5L496.6 511.5L497.2 511.9L497.7 512.7L498.3 513.9L498.8 513.6L499.4 513.4L499.9 512.4L500.5 513.8L501.0 511.6L501.6 512.5L502.1 513.6L502.7 512.7L503.2 513.5L503.8 510.8L504.3 512.0L504.9 513.6L505.5 512.0L506.0 513.4L506.6 513.5L507.1 513.9L507.7 511.2L508.2 510.8L508.8 511.4L509.3 513.7L509.9 513.8L510.4 513.0L511.0 513.3L511.5 512.1L512.1 512.7L512.6 511.6L513.2 513.4L513.7 512.7L514.3 513.8L514.8 512.7L515.4 513.4L515.9 513.8L516.5 511.4L517.0 513.8L517.6 513.3L518.1 513.8L518.7 513.2L519.2 513.9L519.8 511.6L520.3 512.2L520.9 512.8L521.4 512.5L522.0 513.6L522.5 513.1L523.1 512.0L523.6 513.8L524.2 513.9L524.7 511.2L525.3 513.8L525.8 511.7L526.4 513.0L526.9 513.9L527.5 511.8L528.0 513.7L528.6 512.6L529.1 513.2L529.7 513.8L530.2 513.2L530.8 513.8L531.3 511.8L531.9 513.4L532.4 513.8L533.0 512.0L533.5 513.0L534.1 510.8L534.6 510.8L535.2 513.3L535.7 513.3L536.3 513.6L536.8 513.6L537.4 513.8L537.9 512.0L538.5 513.9L539.0 513.8L539.6 513.5L540.1 512.7L540.7 510.8L541.2 513.6L541.8 510.8L541.8 515.5Z" fill="#f0853a" stroke="#f0853a" stroke-width="0.25" opacity="1"/>
<line x1="541.8" y1="515.3" x2="592.5" y2="515.3" stroke="#98c4de" stroke-width="0.6" opacity="0.18"/>
<line x1="592.5" y1="515.3" x2="629.2" y2="515.3" stroke="#dcc4ca" stroke-width="0.6" opacity="0.07"/>
<path d="M432.2 522.7M432.2 522.7M432.8 522.7M433.3 522.7M433.9 522.7M434.4 522.7M435.0 522.7M435.5 522.7M436.1 522.7M436.6 522.7M437.2 522.7M437.7 522.7M438.3 522.7M438.8 522.7M439.4 522.7M439.9 522.7M440.5 522.7M441.0 522.7M441.6 522.7M442.1 522.7M442.7 522.7M443.2 522.7M443.8 522.7M444.3 522.7L444.9 522.4L445.4 522.7M446.0 522.7M446.5 522.7M447.1 522.7M447.6 522.7M448.2 522.7M448.7 522.7M449.3 522.7M449.8 522.7M450.4 522.7M450.9 522.7M451.5 522.7M452.0 522.7M452.6 522.7M453.1 522.7M453.7 522.7M454.2 522.7M454.8 522.7M455.3 522.7M455.9 522.7M456.4 522.7M457.0 522.7M457.5 522.7M458.1 522.7M458.6 522.7M459.2 522.7M459.7 522.7M460.3 522.7M460.8 522.7M461.4 522.7M461.9 522.7M462.5 522.7M463.0 522.7M463.6 522.7M464.1 522.7M464.7 522.7M465.2 522.7M465.8 522.7M466.3 522.7L466.9 522.5L467.4 522.7M468.0 522.7M468.5 522.7M469.1 522.7M469.7 522.7M470.2 522.7M470.8 522.7M471.3 522.7M471.9 522.7M472.4 522.7M473.0 522.7M473.5 522.7M474.1 522.7M474.6 522.7M475.2 522.7L475.7 522.5L476.3 522.7M476.8 522.7M477.4 522.7M477.9 522.7M478.5 522.7M479.0 522.7M479.6 522.7M480.1 522.7M480.7 522.7M481.2 522.7M481.8 522.7M482.3 522.7M482.9 522.7M483.4 522.7M484.0 522.7M484.5 522.7M485.1 522.7M485.6 522.7M486.2 522.7M486.7 522.7M487.3 522.7M487.8 522.7M488.4 522.7M488.9 522.7M489.5 522.7M490.0 522.7M490.6 522.7M491.1 522.7M491.7 522.7L492.2 522.5L492.8 522.7M493.3 522.7M493.9 522.7M494.4 522.7M495.0 522.7M495.5 522.7M496.1 522.7M496.6 522.7M497.2 522.7M497.7 522.7M498.3 522.7M498.8 522.7M499.4 522.7M499.9 522.7M500.5 522.7M501.0 522.7M501.6 522.7M502.1 522.7M502.7 522.7M503.2 522.7M503.8 522.7M504.3 522.7M504.9 522.7M505.5 522.7M506.0 522.7M506.6 522.7M507.1 522.7M507.7 522.7M508.2 522.7M508.8 522.7M509.3 522.7M509.9 522.7M510.4 522.7M511.0 522.7M511.5 522.7M512.1 522.7M512.6 522.7M513.2 522.7M513.7 522.7M514.3 522.7M514.8 522.7M515.4 522.7M515.9 522.7M516.5 522.7M517.0 522.7M517.6 522.7M518.1 522.7L518.7 522.5L519.2 522.7M519.8 522.7M520.3 522.7M520.9 522.7M521.4 522.7M522.0 522.7M522.5 522.7M523.1 522.7M523.6 522.7M524.2 522.7M524.7 522.7L525.3 522.5L525.8 522.7M526.4 522.7M526.9 522.7M527.5 522.7M528.0 522.7M528.6 522.7M529.1 522.7M529.7 522.7M530.2 522.7M530.8 522.7M531.3 522.7M531.9 522.7M532.4 522.7M533.0 522.7M533.5 522.7M534.1 522.7M534.6 522.7M535.2 522.7M535.7 522.7M536.3 522.7M536.8 522.7M537.4 522.7M537.9 522.7M538.5 522.7M539.0 522.7M539.6 522.7L540.1 522.5L540.7 522.7M541.2 522.7M541.8 522.7L541.8 522.7Z" fill="#f0853a" stroke="#f0853a" stroke-width="0.25" opacity="0.75"/>
<line x1="541.8" y1="522.5" x2="592.5" y2="522.5" stroke="#98c4de" stroke-width="0.6" opacity="0.65"/>
<path d="M541.8 522.7M541.8 522.7L542.4 520.3L542.9 522.7M543.5 522.7L544.0 520.7L544.6 522.7L545.1 519.2L545.7 522.7L546.2 521.3L546.8 519.4L547.3 522.7M547.9 522.7L548.4 519.8L549.0 522.7L549.5 521.3L550.1 521.4L550.6 522.7M551.2 522.7L551.7 521.4L552.3 522.7L552.8 521.0L553.4 522.7M553.9 522.7L554.5 521.0L555.0 522.7L555.6 521.0L556.1 522.7M556.7 522.7M557.2 522.7L557.8 520.7L558.3 522.7M558.9 522.7M559.4 522.7M560.0 522.7M560.5 522.7L561.1 520.3L561.6 522.7M562.2 522.7M562.7 522.7L563.3 520.7L563.8 519.3L564.4 522.7M564.9 522.7L565.5 521.4L566.0 519.9L566.6 519.3L567.1 521.2L567.7 521.4L568.3 522.7L568.8 520.9L569.4 522.7L569.9 521.3L570.5 521.4L571.0 522.7L571.6 521.4L572.1 519.4L572.7 522.7M573.2 522.7L573.8 521.1L574.3 521.0L574.9 520.7L575.4 521.2L576.0 519.7L576.5 521.2L577.1 521.0L577.6 521.0L578.2 521.4L578.7 521.4L579.3 522.7L579.8 521.2L580.4 521.1L580.9 520.0L581.5 521.1L582.0 522.7L582.6 521.2L583.1 521.2L583.7 522.7L584.2 521.4L584.8 521.2L585.3 522.7M585.9 522.7L586.4 521.4L587.0 520.5L587.5 521.1L588.1 520.1L588.6 522.7L589.2 520.2L589.7 522.7L590.3 519.5L590.8 522.7L591.4 521.4L591.9 521.4L592.5 521.0L592.5 522.7Z" fill="#98c4de" stroke="#98c4de" stroke-width="0.25" opacity="1"/>
<line x1="541.8" y1="529.6" x2="592.5" y2="529.6" stroke="#98c4de" stroke-width="0.6" opacity="0.65"/>
<path d="M541.8 529.8M541.8 529.8L542.4 527.8L542.9 526.6L543.5 529.8L544.0 528.5L544.6 527.5L545.1 528.6L545.7 528.6L546.2 529.8M546.8 529.8M547.3 529.8L547.9 527.3L548.4 527.7L549.0 529.8M549.5 529.8L550.1 528.6L550.6 529.8L551.2 527.9L551.7 528.6L552.3 526.5L552.8 529.8L553.4 528.0L553.9 528.7L554.5 528.5L555.0 529.8L555.6 528.5L556.1 528.2L556.7 529.8L557.2 528.6L557.8 528.5L558.3 528.5L558.9 528.7L559.4 527.6L560.0 528.3L560.5 529.8L561.1 528.6L561.6 529.8L562.2 528.5L562.7 528.7L563.3 527.1L563.8 527.6L564.4 527.5L564.9 528.5L565.5 529.8L566.0 528.4L566.6 529.8L567.1 527.6L567.7 528.0L568.3 529.8M568.8 529.8L569.4 527.7L569.9 529.8L570.5 528.1L571.0 527.6L571.6 529.8L572.1 527.7L572.7 528.6L573.2 528.6L573.8 529.8M574.3 529.8M574.9 529.8M575.4 529.8M576.0 529.8L576.5 527.7L577.1 529.8L577.6 528.4L578.2 529.8L578.7 528.7L579.3 527.7L579.8 528.7L580.4 527.4L580.9 529.8M581.5 529.8L582.0 527.8L582.6 529.8M583.1 529.8L583.7 527.6L584.2 527.5L584.8 528.6L585.3 528.6L585.9 527.7L586.4 529.8M587.0 529.8L587.5 527.7L588.1 528.5L588.6 527.7L589.2 528.6L589.7 528.6L590.3 528.6L590.8 529.8M591.4 529.8L591.9 527.4L592.5 529.8L592.5 529.8Z" fill="#98c4de" stroke="#98c4de" stroke-width="0.25" opacity="1"/>
<path d="M432.2 537.0M432.2 537.0M432.8 537.0M433.3 537.0L433.9 536.8L434.4 537.0M435.0 537.0M435.5 537.0M436.1 537.0M436.6 537.0M437.2 537.0M437.7 537.0M438.3 537.0M438.8 537.0M439.4 537.0M439.9 537.0M440.5 537.0M441.0 537.0M441.6 537.0M442.1 537.0M442.7 537.0M443.2 537.0M443.8 537.0M444.3 537.0M444.9 537.0M445.4 537.0M446.0 537.0M446.5 537.0M447.1 537.0M447.6 537.0M448.2 537.0M448.7 537.0M449.3 537.0M449.8 537.0M450.4 537.0M450.9 537.0M451.5 537.0M452.0 537.0M452.6 537.0M453.1 537.0M453.7 537.0M454.2 537.0M454.8 537.0M455.3 537.0M455.9 537.0M456.4 537.0M457.0 537.0M457.5 537.0M458.1 537.0M458.6 537.0M459.2 537.0L459.7 536.8L460.3 537.0M460.8 537.0M461.4 537.0M461.9 537.0M462.5 537.0M463.0 537.0M463.6 537.0M464.1 537.0M464.7 537.0M465.2 537.0M465.8 537.0M466.3 537.0M466.9 537.0M467.4 537.0L468.0 536.7L468.5 537.0M469.1 537.0M469.7 537.0M470.2 537.0M470.8 537.0M471.3 537.0M471.9 537.0L472.4 536.6L473.0 537.0M473.5 537.0M474.1 537.0M474.6 537.0M475.2 537.0M475.7 537.0M476.3 537.0M476.8 537.0M477.4 537.0M477.9 537.0M478.5 537.0M479.0 537.0M479.6 537.0M480.1 537.0M480.7 537.0M481.2 537.0M481.8 537.0M482.3 537.0M482.9 537.0M483.4 537.0M484.0 537.0M484.5 537.0M485.1 537.0L485.6 536.8L486.2 537.0M486.7 537.0M487.3 537.0M487.8 537.0M488.4 537.0M488.9 537.0M489.5 537.0M490.0 537.0M490.6 537.0M491.1 537.0M491.7 537.0M492.2 537.0M492.8 537.0M493.3 537.0M493.9 537.0M494.4 537.0M495.0 537.0M495.5 537.0M496.1 537.0M496.6 537.0M497.2 537.0M497.7 537.0M498.3 537.0M498.8 537.0M499.4 537.0M499.9 537.0M500.5 537.0M501.0 537.0M501.6 537.0M502.1 537.0M502.7 537.0M503.2 537.0M503.8 537.0M504.3 537.0M504.9 537.0L505.5 536.6L506.0 537.0M506.6 537.0M507.1 537.0M507.7 537.0M508.2 537.0M508.8 537.0M509.3 537.0M509.9 537.0M510.4 537.0M511.0 537.0M511.5 537.0M512.1 537.0M512.6 537.0M513.2 537.0M513.7 537.0M514.3 537.0M514.8 537.0M515.4 537.0M515.9 537.0M516.5 537.0M517.0 537.0M517.6 537.0M518.1 537.0M518.7 537.0M519.2 537.0M519.8 537.0M520.3 537.0M520.9 537.0M521.4 537.0M522.0 537.0M522.5 537.0M523.1 537.0M523.6 537.0M524.2 537.0M524.7 537.0M525.3 537.0M525.8 537.0L526.4 536.6L526.9 536.8L527.5 537.0M528.0 537.0M528.6 537.0M529.1 537.0M529.7 537.0M530.2 537.0M530.8 537.0M531.3 537.0M531.9 537.0M532.4 537.0M533.0 537.0M533.5 537.0M534.1 537.0M534.6 537.0M535.2 537.0M535.7 537.0M536.3 537.0M536.8 537.0M537.4 537.0L537.9 536.6L538.5 537.0M539.0 537.0M539.6 537.0M540.1 537.0M540.7 537.0M541.2 537.0M541.8 537.0L541.8 537.0Z" fill="#f0853a" stroke="#f0853a" stroke-width="0.25" opacity="0.75"/>
<line x1="541.8" y1="536.8" x2="592.5" y2="536.8" stroke="#98c4de" stroke-width="0.6" opacity="0.58"/>
<path d="M541.8 537.0L541.8 536.1L542.4 535.4L542.9 537.0L543.5 536.0L544.0 537.0M544.6 537.0M545.1 537.0L545.7 535.7L546.2 534.9L546.8 537.0L547.3 536.1L547.9 537.0L548.4 535.0L549.0 536.2L549.5 537.0M550.1 537.0M550.6 537.0M551.2 537.0M551.7 537.0M552.3 537.0L552.8 535.1L553.4 536.1L553.9 537.0L554.5 534.4L555.0 536.0L555.6 537.0L556.1 536.0L556.7 537.0M557.2 537.0M557.8 537.0M558.3 537.0L558.9 535.9L559.4 537.0M560.0 537.0L560.5 534.9L561.1 537.0L561.6 536.1L562.2 535.3L562.7 537.0L563.3 535.9L563.8 536.2L564.4 537.0M564.9 537.0L565.5 535.4L566.0 537.0L566.6 535.9L567.1 537.0M567.7 537.0M568.3 537.0M568.8 537.0L569.4 535.9L569.9 537.0L570.5 535.8L571.0 535.7L571.6 535.0L572.1 537.0M572.7 537.0M573.2 537.0L573.8 535.7L574.3 537.0L574.9 534.8L575.4 535.4L576.0 535.4L576.5 537.0L577.1 536.1L577.6 534.6L578.2 535.1L578.7 537.0M579.3 537.0M579.8 537.0M580.4 537.0L580.9 534.4L581.5 535.0L582.0 537.0M582.6 537.0L583.1 534.9L583.7 535.8L584.2 537.0L584.8 534.6L585.3 537.0L585.9 536.0L586.4 537.0L587.0 536.1L587.5 537.0L588.1 534.8L588.6 534.7L589.2 534.4L589.7 537.0L590.3 536.1L590.8 534.5L591.4 535.9L591.9 536.1L592.5 534.9L592.5 537.0Z" fill="#98c4de" stroke="#98c4de" stroke-width="0.25" opacity="0.75"/>
<line x1="629.2" y1="536.8" x2="645.4" y2="536.8" stroke="#b9aad0" stroke-width="0.6" opacity="0.07"/>
<path d="M629.2 537.0M629.2 537.0M629.8 537.0M630.3 537.0M630.9 537.0M631.4 537.0L632.0 536.8L632.6 537.0L633.1 536.6L633.7 537.0M634.2 537.0M634.8 537.0L635.3 536.8L635.9 537.0M636.5 537.0M637.0 537.0M637.6 537.0M638.1 537.0M638.7 537.0M639.3 537.0M639.8 537.0M640.4 537.0M640.9 537.0M641.5 537.0M642.0 537.0M642.6 537.0L643.2 536.6L643.7 537.0L644.3 536.7L644.8 536.7L645.4 537.0L645.4 537.0Z" fill="#b9aad0" stroke="#b9aad0" stroke-width="0.25" opacity="0.75"/>
<line x1="541.8" y1="543.9" x2="592.5" y2="543.9" stroke="#98c4de" stroke-width="0.6" opacity="0.65"/>
<path d="M541.8 544.1L541.8 542.6L542.4 544.1M542.9 544.1L543.5 542.9L544.0 544.1M544.6 544.1M545.1 544.1M545.7 544.1L546.2 542.8L546.8 540.8L547.3 542.0L547.9 542.8L548.4 542.9L549.0 542.2L549.5 542.9L550.1 542.7L550.6 544.1L551.2 542.7L551.7 542.9L552.3 544.1M552.8 544.1M553.4 544.1L553.9 542.2L554.5 542.9L555.0 542.8L555.6 544.1M556.1 544.1L556.7 542.1L557.2 541.5L557.8 541.2L558.3 541.8L558.9 542.8L559.4 542.6L560.0 544.1L560.5 542.0L561.1 542.0L561.6 542.9L562.2 544.1L562.7 542.9L563.3 544.1L563.8 542.8L564.4 544.1M564.9 544.1M565.5 544.1M566.0 544.1L566.6 542.9L567.1 542.9L567.7 544.1L568.3 540.9L568.8 542.5L569.4 542.6L569.9 544.1L570.5 542.6L571.0 544.1L571.6 542.9L572.1 544.1L572.7 542.4L573.2 542.7L573.8 541.0L574.3 544.1L574.9 542.9L575.4 544.1L576.0 541.3L576.5 541.4L577.1 544.1M577.6 544.1L578.2 542.7L578.7 542.4L579.3 541.8L579.8 542.9L580.4 542.9L580.9 542.4L581.5 541.5L582.0 544.1L582.6 542.8L583.1 544.1M583.7 544.1M584.2 544.1M584.8 544.1M585.3 544.1L585.9 542.2L586.4 542.7L587.0 541.8L587.5 544.1L588.1 542.6L588.6 542.9L589.2 542.7L589.7 542.6L590.3 542.9L590.8 542.9L591.4 544.1M591.9 544.1L592.5 541.6L592.5 544.1Z" fill="#98c4de" stroke="#98c4de" stroke-width="0.25" opacity="1"/>
<line x1="351.0" y1="551.1" x2="410.4" y2="551.1" stroke="#fad75c" stroke-width="0.6" opacity="0.25"/>
<line x1="410.4" y1="551.1" x2="423.5" y2="551.1" stroke="#fbee98" stroke-width="0.6" opacity="0.14"/>
<line x1="423.5" y1="551.1" x2="432.2" y2="551.1" stroke="#a2cc58" stroke-width="0.6" opacity="0.18"/>
<line x1="432.2" y1="551.1" x2="541.8" y2="551.1" stroke="#f0853a" stroke-width="0.6" opacity="0.43"/>
<path d="M432.2 551.3M432.2 551.3M432.8 551.3L433.3 551.0L433.9 551.3M434.4 551.3M435.0 551.3M435.5 551.3M436.1 551.3M436.6 551.3M437.2 551.3M437.7 551.3M438.3 551.3M438.8 551.3L439.4 551.1L439.9 551.3M440.5 551.3M441.0 551.3M441.6 551.3M442.1 551.3M442.7 551.3M443.2 551.3M443.8 551.3M444.3 551.3M444.9 551.3M445.4 551.3M446.0 551.3M446.5 551.3M447.1 551.3L447.6 550.9L448.2 551.3M448.7 551.3M449.3 551.3M449.8 551.3M450.4 551.3L450.9 550.9L451.5 551.3M452.0 551.3M452.6 551.3M453.1 551.3M453.7 551.3M454.2 551.3M454.8 551.3M455.3 551.3M455.9 551.3L456.4 551.0L457.0 551.3M457.5 551.3L458.1 550.9L458.6 551.3L459.2 551.0L459.7 551.3L460.3 551.0L460.8 551.3M461.4 551.3M461.9 551.3M462.5 551.3M463.0 551.3M463.6 551.3M464.1 551.3M464.7 551.3M465.2 551.3M465.8 551.3M466.3 551.3M466.9 551.3M467.4 551.3M468.0 551.3M468.5 551.3M469.1 551.3L469.7 551.0L470.2 551.3L470.8 551.1L471.3 551.3L471.9 551.0L472.4 551.3M473.0 551.3M473.5 551.3M474.1 551.3L474.6 551.1L475.2 551.3L475.7 550.9L476.3 551.3M476.8 551.3M477.4 551.3M477.9 551.3M478.5 551.3L479.0 551.1L479.6 551.3M480.1 551.3L480.7 550.8L481.2 551.3M481.8 551.3M482.3 551.3M482.9 551.3M483.4 551.3M484.0 551.3M484.5 551.3M485.1 551.3L485.6 551.1L486.2 551.3M486.7 551.3M487.3 551.3L487.8 551.1L488.4 551.3M488.9 551.3M489.5 551.3M490.0 551.3M490.6 551.3M491.1 551.3M491.7 551.3M492.2 551.3M492.8 551.3M493.3 551.3M493.9 551.3M494.4 551.3M495.0 551.3M495.5 551.3M496.1 551.3M496.6 551.3M497.2 551.3M497.7 551.3M498.3 551.3M498.8 551.3M499.4 551.3M499.9 551.3M500.5 551.3M501.0 551.3M501.6 551.3M502.1 551.3M502.7 551.3M503.2 551.3M503.8 551.3M504.3 551.3M504.9 551.3M505.5 551.3M506.0 551.3M506.6 551.3M507.1 551.3M507.7 551.3L508.2 551.1L508.8 551.0L509.3 551.3M509.9 551.3M510.4 551.3M511.0 551.3M511.5 551.3M512.1 551.3L512.6 551.1L513.2 551.3M513.7 551.3M514.3 551.3L514.8 550.9L515.4 551.3M515.9 551.3L516.5 551.1L517.0 551.1L517.6 551.3M518.1 551.3M518.7 551.3M519.2 551.3M519.8 551.3M520.3 551.3M520.9 551.3L521.4 551.1L522.0 551.3M522.5 551.3M523.1 551.3L523.6 550.8L524.2 551.3M524.7 551.3M525.3 551.3M525.8 551.3M526.4 551.3M526.9 551.3M527.5 551.3M528.0 551.3M528.6 551.3L529.1 551.1L529.7 551.3M530.2 551.3M530.8 551.3M531.3 551.3M531.9 551.3M532.4 551.3M533.0 551.3M533.5 551.3M534.1 551.3M534.6 551.3M535.2 551.3M535.7 551.3M536.3 551.3L536.8 550.9L537.4 551.1L537.9 551.3M538.5 551.3M539.0 551.3M539.6 551.3M540.1 551.3M540.7 551.3M541.2 551.3M541.8 551.3L541.8 551.3Z" fill="#f0853a" stroke="#f0853a" stroke-width="0.25" opacity="0.75"/>
<line x1="541.8" y1="551.1" x2="592.5" y2="551.1" stroke="#98c4de" stroke-width="0.6" opacity="0.32"/>
<path d="M541.8 551.3M541.8 551.3M542.4 551.3M542.9 551.3M543.5 551.3M544.0 551.3L544.6 550.9L545.1 551.3L545.7 551.0L546.2 551.0L546.8 551.3M547.3 551.3M547.9 551.3L548.4 551.0L549.0 551.3M549.5 551.3M550.1 551.3M550.6 551.3M551.2 551.3M551.7 551.3M552.3 551.3M552.8 551.3L553.4 550.5L553.9 550.9L554.5 551.3M555.0 551.3M555.6 551.3L556.1 551.0L556.7 551.3L557.2 550.5L557.8 551.3M558.3 551.3M558.9 551.3M559.4 551.3M560.0 551.3L560.5 550.8L561.1 551.3M561.6 551.3M562.2 551.3M562.7 551.3M563.3 551.3L563.8 550.9L564.4 551.3L564.9 550.8L565.5 551.3M566.0 551.3M566.6 551.3L567.1 551.0L567.7 551.3L568.3 551.0L568.8 550.6L569.4 551.0L569.9 550.7L570.5 551.3M571.0 551.3M571.6 551.3M572.1 551.3M572.7 551.3L573.2 550.8L573.8 551.3L574.3 550.9L574.9 551.3M575.4 551.3M576.0 551.3M576.5 551.3L577.1 550.9L577.6 550.9L578.2 551.3M578.7 551.3L579.3 550.5L579.8 551.3L580.4 550.5L580.9 551.0L581.5 551.3M582.0 551.3M582.6 551.3M583.1 551.3L583.7 550.8L584.2 550.8L584.8 551.3L585.3 550.9L585.9 550.7L586.4 551.3M587.0 551.3M587.5 551.3M588.1 551.3M588.6 551.3M589.2 551.3M589.7 551.3M590.3 551.3M590.8 551.3M591.4 551.3M591.9 551.3L592.5 551.0L592.5 551.3Z" fill="#98c4de" stroke="#98c4de" stroke-width="0.25" opacity="0.75"/>
<line x1="592.5" y1="551.1" x2="629.2" y2="551.1" stroke="#dcc4ca" stroke-width="0.6" opacity="0.58"/>
<path d="M592.5 551.3L592.5 550.4L593.1 550.4L593.6 549.9L594.2 551.3L594.7 550.4L595.3 551.3M595.8 551.3L596.4 550.4L596.9 551.3L597.5 550.3L598.1 549.7L598.6 550.1L599.2 551.3L599.7 550.3L600.3 551.3L600.8 550.3L601.4 550.4L602.0 551.3L602.5 550.4L603.1 550.3L603.6 550.4L604.2 549.8L604.7 551.3L605.3 549.0L605.8 550.1L606.4 550.4L607.0 551.3L607.5 548.9L608.1 551.3L608.6 550.4L609.2 550.4L609.7 549.7L610.3 549.7L610.9 551.3L611.4 550.1L612.0 550.4L612.5 549.7L613.1 551.3M613.6 551.3M614.2 551.3M614.7 551.3L615.3 550.4L615.9 549.7L616.4 548.9L617.0 551.3L617.5 550.4L618.1 550.4L618.6 551.3M619.2 551.3L619.7 549.7L620.3 549.0L620.9 549.0L621.4 551.3L622.0 549.2L622.5 549.0L623.1 550.4L623.6 549.2L624.2 550.2L624.8 551.3L625.3 550.4L625.9 550.3L626.4 550.2L627.0 549.0L627.5 551.3L628.1 549.0L628.6 549.8L629.2 550.4L629.2 551.3Z" fill="#dcc4ca" stroke="#dcc4ca" stroke-width="0.25" opacity="1"/>
<line x1="629.2" y1="551.1" x2="645.4" y2="551.1" stroke="#b9aad0" stroke-width="0.6" opacity="0.72"/>
<path d="M629.2 551.3L629.2 548.6L629.8 549.4L630.3 547.8L630.9 549.6L631.4 548.7L632.0 549.4L632.6 548.4L633.1 549.5L633.7 549.4L634.2 548.4L634.8 549.5L635.3 549.4L635.9 549.5L636.5 549.6L637.0 549.1L637.6 547.7L638.1 549.2L638.7 549.6L639.3 549.4L639.8 548.8L640.4 549.4L640.9 548.3L641.5 549.6L642.0 549.4L642.6 548.8L643.2 548.9L643.7 547.3L644.3 549.6L644.8 549.4L645.4 548.2L645.4 551.3Z" fill="#b9aad0" stroke="#b9aad0" stroke-width="0.25" opacity="1"/>
<line x1="645.4" y1="551.1" x2="648.1" y2="551.1" stroke="#e2d8f2" stroke-width="0.6" opacity="0.29"/>
<path d="M645.4 551.3L645.4 551.0L646.1 551.0L646.8 550.9L647.4 551.3L648.1 550.8L648.1 551.3Z" fill="#e2d8f2" stroke="#e2d8f2" stroke-width="0.25" opacity="0.75"/>
<line x1="648.1" y1="551.1" x2="673.1" y2="551.1" stroke="#d6ccd0" stroke-width="0.6" opacity="0.29"/>
<path d="M648.1 551.3M648.1 551.3M648.7 551.3L649.2 550.9L649.8 550.8L650.3 551.3L650.9 550.7L651.4 551.3M652.0 551.3L652.5 550.7L653.1 551.3M653.7 551.3L654.2 551.0L654.8 551.3M655.3 551.3M655.9 551.3L656.4 551.0L657.0 551.3M657.5 551.3L658.1 550.7L658.7 551.3M659.2 551.3L659.8 551.0L660.3 550.7L660.9 551.3L661.4 550.8L662.0 551.3M662.5 551.3M663.1 551.3M663.7 551.3L664.2 550.9L664.8 551.3L665.3 551.0L665.9 551.3L666.4 551.0L667.0 550.9L667.5 551.3M668.1 551.3L668.7 551.0L669.2 551.3M669.8 551.3M670.3 551.3M670.9 551.3M671.4 551.3M672.0 551.3M672.5 551.3M673.1 551.3L673.1 551.3Z" fill="#d6ccd0" stroke="#d6ccd0" stroke-width="0.25" opacity="0.75"/>
<line x1="673.1" y1="551.1" x2="680.0" y2="551.1" stroke="#4fb08e" stroke-width="0.6" opacity="0.29"/>
<path d="M673.1 551.3M673.1 551.3M673.7 551.3M674.2 551.3L674.8 550.9L675.4 551.3L676.0 550.9L676.5 551.3M677.1 551.3L677.7 550.9L678.3 551.3M678.9 551.3M679.4 551.3M680.0 551.3L680.0 551.3Z" fill="#4fb08e" stroke="#4fb08e" stroke-width="0.25" opacity="0.75"/>
<line x1="351.0" y1="558.2" x2="410.4" y2="558.2" stroke="#fad75c" stroke-width="0.6" opacity="0.25"/>
<line x1="410.4" y1="558.2" x2="423.5" y2="558.2" stroke="#fbee98" stroke-width="0.6" opacity="0.14"/>
<line x1="423.5" y1="558.2" x2="432.2" y2="558.2" stroke="#a2cc58" stroke-width="0.6" opacity="0.18"/>
<line x1="432.2" y1="558.2" x2="541.8" y2="558.2" stroke="#f0853a" stroke-width="0.6" opacity="0.43"/>
<path d="M432.2 558.4M432.2 558.4L432.8 558.2L433.3 558.4L433.9 558.2L434.4 558.4L435.0 558.2L435.5 558.4M436.1 558.4M436.6 558.4L437.2 558.0L437.7 558.4M438.3 558.4M438.8 558.4M439.4 558.4M439.9 558.4M440.5 558.4M441.0 558.4M441.6 558.4M442.1 558.4M442.7 558.4M443.2 558.4L443.8 558.1L444.3 558.4M444.9 558.4M445.4 558.4M446.0 558.4M446.5 558.4M447.1 558.4M447.6 558.4M448.2 558.4M448.7 558.4M449.3 558.4M449.8 558.4M450.4 558.4M450.9 558.4M451.5 558.4M452.0 558.4M452.6 558.4M453.1 558.4M453.7 558.4L454.2 558.2L454.8 558.4M455.3 558.4M455.9 558.4M456.4 558.4L457.0 558.0L457.5 558.4L458.1 558.2L458.6 558.4M459.2 558.4M459.7 558.4M460.3 558.4M460.8 558.4M461.4 558.4M461.9 558.4M462.5 558.4M463.0 558.4M463.6 558.4M464.1 558.4M464.7 558.4L465.2 558.1L465.8 558.0L466.3 558.0L466.9 558.4M467.4 558.4M468.0 558.4M468.5 558.4M469.1 558.4M469.7 558.4M470.2 558.4M470.8 558.4M471.3 558.4M471.9 558.4M472.4 558.4M473.0 558.4M473.5 558.4M474.1 558.4M474.6 558.4M475.2 558.4M475.7 558.4M476.3 558.4M476.8 558.4M477.4 558.4M477.9 558.4M478.5 558.4M479.0 558.4M479.6 558.4M480.1 558.4M480.7 558.4L481.2 558.2L481.8 558.4M482.3 558.4M482.9 558.4M483.4 558.4M484.0 558.4M484.5 558.4M485.1 558.4M485.6 558.4M486.2 558.4M486.7 558.4L487.3 558.3L487.8 558.4M488.4 558.4L488.9 558.3L489.5 558.4M490.0 558.4L490.6 558.2L491.1 558.4M491.7 558.4M492.2 558.4M492.8 558.4M493.3 558.4M493.9 558.4M494.4 558.4L495.0 558.0L495.5 558.4L496.1 558.1L496.6 558.4M497.2 558.4M497.7 558.4M498.3 558.4L498.8 558.1L499.4 558.2L499.9 558.4M500.5 558.4L501.0 558.2L501.6 558.4M502.1 558.4M502.7 558.4L503.2 558.1L503.8 558.4M504.3 558.4M504.9 558.4M505.5 558.4M506.0 558.4L506.6 557.9L507.1 558.4M507.7 558.4M508.2 558.4L508.8 557.9L509.3 558.4M509.9 558.4M510.4 558.4L511.0 558.1L511.5 558.4M512.1 558.4L512.6 558.3L513.2 558.4M513.7 558.4M514.3 558.4M514.8 558.4M515.4 558.4M515.9 558.4L516.5 558.3L517.0 558.4M517.6 558.4M518.1 558.4M518.7 558.4M519.2 558.4M519.8 558.4M520.3 558.4L520.9 558.0L521.4 558.4M522.0 558.4M522.5 558.4L523.1 558.2L523.6 558.4M524.2 558.4M524.7 558.4M525.3 558.4M525.8 558.4L526.4 558.2L526.9 558.4M527.5 558.4M528.0 558.4M528.6 558.4M529.1 558.4M529.7 558.4M530.2 558.4L530.8 558.1L531.3 558.4L531.9 558.2L532.4 558.4L533.0 558.2L533.5 558.4M534.1 558.4M534.6 558.4M535.2 558.4M535.7 558.4L536.3 558.3L536.8 558.4M537.4 558.4M537.9 558.4M538.5 558.4M539.0 558.4M539.6 558.4M540.1 558.4M540.7 558.4M541.2 558.4M541.8 558.4L541.8 558.4Z" fill="#f0853a" stroke="#f0853a" stroke-width="0.25" opacity="0.75"/>
<line x1="541.8" y1="558.2" x2="592.5" y2="558.2" stroke="#98c4de" stroke-width="0.6" opacity="0.32"/>
<path d="M541.8 558.4M541.8 558.4M542.4 558.4M542.9 558.4M543.5 558.4M544.0 558.4M544.6 558.4L545.1 557.6L545.7 558.4M546.2 558.4M546.8 558.4L547.3 558.1L547.9 558.4L548.4 557.8L549.0 558.0L549.5 558.4L550.1 557.6L550.6 558.4M551.2 558.4M551.7 558.4L552.3 557.9L552.8 558.1L553.4 558.4M553.9 558.4L554.5 558.1L555.0 558.4M555.6 558.4M556.1 558.4M556.7 558.4L557.2 558.1L557.8 558.0L558.3 558.1L558.9 558.4M559.4 558.4L560.0 557.9L560.5 558.4M561.1 558.4M561.6 558.4M562.2 558.4M562.7 558.4M563.3 558.4M563.8 558.4M564.4 558.4M564.9 558.4M565.5 558.4M566.0 558.4M566.6 558.4L567.1 558.1L567.7 558.4M568.3 558.4M568.8 558.4M569.4 558.4M569.9 558.4M570.5 558.4M571.0 558.4M571.6 558.4M572.1 558.4L572.7 558.0L573.2 558.4M573.8 558.4L574.3 558.1L574.9 558.4M575.4 558.4L576.0 558.1L576.5 558.4M577.1 558.4M577.6 558.4M578.2 558.4M578.7 558.4M579.3 558.4M579.8 558.4M580.4 558.4M580.9 558.4L581.5 557.9L582.0 558.4M582.6 558.4L583.1 558.0L583.7 558.4M584.2 558.4M584.8 558.4M585.3 558.4M585.9 558.4L586.4 558.1L587.0 558.4M587.5 558.4M588.1 558.4M588.6 558.4L589.2 558.1L589.7 558.4M590.3 558.4M590.8 558.4L591.4 557.9L591.9 557.9L592.5 558.1L592.5 558.4Z" fill="#98c4de" stroke="#98c4de" stroke-width="0.25" opacity="0.75"/>
<line x1="592.5" y1="558.2" x2="629.2" y2="558.2" stroke="#dcc4ca" stroke-width="0.6" opacity="0.58"/>
<path d="M592.5 558.4L592.5 557.3L593.1 558.4L593.6 557.8L594.2 558.4L594.7 557.3L595.3 557.7L595.8 557.0L596.4 557.2L596.9 557.7L597.5 557.6L598.1 557.7L598.6 557.7L599.2 558.4L599.7 557.4L600.3 558.4L600.8 557.7L601.4 558.4L602.0 557.6L602.5 557.6L603.1 558.4L603.6 557.8L604.2 556.8L604.7 558.4L605.3 557.4L605.8 558.4L606.4 557.1L607.0 557.5L607.5 557.7L608.1 558.4L608.6 557.2L609.2 556.6L609.7 557.8L610.3 558.4L610.9 557.5L611.4 557.5L612.0 557.2L612.5 558.4L613.1 557.8L613.6 557.5L614.2 557.7L614.7 558.4L615.3 557.7L615.9 557.2L616.4 557.6L617.0 558.4L617.5 557.7L618.1 558.4M618.6 558.4L619.2 557.7L619.7 556.8L620.3 557.4L620.9 557.6L621.4 557.0L622.0 557.5L622.5 558.4L623.1 557.5L623.6 557.7L624.2 557.7L624.8 557.6L625.3 558.4L625.9 557.4L626.4 558.4M627.0 558.4M627.5 558.4L628.1 557.8L628.6 557.5L629.2 558.4L629.2 558.4Z" fill="#dcc4ca" stroke="#dcc4ca" stroke-width="0.25" opacity="1"/>
<line x1="629.2" y1="558.2" x2="645.4" y2="558.2" stroke="#b9aad0" stroke-width="0.6" opacity="0.72"/>
<path d="M629.2 558.4L629.2 556.7L629.8 556.3L630.3 553.7L630.9 554.5L631.4 554.3L632.0 556.4L632.6 555.3L633.1 554.3L633.7 555.8L634.2 553.6L634.8 555.2L635.3 556.3L635.9 556.3L636.5 556.6L637.0 556.7L637.6 555.1L638.1 554.1L638.7 554.3L639.3 556.4L639.8 556.4L640.4 556.1L640.9 554.0L641.5 556.6L642.0 555.9L642.6 555.9L643.2 556.3L643.7 556.5L644.3 556.7L644.8 555.2L645.4 556.6L645.4 558.4Z" fill="#b9aad0" stroke="#b9aad0" stroke-width="0.25" opacity="1"/>
<line x1="645.4" y1="558.2" x2="648.1" y2="558.2" stroke="#e2d8f2" stroke-width="0.6" opacity="0.29"/>
<path d="M645.4 558.4M645.4 558.4M646.1 558.4M646.8 558.4L647.4 558.2L648.1 558.2L648.1 558.4Z" fill="#e2d8f2" stroke="#e2d8f2" stroke-width="0.25" opacity="0.75"/>
<line x1="648.1" y1="558.2" x2="673.1" y2="558.2" stroke="#d6ccd0" stroke-width="0.6" opacity="0.29"/>
<path d="M648.1 558.4M648.1 558.4M648.7 558.4L649.2 557.7L649.8 558.4M650.3 558.4M650.9 558.4M651.4 558.4L652.0 558.1L652.5 558.4M653.1 558.4L653.7 557.8L654.2 558.4M654.8 558.4M655.3 558.4L655.9 557.8L656.4 558.1L657.0 558.4M657.5 558.4M658.1 558.4M658.7 558.4M659.2 558.4L659.8 558.2L660.3 558.4M660.9 558.4M661.4 558.4M662.0 558.4L662.5 557.8L663.1 558.4M663.7 558.4L664.2 558.1L664.8 557.8L665.3 558.4M665.9 558.4M666.4 558.4L667.0 557.9L667.5 558.4M668.1 558.4M668.7 558.4M669.2 558.4M669.8 558.4M670.3 558.4M670.9 558.4M671.4 558.4M672.0 558.4M672.5 558.4M673.1 558.4L673.1 558.4Z" fill="#d6ccd0" stroke="#d6ccd0" stroke-width="0.25" opacity="0.75"/>
<line x1="673.1" y1="558.2" x2="680.0" y2="558.2" stroke="#4fb08e" stroke-width="0.6" opacity="0.29"/>
<path d="M673.1 558.4M673.1 558.4L673.7 558.1L674.2 558.2L674.8 558.4M675.4 558.4M676.0 558.4L676.5 558.2L677.1 558.4M677.7 558.4L678.3 558.2L678.9 558.4M679.4 558.4M680.0 558.4L680.0 558.4Z" fill="#4fb08e" stroke="#4fb08e" stroke-width="0.25" opacity="0.75"/>
<line x1="351.0" y1="565.3" x2="410.4" y2="565.3" stroke="#fad75c" stroke-width="0.6" opacity="0.25"/>
<line x1="410.4" y1="565.3" x2="423.5" y2="565.3" stroke="#fbee98" stroke-width="0.6" opacity="0.14"/>
<line x1="423.5" y1="565.3" x2="432.2" y2="565.3" stroke="#a2cc58" stroke-width="0.6" opacity="0.18"/>
<line x1="432.2" y1="565.3" x2="541.8" y2="565.3" stroke="#f0853a" stroke-width="0.6" opacity="0.43"/>
<path d="M432.2 565.5M432.2 565.5L432.8 565.4L433.3 565.5M433.9 565.5M434.4 565.5M435.0 565.5M435.5 565.5M436.1 565.5M436.6 565.5M437.2 565.5M437.7 565.5M438.3 565.5M438.8 565.5M439.4 565.5M439.9 565.5M440.5 565.5M441.0 565.5M441.6 565.5M442.1 565.5M442.7 565.5M443.2 565.5L443.8 565.4L444.3 565.5M444.9 565.5M445.4 565.5M446.0 565.5M446.5 565.5M447.1 565.5L447.6 565.3L448.2 565.5L448.7 565.2L449.3 565.5M449.8 565.5M450.4 565.5M450.9 565.5M451.5 565.5M452.0 565.5M452.6 565.5M453.1 565.5M453.7 565.5M454.2 565.5M454.8 565.5L455.3 565.2L455.9 565.5M456.4 565.5M457.0 565.5M457.5 565.5M458.1 565.5M458.6 565.5M459.2 565.5M459.7 565.5M460.3 565.5M460.8 565.5M461.4 565.5M461.9 565.5M462.5 565.5M463.0 565.5M463.6 565.5M464.1 565.5M464.7 565.5M465.2 565.5M465.8 565.5M466.3 565.5L466.9 565.2L467.4 565.5L468.0 565.2L468.5 565.5M469.1 565.5M469.7 565.5M470.2 565.5M470.8 565.5M471.3 565.5M471.9 565.5M472.4 565.5M473.0 565.5M473.5 565.5M474.1 565.5M474.6 565.5M475.2 565.5M475.7 565.5M476.3 565.5M476.8 565.5M477.4 565.5L477.9 565.4L478.5 565.5L479.0 565.3L479.6 565.5M480.1 565.5M480.7 565.5M481.2 565.5M481.8 565.5M482.3 565.5M482.9 565.5L483.4 565.2L484.0 565.5L484.5 565.2L485.1 565.5L485.6 565.4L486.2 565.5M486.7 565.5M487.3 565.5L487.8 565.1L488.4 565.5M488.9 565.5M489.5 565.5M490.0 565.5M490.6 565.5M491.1 565.5M491.7 565.5M492.2 565.5M492.8 565.5L493.3 565.4L493.9 565.5M494.4 565.5M495.0 565.5M495.5 565.5M496.1 565.5L496.6 565.1L497.2 565.5M497.7 565.5M498.3 565.5M498.8 565.5M499.4 565.5L499.9 565.3L500.5 565.5M501.0 565.5M501.6 565.5L502.1 565.4L502.7 565.5M503.2 565.5M503.8 565.5M504.3 565.5M504.9 565.5M505.5 565.5M506.0 565.5M506.6 565.5M507.1 565.5L507.7 565.4L508.2 565.5M508.8 565.5M509.3 565.5L509.9 565.2L510.4 565.5M511.0 565.5M511.5 565.5M512.1 565.5M512.6 565.5M513.2 565.5M513.7 565.5M514.3 565.5M514.8 565.5M515.4 565.5M515.9 565.5M516.5 565.5L517.0 565.2L517.6 565.5M518.1 565.5M518.7 565.5M519.2 565.5M519.8 565.5M520.3 565.5M520.9 565.5M521.4 565.5M522.0 565.5M522.5 565.5L523.1 565.4L523.6 565.5M524.2 565.5M524.7 565.5M525.3 565.5M525.8 565.5M526.4 565.5M526.9 565.5M527.5 565.5L528.0 565.3L528.6 565.5M529.1 565.5M529.7 565.5M530.2 565.5M530.8 565.5M531.3 565.5M531.9 565.5M532.4 565.5M533.0 565.5M533.5 565.5M534.1 565.5M534.6 565.5M535.2 565.5M535.7 565.5M536.3 565.5L536.8 565.3L537.4 565.5M537.9 565.5M538.5 565.5M539.0 565.5M539.6 565.5M540.1 565.5M540.7 565.5M541.2 565.5M541.8 565.5L541.8 565.5Z" fill="#f0853a" stroke="#f0853a" stroke-width="0.25" opacity="0.75"/>
<line x1="541.8" y1="565.3" x2="592.5" y2="565.3" stroke="#98c4de" stroke-width="0.6" opacity="0.32"/>
<path d="M541.8 565.5M541.8 565.5L542.4 565.1L542.9 565.5L543.5 565.1L544.0 565.3L544.6 565.5M545.1 565.5L545.7 565.0L546.2 565.5M546.8 565.5L547.3 565.1L547.9 565.2L548.4 565.5L549.0 565.0L549.5 565.5M550.1 565.5M550.6 565.5M551.2 565.5M551.7 565.5M552.3 565.5M552.8 565.5M553.4 565.5M553.9 565.5M554.5 565.5M555.0 565.5L555.6 565.3L556.1 565.5M556.7 565.5M557.2 565.5L557.8 564.9L558.3 565.5M558.9 565.5M559.4 565.5M560.0 565.5M560.5 565.5M561.1 565.5M561.6 565.5M562.2 565.5M562.7 565.5M563.3 565.5L563.8 564.9L564.4 565.5L564.9 564.9L565.5 565.3L566.0 565.5M566.6 565.5M567.1 565.5L567.7 565.1L568.3 565.5M568.8 565.5M569.4 565.5M569.9 565.5L570.5 565.0L571.0 565.5M571.6 565.5M572.1 565.5M572.7 565.5M573.2 565.5M573.8 565.5M574.3 565.5M574.9 565.5M575.4 565.5M576.0 565.5M576.5 565.5M577.1 565.5M577.6 565.5M578.2 565.5M578.7 565.5M579.3 565.5M579.8 565.5M580.4 565.5M580.9 565.5M581.5 565.5L582.0 565.2L582.6 565.5M583.1 565.5M583.7 565.5L584.2 565.0L584.8 565.5M585.3 565.5M585.9 565.5L586.4 564.9L587.0 565.1L587.5 565.5L588.1 565.2L588.6 565.2L589.2 565.5M589.7 565.5M590.3 565.5L590.8 565.2L591.4 565.5L591.9 565.0L592.5 565.5L592.5 565.5Z" fill="#98c4de" stroke="#98c4de" stroke-width="0.25" opacity="0.75"/>
<line x1="592.5" y1="565.3" x2="629.2" y2="565.3" stroke="#dcc4ca" stroke-width="0.6" opacity="0.58"/>
<path d="M592.5 565.5L592.5 563.3L593.1 565.5M593.6 565.5M594.2 565.5M594.7 565.5L595.3 564.4L595.8 563.6L596.4 565.5M596.9 565.5L597.5 564.7L598.1 565.5L598.6 564.0L599.2 565.5L599.7 564.5L600.3 565.5L600.8 564.2L601.4 564.7L602.0 563.2L602.5 564.2L603.1 563.7L603.6 565.5L604.2 564.0L604.7 565.5L605.3 563.3L605.8 563.4L606.4 563.7L607.0 564.7L607.5 565.5L608.1 564.0L608.6 564.5L609.2 564.7L609.7 564.7L610.3 565.5M610.9 565.5L611.4 564.6L612.0 564.6L612.5 564.1L613.1 564.5L613.6 564.7L614.2 565.5L614.7 564.3L615.3 565.5M615.9 565.5M616.4 565.5L617.0 564.6L617.5 564.0L618.1 563.7L618.6 563.5L619.2 563.9L619.7 564.7L620.3 565.5L620.9 564.7L621.4 564.7L622.0 563.5L622.5 564.6L623.1 564.6L623.6 564.3L624.2 564.2L624.8 564.2L625.3 565.5L625.9 563.7L626.4 564.4L627.0 564.0L627.5 563.8L628.1 565.5L628.6 564.0L629.2 563.7L629.2 565.5Z" fill="#dcc4ca" stroke="#dcc4ca" stroke-width="0.25" opacity="1"/>
<line x1="629.2" y1="565.3" x2="645.4" y2="565.3" stroke="#b9aad0" stroke-width="0.6" opacity="0.72"/>
<path d="M629.2 565.5L629.2 564.0L629.8 563.9L630.3 564.0L630.9 563.0L631.4 564.0L632.0 563.8L632.6 563.2L633.1 562.8L633.7 562.0L634.2 563.7L634.8 563.0L635.3 561.8L635.9 563.6L636.5 564.0L637.0 563.6L637.6 563.7L638.1 562.2L638.7 563.8L639.3 562.9L639.8 561.4L640.4 562.6L640.9 563.5L641.5 562.5L642.0 563.7L642.6 563.5L643.2 561.9L643.7 561.6L644.3 561.4L644.8 564.0L645.4 561.5L645.4 565.5Z" fill="#b9aad0" stroke="#b9aad0" stroke-width="0.25" opacity="1"/>
<line x1="645.4" y1="565.3" x2="648.1" y2="565.3" stroke="#e2d8f2" stroke-width="0.6" opacity="0.29"/>
<path d="M645.4 565.5M645.4 565.5L646.1 565.1L646.8 565.5L647.4 565.3L648.1 565.3L648.1 565.5Z" fill="#e2d8f2" stroke="#e2d8f2" stroke-width="0.25" opacity="0.75"/>
<line x1="648.1" y1="565.3" x2="673.1" y2="565.3" stroke="#d6ccd0" stroke-width="0.6" opacity="0.29"/>
<path d="M648.1 565.5M648.1 565.5M648.7 565.5L649.2 565.3L649.8 565.3L650.3 565.0L650.9 565.5M651.4 565.5M652.0 565.5M652.5 565.5M653.1 565.5M653.7 565.5M654.2 565.5M654.8 565.5M655.3 565.5M655.9 565.5M656.4 565.5M657.0 565.5L657.5 565.3L658.1 565.5L658.7 565.0L659.2 565.5M659.8 565.5M660.3 565.5M660.9 565.5M661.4 565.5L662.0 565.2L662.5 565.5M663.1 565.5L663.7 565.1L664.2 565.5M664.8 565.5M665.3 565.5M665.9 565.5M666.4 565.5M667.0 565.5M667.5 565.5M668.1 565.5L668.7 565.3L669.2 565.2L669.8 565.5M670.3 565.5M670.9 565.5L671.4 565.2L672.0 565.5L672.5 564.9L673.1 565.5L673.1 565.5Z" fill="#d6ccd0" stroke="#d6ccd0" stroke-width="0.25" opacity="0.75"/>
<line x1="673.1" y1="565.3" x2="680.0" y2="565.3" stroke="#4fb08e" stroke-width="0.6" opacity="0.29"/>
<path d="M673.1 565.5L673.1 565.2L673.7 565.5M674.2 565.5L674.8 565.2L675.4 565.1L676.0 565.5L676.5 565.3L677.1 565.5M677.7 565.5M678.3 565.5M678.9 565.5M679.4 565.5M680.0 565.5L680.0 565.5Z" fill="#4fb08e" stroke="#4fb08e" stroke-width="0.25" opacity="0.75"/>
<line x1="351.0" y1="572.5" x2="410.4" y2="572.5" stroke="#fad75c" stroke-width="0.6" opacity="0.25"/>
<line x1="410.4" y1="572.5" x2="423.5" y2="572.5" stroke="#fbee98" stroke-width="0.6" opacity="0.14"/>
<line x1="423.5" y1="572.5" x2="432.2" y2="572.5" stroke="#a2cc58" stroke-width="0.6" opacity="0.18"/>
<line x1="432.2" y1="572.5" x2="541.8" y2="572.5" stroke="#f0853a" stroke-width="0.6" opacity="0.43"/>
<path d="M432.2 572.7M432.2 572.7M432.8 572.7M433.3 572.7M433.9 572.7M434.4 572.7M435.0 572.7M435.5 572.7M436.1 572.7M436.6 572.7M437.2 572.7M437.7 572.7M438.3 572.7M438.8 572.7M439.4 572.7M439.9 572.7M440.5 572.7M441.0 572.7M441.6 572.7M442.1 572.7M442.7 572.7M443.2 572.7M443.8 572.7M444.3 572.7M444.9 572.7M445.4 572.7L446.0 572.5L446.5 572.4L447.1 572.7M447.6 572.7M448.2 572.7M448.7 572.7M449.3 572.7M449.8 572.7M450.4 572.7M450.9 572.7M451.5 572.7M452.0 572.7L452.6 572.5L453.1 572.7M453.7 572.7M454.2 572.7L454.8 572.3L455.3 572.7L455.9 572.5L456.4 572.7M457.0 572.7M457.5 572.7M458.1 572.7M458.6 572.7M459.2 572.7M459.7 572.7M460.3 572.7M460.8 572.7M461.4 572.7M461.9 572.7M462.5 572.7L463.0 572.5L463.6 572.2L464.1 572.7M464.7 572.7M465.2 572.7M465.8 572.7L466.3 572.2L466.9 572.7M467.4 572.7L468.0 572.2L468.5 572.7M469.1 572.7M469.7 572.7M470.2 572.7M470.8 572.7L471.3 572.5L471.9 572.7M472.4 572.7M473.0 572.7M473.5 572.7M474.1 572.7M474.6 572.7M475.2 572.7M475.7 572.7M476.3 572.7M476.8 572.7M477.4 572.7M477.9 572.7M478.5 572.7M479.0 572.7M479.6 572.7M480.1 572.7M480.7 572.7M481.2 572.7M481.8 572.7L482.3 572.5L482.9 572.5L483.4 572.7M484.0 572.7M484.5 572.7M485.1 572.7L485.6 572.5L486.2 572.5L486.7 572.7M487.3 572.7M487.8 572.7M488.4 572.7M488.9 572.7M489.5 572.7M490.0 572.7L490.6 572.5L491.1 572.7M491.7 572.7M492.2 572.7M492.8 572.7M493.3 572.7M493.9 572.7M494.4 572.7M495.0 572.7L495.5 572.3L496.1 572.7M496.6 572.7M497.2 572.7M497.7 572.7M498.3 572.7M498.8 572.7M499.4 572.7M499.9 572.7M500.5 572.7M501.0 572.7L501.6 572.4L502.1 572.7M502.7 572.7M503.2 572.7M503.8 572.7L504.3 572.2L504.9 572.7M505.5 572.7M506.0 572.7M506.6 572.7L507.1 572.4L507.7 572.7L508.2 572.5L508.8 572.7M509.3 572.7M509.9 572.7M510.4 572.7M511.0 572.7M511.5 572.7M512.1 572.7M512.6 572.7M513.2 572.7M513.7 572.7M514.3 572.7M514.8 572.7M515.4 572.7L515.9 572.3L516.5 572.7M517.0 572.7M517.6 572.7M518.1 572.7M518.7 572.7M519.2 572.7M519.8 572.7M520.3 572.7M520.9 572.7M521.4 572.7M522.0 572.7M522.5 572.7M523.1 572.7M523.6 572.7M524.2 572.7M524.7 572.7M525.3 572.7M525.8 572.7M526.4 572.7M526.9 572.7M527.5 572.7M528.0 572.7M528.6 572.7M529.1 572.7L529.7 572.4L530.2 572.7M530.8 572.7M531.3 572.7M531.9 572.7M532.4 572.7M533.0 572.7M533.5 572.7M534.1 572.7L534.6 572.5L535.2 572.7M535.7 572.7M536.3 572.7M536.8 572.7M537.4 572.7M537.9 572.7M538.5 572.7M539.0 572.7M539.6 572.7M540.1 572.7M540.7 572.7M541.2 572.7M541.8 572.7L541.8 572.7Z" fill="#f0853a" stroke="#f0853a" stroke-width="0.25" opacity="0.75"/>
<line x1="541.8" y1="572.5" x2="592.5" y2="572.5" stroke="#98c4de" stroke-width="0.6" opacity="0.22"/>
<line x1="592.5" y1="572.5" x2="629.2" y2="572.5" stroke="#dcc4ca" stroke-width="0.6" opacity="0.58"/>
<path d="M592.5 572.7L592.5 570.7L593.1 571.6L593.6 571.4L594.2 572.7M594.7 572.7M595.3 572.7L595.8 571.8L596.4 571.7L596.9 572.7L597.5 571.6L598.1 572.7L598.6 571.8L599.2 570.7L599.7 572.7M600.3 572.7L600.8 571.7L601.4 571.1L602.0 571.0L602.5 571.5L603.1 571.6L603.6 572.7L604.2 571.7L604.7 572.7M605.3 572.7L605.8 571.1L606.4 571.3L607.0 571.8L607.5 571.8L608.1 572.7M608.6 572.7L609.2 571.8L609.7 571.7L610.3 572.7M610.9 572.7L611.4 571.8L612.0 571.8L612.5 572.7L613.1 571.8L613.6 571.8L614.2 571.0L614.7 571.4L615.3 571.0L615.9 571.8L616.4 571.7L617.0 571.8L617.5 572.7L618.1 571.3L618.6 571.6L619.2 571.1L619.7 571.8L620.3 571.7L620.9 571.8L621.4 571.8L622.0 571.8L622.5 572.7M623.1 572.7M623.6 572.7L624.2 571.4L624.8 571.7L625.3 570.8L625.9 571.7L626.4 572.7L627.0 571.8L627.5 571.8L628.1 572.7L628.6 570.5L629.2 571.8L629.2 572.7Z" fill="#dcc4ca" stroke="#dcc4ca" stroke-width="0.25" opacity="1"/>
<line x1="629.2" y1="572.5" x2="645.4" y2="572.5" stroke="#b9aad0" stroke-width="0.6" opacity="0.72"/>
<path d="M629.2 572.7L629.2 572.1L629.8 571.7L630.3 572.1L630.9 571.4L631.4 571.6L632.0 571.7L632.6 572.2L633.1 571.8L633.7 572.2L634.2 572.2L634.8 572.0L635.3 571.5L635.9 572.2L636.5 572.2L637.0 571.7L637.6 571.9L638.1 571.8L638.7 572.2L639.3 572.0L639.8 572.2L640.4 572.2L640.9 572.0L641.5 572.2L642.0 571.9L642.6 572.0L643.2 572.1L643.7 572.2L644.3 572.2L644.8 572.0L645.4 572.0L645.4 572.7Z" fill="#b9aad0" stroke="#b9aad0" stroke-width="0.25" opacity="1"/>
<line x1="645.4" y1="572.5" x2="648.1" y2="572.5" stroke="#e2d8f2" stroke-width="0.6" opacity="0.29"/>
<path d="M645.4 572.7M645.4 572.7M646.1 572.7M646.8 572.7L647.4 572.2L648.1 572.7L648.1 572.7Z" fill="#e2d8f2" stroke="#e2d8f2" stroke-width="0.25" opacity="0.75"/>
<line x1="648.1" y1="572.5" x2="673.1" y2="572.5" stroke="#d6ccd0" stroke-width="0.6" opacity="0.14"/>
<line x1="673.1" y1="572.5" x2="680.0" y2="572.5" stroke="#4fb08e" stroke-width="0.6" opacity="0.29"/>
<path d="M673.1 572.7L673.1 572.3L673.7 572.7M674.2 572.7L674.8 572.3L675.4 572.7M676.0 572.7L676.5 572.4L677.1 572.7M677.7 572.7L678.3 572.3L678.9 572.5L679.4 572.7M680.0 572.7L680.0 572.7Z" fill="#4fb08e" stroke="#4fb08e" stroke-width="0.25" opacity="0.75"/>
<line x1="351.0" y1="579.6" x2="410.4" y2="579.6" stroke="#fad75c" stroke-width="0.6" opacity="0.25"/>
<line x1="410.4" y1="579.6" x2="423.5" y2="579.6" stroke="#fbee98" stroke-width="0.6" opacity="0.14"/>
<line x1="423.5" y1="579.6" x2="432.2" y2="579.6" stroke="#a2cc58" stroke-width="0.6" opacity="0.18"/>
<line x1="432.2" y1="579.6" x2="541.8" y2="579.6" stroke="#f0853a" stroke-width="0.6" opacity="0.43"/>
<path d="M432.2 579.8M432.2 579.8M432.8 579.8M433.3 579.8M433.9 579.8M434.4 579.8M435.0 579.8M435.5 579.8M436.1 579.8L436.6 579.6L437.2 579.8M437.7 579.8M438.3 579.8M438.8 579.8M439.4 579.8M439.9 579.8M440.5 579.8M441.0 579.8M441.6 579.8M442.1 579.8M442.7 579.8M443.2 579.8L443.8 579.6L444.3 579.8M444.9 579.8M445.4 579.8M446.0 579.8M446.5 579.8M447.1 579.8M447.6 579.8M448.2 579.8M448.7 579.8M449.3 579.8M449.8 579.8M450.4 579.8M450.9 579.8M451.5 579.8M452.0 579.8M452.6 579.8M453.1 579.8M453.7 579.8M454.2 579.8L454.8 579.6L455.3 579.8M455.9 579.8M456.4 579.8M457.0 579.8M457.5 579.8M458.1 579.8M458.6 579.8M459.2 579.8M459.7 579.8M460.3 579.8M460.8 579.8M461.4 579.8M461.9 579.8L462.5 579.5L463.0 579.8M463.6 579.8M464.1 579.8M464.7 579.8M465.2 579.8M465.8 579.8M466.3 579.8M466.9 579.8M467.4 579.8M468.0 579.8M468.5 579.8M469.1 579.8L469.7 579.6L470.2 579.8M470.8 579.8M471.3 579.8M471.9 579.8M472.4 579.8L473.0 579.5L473.5 579.8M474.1 579.8M474.6 579.8M475.2 579.8M475.7 579.8M476.3 579.8L476.8 579.5L477.4 579.8M477.9 579.8M478.5 579.8L479.0 579.7L479.6 579.8M480.1 579.8M480.7 579.8M481.2 579.8M481.8 579.8M482.3 579.8M482.9 579.8M483.4 579.8L484.0 579.6L484.5 579.8M485.1 579.8M485.6 579.8M486.2 579.8M486.7 579.8L487.3 579.5L487.8 579.5L488.4 579.8M488.9 579.8M489.5 579.8M490.0 579.8M490.6 579.8M491.1 579.8M491.7 579.8M492.2 579.8M492.8 579.8M493.3 579.8M493.9 579.8M494.4 579.8M495.0 579.8M495.5 579.8L496.1 579.7L496.6 579.8M497.2 579.8M497.7 579.8L498.3 579.6L498.8 579.8M499.4 579.8L499.9 579.6L500.5 579.6L501.0 579.8M501.6 579.8M502.1 579.8M502.7 579.8M503.2 579.8M503.8 579.8M504.3 579.8M504.9 579.8M505.5 579.8M506.0 579.8M506.6 579.8M507.1 579.8L507.7 579.4L508.2 579.8M508.8 579.8M509.3 579.8M509.9 579.8M510.4 579.8M511.0 579.8M511.5 579.8M512.1 579.8M512.6 579.8M513.2 579.8L513.7 579.5L514.3 579.8M514.8 579.8M515.4 579.8M515.9 579.8M516.5 579.8L517.0 579.5L517.6 579.4L518.1 579.7L518.7 579.8M519.2 579.8M519.8 579.8M520.3 579.8M520.9 579.8M521.4 579.8M522.0 579.8M522.5 579.8M523.1 579.8M523.6 579.8M524.2 579.8M524.7 579.8M525.3 579.8M525.8 579.8M526.4 579.8M526.9 579.8L527.5 579.5L528.0 579.8M528.6 579.8M529.1 579.8M529.7 579.8M530.2 579.8M530.8 579.8M531.3 579.8M531.9 579.8M532.4 579.8M533.0 579.8M533.5 579.8M534.1 579.8M534.6 579.8M535.2 579.8L535.7 579.4L536.3 579.8M536.8 579.8M537.4 579.8M537.9 579.8M538.5 579.8M539.0 579.8M539.6 579.8M540.1 579.8M540.7 579.8M541.2 579.8M541.8 579.8L541.8 579.8Z" fill="#f0853a" stroke="#f0853a" stroke-width="0.25" opacity="0.75"/>
<line x1="541.8" y1="579.6" x2="592.5" y2="579.6" stroke="#98c4de" stroke-width="0.6" opacity="0.32"/>
<path d="M541.8 579.8M541.8 579.8L542.4 579.5L542.9 579.8M543.5 579.8L544.0 579.2L544.6 579.4L545.1 579.8M545.7 579.8M546.2 579.8L546.8 579.0L547.3 579.8M547.9 579.8M548.4 579.8L549.0 579.4L549.5 579.2L550.1 579.8M550.6 579.8M551.2 579.8M551.7 579.8M552.3 579.8M552.8 579.8M553.4 579.8M553.9 579.8M554.5 579.8L555.0 579.3L555.6 579.8M556.1 579.8M556.7 579.8M557.2 579.8M557.8 579.8M558.3 579.8L558.9 579.5L559.4 579.8L560.0 579.5L560.5 579.8M561.1 579.8L561.6 579.2L562.2 579.8M562.7 579.8M563.3 579.8M563.8 579.8L564.4 579.5L564.9 579.8M565.5 579.8M566.0 579.8M566.6 579.8L567.1 579.1L567.7 579.5L568.3 579.8M568.8 579.8M569.4 579.8M569.9 579.8M570.5 579.8M571.0 579.8M571.6 579.8M572.1 579.8M572.7 579.8L573.2 579.1L573.8 579.8L574.3 579.4L574.9 579.8M575.4 579.8L576.0 579.6L576.5 579.8L577.1 579.0L577.6 579.4L578.2 579.8M578.7 579.8M579.3 579.8L579.8 579.3L580.4 579.8M580.9 579.8M581.5 579.8M582.0 579.8L582.6 579.3L583.1 579.8M583.7 579.8M584.2 579.8M584.8 579.8M585.3 579.8M585.9 579.8L586.4 579.5L587.0 579.0L587.5 579.6L588.1 579.4L588.6 579.8L589.2 579.5L589.7 579.3L590.3 579.8M590.8 579.8M591.4 579.8M591.9 579.8M592.5 579.8L592.5 579.8Z" fill="#98c4de" stroke="#98c4de" stroke-width="0.25" opacity="0.75"/>
<line x1="592.5" y1="579.6" x2="629.2" y2="579.6" stroke="#dcc4ca" stroke-width="0.6" opacity="0.58"/>
<path d="M592.5 579.8M592.5 579.8M593.1 579.8L593.6 579.0L594.2 578.8L594.7 579.8L595.3 578.2L595.8 579.2L596.4 579.1L596.9 579.2L597.5 579.8L598.1 579.1L598.6 578.9L599.2 578.8L599.7 579.8L600.3 579.0L600.8 578.8L601.4 579.2L602.0 578.5L602.5 579.8L603.1 578.2L603.6 578.4L604.2 578.9L604.7 578.7L605.3 578.9L605.8 579.0L606.4 578.0L607.0 579.1L607.5 579.2L608.1 579.1L608.6 579.8L609.2 579.0L609.7 579.8L610.3 578.3L610.9 579.0L611.4 579.8M612.0 579.8L612.5 578.3L613.1 579.2L613.6 579.8L614.2 578.8L614.7 578.3L615.3 578.4L615.9 579.1L616.4 579.8L617.0 579.0L617.5 579.1L618.1 578.8L618.6 579.8M619.2 579.8L619.7 578.1L620.3 578.3L620.9 578.0L621.4 579.8L622.0 578.2L622.5 579.8M623.1 579.8L623.6 579.1L624.2 579.8L624.8 579.1L625.3 579.1L625.9 579.8L626.4 578.0L627.0 579.0L627.5 578.4L628.1 579.8M628.6 579.8M629.2 579.8L629.2 579.8Z" fill="#dcc4ca" stroke="#dcc4ca" stroke-width="0.25" opacity="1"/>
<line x1="629.2" y1="579.6" x2="645.4" y2="579.6" stroke="#b9aad0" stroke-width="0.6" opacity="0.72"/>
<path d="M629.2 579.8L629.2 576.7L629.8 578.0L630.3 576.5L630.9 575.8L631.4 576.2L632.0 577.0L632.6 578.3L633.1 577.2L633.7 578.3L634.2 578.1L634.8 577.4L635.3 577.3L635.9 578.3L636.5 577.9L637.0 575.7L637.6 578.1L638.1 575.6L638.7 576.2L639.3 577.9L639.8 576.3L640.4 576.7L640.9 578.2L641.5 575.5L642.0 577.5L642.6 576.3L643.2 576.5L643.7 578.0L644.3 576.3L644.8 577.0L645.4 578.2L645.4 579.8Z" fill="#b9aad0" stroke="#b9aad0" stroke-width="0.25" opacity="1"/>
<line x1="645.4" y1="579.6" x2="648.1" y2="579.6" stroke="#e2d8f2" stroke-width="0.6" opacity="0.29"/>
<path d="M645.4 579.8M645.4 579.8L646.1 579.3L646.8 579.8L647.4 579.6L648.1 579.8L648.1 579.8Z" fill="#e2d8f2" stroke="#e2d8f2" stroke-width="0.25" opacity="0.75"/>
<line x1="648.1" y1="579.6" x2="673.1" y2="579.6" stroke="#d6ccd0" stroke-width="0.6" opacity="0.11"/>
<line x1="673.1" y1="579.6" x2="680.0" y2="579.6" stroke="#4fb08e" stroke-width="0.6" opacity="0.29"/>
<path d="M673.1 579.8L673.1 579.6L673.7 579.8M674.2 579.8L674.8 579.5L675.4 579.8M676.0 579.8M676.5 579.8M677.1 579.8M677.7 579.8M678.3 579.8M678.9 579.8M679.4 579.8M680.0 579.8L680.0 579.8Z" fill="#4fb08e" stroke="#4fb08e" stroke-width="0.25" opacity="0.75"/>
<line x1="541.8" y1="586.8" x2="592.5" y2="586.8" stroke="#98c4de" stroke-width="0.6" opacity="0.11"/>
<path d="M541.8 587.0M541.8 587.0M542.4 587.0M542.9 587.0L543.5 586.3L544.0 587.0M544.6 587.0M545.1 587.0M545.7 587.0M546.2 587.0M546.8 587.0M547.3 587.0M547.9 587.0M548.4 587.0M549.0 587.0M549.5 587.0M550.1 587.0M550.6 587.0M551.2 587.0M551.7 587.0M552.3 587.0L552.8 586.5L553.4 586.2L553.9 586.2L554.5 587.0M555.0 587.0M555.6 587.0M556.1 587.0M556.7 587.0M557.2 587.0M557.8 587.0M558.3 587.0M558.9 587.0L559.4 586.5L560.0 587.0M560.5 587.0M561.1 587.0M561.6 587.0M562.2 587.0M562.7 587.0M563.3 587.0M563.8 587.0M564.4 587.0M564.9 587.0M565.5 587.0M566.0 587.0M566.6 587.0M567.1 587.0M567.7 587.0M568.3 587.0M568.8 587.0M569.4 587.0L569.9 586.4L570.5 587.0M571.0 587.0M571.6 587.0L572.1 586.6L572.7 587.0M573.2 587.0M573.8 587.0M574.3 587.0M574.9 587.0M575.4 587.0M576.0 587.0M576.5 587.0L577.1 586.5L577.6 587.0M578.2 587.0M578.7 587.0M579.3 587.0M579.8 587.0M580.4 587.0M580.9 587.0L581.5 586.7L582.0 587.0M582.6 587.0M583.1 587.0M583.7 587.0M584.2 587.0M584.8 587.0M585.3 587.0M585.9 587.0L586.4 586.2L587.0 587.0M587.5 587.0M588.1 587.0M588.6 587.0L589.2 586.1L589.7 587.0L590.3 586.5L590.8 587.0M591.4 587.0M591.9 587.0M592.5 587.0L592.5 587.0Z" fill="#98c4de" stroke="#98c4de" stroke-width="0.25" opacity="0.75"/>
<line x1="592.5" y1="586.8" x2="629.2" y2="586.8" stroke="#dcc4ca" stroke-width="0.6" opacity="0.11"/>
<path d="M592.5 587.0M592.5 587.0M593.1 587.0M593.6 587.0M594.2 587.0M594.7 587.0L595.3 586.6L595.8 586.4L596.4 587.0M596.9 587.0M597.5 587.0M598.1 587.0M598.6 587.0M599.2 587.0M599.7 587.0M600.3 587.0M600.8 587.0M601.4 587.0M602.0 587.0M602.5 587.0M603.1 587.0M603.6 587.0M604.2 587.0M604.7 587.0M605.3 587.0M605.8 587.0M606.4 587.0M607.0 587.0M607.5 587.0L608.1 586.2L608.6 587.0M609.2 587.0M609.7 587.0L610.3 586.0L610.9 587.0M611.4 587.0M612.0 587.0M612.5 587.0M613.1 587.0M613.6 587.0M614.2 587.0M614.7 587.0M615.3 587.0M615.9 587.0M616.4 587.0M617.0 587.0M617.5 587.0L618.1 586.4L618.6 587.0M619.2 587.0M619.7 587.0L620.3 586.4L620.9 587.0L621.4 586.5L622.0 587.0L622.5 586.3L623.1 586.3L623.6 587.0M624.2 587.0M624.8 587.0M625.3 587.0M625.9 587.0M626.4 587.0M627.0 587.0M627.5 587.0M628.1 587.0M628.6 587.0M629.2 587.0L629.2 587.0Z" fill="#dcc4ca" stroke="#dcc4ca" stroke-width="0.25" opacity="0.75"/>
<line x1="629.2" y1="586.8" x2="645.4" y2="586.8" stroke="#b9aad0" stroke-width="0.6" opacity="0.58"/>
<path d="M629.2 587.0L629.2 585.8L629.8 584.6L630.3 587.0L630.9 585.5L631.4 585.9L632.0 585.4L632.6 585.8L633.1 584.2L633.7 585.6L634.2 585.1L634.8 585.4L635.3 585.9L635.9 585.3L636.5 586.0L637.0 584.3L637.6 584.3L638.1 585.7L638.7 586.0L639.3 586.0L639.8 585.2L640.4 585.6L640.9 585.8L641.5 584.2L642.0 585.8L642.6 585.6L643.2 585.4L643.7 587.0L644.3 585.8L644.8 584.3L645.4 586.0L645.4 587.0Z" fill="#b9aad0" stroke="#b9aad0" stroke-width="0.25" opacity="1"/>
<line x1="648.1" y1="586.8" x2="673.1" y2="586.8" stroke="#d6ccd0" stroke-width="0.6" opacity="0.36"/>
<path d="M648.1 587.0L648.1 586.3L648.7 587.0M649.2 587.0M649.8 587.0M650.3 587.0L650.9 585.6L651.4 586.2L652.0 585.1L652.5 587.0M653.1 587.0M653.7 587.0M654.2 587.0M654.8 587.0M655.3 587.0L655.9 586.2L656.4 587.0L657.0 586.3L657.5 587.0M658.1 587.0M658.7 587.0M659.2 587.0L659.8 586.1L660.3 586.2L660.9 587.0M661.4 587.0L662.0 585.6L662.5 587.0M663.1 587.0M663.7 587.0M664.2 587.0M664.8 587.0L665.3 585.9L665.9 585.7L666.4 586.0L667.0 585.2L667.5 585.9L668.1 585.0L668.7 587.0M669.2 587.0M669.8 587.0M670.3 587.0M670.9 587.0L671.4 585.8L672.0 587.0L672.5 585.7L673.1 587.0L673.1 587.0Z" fill="#d6ccd0" stroke="#d6ccd0" stroke-width="0.25" opacity="0.75"/>
<line x1="673.1" y1="586.8" x2="680.0" y2="586.8" stroke="#4fb08e" stroke-width="0.6" opacity="0.22"/>
<path d="M673.1 587.0M673.1 587.0L673.7 586.5L674.2 586.6L674.8 587.0L675.4 586.2L676.0 587.0M676.5 587.0L677.1 586.7L677.7 586.5L678.3 587.0L678.9 586.1L679.4 587.0M680.0 587.0L680.0 587.0Z" fill="#4fb08e" stroke="#4fb08e" stroke-width="0.25" opacity="0.75"/>
<line x1="541.8" y1="593.9" x2="592.5" y2="593.9" stroke="#98c4de" stroke-width="0.6" opacity="0.04"/>
<path d="M541.8 594.1M541.8 594.1M542.4 594.1L542.9 593.6L543.5 594.1M544.0 594.1M544.6 594.1M545.1 594.1M545.7 594.1M546.2 594.1M546.8 594.1L547.3 593.9L547.9 594.1M548.4 594.1L549.0 593.6L549.5 594.1M550.1 594.1M550.6 594.1M551.2 594.1M551.7 594.1M552.3 594.1M552.8 594.1L553.4 593.5L553.9 594.1M554.5 594.1L555.0 593.9L555.6 594.1M556.1 594.1L556.7 593.6L557.2 594.1M557.8 594.1M558.3 594.1L558.9 593.9L559.4 594.1M560.0 594.1M560.5 594.1M561.1 594.1M561.6 594.1M562.2 594.1M562.7 594.1L563.3 593.9L563.8 594.1M564.4 594.1M564.9 594.1M565.5 594.1M566.0 594.1M566.6 594.1M567.1 594.1M567.7 594.1M568.3 594.1M568.8 594.1M569.4 594.1M569.9 594.1M570.5 594.1M571.0 594.1M571.6 594.1M572.1 594.1M572.7 594.1M573.2 594.1M573.8 594.1M574.3 594.1M574.9 594.1M575.4 594.1M576.0 594.1M576.5 594.1M577.1 594.1M577.6 594.1M578.2 594.1M578.7 594.1M579.3 594.1M579.8 594.1M580.4 594.1M580.9 594.1M581.5 594.1M582.0 594.1M582.6 594.1M583.1 594.1M583.7 594.1M584.2 594.1M584.8 594.1M585.3 594.1M585.9 594.1M586.4 594.1M587.0 594.1M587.5 594.1M588.1 594.1M588.6 594.1M589.2 594.1M589.7 594.1M590.3 594.1M590.8 594.1M591.4 594.1M591.9 594.1M592.5 594.1L592.5 594.1Z" fill="#98c4de" stroke="#98c4de" stroke-width="0.25" opacity="0.75"/>
<line x1="592.5" y1="593.9" x2="629.2" y2="593.9" stroke="#dcc4ca" stroke-width="0.6" opacity="0.11"/>
<path d="M592.5 594.1M592.5 594.1M593.1 594.1M593.6 594.1M594.2 594.1M594.7 594.1L595.3 593.5L595.8 593.2L596.4 594.1L596.9 593.8L597.5 594.1M598.1 594.1M598.6 594.1M599.2 594.1M599.7 594.1M600.3 594.1M600.8 594.1M601.4 594.1M602.0 594.1M602.5 594.1L603.1 593.7L603.6 593.8L604.2 593.5L604.7 594.1M605.3 594.1L605.8 593.7L606.4 594.1M607.0 594.1L607.5 593.2L608.1 593.4L608.6 594.1M609.2 594.1M609.7 594.1L610.3 593.2L610.9 594.1L611.4 593.8L612.0 594.1M612.5 594.1M613.1 594.1M613.6 594.1M614.2 594.1L614.7 593.8L615.3 594.1M615.9 594.1L616.4 593.5L617.0 594.1M617.5 594.1M618.1 594.1M618.6 594.1M619.2 594.1M619.7 594.1M620.3 594.1M620.9 594.1M621.4 594.1M622.0 594.1M622.5 594.1M623.1 594.1M623.6 594.1L624.2 593.6L624.8 594.1L625.3 593.5L625.9 593.2L626.4 594.1M627.0 594.1M627.5 594.1L628.1 593.3L628.6 593.6L629.2 594.1L629.2 594.1Z" fill="#dcc4ca" stroke="#dcc4ca" stroke-width="0.25" opacity="0.75"/>
<line x1="629.2" y1="593.9" x2="645.4" y2="593.9" stroke="#b9aad0" stroke-width="0.6" opacity="0.58"/>
<path d="M629.2 594.1L629.2 593.1L629.8 591.9L630.3 591.5L630.9 592.9L631.4 592.8L632.0 592.9L632.6 592.9L633.1 593.1L633.7 593.1L634.2 591.8L634.8 592.5L635.3 594.1L635.9 592.1L636.5 592.5L637.0 593.1L637.6 592.4L638.1 591.9L638.7 592.5L639.3 593.1L639.8 593.1L640.4 592.7L640.9 592.8L641.5 592.9L642.0 593.0L642.6 592.6L643.2 592.9L643.7 593.1L644.3 592.8L644.8 593.1L645.4 594.1L645.4 594.1Z" fill="#b9aad0" stroke="#b9aad0" stroke-width="0.25" opacity="1"/>
<line x1="648.1" y1="593.9" x2="673.1" y2="593.9" stroke="#d6ccd0" stroke-width="0.6" opacity="0.22"/>
<path d="M648.1 594.1L648.1 592.8L648.7 594.1M649.2 594.1M649.8 594.1M650.3 594.1M650.9 594.1L651.4 593.7L652.0 594.1L652.5 592.9L653.1 592.8L653.7 593.6L654.2 592.9L654.8 592.8L655.3 594.1M655.9 594.1M656.4 594.1M657.0 594.1L657.5 593.7L658.1 594.1M658.7 594.1L659.2 593.4L659.8 594.1M660.3 594.1L660.9 593.3L661.4 594.1M662.0 594.1M662.5 594.1M663.1 594.1M663.7 594.1M664.2 594.1L664.8 593.4L665.3 594.1L665.9 593.4L666.4 593.6L667.0 593.1L667.5 594.1M668.1 594.1M668.7 594.1L669.2 592.8L669.8 594.1M670.3 594.1M670.9 594.1M671.4 594.1M672.0 594.1M672.5 594.1L673.1 593.6L673.1 594.1Z" fill="#d6ccd0" stroke="#d6ccd0" stroke-width="0.25" opacity="0.75"/>
<line x1="673.1" y1="593.9" x2="680.0" y2="593.9" stroke="#4fb08e" stroke-width="0.6" opacity="0.22"/>
<path d="M673.1 594.1L673.1 593.3L673.7 592.3L674.2 594.1M674.8 594.1M675.4 594.1L676.0 592.8L676.5 594.1L677.1 593.0L677.7 594.1L678.3 592.5L678.9 594.1L679.4 592.6L680.0 593.4L680.0 594.1Z" fill="#4fb08e" stroke="#4fb08e" stroke-width="0.25" opacity="0.75"/>
<line x1="541.8" y1="601.1" x2="592.5" y2="601.1" stroke="#98c4de" stroke-width="0.6" opacity="0.04"/>
<path d="M541.8 601.3M541.8 601.3M542.4 601.3M542.9 601.3M543.5 601.3L544.0 601.1L544.6 601.3M545.1 601.3M545.7 601.3L546.2 600.9L546.8 601.3M547.3 601.3L547.9 601.0L548.4 601.3M549.0 601.3M549.5 601.3M550.1 601.3L550.6 601.0L551.2 601.3M551.7 601.3L552.3 600.9L552.8 601.3M553.4 601.3M553.9 601.3M554.5 601.3M555.0 601.3M555.6 601.3M556.1 601.3M556.7 601.3M557.2 601.3M557.8 601.3M558.3 601.3M558.9 601.3M559.4 601.3M560.0 601.3L560.5 600.9L561.1 601.3M561.6 601.3M562.2 601.3M562.7 601.3M563.3 601.3M563.8 601.3L564.4 601.0L564.9 601.3M565.5 601.3M566.0 601.3M566.6 601.3L567.1 601.1L567.7 601.3M568.3 601.3M568.8 601.3M569.4 601.3M569.9 601.3M570.5 601.3M571.0 601.3M571.6 601.3M572.1 601.3M572.7 601.3M573.2 601.3M573.8 601.3M574.3 601.3M574.9 601.3L575.4 601.1L576.0 601.3L576.5 600.9L577.1 601.3L577.6 601.1L578.2 601.3M578.7 601.3M579.3 601.3M579.8 601.3M580.4 601.3M580.9 601.3M581.5 601.3M582.0 601.3M582.6 601.3M583.1 601.3L583.7 601.1L584.2 601.1L584.8 601.3M585.3 601.3M585.9 601.3M586.4 601.3M587.0 601.3M587.5 601.3L588.1 601.1L588.6 601.3M589.2 601.3M589.7 601.3M590.3 601.3M590.8 601.3M591.4 601.3M591.9 601.3M592.5 601.3L592.5 601.3Z" fill="#98c4de" stroke="#98c4de" stroke-width="0.25" opacity="0.75"/>
<line x1="592.5" y1="601.1" x2="629.2" y2="601.1" stroke="#dcc4ca" stroke-width="0.6" opacity="0.11"/>
<path d="M592.5 601.3M592.5 601.3M593.1 601.3M593.6 601.3M594.2 601.3M594.7 601.3M595.3 601.3M595.8 601.3M596.4 601.3L596.9 601.0L597.5 601.3M598.1 601.3M598.6 601.3M599.2 601.3L599.7 600.5L600.3 601.3L600.8 600.5L601.4 600.7L602.0 601.3M602.5 601.3M603.1 601.3M603.6 601.3L604.2 600.9L604.7 601.3M605.3 601.3M605.8 601.3M606.4 601.3M607.0 601.3M607.5 601.3M608.1 601.3M608.6 601.3L609.2 600.7L609.7 600.8L610.3 601.3M610.9 601.3M611.4 601.3M612.0 601.3M612.5 601.3M613.1 601.3M613.6 601.3M614.2 601.3L614.7 600.5L615.3 601.3L615.9 600.9L616.4 601.3M617.0 601.3M617.5 601.3M618.1 601.3L618.6 600.5L619.2 601.3L619.7 600.7L620.3 601.0L620.9 601.3L621.4 600.8L622.0 600.8L622.5 601.3M623.1 601.3M623.6 601.3M624.2 601.3M624.8 601.3M625.3 601.3M625.9 601.3M626.4 601.3L627.0 600.3L627.5 600.3L628.1 600.8L628.6 601.3M629.2 601.3L629.2 601.3Z" fill="#dcc4ca" stroke="#dcc4ca" stroke-width="0.25" opacity="0.75"/>
<line x1="629.2" y1="601.1" x2="645.4" y2="601.1" stroke="#b9aad0" stroke-width="0.6" opacity="0.65"/>
<path d="M629.2 601.3L629.2 598.2L629.8 599.8L630.3 600.0L630.9 599.4L631.4 599.8L632.0 600.1L632.6 599.1L633.1 598.5L633.7 598.1L634.2 599.8L634.8 600.0L635.3 600.0L635.9 600.0L636.5 598.0L637.0 599.6L637.6 599.9L638.1 600.1L638.7 599.4L639.3 601.3L639.8 599.5L640.4 598.7L640.9 599.7L641.5 599.6L642.0 599.0L642.6 600.1L643.2 599.4L643.7 598.1L644.3 599.8L644.8 598.8L645.4 600.1L645.4 601.3Z" fill="#b9aad0" stroke="#b9aad0" stroke-width="0.25" opacity="1"/>
<line x1="648.1" y1="601.1" x2="673.1" y2="601.1" stroke="#d6ccd0" stroke-width="0.6" opacity="0.04"/>
<path d="M648.1 601.3M648.1 601.3L648.7 601.1L649.2 601.3M649.8 601.3M650.3 601.3M650.9 601.3M651.4 601.3M652.0 601.3M652.5 601.3M653.1 601.3M653.7 601.3M654.2 601.3M654.8 601.3M655.3 601.3M655.9 601.3M656.4 601.3M657.0 601.3M657.5 601.3M658.1 601.3M658.7 601.3M659.2 601.3M659.8 601.3M660.3 601.3M660.9 601.3M661.4 601.3L662.0 601.1L662.5 601.3L663.1 601.0L663.7 601.3L664.2 601.1L664.8 601.3M665.3 601.3M665.9 601.3M666.4 601.3M667.0 601.3M667.5 601.3M668.1 601.3M668.7 601.3M669.2 601.3M669.8 601.3M670.3 601.3M670.9 601.3M671.4 601.3M672.0 601.3M672.5 601.3M673.1 601.3L673.1 601.3Z" fill="#d6ccd0" stroke="#d6ccd0" stroke-width="0.25" opacity="0.75"/>
<line x1="541.8" y1="608.2" x2="592.5" y2="608.2" stroke="#98c4de" stroke-width="0.6" opacity="0.07"/>
<path d="M541.8 608.4M541.8 608.4M542.4 608.4M542.9 608.4M543.5 608.4M544.0 608.4M544.6 608.4M545.1 608.4M545.7 608.4M546.2 608.4M546.8 608.4L547.3 608.0L547.9 608.4M548.4 608.4M549.0 608.4L549.5 607.7L550.1 608.1L550.6 608.1L551.2 608.4M551.7 608.4M552.3 608.4M552.8 608.4M553.4 608.4M553.9 608.4M554.5 608.4M555.0 608.4M555.6 608.4M556.1 608.4M556.7 608.4M557.2 608.4M557.8 608.4M558.3 608.4M558.9 608.4M559.4 608.4M560.0 608.4L560.5 607.5L561.1 608.4M561.6 608.4M562.2 608.4M562.7 608.4L563.3 607.6L563.8 608.4L564.4 608.0L564.9 608.4M565.5 608.4M566.0 608.4M566.6 608.4M567.1 608.4M567.7 608.4M568.3 608.4L568.8 607.7L569.4 608.4M569.9 608.4M570.5 608.4M571.0 608.4L571.6 607.8L572.1 608.4M572.7 608.4L573.2 607.7L573.8 608.4M574.3 608.4M574.9 608.4M575.4 608.4M576.0 608.4M576.5 608.4M577.1 608.4M577.6 608.4M578.2 608.4M578.7 608.4M579.3 608.4M579.8 608.4M580.4 608.4M580.9 608.4M581.5 608.4M582.0 608.4M582.6 608.4L583.1 608.0L583.7 607.8L584.2 608.4M584.8 608.4M585.3 608.4M585.9 608.4L586.4 607.6L587.0 608.4M587.5 608.4M588.1 608.4M588.6 608.4M589.2 608.4M589.7 608.4M590.3 608.4M590.8 608.4M591.4 608.4M591.9 608.4L592.5 607.8L592.5 608.4Z" fill="#98c4de" stroke="#98c4de" stroke-width="0.25" opacity="0.75"/>
<path d="M592.5 608.4M592.5 608.4M593.1 608.4M593.6 608.4M594.2 608.4M594.7 608.4M595.3 608.4M595.8 608.4M596.4 608.4M596.9 608.4M597.5 608.4M598.1 608.4M598.6 608.4M599.2 608.4M599.7 608.4M600.3 608.4M600.8 608.4M601.4 608.4M602.0 608.4M602.5 608.4M603.1 608.4M603.6 608.4M604.2 608.4L604.7 608.3L605.3 608.4L605.8 608.3L606.4 608.2L607.0 608.4M607.5 608.4M608.1 608.4M608.6 608.4M609.2 608.4M609.7 608.4M610.3 608.4M610.9 608.4M611.4 608.4M612.0 608.4M612.5 608.4L613.1 608.3L613.6 608.4M614.2 608.4M614.7 608.4M615.3 608.4M615.9 608.4M616.4 608.4M617.0 608.4M617.5 608.4M618.1 608.4M618.6 608.4M619.2 608.4M619.7 608.4M620.3 608.4M620.9 608.4M621.4 608.4M622.0 608.4M622.5 608.4M623.1 608.4L623.6 608.2L624.2 608.4M624.8 608.4M625.3 608.4M625.9 608.4M626.4 608.4L627.0 608.2L627.5 608.4M628.1 608.4L628.6 608.1L629.2 608.4L629.2 608.4Z" fill="#dcc4ca" stroke="#dcc4ca" stroke-width="0.25" opacity="0.75"/>
<line x1="629.2" y1="608.2" x2="645.4" y2="608.2" stroke="#b9aad0" stroke-width="0.6" opacity="0.07"/>
<path d="M629.2 608.4M629.2 608.4M629.8 608.4M630.3 608.4M630.9 608.4M631.4 608.4M632.0 608.4M632.6 608.4M633.1 608.4L633.7 608.1L634.2 608.4M634.8 608.4L635.3 608.1L635.9 608.4M636.5 608.4M637.0 608.4M637.6 608.4M638.1 608.4M638.7 608.4M639.3 608.4L639.8 608.2L640.4 608.4M640.9 608.4M641.5 608.4M642.0 608.4M642.6 608.4M643.2 608.4M643.7 608.4M644.3 608.4M644.8 608.4M645.4 608.4L645.4 608.4Z" fill="#b9aad0" stroke="#b9aad0" stroke-width="0.25" opacity="0.75"/>
<line x1="645.4" y1="608.2" x2="648.1" y2="608.2" stroke="#e2d8f2" stroke-width="0.6" opacity="0.36"/>
<path d="M645.4 608.4L645.4 606.6L646.1 607.8L646.8 606.9L647.4 607.6L648.1 608.4L648.1 608.4Z" fill="#e2d8f2" stroke="#e2d8f2" stroke-width="0.25" opacity="1"/>
<line x1="432.2" y1="615.3" x2="541.8" y2="615.3" stroke="#f0853a" stroke-width="0.6" opacity="0.22"/>
<path d="M432.2 615.5L432.2 615.4L432.8 615.5M433.3 615.5M433.9 615.5M434.4 615.5M435.0 615.5M435.5 615.5M436.1 615.5M436.6 615.5M437.2 615.5M437.7 615.5M438.3 615.5M438.8 615.5M439.4 615.5M439.9 615.5M440.5 615.5M441.0 615.5M441.6 615.5M442.1 615.5M442.7 615.5M443.2 615.5M443.8 615.5M444.3 615.5M444.9 615.5M445.4 615.5M446.0 615.5M446.5 615.5M447.1 615.5M447.6 615.5M448.2 615.5M448.7 615.5M449.3 615.5M449.8 615.5M450.4 615.5M450.9 615.5M451.5 615.5M452.0 615.5M452.6 615.5M453.1 615.5M453.7 615.5M454.2 615.5M454.8 615.5M455.3 615.5M455.9 615.5M456.4 615.5M457.0 615.5M457.5 615.5M458.1 615.5M458.6 615.5M459.2 615.5L459.7 615.3L460.3 615.5M460.8 615.5M461.4 615.5L461.9 615.2L462.5 615.5M463.0 615.5M463.6 615.5M464.1 615.5L464.7 615.3L465.2 615.4L465.8 615.5M466.3 615.5M466.9 615.5L467.4 615.4L468.0 615.5M468.5 615.5M469.1 615.5M469.7 615.5M470.2 615.5M470.8 615.5M471.3 615.5M471.9 615.5M472.4 615.5M473.0 615.5M473.5 615.5M474.1 615.5L474.6 615.4L475.2 615.4L475.7 615.3L476.3 615.5M476.8 615.5M477.4 615.5L477.9 615.3L478.5 615.5M479.0 615.5M479.6 615.5M480.1 615.5L480.7 615.4L481.2 615.5M481.8 615.5M482.3 615.5M482.9 615.5L483.4 615.3L484.0 615.5M484.5 615.5M485.1 615.5M485.6 615.5M486.2 615.5M486.7 615.5L487.3 615.4L487.8 615.5M488.4 615.5M488.9 615.5M489.5 615.5L490.0 615.4L490.6 615.5M491.1 615.5M491.7 615.5M492.2 615.5M492.8 615.5M493.3 615.5M493.9 615.5M494.4 615.5M495.0 615.5M495.5 615.5L496.1 615.3L496.6 615.5M497.2 615.5M497.7 615.5M498.3 615.5M498.8 615.5M499.4 615.5M499.9 615.5M500.5 615.5M501.0 615.5M501.6 615.5M502.1 615.5M502.7 615.5L503.2 615.3L503.8 615.5M504.3 615.5M504.9 615.5L505.5 615.4L506.0 615.5M506.6 615.5M507.1 615.5M507.7 615.5M508.2 615.5M508.8 615.5M509.3 615.5M509.9 615.5M510.4 615.5M511.0 615.5M511.5 615.5M512.1 615.5M512.6 615.5M513.2 615.5M513.7 615.5L514.3 615.3L514.8 615.5M515.4 615.5M515.9 615.5M516.5 615.5M517.0 615.5M517.6 615.5M518.1 615.5L518.7 615.4L519.2 615.5M519.8 615.5M520.3 615.5M520.9 615.5M521.4 615.5M522.0 615.5M522.5 615.5M523.1 615.5M523.6 615.5M524.2 615.5M524.7 615.5M525.3 615.5M525.8 615.5M526.4 615.5L526.9 615.3L527.5 615.5M528.0 615.5M528.6 615.5M529.1 615.5M529.7 615.5M530.2 615.5M530.8 615.5L531.3 615.4L531.9 615.5M532.4 615.5M533.0 615.5M533.5 615.5L534.1 615.2L534.6 615.5M535.2 615.5M535.7 615.5M536.3 615.5M536.8 615.5M537.4 615.5M537.9 615.5L538.5 615.4L539.0 615.5M539.6 615.5M540.1 615.5M540.7 615.5M541.2 615.5M541.8 615.5L541.8 615.5Z" fill="#f0853a" stroke="#f0853a" stroke-width="0.25" opacity="0.75"/>
<line x1="541.8" y1="615.3" x2="592.5" y2="615.3" stroke="#98c4de" stroke-width="0.6" opacity="0.43"/>
<path d="M541.8 615.5M541.8 615.5L542.4 614.5L542.9 615.5M543.5 615.5L544.0 614.1L544.6 615.5L545.1 614.8L545.7 615.0L546.2 613.9L546.8 615.5L547.3 614.2L547.9 615.5L548.4 614.3L549.0 615.5M549.5 615.5L550.1 614.3L550.6 615.5M551.2 615.5M551.7 615.5M552.3 615.5L552.8 614.3L553.4 614.1L553.9 615.0L554.5 614.9L555.0 615.5L555.6 614.3L556.1 614.6L556.7 615.5M557.2 615.5M557.8 615.5L558.3 614.4L558.9 614.7L559.4 615.5M560.0 615.5L560.5 613.9L561.1 615.5M561.6 615.5M562.2 615.5M562.7 615.5M563.3 615.5M563.8 615.5M564.4 615.5L564.9 614.5L565.5 614.5L566.0 615.5L566.6 614.8L567.1 614.8L567.7 615.5L568.3 613.8L568.8 615.5M569.4 615.5L569.9 614.7L570.5 615.5M571.0 615.5L571.6 614.8L572.1 614.3L572.7 615.5M573.2 615.5L573.8 614.1L574.3 614.2L574.9 614.4L575.4 614.0L576.0 615.5L576.5 614.1L577.1 615.5M577.6 615.5L578.2 614.0L578.7 615.5L579.3 614.3L579.8 615.5L580.4 614.5L580.9 614.4L581.5 615.5L582.0 614.3L582.6 613.7L583.1 615.5M583.7 615.5L584.2 614.9L584.8 615.5M585.3 615.5M585.9 615.5M586.4 615.5M587.0 615.5L587.5 614.4L588.1 615.0L588.6 613.7L589.2 615.5M589.7 615.5L590.3 614.9L590.8 614.7L591.4 615.5L591.9 613.9L592.5 614.4L592.5 615.5Z" fill="#98c4de" stroke="#98c4de" stroke-width="0.25" opacity="0.75"/>
<line x1="592.5" y1="615.3" x2="629.2" y2="615.3" stroke="#dcc4ca" stroke-width="0.6" opacity="0.14"/>
<line x1="629.2" y1="615.3" x2="645.4" y2="615.3" stroke="#b9aad0" stroke-width="0.6" opacity="0.50"/>
<path d="M629.2 615.5L629.2 614.2L629.8 615.5L630.3 614.8L630.9 615.5L631.4 614.9L632.0 614.5L632.6 614.7L633.1 614.5L633.7 614.8L634.2 614.1L634.8 614.6L635.3 614.8L635.9 615.5M636.5 615.5L637.0 614.5L637.6 615.5L638.1 614.3L638.7 615.5L639.3 614.7L639.8 614.0L640.4 614.7L640.9 614.9L641.5 614.9L642.0 614.8L642.6 614.5L643.2 614.8L643.7 614.9L644.3 614.7L644.8 614.7L645.4 614.8L645.4 615.5Z" fill="#b9aad0" stroke="#b9aad0" stroke-width="0.25" opacity="1"/>
<line x1="645.4" y1="615.3" x2="648.1" y2="615.3" stroke="#e2d8f2" stroke-width="0.6" opacity="0.36"/>
<path d="M645.4 615.5L645.4 614.9L646.1 615.5L646.8 614.3L647.4 614.8L648.1 614.6L648.1 615.5Z" fill="#e2d8f2" stroke="#e2d8f2" stroke-width="0.25" opacity="1"/>
<line x1="351.0" y1="622.5" x2="410.4" y2="622.5" stroke="#fad75c" stroke-width="0.6" opacity="0.22"/>
<line x1="423.5" y1="622.5" x2="432.2" y2="622.5" stroke="#a2cc58" stroke-width="0.6" opacity="0.14"/>
<line x1="432.2" y1="622.5" x2="541.8" y2="622.5" stroke="#f0853a" stroke-width="0.6" opacity="0.40"/>
<path d="M432.2 622.7M432.2 622.7M432.8 622.7M433.3 622.7M433.9 622.7M434.4 622.7M435.0 622.7M435.5 622.7M436.1 622.7M436.6 622.7M437.2 622.7M437.7 622.7M438.3 622.7M438.8 622.7M439.4 622.7M439.9 622.7M440.5 622.7L441.0 622.4L441.6 622.7M442.1 622.7M442.7 622.7M443.2 622.7M443.8 622.7M444.3 622.7M444.9 622.7M445.4 622.7M446.0 622.7M446.5 622.7L447.1 622.5L447.6 622.7M448.2 622.7M448.7 622.7M449.3 622.7M449.8 622.7M450.4 622.7M450.9 622.7M451.5 622.7M452.0 622.7M452.6 622.7M453.1 622.7M453.7 622.7M454.2 622.7L454.8 622.4L455.3 622.4L455.9 622.6L456.4 622.7M457.0 622.7M457.5 622.7M458.1 622.7M458.6 622.7M459.2 622.7M459.7 622.7M460.3 622.7M460.8 622.7M461.4 622.7L461.9 622.6L462.5 622.7M463.0 622.7M463.6 622.7M464.1 622.7M464.7 622.7M465.2 622.7M465.8 622.7M466.3 622.7M466.9 622.7M467.4 622.7M468.0 622.7M468.5 622.7L469.1 622.6L469.7 622.7M470.2 622.7M470.8 622.7M471.3 622.7M471.9 622.7M472.4 622.7M473.0 622.7M473.5 622.7M474.1 622.7L474.6 622.4L475.2 622.7M475.7 622.7L476.3 622.5L476.8 622.6L477.4 622.6L477.9 622.7M478.5 622.7M479.0 622.7M479.6 622.7M480.1 622.7M480.7 622.7M481.2 622.7M481.8 622.7M482.3 622.7M482.9 622.7M483.4 622.7L484.0 622.5L484.5 622.5L485.1 622.7M485.6 622.7M486.2 622.7M486.7 622.7M487.3 622.7M487.8 622.7M488.4 622.7M488.9 622.7M489.5 622.7M490.0 622.7M490.6 622.7M491.1 622.7M491.7 622.7M492.2 622.7M492.8 622.7M493.3 622.7M493.9 622.7M494.4 622.7M495.0 622.7M495.5 622.7M496.1 622.7M496.6 622.7M497.2 622.7M497.7 622.7M498.3 622.7M498.8 622.7M499.4 622.7M499.9 622.7L500.5 622.5L501.0 622.7M501.6 622.7M502.1 622.7M502.7 622.7M503.2 622.7M503.8 622.7M504.3 622.7M504.9 622.7L505.5 622.6L506.0 622.7M506.6 622.7M507.1 622.7M507.7 622.7M508.2 622.7M508.8 622.7M509.3 622.7L509.9 622.3L510.4 622.7M511.0 622.7M511.5 622.7L512.1 622.5L512.6 622.7M513.2 622.7M513.7 622.7M514.3 622.7M514.8 622.7M515.4 622.7M515.9 622.7M516.5 622.7M517.0 622.7M517.6 622.7M518.1 622.7M518.7 622.7M519.2 622.7M519.8 622.7M520.3 622.7M520.9 622.7M521.4 622.7M522.0 622.7L522.5 622.6L523.1 622.7L523.6 622.5L524.2 622.7M524.7 622.7M525.3 622.7M525.8 622.7L526.4 622.5L526.9 622.7M527.5 622.7M528.0 622.7M528.6 622.7L529.1 622.4L529.7 622.7M530.2 622.7L530.8 622.3L531.3 622.7M531.9 622.7M532.4 622.7M533.0 622.7M533.5 622.7M534.1 622.7M534.6 622.7M535.2 622.7L535.7 622.5L536.3 622.7L536.8 622.5L537.4 622.7M537.9 622.7M538.5 622.7M539.0 622.7M539.6 622.7M540.1 622.7M540.7 622.7M541.2 622.7M541.8 622.7L541.8 622.7Z" fill="#f0853a" stroke="#f0853a" stroke-width="0.25" opacity="0.75"/>
<line x1="541.8" y1="622.5" x2="592.5" y2="622.5" stroke="#98c4de" stroke-width="0.6" opacity="0.32"/>
<line x1="592.5" y1="622.5" x2="629.2" y2="622.5" stroke="#dcc4ca" stroke-width="0.6" opacity="0.32"/>
<line x1="629.2" y1="622.5" x2="645.4" y2="622.5" stroke="#b9aad0" stroke-width="0.6" opacity="0.43"/>
<path d="M629.2 622.7L629.2 622.4L629.8 622.7L630.3 622.1L630.9 622.1L631.4 622.7M632.0 622.7L632.6 622.3L633.1 621.7L633.7 622.7M634.2 622.7M634.8 622.7M635.3 622.7L635.9 622.1L636.5 622.7M637.0 622.7L637.6 622.0L638.1 622.0L638.7 622.7L639.3 621.9L639.8 622.7M640.4 622.7L640.9 621.8L641.5 622.3L642.0 622.7L642.6 621.6L643.2 622.7L643.7 622.0L644.3 622.7L644.8 621.8L645.4 621.8L645.4 622.7Z" fill="#b9aad0" stroke="#b9aad0" stroke-width="0.25" opacity="0.75"/>
<line x1="648.1" y1="622.5" x2="673.1" y2="622.5" stroke="#d6ccd0" stroke-width="0.6" opacity="0.43"/>
<path d="M648.1 622.7L648.1 620.4L648.7 621.9L649.2 621.3L649.8 620.9L650.3 621.6L650.9 621.9L651.4 620.5L652.0 621.7L652.5 622.7L653.1 620.7L653.7 621.4L654.2 620.4L654.8 621.8L655.3 622.7L655.9 620.4L656.4 622.7L657.0 620.7L657.5 621.2L658.1 621.9L658.7 621.6L659.2 621.9L659.8 622.7L660.3 621.3L660.9 621.9L661.4 622.7M662.0 622.7M662.5 622.7M663.1 622.7L663.7 621.8L664.2 620.3L664.8 621.0L665.3 622.7L665.9 621.2L666.4 620.6L667.0 622.0L667.5 622.7M668.1 622.7M668.7 622.7M669.2 622.7L669.8 621.9L670.3 620.3L670.9 621.2L671.4 622.7M672.0 622.7M672.5 622.7L673.1 621.9L673.1 622.7Z" fill="#d6ccd0" stroke="#d6ccd0" stroke-width="0.25" opacity="0.75"/>
<line x1="673.1" y1="622.5" x2="680.0" y2="622.5" stroke="#4fb08e" stroke-width="0.6" opacity="0.29"/>
<path d="M673.1 622.7M673.1 622.7L673.7 622.2L674.2 622.7L674.8 622.2L675.4 622.7L676.0 622.1L676.5 622.7M677.1 622.7M677.7 622.7M678.3 622.7M678.9 622.7L679.4 622.2L680.0 622.7L680.0 622.7Z" fill="#4fb08e" stroke="#4fb08e" stroke-width="0.25" opacity="0.75"/>
<line x1="351.0" y1="629.6" x2="410.4" y2="629.6" stroke="#fad75c" stroke-width="0.6" opacity="0.18"/>
<line x1="432.2" y1="629.6" x2="541.8" y2="629.6" stroke="#f0853a" stroke-width="0.6" opacity="0.29"/>
<line x1="541.8" y1="629.6" x2="592.5" y2="629.6" stroke="#98c4de" stroke-width="0.6" opacity="0.18"/>
<line x1="592.5" y1="629.6" x2="629.2" y2="629.6" stroke="#dcc4ca" stroke-width="0.6" opacity="0.14"/>
<line x1="629.2" y1="629.6" x2="645.4" y2="629.6" stroke="#b9aad0" stroke-width="0.6" opacity="0.22"/>
<path d="M629.2 629.8M629.2 629.8M629.8 629.8M630.3 629.8M630.9 629.8M631.4 629.8M632.0 629.8L632.6 629.7L633.1 629.6L633.7 629.7L634.2 629.8L634.8 629.7L635.3 629.8M635.9 629.8M636.5 629.8M637.0 629.8M637.6 629.8L638.1 629.6L638.7 629.8M639.3 629.8M639.8 629.8M640.4 629.8M640.9 629.8M641.5 629.8L642.0 629.7L642.6 629.7L643.2 629.5L643.7 629.8L644.3 629.6L644.8 629.8M645.4 629.8L645.4 629.8Z" fill="#b9aad0" stroke="#b9aad0" stroke-width="0.25" opacity="0.75"/>
<line x1="648.1" y1="629.6" x2="673.1" y2="629.6" stroke="#d6ccd0" stroke-width="0.6" opacity="0.25"/>
<path d="M648.1 629.8M648.1 629.8M648.7 629.8L649.2 629.4L649.8 629.8M650.3 629.8M650.9 629.8M651.4 629.8M652.0 629.8M652.5 629.8L653.1 629.1L653.7 629.8M654.2 629.8M654.8 629.8M655.3 629.8L655.9 629.0L656.4 629.2L657.0 629.8M657.5 629.8M658.1 629.8M658.7 629.8M659.2 629.8M659.8 629.8M660.3 629.8M660.9 629.8M661.4 629.8L662.0 629.3L662.5 629.8M663.1 629.8L663.7 629.4L664.2 629.8M664.8 629.8M665.3 629.8M665.9 629.8M666.4 629.8M667.0 629.8M667.5 629.8M668.1 629.8M668.7 629.8M669.2 629.8M669.8 629.8M670.3 629.8M670.9 629.8M671.4 629.8M672.0 629.8M672.5 629.8L673.1 629.4L673.1 629.8Z" fill="#d6ccd0" stroke="#d6ccd0" stroke-width="0.25" opacity="0.75"/>
<line x1="351.0" y1="636.8" x2="410.4" y2="636.8" stroke="#fad75c" stroke-width="0.6" opacity="0.18"/>
<line x1="432.2" y1="636.8" x2="541.8" y2="636.8" stroke="#f0853a" stroke-width="0.6" opacity="0.29"/>
<line x1="541.8" y1="636.8" x2="592.5" y2="636.8" stroke="#98c4de" stroke-width="0.6" opacity="0.18"/>
<line x1="592.5" y1="636.8" x2="629.2" y2="636.8" stroke="#dcc4ca" stroke-width="0.6" opacity="0.11"/>
<line x1="673.1" y1="636.8" x2="680.0" y2="636.8" stroke="#4fb08e" stroke-width="0.6" opacity="0.72"/>
<path d="M673.1 637.0L673.1 634.5L673.7 635.0L674.2 633.1L674.8 634.6L675.4 635.3L676.0 635.1L676.5 634.5L677.1 635.4L677.7 635.4L678.3 634.9L678.9 633.0L679.4 635.2L680.0 632.9L680.0 637.0Z" fill="#4fb08e" stroke="#4fb08e" stroke-width="0.25" opacity="1"/>
<line x1="351.0" y1="643.9" x2="410.4" y2="643.9" stroke="#fad75c" stroke-width="0.6" opacity="0.22"/>
<line x1="432.2" y1="643.9" x2="541.8" y2="643.9" stroke="#f0853a" stroke-width="0.6" opacity="0.40"/>
<path d="M432.2 644.1M432.2 644.1M432.8 644.1M433.3 644.1M433.9 644.1M434.4 644.1M435.0 644.1M435.5 644.1M436.1 644.1M436.6 644.1M437.2 644.1M437.7 644.1L438.3 643.8L438.8 644.1M439.4 644.1M439.9 644.1M440.5 644.1M441.0 644.1M441.6 644.1M442.1 644.1M442.7 644.1M443.2 644.1M443.8 644.1M444.3 644.1L444.9 643.9L445.4 644.1L446.0 644.0L446.5 644.1M447.1 644.1M447.6 644.1M448.2 644.1M448.7 644.1M449.3 644.1M449.8 644.1M450.4 644.1L450.9 643.8L451.5 644.1M452.0 644.1M452.6 644.1L453.1 643.8L453.7 644.1M454.2 644.1L454.8 644.0L455.3 644.1M455.9 644.1M456.4 644.1M457.0 644.1M457.5 644.1M458.1 644.1M458.6 644.1M459.2 644.1M459.7 644.1M460.3 644.1M460.8 644.1M461.4 644.1M461.9 644.1L462.5 643.8L463.0 644.1M463.6 644.1M464.1 644.1M464.7 644.1M465.2 644.1M465.8 644.1M466.3 644.1M466.9 644.1M467.4 644.1M468.0 644.1M468.5 644.1M469.1 644.1M469.7 644.1M470.2 644.1M470.8 644.1M471.3 644.1M471.9 644.1M472.4 644.1M473.0 644.1M473.5 644.1M474.1 644.1M474.6 644.1M475.2 644.1M475.7 644.1M476.3 644.1M476.8 644.1M477.4 644.1M477.9 644.1M478.5 644.1L479.0 643.8L479.6 644.1M480.1 644.1M480.7 644.1M481.2 644.1M481.8 644.1M482.3 644.1M482.9 644.1M483.4 644.1L484.0 643.9L484.5 644.0L485.1 644.1M485.6 644.1M486.2 644.1M486.7 644.1M487.3 644.1M487.8 644.1M488.4 644.1L488.9 643.8L489.5 644.1M490.0 644.1M490.6 644.1M491.1 644.1M491.7 644.1M492.2 644.1M492.8 644.1M493.3 644.1M493.9 644.1L494.4 643.8L495.0 644.1M495.5 644.1M496.1 644.1M496.6 644.1M497.2 644.1L497.7 644.0L498.3 644.1M498.8 644.1M499.4 644.1M499.9 644.1M500.5 644.1M501.0 644.1M501.6 644.1L502.1 643.9L502.7 644.0L503.2 644.1L503.8 643.8L504.3 644.1M504.9 644.1M505.5 644.1M506.0 644.1M506.6 644.1M507.1 644.1M507.7 644.1L508.2 644.0L508.8 644.1M509.3 644.1M509.9 644.1M510.4 644.1M511.0 644.1M511.5 644.1M512.1 644.1M512.6 644.1M513.2 644.1M513.7 644.1M514.3 644.1M514.8 644.1M515.4 644.1M515.9 644.1M516.5 644.1M517.0 644.1M517.6 644.1M518.1 644.1M518.7 644.1M519.2 644.1L519.8 643.8L520.3 644.1M520.9 644.1M521.4 644.1L522.0 644.0L522.5 644.1M523.1 644.1M523.6 644.1M524.2 644.1M524.7 644.1M525.3 644.1M525.8 644.1M526.4 644.1M526.9 644.1M527.5 644.1M528.0 644.1L528.6 644.0L529.1 644.1M529.7 644.1M530.2 644.1M530.8 644.1L531.3 644.0L531.9 644.1M532.4 644.1M533.0 644.1M533.5 644.1M534.1 644.1M534.6 644.1L535.2 643.9L535.7 644.1M536.3 644.1M536.8 644.1M537.4 644.1M537.9 644.1L538.5 644.0L539.0 644.1M539.6 644.1M540.1 644.1M540.7 644.1M541.2 644.1M541.8 644.1L541.8 644.1Z" fill="#f0853a" stroke="#f0853a" stroke-width="0.25" opacity="0.75"/>
<line x1="541.8" y1="643.9" x2="592.5" y2="643.9" stroke="#98c4de" stroke-width="0.6" opacity="0.25"/>
<line x1="592.5" y1="643.9" x2="629.2" y2="643.9" stroke="#dcc4ca" stroke-width="0.6" opacity="0.36"/>
<path d="M592.5 644.1M592.5 644.1L593.1 643.9L593.6 644.1L594.2 643.8L594.7 644.1M595.3 644.1M595.8 644.1M596.4 644.1L596.9 643.9L597.5 643.9L598.1 644.1L598.6 643.7L599.2 643.9L599.7 644.1M600.3 644.1M600.8 644.1M601.4 644.1L602.0 643.9L602.5 644.1M603.1 644.1M603.6 644.1M604.2 644.1M604.7 644.1L605.3 643.9L605.8 643.9L606.4 644.1M607.0 644.1M607.5 644.1M608.1 644.1M608.6 644.1M609.2 644.1M609.7 644.1M610.3 644.1L610.9 643.7L611.4 643.9L612.0 644.1M612.5 644.1M613.1 644.1M613.6 644.1M614.2 644.1M614.7 644.1L615.3 643.8L615.9 643.6L616.4 644.1M617.0 644.1M617.5 644.1L618.1 643.9L618.6 643.9L619.2 643.7L619.7 644.1M620.3 644.1L620.9 643.8L621.4 644.1L622.0 643.9L622.5 644.1M623.1 644.1M623.6 644.1L624.2 643.8L624.8 644.1L625.3 643.6L625.9 644.1M626.4 644.1M627.0 644.1M627.5 644.1M628.1 644.1L628.6 643.9L629.2 644.1L629.2 644.1Z" fill="#dcc4ca" stroke="#dcc4ca" stroke-width="0.25" opacity="0.75"/>
<line x1="629.2" y1="643.9" x2="645.4" y2="643.9" stroke="#b9aad0" stroke-width="0.6" opacity="0.50"/>
<path d="M629.2 644.1L629.2 643.7L629.8 644.1L630.3 643.7L630.9 643.7L631.4 644.1L632.0 643.1L632.6 643.7L633.1 644.1M633.7 644.1M634.2 644.1L634.8 643.1L635.3 644.1L635.9 643.0L636.5 643.0L637.0 643.4L637.6 643.5L638.1 643.7L638.7 643.7L639.3 644.1L639.8 643.2L640.4 643.4L640.9 643.0L641.5 643.6L642.0 643.4L642.6 644.1L643.2 643.2L643.7 643.3L644.3 643.6L644.8 643.5L645.4 643.7L645.4 644.1Z" fill="#b9aad0" stroke="#b9aad0" stroke-width="0.25" opacity="1"/>
<line x1="648.1" y1="643.9" x2="673.1" y2="643.9" stroke="#d6ccd0" stroke-width="0.6" opacity="0.36"/>
<path d="M648.1 644.1M648.1 644.1L648.7 642.8L649.2 643.4L649.8 644.1L650.3 643.0L650.9 644.1L651.4 643.6L652.0 644.1L652.5 643.6L653.1 642.7L653.7 642.6L654.2 644.1M654.8 644.1M655.3 644.1L655.9 642.7L656.4 644.1L657.0 643.5L657.5 644.1M658.1 644.1M658.7 644.1L659.2 643.3L659.8 643.6L660.3 644.1M660.9 644.1M661.4 644.1L662.0 642.6L662.5 644.1M663.1 644.1L663.7 643.3L664.2 643.2L664.8 643.0L665.3 644.1M665.9 644.1M666.4 644.1L667.0 643.0L667.5 644.1M668.1 644.1M668.7 644.1L669.2 642.8L669.8 643.6L670.3 642.8L670.9 643.5L671.4 643.3L672.0 644.1L672.5 643.0L673.1 644.1L673.1 644.1Z" fill="#d6ccd0" stroke="#d6ccd0" stroke-width="0.25" opacity="0.75"/>
<line x1="673.1" y1="643.9" x2="680.0" y2="643.9" stroke="#4fb08e" stroke-width="0.6" opacity="0.72"/>
<path d="M673.1 644.1L673.1 640.8L673.7 640.4L674.2 641.2L674.8 642.4L675.4 642.4L676.0 642.4L676.5 642.0L677.1 642.4L677.7 642.1L678.3 641.1L678.9 641.1L679.4 640.1L680.0 640.0L680.0 644.1Z" fill="#4fb08e" stroke="#4fb08e" stroke-width="0.25" opacity="1"/>
<line x1="351.0" y1="651.1" x2="410.4" y2="651.1" stroke="#fad75c" stroke-width="0.6" opacity="0.14"/>
<line x1="432.2" y1="651.1" x2="541.8" y2="651.1" stroke="#f0853a" stroke-width="0.6" opacity="0.25"/>
<path d="M432.2 651.3M432.2 651.3M432.8 651.3M433.3 651.3M433.9 651.3M434.4 651.3M435.0 651.3M435.5 651.3M436.1 651.3M436.6 651.3M437.2 651.3M437.7 651.3M438.3 651.3M438.8 651.3M439.4 651.3M439.9 651.3M440.5 651.3M441.0 651.3M441.6 651.3M442.1 651.3M442.7 651.3M443.2 651.3M443.8 651.3L444.3 651.0L444.9 651.3M445.4 651.3L446.0 651.0L446.5 651.3M447.1 651.3M447.6 651.3M448.2 651.3M448.7 651.3M449.3 651.3M449.8 651.3L450.4 651.1L450.9 651.3M451.5 651.3M452.0 651.3L452.6 651.0L453.1 651.3L453.7 651.1L454.2 651.1L454.8 651.1L455.3 651.3M455.9 651.3L456.4 651.1L457.0 651.3M457.5 651.3M458.1 651.3M458.6 651.3L459.2 651.1L459.7 651.3M460.3 651.3M460.8 651.3L461.4 651.0L461.9 651.3M462.5 651.3M463.0 651.3M463.6 651.3L464.1 651.2L464.7 651.0L465.2 651.0L465.8 651.1L466.3 651.3M466.9 651.3M467.4 651.3L468.0 651.1L468.5 651.3L469.1 651.0L469.7 651.3M470.2 651.3M470.8 651.3M471.3 651.3M471.9 651.3M472.4 651.3M473.0 651.3M473.5 651.3M474.1 651.3M474.6 651.3M475.2 651.3M475.7 651.3M476.3 651.3M476.8 651.3M477.4 651.3M477.9 651.3M478.5 651.3M479.0 651.3M479.6 651.3M480.1 651.3M480.7 651.3M481.2 651.3M481.8 651.3M482.3 651.3M482.9 651.3L483.4 651.1L484.0 651.1L484.5 651.0L485.1 651.1L485.6 651.3M486.2 651.3M486.7 651.3M487.3 651.3M487.8 651.3M488.4 651.3M488.9 651.3M489.5 651.3M490.0 651.3M490.6 651.3M491.1 651.3M491.7 651.3M492.2 651.3M492.8 651.3M493.3 651.3M493.9 651.3M494.4 651.3M495.0 651.3L495.5 651.0L496.1 651.3L496.6 651.1L497.2 651.3M497.7 651.3M498.3 651.3M498.8 651.3M499.4 651.3L499.9 651.0L500.5 651.3M501.0 651.3M501.6 651.3M502.1 651.3L502.7 651.1L503.2 651.1L503.8 651.3M504.3 651.3M504.9 651.3M505.5 651.3M506.0 651.3L506.6 651.0L507.1 651.3M507.7 651.3M508.2 651.3M508.8 651.3M509.3 651.3M509.9 651.3M510.4 651.3M511.0 651.3M511.5 651.3M512.1 651.3L512.6 651.1L513.2 651.3L513.7 651.0L514.3 651.3M514.8 651.3M515.4 651.3M515.9 651.3M516.5 651.3M517.0 651.3M517.6 651.3M518.1 651.3M518.7 651.3M519.2 651.3M519.8 651.3M520.3 651.3M520.9 651.3M521.4 651.3M522.0 651.3M522.5 651.3M523.1 651.3L523.6 650.9L524.2 651.3M524.7 651.3M525.3 651.3M525.8 651.3M526.4 651.3M526.9 651.3M527.5 651.3M528.0 651.3L528.6 651.1L529.1 651.3M529.7 651.3M530.2 651.3M530.8 651.3M531.3 651.3M531.9 651.3M532.4 651.3L533.0 651.1L533.5 651.3M534.1 651.3M534.6 651.3M535.2 651.3M535.7 651.3M536.3 651.3M536.8 651.3M537.4 651.3M537.9 651.3M538.5 651.3M539.0 651.3M539.6 651.3M540.1 651.3M540.7 651.3M541.2 651.3M541.8 651.3L541.8 651.3Z" fill="#f0853a" stroke="#f0853a" stroke-width="0.25" opacity="0.75"/>
<line x1="541.8" y1="651.1" x2="592.5" y2="651.1" stroke="#98c4de" stroke-width="0.6" opacity="0.14"/>
<line x1="673.1" y1="651.1" x2="680.0" y2="651.1" stroke="#4fb08e" stroke-width="0.6" opacity="0.72"/>
<path d="M673.1 651.3L673.1 649.2L673.7 649.7L674.2 649.7L674.8 649.7L675.4 649.6L676.0 649.6L676.5 649.4L677.1 649.6L677.7 648.4L678.3 649.6L678.9 649.7L679.4 648.8L680.0 648.3L680.0 651.3Z" fill="#4fb08e" stroke="#4fb08e" stroke-width="0.25" opacity="1"/>
<line x1="351.0" y1="658.2" x2="410.4" y2="658.2" stroke="#fad75c" stroke-width="0.6" opacity="0.22"/>
<line x1="432.2" y1="658.2" x2="541.8" y2="658.2" stroke="#f0853a" stroke-width="0.6" opacity="0.36"/>
<path d="M432.2 658.4M432.2 658.4M432.8 658.4M433.3 658.4M433.9 658.4M434.4 658.4M435.0 658.4M435.5 658.4M436.1 658.4M436.6 658.4M437.2 658.4M437.7 658.4M438.3 658.4M438.8 658.4M439.4 658.4M439.9 658.4M440.5 658.4M441.0 658.4M441.6 658.4M442.1 658.4M442.7 658.4M443.2 658.4M443.8 658.4M444.3 658.4M444.9 658.4M445.4 658.4M446.0 658.4M446.5 658.4L447.1 658.3L447.6 658.4M448.2 658.4L448.7 658.3L449.3 658.4M449.8 658.4M450.4 658.4M450.9 658.4M451.5 658.4M452.0 658.4M452.6 658.4M453.1 658.4M453.7 658.4M454.2 658.4M454.8 658.4M455.3 658.4M455.9 658.4M456.4 658.4M457.0 658.4L457.5 658.2L458.1 658.4M458.6 658.4M459.2 658.4M459.7 658.4L460.3 658.3L460.8 658.3L461.4 658.4M461.9 658.4M462.5 658.4M463.0 658.4M463.6 658.4M464.1 658.4M464.7 658.4M465.2 658.4M465.8 658.4M466.3 658.4M466.9 658.4M467.4 658.4M468.0 658.4M468.5 658.4M469.1 658.4M469.7 658.4L470.2 658.2L470.8 658.4M471.3 658.4L471.9 658.1L472.4 658.4M473.0 658.4M473.5 658.4M474.1 658.4M474.6 658.4M475.2 658.4M475.7 658.4M476.3 658.4M476.8 658.4M477.4 658.4M477.9 658.4M478.5 658.4M479.0 658.4M479.6 658.4L480.1 658.2L480.7 658.4M481.2 658.4M481.8 658.4L482.3 658.3L482.9 658.4M483.4 658.4M484.0 658.4M484.5 658.4M485.1 658.4M485.6 658.4L486.2 658.1L486.7 658.3L487.3 658.4M487.8 658.4M488.4 658.4L488.9 658.3L489.5 658.4M490.0 658.4M490.6 658.4M491.1 658.4M491.7 658.4M492.2 658.4M492.8 658.4M493.3 658.4M493.9 658.4M494.4 658.4M495.0 658.4M495.5 658.4M496.1 658.4M496.6 658.4M497.2 658.4M497.7 658.4M498.3 658.4M498.8 658.4M499.4 658.4M499.9 658.4M500.5 658.4M501.0 658.4M501.6 658.4M502.1 658.4M502.7 658.4M503.2 658.4M503.8 658.4M504.3 658.4M504.9 658.4M505.5 658.4M506.0 658.4M506.6 658.4M507.1 658.4M507.7 658.4M508.2 658.4M508.8 658.4M509.3 658.4L509.9 658.1L510.4 658.4M511.0 658.4M511.5 658.4L512.1 658.3L512.6 658.4M513.2 658.4M513.7 658.4M514.3 658.4M514.8 658.4M515.4 658.4M515.9 658.4M516.5 658.4M517.0 658.4M517.6 658.4M518.1 658.4M518.7 658.4M519.2 658.4M519.8 658.4M520.3 658.4M520.9 658.4M521.4 658.4M522.0 658.4M522.5 658.4M523.1 658.4M523.6 658.4M524.2 658.4L524.7 658.2L525.3 658.4M525.8 658.4M526.4 658.4M526.9 658.4M527.5 658.4M528.0 658.4M528.6 658.4M529.1 658.4M529.7 658.4M530.2 658.4M530.8 658.4M531.3 658.4M531.9 658.4M532.4 658.4M533.0 658.4M533.5 658.4M534.1 658.4M534.6 658.4M535.2 658.4M535.7 658.4M536.3 658.4M536.8 658.4M537.4 658.4M537.9 658.4L538.5 658.2L539.0 658.2L539.6 658.4M540.1 658.4M540.7 658.4M541.2 658.4M541.8 658.4L541.8 658.4Z" fill="#f0853a" stroke="#f0853a" stroke-width="0.25" opacity="0.75"/>
<line x1="541.8" y1="658.2" x2="592.5" y2="658.2" stroke="#98c4de" stroke-width="0.6" opacity="0.18"/>
<line x1="592.5" y1="658.2" x2="629.2" y2="658.2" stroke="#dcc4ca" stroke-width="0.6" opacity="0.07"/>
<line x1="673.1" y1="658.2" x2="680.0" y2="658.2" stroke="#4fb08e" stroke-width="0.6" opacity="0.72"/>
<path d="M673.1 658.4L673.1 656.8L673.7 656.1L674.2 656.7L674.8 656.6L675.4 654.5L676.0 654.5L676.5 655.7L677.1 656.8L677.7 656.7L678.3 656.6L678.9 655.7L679.4 654.5L680.0 656.4L680.0 658.4Z" fill="#4fb08e" stroke="#4fb08e" stroke-width="0.25" opacity="1"/>
</g>
<line x1="410.4" y1="401.8" x2="410.4" y2="658.4" stroke="#3f87d0" stroke-width="0.7" stroke-dasharray="1.1 0.8"/>
<line x1="423.5" y1="401.8" x2="423.5" y2="658.4" stroke="#3f87d0" stroke-width="0.7" stroke-dasharray="1.1 0.8"/>
<line x1="432.2" y1="401.8" x2="432.2" y2="658.4" stroke="#3f87d0" stroke-width="0.7" stroke-dasharray="1.1 0.8"/>
<line x1="541.8" y1="401.8" x2="541.8" y2="658.4" stroke="#3f87d0" stroke-width="0.7" stroke-dasharray="1.1 0.8"/>
<line x1="592.5" y1="401.8" x2="592.5" y2="658.4" stroke="#3f87d0" stroke-width="0.7" stroke-dasharray="1.1 0.8"/>
<line x1="629.2" y1="401.8" x2="629.2" y2="658.4" stroke="#3f87d0" stroke-width="0.7" stroke-dasharray="1.1 0.8"/>
<line x1="645.4" y1="401.8" x2="645.4" y2="658.4" stroke="#3f87d0" stroke-width="0.7" stroke-dasharray="1.1 0.8"/>
<line x1="648.1" y1="401.8" x2="648.1" y2="658.4" stroke="#3f87d0" stroke-width="0.7" stroke-dasharray="1.1 0.8"/>
<line x1="673.1" y1="401.8" x2="673.1" y2="658.4" stroke="#3f87d0" stroke-width="0.7" stroke-dasharray="1.1 0.8"/>
<line x1="683.4" y1="400.8" x2="683.4" y2="659.0" stroke="#222" stroke-width="0.9"/>
<line x1="681.8" y1="408.4" x2="683.4" y2="408.4" stroke="#222" stroke-width="0.6"/>
<line x1="681.8" y1="415.5" x2="683.4" y2="415.5" stroke="#222" stroke-width="0.6"/>
<line x1="681.8" y1="422.7" x2="683.4" y2="422.7" stroke="#222" stroke-width="0.6"/>
<line x1="681.8" y1="429.8" x2="683.4" y2="429.8" stroke="#222" stroke-width="0.6"/>
<line x1="681.8" y1="437.0" x2="683.4" y2="437.0" stroke="#222" stroke-width="0.6"/>
<line x1="681.8" y1="444.1" x2="683.4" y2="444.1" stroke="#222" stroke-width="0.6"/>
<line x1="681.8" y1="451.3" x2="683.4" y2="451.3" stroke="#222" stroke-width="0.6"/>
<line x1="681.8" y1="458.4" x2="683.4" y2="458.4" stroke="#222" stroke-width="0.6"/>
<line x1="681.8" y1="465.5" x2="683.4" y2="465.5" stroke="#222" stroke-width="0.6"/>
<line x1="681.8" y1="472.7" x2="683.4" y2="472.7" stroke="#222" stroke-width="0.6"/>
<line x1="681.8" y1="479.8" x2="683.4" y2="479.8" stroke="#222" stroke-width="0.6"/>
<line x1="681.8" y1="487.0" x2="683.4" y2="487.0" stroke="#222" stroke-width="0.6"/>
<line x1="681.8" y1="494.1" x2="683.4" y2="494.1" stroke="#222" stroke-width="0.6"/>
<line x1="681.8" y1="501.3" x2="683.4" y2="501.3" stroke="#222" stroke-width="0.6"/>
<line x1="681.8" y1="508.4" x2="683.4" y2="508.4" stroke="#222" stroke-width="0.6"/>
<line x1="681.8" y1="515.5" x2="683.4" y2="515.5" stroke="#222" stroke-width="0.6"/>
<line x1="681.8" y1="522.7" x2="683.4" y2="522.7" stroke="#222" stroke-width="0.6"/>
<line x1="681.8" y1="529.8" x2="683.4" y2="529.8" stroke="#222" stroke-width="0.6"/>
<line x1="681.8" y1="537.0" x2="683.4" y2="537.0" stroke="#222" stroke-width="0.6"/>
<line x1="681.8" y1="544.1" x2="683.4" y2="544.1" stroke="#222" stroke-width="0.6"/>
<line x1="681.8" y1="551.3" x2="683.4" y2="551.3" stroke="#222" stroke-width="0.6"/>
<line x1="681.8" y1="558.4" x2="683.4" y2="558.4" stroke="#222" stroke-width="0.6"/>
<line x1="681.8" y1="565.5" x2="683.4" y2="565.5" stroke="#222" stroke-width="0.6"/>
<line x1="681.8" y1="572.7" x2="683.4" y2="572.7" stroke="#222" stroke-width="0.6"/>
<line x1="681.8" y1="579.8" x2="683.4" y2="579.8" stroke="#222" stroke-width="0.6"/>
<line x1="681.8" y1="587.0" x2="683.4" y2="587.0" stroke="#222" stroke-width="0.6"/>
<line x1="681.8" y1="594.1" x2="683.4" y2="594.1" stroke="#222" stroke-width="0.6"/>
<line x1="681.8" y1="601.3" x2="683.4" y2="601.3" stroke="#222" stroke-width="0.6"/>
<line x1="681.8" y1="608.4" x2="683.4" y2="608.4" stroke="#222" stroke-width="0.6"/>
<line x1="681.8" y1="615.5" x2="683.4" y2="615.5" stroke="#222" stroke-width="0.6"/>
<line x1="681.8" y1="622.7" x2="683.4" y2="622.7" stroke="#222" stroke-width="0.6"/>
<line x1="681.8" y1="629.8" x2="683.4" y2="629.8" stroke="#222" stroke-width="0.6"/>
<line x1="681.8" y1="637.0" x2="683.4" y2="637.0" stroke="#222" stroke-width="0.6"/>
<line x1="681.8" y1="644.1" x2="683.4" y2="644.1" stroke="#222" stroke-width="0.6"/>
<line x1="681.8" y1="651.3" x2="683.4" y2="651.3" stroke="#222" stroke-width="0.6"/>
<line x1="681.8" y1="658.4" x2="683.4" y2="658.4" stroke="#222" stroke-width="0.6"/>
<rect x="351.0" y="664.2" width="59.6" height="5.1" fill="#fad75c"/>
<rect x="410.4" y="664.2" width="13.3" height="5.1" fill="#fdf3a4"/>
<rect x="423.5" y="664.2" width="8.9" height="5.1" fill="#a5cd5c"/>
<rect x="432.2" y="664.2" width="109.8" height="5.1" fill="#f0853a"/>
<rect x="541.8" y="664.2" width="50.9" height="5.1" fill="#a6cde0"/>
<rect x="592.5" y="664.2" width="36.9" height="5.1" fill="#dec9cd"/>
<rect x="629.2" y="664.2" width="16.4" height="5.1" fill="#c3bad2"/>
<rect x="645.4" y="664.2" width="2.9" height="5.1" fill="#ebe2f6"/>
<rect x="648.1" y="664.2" width="25.2" height="5.1" fill="#dcd4d6"/>
<rect x="673.1" y="664.2" width="7.1" height="5.1" fill="#5db394"/>
<text x="382.3" y="678.0" font-size="8.2" text-anchor="end" transform="rotate(-31 382.3 678.0)">T cell</text>
<text x="418.6" y="678.0" font-size="8.2" text-anchor="end" transform="rotate(-31 418.6 678.0)">NK cell</text>
<text x="429.5" y="678.0" font-size="8.2" text-anchor="end" transform="rotate(-31 429.5 678.0)">B/Plasma cell</text>
<text x="488.6" y="678.0" font-size="8.2" text-anchor="end" transform="rotate(-31 488.6 678.0)">Myeloid cell</text>
<text x="568.8" y="678.0" font-size="8.2" text-anchor="end" transform="rotate(-31 568.8 678.0)">Epithelial cell</text>
<text x="612.5" y="678.0" font-size="8.2" text-anchor="end" transform="rotate(-31 612.5 678.0)">Fibroblast</text>
<text x="638.9" y="678.0" font-size="8.2" text-anchor="end" transform="rotate(-31 638.9 678.0)">CAF</text>
<text x="648.4" y="678.0" font-size="8.2" text-anchor="end" transform="rotate(-31 648.4 678.0)">Mesothelial cell</text>
<text x="662.2" y="678.0" font-size="8.2" text-anchor="end" transform="rotate(-31 662.2 678.0)">SMC/Pericyte</text>
<text x="678.1" y="678.0" font-size="8.2" text-anchor="end" transform="rotate(-31 678.1 678.0)">Endothelial cell</text>
<text x="-0.2" y="724.0" font-size="17.5" font-weight="bold">e</text>
<text x="68.8" y="727.7" font-size="8.35" text-anchor="end">T cell</text>
<rect x="71.7" y="717.6" width="40.8" height="14.1" fill="#e1d7cf" stroke="#1a1a1a" stroke-width="0.7"/>
<text x="92.1" y="727.6" font-size="8.3" text-anchor="middle">0.79</text>
<rect x="112.5" y="717.6" width="40.4" height="14.1" fill="#ef8733" stroke="#1a1a1a" stroke-width="0.7"/>
<text x="132.7" y="727.6" font-size="8.3" text-anchor="middle">1.58</text>
<rect x="174.5" y="717.6" width="36.2" height="14.1" fill="#f4a468" stroke="#1a1a1a" stroke-width="0.7"/>
<text x="192.6" y="727.6" font-size="8.3" text-anchor="middle">0.93</text>
<rect x="210.7" y="717.6" width="36.0" height="14.1" fill="#f4a468" stroke="#1a1a1a" stroke-width="0.7"/>
<text x="228.7" y="727.6" font-size="8.3" text-anchor="middle">0.90</text>
<rect x="246.7" y="717.6" width="36.8" height="14.1" fill="#ef8733" stroke="#1a1a1a" stroke-width="0.7"/>
<text x="265.1" y="727.6" font-size="8.3" text-anchor="middle">1.08</text>
<text x="68.8" y="741.8" font-size="8.35" text-anchor="end">NK cell</text>
<rect x="71.7" y="731.7" width="40.8" height="14.1" fill="#e1d7cf" stroke="#1a1a1a" stroke-width="0.7"/>
<text x="92.1" y="741.7" font-size="8.3" text-anchor="middle">0.74</text>
<rect x="112.5" y="731.7" width="40.4" height="14.1" fill="#ef8733" stroke="#1a1a1a" stroke-width="0.7"/>
<text x="132.7" y="741.7" font-size="8.3" text-anchor="middle">1.70</text>
<rect x="174.5" y="731.7" width="36.2" height="14.1" fill="#ef8733" stroke="#1a1a1a" stroke-width="0.7"/>
<text x="192.6" y="741.7" font-size="8.3" text-anchor="middle">2.00</text>
<rect x="210.7" y="731.7" width="36.0" height="14.1" fill="#f4a468" stroke="#1a1a1a" stroke-width="0.7"/>
<text x="228.7" y="741.7" font-size="8.3" text-anchor="middle">0.91</text>
<rect x="246.7" y="731.7" width="36.8" height="14.1" fill="#f4a468" stroke="#1a1a1a" stroke-width="0.7"/>
<text x="265.1" y="741.7" font-size="8.3" text-anchor="middle">0.80</text>
<text x="68.8" y="756.0" font-size="8.35" text-anchor="end">B/Plasma cell</text>
<rect x="71.7" y="745.9" width="40.8" height="14.1" fill="#ef8733" stroke="#1a1a1a" stroke-width="0.7"/>
<text x="92.1" y="755.9" font-size="8.3" text-anchor="middle">1.17</text>
<rect x="112.5" y="745.9" width="40.4" height="14.1" fill="#dbd5d1" stroke="#1a1a1a" stroke-width="0.7"/>
<text x="132.7" y="755.9" font-size="8.3" text-anchor="middle">0.54</text>
<rect x="174.5" y="745.9" width="36.2" height="14.1" fill="#d0d1d1" stroke="#1a1a1a" stroke-width="0.7"/>
<text x="192.6" y="755.9" font-size="8.3" text-anchor="middle">0.03</text>
<rect x="210.7" y="745.9" width="36.0" height="14.1" fill="#ef8733" stroke="#1a1a1a" stroke-width="0.7"/>
<text x="228.7" y="755.9" font-size="8.3" text-anchor="middle">1.42</text>
<rect x="246.7" y="745.9" width="36.8" height="14.1" fill="#f4a468" stroke="#1a1a1a" stroke-width="0.7"/>
<text x="265.1" y="755.9" font-size="8.3" text-anchor="middle">0.92</text>
<text x="68.8" y="770.1" font-size="8.35" text-anchor="end">Myeloid cell</text>
<rect x="71.7" y="760.0" width="40.8" height="14.1" fill="#e1d7cf" stroke="#1a1a1a" stroke-width="0.7"/>
<text x="92.1" y="770.0" font-size="8.3" text-anchor="middle">0.77</text>
<rect x="112.5" y="760.0" width="40.4" height="14.1" fill="#ef8733" stroke="#1a1a1a" stroke-width="0.7"/>
<text x="132.7" y="770.0" font-size="8.3" text-anchor="middle">1.63</text>
<rect x="174.5" y="760.0" width="36.2" height="14.1" fill="#dbd5d1" stroke="#1a1a1a" stroke-width="0.7"/>
<text x="192.6" y="770.0" font-size="8.3" text-anchor="middle">0.52</text>
<rect x="210.7" y="760.0" width="36.0" height="14.1" fill="#f4a468" stroke="#1a1a1a" stroke-width="0.7"/>
<text x="228.7" y="770.0" font-size="8.3" text-anchor="middle">0.92</text>
<rect x="246.7" y="760.0" width="36.8" height="14.1" fill="#ef8733" stroke="#1a1a1a" stroke-width="0.7"/>
<text x="265.1" y="770.0" font-size="8.3" text-anchor="middle">1.15</text>
<text x="68.8" y="784.3" font-size="8.35" text-anchor="end">Epithelial cell</text>
<rect x="71.7" y="774.2" width="40.8" height="14.1" fill="#ef8733" stroke="#1a1a1a" stroke-width="0.7"/>
<text x="92.1" y="784.2" font-size="8.3" text-anchor="middle">1.35</text>
<rect x="112.5" y="774.2" width="40.4" height="14.1" fill="#d0d1d1" stroke="#1a1a1a" stroke-width="0.7"/>
<text x="132.7" y="784.2" font-size="8.3" text-anchor="middle">0.04</text>
<rect x="174.5" y="774.2" width="36.2" height="14.1" fill="#ef8733" stroke="#1a1a1a" stroke-width="0.7"/>
<text x="192.6" y="784.2" font-size="8.3" text-anchor="middle">1.36</text>
<rect x="210.7" y="774.2" width="36.0" height="14.1" fill="#ef8733" stroke="#1a1a1a" stroke-width="0.7"/>
<text x="228.7" y="784.2" font-size="8.3" text-anchor="middle">1.23</text>
<rect x="246.7" y="774.2" width="36.8" height="14.1" fill="#e1d7cf" stroke="#1a1a1a" stroke-width="0.7"/>
<text x="265.1" y="784.2" font-size="8.3" text-anchor="middle">0.77</text>
<text x="68.8" y="798.4" font-size="8.35" text-anchor="end">Fibroblast</text>
<rect x="71.7" y="788.3" width="40.8" height="14.1" fill="#ef8733" stroke="#1a1a1a" stroke-width="0.7"/>
<text x="92.1" y="798.3" font-size="8.3" text-anchor="middle">1.33</text>
<rect x="112.5" y="788.3" width="40.4" height="14.1" fill="#d0d1d1" stroke="#1a1a1a" stroke-width="0.7"/>
<text x="132.7" y="798.3" font-size="8.3" text-anchor="middle">0.11</text>
<rect x="174.5" y="788.3" width="36.2" height="14.1" fill="#ef8733" stroke="#1a1a1a" stroke-width="0.7"/>
<text x="192.6" y="798.3" font-size="8.3" text-anchor="middle">2.00</text>
<rect x="210.7" y="788.3" width="36.0" height="14.1" fill="#f4a468" stroke="#1a1a1a" stroke-width="0.7"/>
<text x="228.7" y="798.3" font-size="8.3" text-anchor="middle">0.84</text>
<rect x="246.7" y="788.3" width="36.8" height="14.1" fill="#f4a468" stroke="#1a1a1a" stroke-width="0.7"/>
<text x="265.1" y="798.3" font-size="8.3" text-anchor="middle">0.88</text>
<text x="68.8" y="812.5" font-size="8.35" text-anchor="end">CAF</text>
<rect x="71.7" y="802.4" width="40.8" height="14.1" fill="#ef8733" stroke="#1a1a1a" stroke-width="0.7"/>
<text x="92.1" y="812.4" font-size="8.3" text-anchor="middle">1.35</text>
<rect x="112.5" y="802.4" width="40.4" height="14.1" fill="#d0d1d1" stroke="#1a1a1a" stroke-width="0.7"/>
<text x="132.7" y="812.4" font-size="8.3" text-anchor="middle">0.06</text>
<rect x="174.5" y="802.4" width="36.2" height="14.1" fill="#e1d7cf" stroke="#1a1a1a" stroke-width="0.7"/>
<text x="192.6" y="812.4" font-size="8.3" text-anchor="middle">0.79</text>
<rect x="210.7" y="802.4" width="36.0" height="14.1" fill="#dbd5d1" stroke="#1a1a1a" stroke-width="0.7"/>
<text x="228.7" y="812.4" font-size="8.3" text-anchor="middle">0.38</text>
<rect x="246.7" y="802.4" width="36.8" height="14.1" fill="#ef8733" stroke="#1a1a1a" stroke-width="0.7"/>
<text x="265.1" y="812.4" font-size="8.3" text-anchor="middle">1.46</text>
<text x="68.8" y="826.7" font-size="8.35" text-anchor="end">Mesothelial cell</text>
<rect x="71.7" y="816.6" width="40.8" height="14.1" fill="#e1d7cf" stroke="#1a1a1a" stroke-width="0.7"/>
<text x="92.1" y="826.6" font-size="8.3" text-anchor="middle">0.64</text>
<rect x="112.5" y="816.6" width="40.4" height="14.1" fill="#ef8733" stroke="#1a1a1a" stroke-width="0.7"/>
<text x="132.7" y="826.6" font-size="8.3" text-anchor="middle">1.98</text>
<rect x="174.5" y="816.6" width="36.2" height="14.1" fill="#dbd5d1" stroke="#1a1a1a" stroke-width="0.7"/>
<text x="192.6" y="826.6" font-size="8.3" text-anchor="middle">0.43</text>
<rect x="210.7" y="816.6" width="36.0" height="14.1" fill="#dbd5d1" stroke="#1a1a1a" stroke-width="0.7"/>
<text x="228.7" y="826.6" font-size="8.3" text-anchor="middle">0.41</text>
<rect x="246.7" y="816.6" width="36.8" height="14.1" fill="#ef8733" stroke="#1a1a1a" stroke-width="0.7"/>
<text x="265.1" y="826.6" font-size="8.3" text-anchor="middle">1.51</text>
<text x="68.8" y="840.8" font-size="8.35" text-anchor="end">SMC/Pericyte</text>
<rect x="71.7" y="830.7" width="40.8" height="14.1" fill="#ef8733" stroke="#1a1a1a" stroke-width="0.7"/>
<text x="92.1" y="840.7" font-size="8.3" text-anchor="middle">1.36</text>
<rect x="112.5" y="830.7" width="40.4" height="14.1" fill="#d0d1d1" stroke="#1a1a1a" stroke-width="0.7"/>
<text x="132.7" y="840.7" font-size="8.3" text-anchor="middle">0.02</text>
<rect x="174.5" y="830.7" width="36.2" height="14.1" fill="#f4a468" stroke="#1a1a1a" stroke-width="0.7"/>
<text x="192.6" y="840.7" font-size="8.3" text-anchor="middle">0.93</text>
<rect x="210.7" y="830.7" width="36.0" height="14.1" fill="#ef8733" stroke="#1a1a1a" stroke-width="0.7"/>
<text x="228.7" y="840.7" font-size="8.3" text-anchor="middle">1.15</text>
<rect x="246.7" y="830.7" width="36.8" height="14.1" fill="#f4a468" stroke="#1a1a1a" stroke-width="0.7"/>
<text x="265.1" y="840.7" font-size="8.3" text-anchor="middle">0.92</text>
<text x="68.8" y="855.0" font-size="8.35" text-anchor="end">Endothelial cell</text>
<rect x="71.7" y="844.9" width="40.8" height="14.1" fill="#ef8733" stroke="#1a1a1a" stroke-width="0.7"/>
<text x="92.1" y="854.9" font-size="8.3" text-anchor="middle">1.37</text>
<rect x="112.5" y="844.9" width="40.4" height="14.1" fill="#d0d1d1" stroke="#1a1a1a" stroke-width="0.7"/>
<text x="132.7" y="854.9" font-size="8.3" text-anchor="middle">0.00</text>
<rect x="174.5" y="844.9" width="36.2" height="14.1" fill="#ef8733" stroke="#1a1a1a" stroke-width="0.7"/>
<text x="192.6" y="854.9" font-size="8.3" text-anchor="middle">1.11</text>
<rect x="210.7" y="844.9" width="36.0" height="14.1" fill="#ef8733" stroke="#1a1a1a" stroke-width="0.7"/>
<text x="228.7" y="854.9" font-size="8.3" text-anchor="middle">1.37</text>
<rect x="246.7" y="844.9" width="36.8" height="14.1" fill="#e1d7cf" stroke="#1a1a1a" stroke-width="0.7"/>
<text x="265.1" y="854.9" font-size="8.3" text-anchor="middle">0.73</text>
<rect x="71.7" y="717.6" width="81.2" height="141.4" fill="none" stroke="#777" stroke-width="0.9"/>
<rect x="174.5" y="717.6" width="109.0" height="141.4" fill="none" stroke="#777" stroke-width="0.9"/>
<text x="94.6" y="865.6" font-size="8.35" text-anchor="end" transform="rotate(-30 94.6 865.6)">Solid sites</text>
<text x="135.2" y="865.6" font-size="8.35" text-anchor="end" transform="rotate(-30 135.2 865.6)">Fluid sites</text>
<text x="195.1" y="869.0" font-size="8.35" text-anchor="end" transform="rotate(-30 195.1 869.0)">EAT</text>
<text x="231.2" y="869.0" font-size="8.35" text-anchor="end" transform="rotate(-30 231.2 869.0)">LAT</text>
<text x="267.6" y="869.0" font-size="8.35" text-anchor="end" transform="rotate(-30 267.6 869.0)">Met</text>
<defs><linearGradient id="rg" x1="0" y1="0" x2="0" y2="1"><stop offset="0" stop-color="#ef8733"/><stop offset="0.3" stop-color="#f19246"/><stop offset="0.42" stop-color="#f6b98c"/><stop offset="0.47" stop-color="#e8d8cc"/><stop offset="0.52" stop-color="#d2d2d2"/><stop offset="1" stop-color="#d0d1d1"/></linearGradient></defs>
<rect x="285.3" y="818.8" width="8.2" height="40.7" fill="url(#rg)"/>
<text x="286.4" y="809.0" font-size="8.35" font-weight="bold">R</text>
<text x="292.3" y="811.2" font-size="4.8" font-weight="bold">o/e</text>
<text x="294.8" y="821.3" font-size="8.35">Max</text>
<text x="294.8" y="860.3" font-size="8.35">0</text>
<text x="327.6" y="724.6" font-size="17.5" font-weight="bold">f</text>
<rect x="351.3" y="717.3" width="244.5" height="147.2" fill="#fff" stroke="#4d4d4d" stroke-width="0.8"/>
<line x1="391.8" y1="717.3" x2="391.8" y2="864.5" stroke="#4d4d4d" stroke-width="0.8"/>
<line x1="351.3" y1="780.4" x2="391.8" y2="780.4" stroke="#4d4d4d" stroke-width="0.8"/>
<line x1="351.3" y1="823.0" x2="391.8" y2="823.0" stroke="#4d4d4d" stroke-width="0.8"/>
<text x="388.4" y="732.7" font-size="8.35" text-anchor="end">Met</text>
<line x1="389.8" y1="729.7" x2="391.8" y2="729.7" stroke="#333" stroke-width="0.6"/>
<rect x="401.5" y="722.6" width="31.8" height="14.2" fill="#fdd95a" stroke="#2a2a2a" stroke-width="0.45"/>
<rect x="433.3" y="722.6" width="5.4" height="14.2" fill="#fef6a8" stroke="#2a2a2a" stroke-width="0.45"/>
<rect x="438.6" y="722.6" width="7.6" height="14.2" fill="#a5cf5a" stroke="#2a2a2a" stroke-width="0.45"/>
<rect x="446.2" y="722.6" width="53.9" height="14.2" fill="#f0883a" stroke="#2a2a2a" stroke-width="0.45"/>
<rect x="500.1" y="722.6" width="43.8" height="14.2" fill="#9fc9e0" stroke="#2a2a2a" stroke-width="0.45"/>
<rect x="543.8" y="722.6" width="6.8" height="14.2" fill="#ddcbcd" stroke="#2a2a2a" stroke-width="0.45"/>
<rect x="550.7" y="722.6" width="25.1" height="14.2" fill="#c4bbd6" stroke="#2a2a2a" stroke-width="0.45"/>
<rect x="575.8" y="722.6" width="1.7" height="14.2" fill="#e8e0f6" stroke="#2a2a2a" stroke-width="0.45"/>
<rect x="577.4" y="722.6" width="5.7" height="14.2" fill="#dcd5d6" stroke="#2a2a2a" stroke-width="0.45"/>
<rect x="583.1" y="722.6" width="3.0" height="14.2" fill="#5cb594" stroke="#2a2a2a" stroke-width="0.45"/>
<rect x="401.5" y="722.6" width="184.6" height="14.2" fill="none" stroke="#555" stroke-width="0.5"/>
<text x="388.4" y="753.3" font-size="8.35" text-anchor="end">LAT</text>
<line x1="389.8" y1="750.3" x2="391.8" y2="750.3" stroke="#333" stroke-width="0.6"/>
<rect x="401.5" y="743.2" width="26.6" height="14.2" fill="#fdd95a" stroke="#2a2a2a" stroke-width="0.45"/>
<rect x="428.1" y="743.2" width="6.1" height="14.2" fill="#fef6a8" stroke="#2a2a2a" stroke-width="0.45"/>
<rect x="434.2" y="743.2" width="11.3" height="14.2" fill="#a5cf5a" stroke="#2a2a2a" stroke-width="0.45"/>
<rect x="445.4" y="743.2" width="43.2" height="14.2" fill="#f0883a" stroke="#2a2a2a" stroke-width="0.45"/>
<rect x="488.6" y="743.2" width="70.7" height="14.2" fill="#9fc9e0" stroke="#2a2a2a" stroke-width="0.45"/>
<rect x="559.3" y="743.2" width="6.3" height="14.2" fill="#ddcbcd" stroke="#2a2a2a" stroke-width="0.45"/>
<rect x="565.6" y="743.2" width="6.6" height="14.2" fill="#c4bbd6" stroke="#2a2a2a" stroke-width="0.45"/>
<rect x="572.3" y="743.2" width="0.9" height="14.2" fill="#e8e0f6" stroke="#2a2a2a" stroke-width="0.45"/>
<rect x="573.2" y="743.2" width="7.4" height="14.2" fill="#dcd5d6" stroke="#2a2a2a" stroke-width="0.45"/>
<rect x="580.6" y="743.2" width="5.5" height="14.2" fill="#5cb594" stroke="#2a2a2a" stroke-width="0.45"/>
<rect x="401.5" y="743.2" width="184.6" height="14.2" fill="none" stroke="#555" stroke-width="0.5"/>
<text x="388.4" y="774.0" font-size="8.35" text-anchor="end">EAT</text>
<line x1="389.8" y1="771.0" x2="391.8" y2="771.0" stroke="#333" stroke-width="0.6"/>
<rect x="401.5" y="763.9" width="27.9" height="14.2" fill="#fdd95a" stroke="#2a2a2a" stroke-width="0.45"/>
<rect x="429.4" y="763.9" width="13.8" height="14.2" fill="#fef6a8" stroke="#2a2a2a" stroke-width="0.45"/>
<rect x="443.2" y="763.9" width="0.6" height="14.2" fill="#a5cf5a" stroke="#2a2a2a" stroke-width="0.45"/>
<rect x="443.8" y="763.9" width="24.2" height="14.2" fill="#f0883a" stroke="#2a2a2a" stroke-width="0.45"/>
<rect x="468.0" y="763.9" width="77.9" height="14.2" fill="#9fc9e0" stroke="#2a2a2a" stroke-width="0.45"/>
<rect x="545.9" y="763.9" width="15.7" height="14.2" fill="#ddcbcd" stroke="#2a2a2a" stroke-width="0.45"/>
<rect x="561.5" y="763.9" width="13.1" height="14.2" fill="#c4bbd6" stroke="#2a2a2a" stroke-width="0.45"/>
<rect x="574.7" y="763.9" width="1.3" height="14.2" fill="#e8e0f6" stroke="#2a2a2a" stroke-width="0.45"/>
<rect x="575.9" y="763.9" width="5.9" height="14.2" fill="#dcd5d6" stroke="#2a2a2a" stroke-width="0.45"/>
<rect x="581.9" y="763.9" width="4.2" height="14.2" fill="#5cb594" stroke="#2a2a2a" stroke-width="0.45"/>
<rect x="401.5" y="763.9" width="184.6" height="14.2" fill="none" stroke="#555" stroke-width="0.5"/>
<text x="388.4" y="794.6" font-size="8.35" text-anchor="end">Ascites</text>
<line x1="389.8" y1="791.6" x2="391.8" y2="791.6" stroke="#333" stroke-width="0.6"/>
<rect x="401.5" y="784.5" width="57.0" height="14.2" fill="#fdd95a" stroke="#2a2a2a" stroke-width="0.45"/>
<rect x="458.5" y="784.5" width="14.0" height="14.2" fill="#fef6a8" stroke="#2a2a2a" stroke-width="0.45"/>
<rect x="472.6" y="784.5" width="5.0" height="14.2" fill="#a5cf5a" stroke="#2a2a2a" stroke-width="0.45"/>
<rect x="477.6" y="784.5" width="100.8" height="14.2" fill="#f0883a" stroke="#2a2a2a" stroke-width="0.45"/>
<rect x="578.3" y="784.5" width="1.5" height="14.2" fill="#9fc9e0" stroke="#2a2a2a" stroke-width="0.45"/>
<rect x="579.8" y="784.5" width="0.7" height="14.2" fill="#ddcbcd" stroke="#2a2a2a" stroke-width="0.45"/>
<rect x="580.6" y="784.5" width="1.5" height="14.2" fill="#c4bbd6" stroke="#2a2a2a" stroke-width="0.45"/>
<rect x="582.0" y="784.5" width="3.1" height="14.2" fill="#e8e0f6" stroke="#2a2a2a" stroke-width="0.45"/>
<rect x="585.2" y="784.5" width="0.7" height="14.2" fill="#dcd5d6" stroke="#2a2a2a" stroke-width="0.45"/>
<rect x="585.9" y="784.5" width="0.2" height="14.2" fill="#5cb594" stroke="#2a2a2a" stroke-width="0.45"/>
<rect x="401.5" y="784.5" width="184.6" height="14.2" fill="none" stroke="#555" stroke-width="0.5"/>
<text x="388.4" y="815.2" font-size="8.35" text-anchor="end">PLF.EOT</text>
<line x1="389.8" y1="812.2" x2="391.8" y2="812.2" stroke="#333" stroke-width="0.6"/>
<rect x="401.5" y="805.1" width="68.1" height="14.2" fill="#fdd95a" stroke="#2a2a2a" stroke-width="0.45"/>
<rect x="469.6" y="805.1" width="16.6" height="14.2" fill="#fef6a8" stroke="#2a2a2a" stroke-width="0.45"/>
<rect x="486.2" y="805.1" width="1.5" height="14.2" fill="#a5cf5a" stroke="#2a2a2a" stroke-width="0.45"/>
<rect x="487.7" y="805.1" width="95.6" height="14.2" fill="#f0883a" stroke="#2a2a2a" stroke-width="0.45"/>
<rect x="583.3" y="805.1" width="0.2" height="14.2" fill="#9fc9e0" stroke="#2a2a2a" stroke-width="0.45"/>
<rect x="583.5" y="805.1" width="0.2" height="14.2" fill="#ddcbcd" stroke="#2a2a2a" stroke-width="0.45"/>
<rect x="583.7" y="805.1" width="0.2" height="14.2" fill="#c4bbd6" stroke="#2a2a2a" stroke-width="0.45"/>
<rect x="583.9" y="805.1" width="1.8" height="14.2" fill="#e8e0f6" stroke="#2a2a2a" stroke-width="0.45"/>
<rect x="585.7" y="805.1" width="0.2" height="14.2" fill="#dcd5d6" stroke="#2a2a2a" stroke-width="0.45"/>
<rect x="585.9" y="805.1" width="0.2" height="14.2" fill="#5cb594" stroke="#2a2a2a" stroke-width="0.45"/>
<rect x="401.5" y="805.1" width="184.6" height="14.2" fill="none" stroke="#555" stroke-width="0.5"/>
<text x="388.4" y="835.9" font-size="8.35" text-anchor="end">PLF.UF</text>
<line x1="389.8" y1="832.9" x2="391.8" y2="832.9" stroke="#333" stroke-width="0.6"/>
<rect x="401.5" y="825.8" width="47.1" height="14.2" fill="#fdd95a" stroke="#2a2a2a" stroke-width="0.45"/>
<rect x="448.6" y="825.8" width="11.1" height="14.2" fill="#fef6a8" stroke="#2a2a2a" stroke-width="0.45"/>
<rect x="459.6" y="825.8" width="0.9" height="14.2" fill="#a5cf5a" stroke="#2a2a2a" stroke-width="0.45"/>
<rect x="460.6" y="825.8" width="124.2" height="14.2" fill="#f0883a" stroke="#2a2a2a" stroke-width="0.45"/>
<rect x="584.8" y="825.8" width="0.2" height="14.2" fill="#9fc9e0" stroke="#2a2a2a" stroke-width="0.45"/>
<rect x="585.0" y="825.8" width="0.2" height="14.2" fill="#ddcbcd" stroke="#2a2a2a" stroke-width="0.45"/>
<rect x="585.2" y="825.8" width="0.2" height="14.2" fill="#c4bbd6" stroke="#2a2a2a" stroke-width="0.45"/>
<rect x="585.4" y="825.8" width="0.2" height="14.2" fill="#e8e0f6" stroke="#2a2a2a" stroke-width="0.45"/>
<rect x="585.5" y="825.8" width="0.4" height="14.2" fill="#dcd5d6" stroke="#2a2a2a" stroke-width="0.45"/>
<rect x="585.9" y="825.8" width="0.2" height="14.2" fill="#5cb594" stroke="#2a2a2a" stroke-width="0.45"/>
<rect x="401.5" y="825.8" width="184.6" height="14.2" fill="none" stroke="#555" stroke-width="0.5"/>
<text x="388.4" y="856.5" font-size="8.35" text-anchor="end">Nor.Ovr</text>
<line x1="389.8" y1="853.5" x2="391.8" y2="853.5" stroke="#333" stroke-width="0.6"/>
<rect x="401.5" y="846.4" width="0.6" height="14.2" fill="#fdd95a" stroke="#2a2a2a" stroke-width="0.45"/>
<rect x="402.1" y="846.4" width="101.5" height="14.2" fill="#ddcbcd" stroke="#2a2a2a" stroke-width="0.45"/>
<rect x="503.6" y="846.4" width="5.9" height="14.2" fill="#c4bbd6" stroke="#2a2a2a" stroke-width="0.45"/>
<rect x="509.5" y="846.4" width="0.2" height="14.2" fill="#e8e0f6" stroke="#2a2a2a" stroke-width="0.45"/>
<rect x="509.7" y="846.4" width="65.5" height="14.2" fill="#dcd5d6" stroke="#2a2a2a" stroke-width="0.45"/>
<rect x="575.2" y="846.4" width="10.9" height="14.2" fill="#5cb594" stroke="#2a2a2a" stroke-width="0.45"/>
<rect x="401.5" y="846.4" width="184.6" height="14.2" fill="none" stroke="#555" stroke-width="0.5"/>
<text x="401.5" y="874.2" font-size="8.35" text-anchor="middle" fill="#222">0.00</text>
<line x1="401.5" y1="864.5" x2="401.5" y2="866.6" stroke="#333" stroke-width="0.6"/>
<text x="447.6" y="874.2" font-size="8.35" text-anchor="middle" fill="#222">0.25</text>
<line x1="447.6" y1="864.5" x2="447.6" y2="866.6" stroke="#333" stroke-width="0.6"/>
<text x="493.8" y="874.2" font-size="8.35" text-anchor="middle" fill="#222">0.50</text>
<line x1="493.8" y1="864.5" x2="493.8" y2="866.6" stroke="#333" stroke-width="0.6"/>
<text x="539.9" y="874.2" font-size="8.35" text-anchor="middle" fill="#222">0.75</text>
<line x1="539.9" y1="864.5" x2="539.9" y2="866.6" stroke="#333" stroke-width="0.6"/>
<text x="586.1" y="874.2" font-size="8.35" text-anchor="middle" fill="#222">1.00</text>
<line x1="586.1" y1="864.5" x2="586.1" y2="866.6" stroke="#333" stroke-width="0.6"/>
<rect x="607.4" y="755.4" width="9.2" height="8.6" fill="#fdd95a" stroke="#333" stroke-width="0.6"/>
<text x="621.3" y="762.6" font-size="8.35">T cell</text>
<rect x="607.4" y="764.4" width="9.2" height="8.6" fill="#fef6a8" stroke="#333" stroke-width="0.6"/>
<text x="621.3" y="771.6" font-size="8.35">NK cell</text>
<rect x="607.4" y="773.5" width="9.2" height="8.6" fill="#a5cf5a" stroke="#333" stroke-width="0.6"/>
<text x="621.3" y="780.7" font-size="8.35">B/Plasma cell</text>
<rect x="607.4" y="782.5" width="9.2" height="8.6" fill="#f0883a" stroke="#333" stroke-width="0.6"/>
<text x="621.3" y="789.7" font-size="8.35">Myeloid cell</text>
<rect x="607.4" y="791.6" width="9.2" height="8.6" fill="#9fc9e0" stroke="#333" stroke-width="0.6"/>
<text x="621.3" y="798.8" font-size="8.35">Epithelial cell</text>
<rect x="607.4" y="800.6" width="9.2" height="8.6" fill="#ddcbcd" stroke="#333" stroke-width="0.6"/>
<text x="621.3" y="807.8" font-size="8.35">Fibroblast</text>
<rect x="607.4" y="809.6" width="9.2" height="8.6" fill="#c4bbd6" stroke="#333" stroke-width="0.6"/>
<text x="621.3" y="816.8" font-size="8.35">CAF</text>
<rect x="607.4" y="818.7" width="9.2" height="8.6" fill="#e8e0f6" stroke="#333" stroke-width="0.6"/>
<text x="621.3" y="825.9" font-size="8.35">Mesothelial cell</text>
<rect x="607.4" y="827.7" width="9.2" height="8.6" fill="#dcd5d6" stroke="#333" stroke-width="0.6"/>
<text x="621.3" y="834.9" font-size="8.35">SMC/Pericyte</text>
<rect x="607.4" y="836.8" width="9.2" height="8.6" fill="#5cb594" stroke="#333" stroke-width="0.6"/>
<text x="621.3" y="844.0" font-size="8.35">Endothelial cell</text>
</svg>
</body></html>
